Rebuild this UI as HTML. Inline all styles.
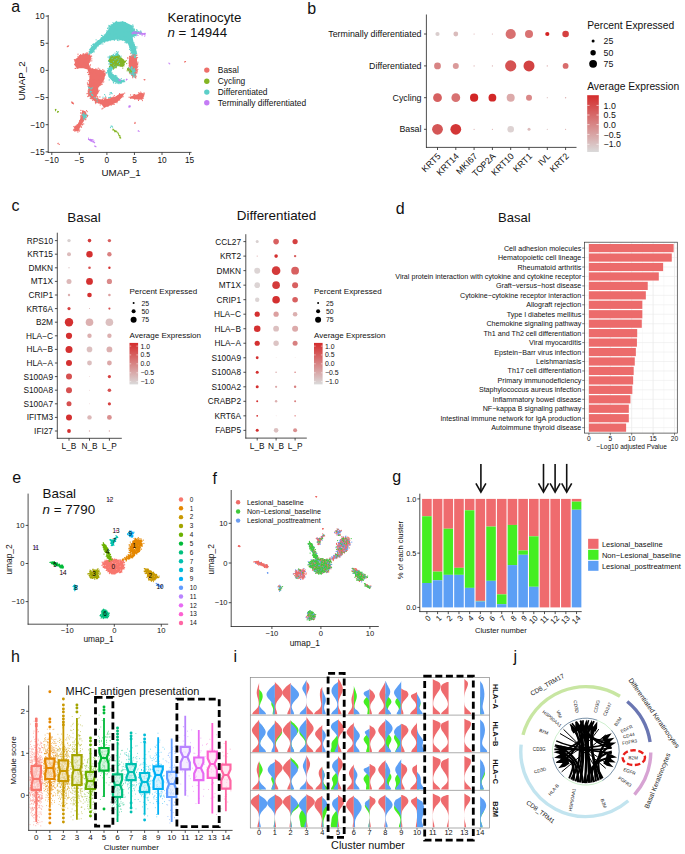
<!DOCTYPE html>
<html><head><meta charset="utf-8"><style>
html,body{margin:0;padding:0;background:#fff;width:685px;height:854px;overflow:hidden}
svg{display:block;font-family:"Liberation Sans",sans-serif}
</style></head><body>
<svg width="685" height="854" viewBox="0 0 685 854" fill="#111">
<text x="11.2" y="11.6" font-size="16">a</text>
<line x1="48.2" y1="15" x2="48.2" y2="152.8" stroke="#222" stroke-width="0.8"/>
<line x1="47.8" y1="152.4" x2="191.5" y2="152.4" stroke="#222" stroke-width="0.8"/>
<line x1="45.6" y1="16.1" x2="48.2" y2="16.1" stroke="#222" stroke-width="0.8"/>
<text x="44.5" y="19" font-size="8.3" text-anchor="end">10</text>
<line x1="45.6" y1="43.25" x2="48.2" y2="43.25" stroke="#222" stroke-width="0.8"/>
<text x="44.5" y="46.15" font-size="8.3" text-anchor="end">5</text>
<line x1="45.6" y1="70.4" x2="48.2" y2="70.4" stroke="#222" stroke-width="0.8"/>
<text x="44.5" y="73.3" font-size="8.3" text-anchor="end">0</text>
<line x1="45.6" y1="97.55" x2="48.2" y2="97.55" stroke="#222" stroke-width="0.8"/>
<text x="44.5" y="100.45" font-size="8.3" text-anchor="end">−5</text>
<line x1="45.6" y1="124.7" x2="48.2" y2="124.7" stroke="#222" stroke-width="0.8"/>
<text x="44.5" y="127.6" font-size="8.3" text-anchor="end">−10</text>
<line x1="45.6" y1="151.85" x2="48.2" y2="151.85" stroke="#222" stroke-width="0.8"/>
<text x="44.5" y="154.75" font-size="8.3" text-anchor="end">−15</text>
<line x1="51.8" y1="152.4" x2="51.8" y2="155" stroke="#222" stroke-width="0.8"/>
<text x="51.8" y="163" font-size="8.3" text-anchor="middle">−10</text>
<line x1="79.35" y1="152.4" x2="79.35" y2="155" stroke="#222" stroke-width="0.8"/>
<text x="79.35" y="163" font-size="8.3" text-anchor="middle">−5</text>
<line x1="106.9" y1="152.4" x2="106.9" y2="155" stroke="#222" stroke-width="0.8"/>
<text x="106.9" y="163" font-size="8.3" text-anchor="middle">0</text>
<line x1="134.45" y1="152.4" x2="134.45" y2="155" stroke="#222" stroke-width="0.8"/>
<text x="134.45" y="163" font-size="8.3" text-anchor="middle">5</text>
<line x1="162" y1="152.4" x2="162" y2="155" stroke="#222" stroke-width="0.8"/>
<text x="162" y="163" font-size="8.3" text-anchor="middle">10</text>
<line x1="189.55" y1="152.4" x2="189.55" y2="155" stroke="#222" stroke-width="0.8"/>
<text x="189.55" y="163" font-size="8.3" text-anchor="middle">15</text>
<text x="121" y="176" font-size="9.8" text-anchor="middle">UMAP_1</text>
<text x="24.5" y="81" font-size="9.8" text-anchor="middle" transform="rotate(-90 24.5 81)">UMAP_2</text>
<text x="167.5" y="21.5" font-size="13.3">Keratinocyte</text>
<text x="167.5" y="37.4" font-size="13.3"><tspan font-style="italic">n</tspan> = 14944</text>
<circle cx="206.8" cy="70.1" r="2.7" fill="#ee6f6a"/>
<text x="217.8" y="73.1" font-size="8.4">Basal</text>
<circle cx="206.8" cy="81.3" r="2.7" fill="#84b523"/>
<text x="217.8" y="84.3" font-size="8.4">Cycling</text>
<circle cx="206.8" cy="92.1" r="2.7" fill="#5ccfc8"/>
<text x="217.8" y="95.1" font-size="8.4">Differentiated</text>
<circle cx="206.8" cy="102.8" r="2.7" fill="#c47cf5"/>
<text x="217.8" y="105.8" font-size="8.4">Terminally differentiated</text>
<path d="M75.7 59.3L80.0 54.9L87.7 53.4L91.4 56.4L88.8 63.6L89.9 68.0L94.3 69.1L101.9 70.2L105.4 73.9L104.1 80.1L100.8 84.5L97.6 88.4L94.3 91.0L90.5 88.8L88.8 82.3L89.9 75.7L87.7 69.6L83.3 68.2L76.8 68.2L74.3 64.7ZM88.8 90.6L92.1 95.0L97.6 98.7L103.0 99.8L108.5 98.7L115.1 96.7L119.5 93.9L124.3 93.2L122.1 97.6L117.3 102.0L110.7 105.3L104.1 107.7L101.5 104.6L95.4 102.0L91.0 98.0L87.9 94.3ZM130.4 96.5L137.0 94.5L141.3 92.6L144.0 94.1L142.7 98.7L139.2 99.8L132.6 98.7L129.3 98.0ZM129.3 55.9L134.8 54.7L136.6 57.1L137.4 64.6L135.9 76.3L132.3 77.1L130.1 70.5L128.6 63.2ZM88.5 83.6L96.5 83.6L98.7 90.9L95.8 96.8L91.4 98.2L88.5 92.4ZM82.2 110.3L85.5 111.2L87.0 115.1L83.5 121.7L80.5 126.1L78.3 131.5L74.8 130.9L74.1 127.4L77.8 123.9L81.1 117.3Z" fill="#ee6f6a"/>
<path d="M109.6 26.4L115.1 22.0L123.8 21.4L131.5 25.3L134.8 30.8L141.3 31.9L137.0 34.5L132.6 37.4L133.7 42.8L135.9 48.3L137.0 53.8L134.8 57.1L132.2 53.8L130.0 49.0L127.8 43.3L123.8 40.7L117.3 39.6L108.5 40.7L102.4 42.8L98.0 46.1L94.5 50.5L91.0 54.2L88.8 52.0L91.0 47.2L95.4 42.8L101.9 37.4L107.4 31.9ZM108.5 56.4L114.6 54.9L117.3 52.0L120.5 57.1L117.7 64.7L113.3 67.4L111.1 72.4L114.6 75.3L120.5 79.6L124.9 81.2L119.9 83.4L112.9 81.4L108.5 77.0L107.2 71.3L109.8 64.7ZM128.2 68.7L132.6 67.4L135.2 71.3L133.7 75.3L130.0 73.9ZM83.3 114.0L86.2 114.7L84.4 119.5L82.7 119.1Z" fill="#5ccfc8"/>
<path d="M110.7 57.1L119.5 55.5L125.6 61.7L122.7 66.9L117.3 66.1L114.0 69.1L110.7 65.2L109.4 60.4ZM126.9 68.2L130.8 68.7L131.7 71.8L128.2 71.3Z" fill="#84b523"/>
<path d="M132.2 31.9L139.2 32.6L145.3 33.6L144.9 35.0L139.2 34.1L132.6 33.6Z" fill="#c47cf5"/>
<path d="M77.5 64.2h0M100.3 73.5h0M93.2 72.2h0M93.5 79.6h0M80.6 55.5h0M102.8 71.1h0M85.5 59.8h0M90.2 73.3h0M80.0 57.8h0M92.2 72.9h0M101.5 80.4h0M89.7 72.4h0M86.5 58.2h0M99.9 73.6h0M81.0 66.3h0M100.0 85.4h0M90.5 56.1h0M103.7 76.6h0M91.0 88.0h0M90.8 69.6h0M104.0 73.0h0M78.1 58.6h0M83.6 62.7h0M100.1 76.1h0M93.3 71.2h0M91.5 72.7h0M79.5 55.6h0M78.2 61.7h0M78.9 66.4h0M93.7 85.0h0M97.3 81.0h0M98.9 80.0h0M97.4 75.4h0M92.3 68.5h0M88.4 70.4h0M86.4 64.9h0M90.0 70.3h0M92.4 71.8h0M90.3 72.6h0M95.6 73.3h0M92.5 86.4h0M91.0 84.3h0M90.6 57.2h0M78.9 64.3h0M79.9 59.9h0M74.7 64.5h0M89.8 74.6h0M92.3 69.0h0M76.9 59.7h0M93.4 83.8h0M80.1 63.8h0M88.9 68.1h0M92.1 89.7h0M91.8 60.8h0M87.5 72.3h0M89.3 76.0h0M75.1 68.3h0M89.3 60.5h0M90.5 58.8h0M105.3 74.9h0M87.6 53.9h0M75.9 68.4h0M80.6 54.5h0M99.7 70.0h0M88.9 74.4h0M89.4 55.4h0M74.9 60.2h0M85.9 53.4h0M89.4 62.2h0M104.0 70.4h0M85.6 54.6h0M96.9 69.3h0M77.6 68.2h0M104.9 73.4h0M90.4 60.9h0M95.4 70.4h0M91.7 56.1h0M103.8 78.5h0M88.3 80.7h0M100.9 84.7h0M79.4 57.7h0M89.9 67.7h0M101.0 84.2h0M89.9 65.8h0M91.8 58.8h0M87.4 64.9h0M90.4 78.5h0M83.3 54.4h0M91.4 88.9h0M99.7 69.0h0M90.5 59.6h0M96.7 89.6h0M82.4 67.0h0M75.9 60.3h0M89.8 56.1h0M75.0 61.4h0M89.0 53.1h0M89.8 86.9h0M91.3 89.3h0M89.0 72.3h0M76.2 59.1h0M75.6 59.8h0M90.0 79.4h0M89.9 83.1h0M98.2 68.2h0M90.5 64.8h0M102.8 69.7h0M89.7 82.7h0M105.2 72.9h0M100.3 70.3h0M82.8 54.1h0M90.4 87.1h0M103.8 81.8h0M102.8 82.1h0M93.7 69.4h0M90.5 68.0h0M92.7 90.7h0M102.6 79.6h0M93.0 70.5h0M83.8 53.7h0M88.4 74.6h0M87.0 52.5h0M104.8 71.6h0M81.1 55.4h0M91.4 56.2h0M89.7 54.4h0M80.8 55.5h0M94.9 69.5h0M76.0 63.5h0M78.0 54.2h0M102.2 84.2h0M102.9 71.8h0M75.6 63.3h0M97.7 88.7h0M89.9 61.0h0M75.3 60.1h0M89.7 66.5h0M88.9 71.5h0M90.1 77.3h0M91.3 69.6h0M89.3 68.8h0M95.8 68.8h0M74.4 59.7h0M89.0 72.9h0M77.9 68.3h0M85.8 54.7h0M78.0 56.3h0M103.6 71.6h0M74.9 60.5h0M91.2 85.4h0M88.3 69.9h0M88.4 63.2h0M100.9 70.9h0M93.9 88.8h0M86.7 54.3h0M101.2 84.0h0M90.2 96.3h0M110.9 104.6h0M105.3 101.9h0M107.1 100.3h0M119.6 95.1h0M96.9 98.9h0M106.8 100.8h0M119.2 99.5h0M118.5 97.9h0M108.7 104.2h0M90.0 94.7h0M98.3 102.9h0M115.7 102.1h0M101.9 103.0h0M104.0 104.8h0M88.7 92.3h0M107.8 101.7h0M93.8 98.8h0M89.4 93.3h0M89.3 93.7h0M109.5 99.4h0M115.9 101.2h0M106.2 101.7h0M118.3 95.3h0M111.7 97.9h0M114.7 97.4h0M113.1 97.4h0M95.5 102.6h0M119.7 100.0h0M89.9 93.0h0M105.6 105.9h0M113.2 97.0h0M91.3 94.3h0M87.8 96.3h0M119.6 93.7h0M124.7 93.0h0M105.4 99.5h0M105.8 98.7h0M117.5 96.4h0M96.6 102.2h0M107.9 106.4h0M91.4 91.8h0M112.7 97.9h0M122.9 96.8h0M92.8 100.2h0M105.0 106.5h0M111.3 105.1h0M119.4 94.9h0M110.7 97.7h0M104.8 99.4h0M90.3 98.4h0M88.6 90.8h0M111.7 98.1h0M95.2 96.7h0M100.2 104.9h0M117.5 100.4h0M117.0 102.7h0M104.7 98.1h0M103.0 108.2h0M88.6 96.1h0M123.0 96.4h0M87.0 93.7h0M102.0 108.9h0M102.4 99.3h0M88.7 92.0h0M123.0 94.6h0M91.2 98.8h0M97.7 96.9h0M98.0 98.3h0M104.6 99.6h0M114.2 104.3h0M121.4 95.0h0M92.5 95.0h0M112.9 104.4h0M89.0 91.6h0M93.9 99.4h0M102.0 100.2h0M119.9 94.4h0M104.2 107.0h0M88.5 95.7h0M97.3 96.5h0M105.9 97.7h0M106.8 99.7h0M95.4 102.5h0M116.9 101.6h0M95.8 103.6h0M114.3 95.5h0M99.9 96.9h0M108.9 98.7h0M91.2 96.2h0M95.7 97.1h0M97.0 98.1h0M113.3 96.9h0M95.6 102.0h0M103.2 98.6h0M88.1 90.9h0M119.7 94.0h0M87.8 96.5h0M93.0 95.9h0M119.9 95.0h0M95.5 96.4h0M92.3 96.2h0M92.6 100.2h0M90.8 95.7h0M106.6 99.7h0M136.5 95.4h0M138.5 96.3h0M139.7 95.7h0M143.3 95.6h0M142.7 94.2h0M141.2 99.3h0M138.8 92.6h0M139.1 93.6h0M138.6 98.8h0M143.4 98.1h0M142.0 98.1h0M138.5 100.4h0M142.2 98.1h0M141.5 98.7h0M142.4 100.5h0M143.8 93.1h0M144.0 94.6h0M130.8 98.4h0M143.7 95.4h0M134.8 94.5h0M142.4 97.5h0M134.6 99.1h0M135.3 98.7h0M133.8 95.9h0M140.7 92.1h0M144.0 94.1h0M129.1 97.2h0M144.3 93.0h0M133.3 94.8h0M143.6 96.5h0M139.8 93.3h0M135.1 94.9h0M134.5 94.6h0M139.4 95.0h0M130.6 94.9h0M134.1 95.7h0M142.2 98.9h0M132.4 62.6h0M132.3 68.9h0M132.2 67.5h0M131.8 69.7h0M134.9 63.1h0M136.9 71.7h0M132.8 64.8h0M132.4 74.7h0M132.9 72.7h0M132.0 55.2h0M135.5 72.0h0M129.5 56.3h0M135.3 65.6h0M132.8 67.7h0M136.1 58.2h0M130.9 60.8h0M129.2 70.2h0M137.9 63.8h0M130.5 68.7h0M135.4 55.6h0M136.1 70.4h0M136.4 66.8h0M131.6 75.2h0M137.3 71.0h0M135.9 70.1h0M136.6 59.8h0M136.1 55.4h0M134.6 73.2h0M137.5 64.7h0M137.2 64.1h0M131.0 70.8h0M132.5 54.9h0M129.9 73.5h0M135.0 77.0h0M131.5 73.0h0M133.3 55.3h0M132.1 74.1h0M135.8 77.9h0M134.8 76.8h0M135.6 77.1h0M136.6 57.9h0M136.3 58.0h0M128.8 69.2h0M130.8 53.6h0M137.9 62.2h0M136.2 76.2h0M127.9 58.5h0M137.1 63.7h0M131.9 73.4h0M129.6 63.0h0M135.6 57.8h0M137.3 67.4h0M137.8 66.2h0M137.1 70.2h0M137.0 55.0h0M134.2 54.7h0M137.0 72.9h0M129.0 65.9h0M136.2 59.1h0M132.7 77.7h0M137.6 57.5h0M127.8 57.6h0M136.1 72.9h0M137.8 69.2h0M89.6 92.3h0M95.6 86.6h0M92.1 95.7h0M90.1 84.9h0M93.8 91.7h0M89.9 91.4h0M90.5 89.7h0M90.3 96.3h0M93.0 95.0h0M90.9 94.8h0M88.5 89.3h0M93.9 86.7h0M96.8 96.1h0M98.6 91.6h0M97.4 91.0h0M94.4 82.8h0M91.9 95.5h0M96.4 84.3h0M89.9 82.4h0M88.2 86.4h0M88.6 84.7h0M90.3 93.3h0M96.1 86.9h0M90.2 94.7h0M87.4 82.9h0M94.8 98.1h0M95.5 85.4h0M96.9 94.0h0M93.7 97.3h0M96.1 95.6h0M97.1 91.9h0M94.3 96.9h0M87.3 93.5h0M89.8 87.2h0M90.6 83.1h0M87.9 84.2h0M98.7 86.7h0M95.1 96.7h0M92.7 95.8h0M91.9 98.1h0M97.7 93.0h0M99.1 90.3h0M88.3 92.2h0M88.8 87.0h0M97.5 92.0h0M87.8 84.8h0M97.9 92.7h0M90.9 82.8h0M97.3 93.6h0M75.7 126.4h0M78.0 126.8h0M81.7 117.7h0M82.9 118.9h0M78.5 123.9h0M83.3 117.9h0M81.0 124.4h0M79.7 120.6h0M81.4 118.8h0M84.7 113.1h0M82.4 124.2h0M74.8 127.5h0M79.1 124.0h0M74.2 130.1h0M80.5 112.9h0M87.1 115.4h0M80.9 110.4h0M74.8 127.0h0M82.1 112.9h0M80.9 116.8h0M87.8 115.3h0M79.8 127.6h0M77.0 125.5h0M77.9 132.1h0M79.8 129.9h0M86.5 110.5h0M81.5 127.2h0M80.5 115.8h0M80.8 113.1h0M78.4 129.9h0M79.3 131.1h0M81.7 115.6h0M86.1 117.5h0M82.3 124.9h0M75.3 130.2h0M85.7 118.9h0M87.4 116.6h0M80.1 126.1h0M74.9 131.2h0M79.0 126.0h0M76.0 127.7h0M74.5 129.3h0M87.2 111.7h0M74.1 129.2h0M85.7 119.7h0M80.8 117.9h0M83.3 112.2h0M75.3 126.0h0M82.8 112.9h0M83.7 123.9h0M73.8 126.5h0M83.0 111.2h0M81.0 126.2h0M82.4 115.5h0M80.7 119.8h0M73.4 130.0h0M77.2 124.7h0M67.7 46.2h0M68.6 45.8h0M68.3 46.3h0M68.4 46.1h0M67.3 46.7h0M72.7 102.4h0M72.4 102.9h0M73.5 103.8h0M72.4 102.9h0M72.7 103.2h0M72.7 102.9h0M71.8 102.0h0M71.6 102.2h0M72.3 103.4h0M73.2 103.2h0M59.2 144.4h0M58.1 143.3h0M58.2 143.3h0M57.9 143.6h0M135.0 122.4h0M134.8 123.4h0M135.2 122.9h0M144.9 79.5h0M144.1 79.6h0M144.7 79.9h0M185.3 61.7h0M184.6 61.9h0M185.5 61.5h0" stroke="#ee6f6a" stroke-width="1.25" stroke-linecap="round"/>
<path d="M122.7 23.9h0M119.2 35.5h0M134.0 31.8h0M98.1 41.9h0M117.8 23.7h0M124.4 37.0h0M112.7 31.6h0M101.0 41.8h0M127.3 31.6h0M129.2 41.7h0M119.7 37.1h0M91.4 45.7h0M131.7 31.8h0M92.0 49.0h0M131.8 52.5h0M100.9 38.6h0M124.8 23.0h0M134.5 50.1h0M94.3 44.1h0M90.0 52.5h0M113.4 38.7h0M133.1 27.3h0M116.5 26.6h0M134.1 46.5h0M133.8 49.7h0M100.7 39.9h0M93.7 44.7h0M128.4 38.9h0M127.0 27.6h0M107.2 41.0h0M132.2 29.2h0M101.4 42.6h0M106.8 37.4h0M116.1 22.1h0M126.7 41.6h0M128.9 39.3h0M120.5 39.4h0M96.8 46.8h0M135.3 56.6h0M110.3 38.7h0M116.0 33.7h0M118.2 37.1h0M122.4 40.0h0M90.9 49.3h0M132.2 31.2h0M125.6 36.9h0M92.0 52.3h0M116.6 30.0h0M128.5 31.7h0M127.4 41.4h0M131.3 36.8h0M109.1 38.7h0M110.2 33.8h0M92.5 48.0h0M93.5 51.1h0M104.4 38.1h0M113.8 39.7h0M109.4 33.0h0M91.4 50.9h0M130.5 50.6h0M130.3 48.1h0M123.4 23.5h0M127.1 27.9h0M114.3 35.1h0M129.0 43.3h0M127.8 32.2h0M124.0 31.7h0M113.5 25.5h0M112.6 31.7h0M100.1 42.4h0M132.3 39.2h0M112.7 32.4h0M136.0 31.9h0M107.7 36.8h0M115.1 28.7h0M93.9 43.7h0M97.9 41.1h0M102.8 43.9h0M135.2 55.3h0M140.0 34.3h0M122.3 21.6h0M136.5 32.6h0M140.3 31.2h0M126.4 42.9h0M128.6 25.3h0M131.4 53.1h0M106.6 32.4h0M132.8 26.8h0M117.2 22.5h0M126.1 40.7h0M135.5 51.4h0M134.5 45.5h0M139.9 32.9h0M129.5 49.3h0M134.1 30.3h0M134.1 49.4h0M90.1 49.2h0M108.9 25.3h0M132.9 54.8h0M136.9 46.8h0M91.1 48.2h0M120.6 22.5h0M108.4 40.7h0M112.8 39.2h0M129.0 43.5h0M137.3 30.5h0M136.2 35.7h0M114.4 39.5h0M113.0 22.7h0M135.5 48.0h0M107.8 31.1h0M101.6 35.4h0M132.8 55.1h0M102.6 35.8h0M107.5 28.6h0M136.6 53.2h0M98.5 40.5h0M131.9 39.7h0M133.0 26.0h0M131.1 52.2h0M135.0 35.5h0M134.6 29.8h0M101.3 37.5h0M133.7 31.4h0M101.9 38.4h0M134.3 29.2h0M112.4 25.1h0M96.0 42.3h0M107.8 31.9h0M132.8 24.9h0M109.0 26.4h0M134.2 45.2h0M107.4 32.2h0M103.7 38.5h0M132.5 29.7h0M89.6 53.2h0M131.7 56.0h0M131.1 27.8h0M108.0 28.1h0M96.1 48.8h0M113.6 23.4h0M98.5 45.8h0M141.3 32.3h0M140.9 31.2h0M141.1 32.9h0M96.1 39.8h0M109.0 29.1h0M103.1 36.7h0M138.4 31.9h0M99.4 41.3h0M99.7 44.1h0M118.9 40.5h0M133.8 42.6h0M132.6 26.5h0M114.3 23.7h0M134.4 37.0h0M106.0 33.6h0M116.7 21.8h0M135.6 56.8h0M116.6 38.4h0M89.7 49.3h0M89.2 51.5h0M134.4 44.1h0M138.7 31.9h0M92.8 44.4h0M136.8 48.1h0M136.5 29.9h0M107.1 33.5h0M91.1 51.9h0M110.1 26.4h0M133.0 25.8h0M98.0 40.9h0M135.2 57.6h0M101.9 38.8h0M117.4 40.3h0M125.4 22.7h0M120.2 39.7h0M107.5 31.2h0M131.3 25.9h0M92.6 52.2h0M118.0 22.4h0M114.5 40.2h0M104.6 42.2h0M135.9 35.4h0M125.0 42.5h0M91.9 47.1h0M132.5 26.6h0M108.5 30.5h0M88.6 54.2h0M134.3 56.5h0M126.5 41.8h0M116.2 21.4h0M130.9 50.8h0M129.8 47.6h0M132.2 50.4h0M133.9 28.5h0M104.3 34.8h0M97.2 41.3h0M117.4 39.2h0M94.1 51.9h0M90.1 49.3h0M133.5 30.6h0M135.5 46.7h0M101.0 43.9h0M126.1 42.0h0M90.1 51.7h0M127.3 42.8h0M135.9 51.6h0M110.1 40.6h0M108.2 27.7h0M136.8 29.7h0M134.8 57.5h0M120.3 22.3h0M116.3 22.2h0M110.0 25.7h0M99.9 43.9h0M111.2 24.5h0M102.7 38.8h0M106.8 30.9h0M133.2 26.5h0M102.8 36.7h0M93.9 51.3h0M115.0 59.7h0M110.2 71.1h0M113.4 61.7h0M112.9 74.9h0M111.8 58.6h0M118.3 82.8h0M117.4 62.2h0M113.4 56.5h0M107.9 71.0h0M123.6 81.8h0M118.5 61.1h0M113.1 65.3h0M112.0 74.7h0M114.6 76.7h0M116.8 58.7h0M121.1 82.7h0M116.1 77.4h0M113.3 78.9h0M112.1 58.4h0M109.7 72.3h0M114.4 64.3h0M108.4 74.5h0M121.1 56.1h0M116.4 65.4h0M110.3 71.1h0M115.9 81.8h0M119.5 63.4h0M124.1 81.0h0M112.5 68.5h0M109.9 56.1h0M119.3 55.4h0M120.9 82.6h0M114.2 55.7h0M115.0 75.9h0M117.7 52.8h0M109.8 56.1h0M117.0 65.9h0M117.6 83.1h0M124.1 81.1h0M116.0 66.4h0M112.6 80.5h0M122.7 80.7h0M119.6 80.4h0M106.6 73.1h0M116.2 82.7h0M120.0 82.2h0M121.7 81.9h0M123.3 81.0h0M123.5 80.9h0M113.5 80.5h0M118.8 56.1h0M121.2 80.9h0M107.9 71.8h0M113.4 82.3h0M109.9 67.1h0M115.0 53.0h0M115.3 75.7h0M115.8 75.4h0M124.2 79.9h0M114.0 67.1h0M121.2 83.2h0M112.0 55.7h0M108.9 60.4h0M108.9 63.9h0M120.7 83.3h0M118.2 51.8h0M115.3 76.9h0M115.1 66.8h0M114.6 80.7h0M110.7 71.9h0M107.9 68.7h0M111.5 78.8h0M119.3 59.2h0M109.2 79.9h0M120.1 57.4h0M112.9 68.5h0M119.0 83.7h0M118.6 60.1h0M123.2 80.1h0M107.6 70.6h0M111.7 78.3h0M113.4 54.4h0M111.6 63.5h0M124.7 81.7h0M113.2 56.7h0M119.0 65.2h0M113.7 82.9h0M121.3 78.7h0M108.2 72.4h0M116.6 51.5h0M115.8 83.3h0M117.0 77.6h0M112.5 55.4h0M111.9 72.7h0M111.4 73.5h0M110.2 63.4h0M116.8 76.2h0M114.5 66.6h0M108.0 57.0h0M108.5 61.4h0M106.4 72.6h0M112.1 74.8h0M109.1 60.6h0M130.1 71.0h0M129.2 71.0h0M133.3 76.7h0M131.2 67.6h0M134.6 68.5h0M133.7 75.1h0M128.5 67.7h0M135.3 74.6h0M132.2 74.7h0M130.1 68.3h0M130.8 73.8h0M134.9 73.8h0M134.0 69.9h0M134.4 69.9h0M133.7 72.1h0M129.3 71.9h0M135.1 73.5h0M131.7 66.6h0M134.1 70.4h0M131.9 68.3h0M135.4 71.1h0M134.6 69.9h0M133.8 69.9h0M90.3 91.4h0M91.6 94.6h0M132.5 67.5h0M92.9 95.1h0M134.3 77.0h0M90.5 88.8h0M91.5 88.7h0M132.7 72.8h0M88.6 87.0h0M90.4 97.2h0M133.0 73.3h0M129.7 69.1h0M90.6 91.6h0M90.0 92.8h0M132.4 73.9h0M135.2 75.8h0M131.2 69.1h0M133.6 69.9h0M133.2 71.0h0M92.2 87.7h0M89.5 87.8h0M88.9 87.4h0M131.6 70.2h0M90.1 91.1h0M132.6 74.0h0M130.4 70.9h0M132.0 69.3h0M89.0 88.0h0M132.4 72.1h0M92.3 95.4h0M132.8 71.3h0M89.8 87.5h0M134.1 74.9h0M91.7 91.5h0M90.8 92.1h0M90.2 91.2h0M133.4 75.6h0M131.6 74.4h0M132.0 67.8h0M82.4 115.5h0M83.4 117.7h0M86.7 114.9h0M86.8 115.0h0M86.4 115.3h0M85.8 116.7h0M83.7 119.6h0M86.3 115.8h0M84.0 113.8h0M85.0 117.2h0M86.1 117.6h0M83.6 113.1h0M82.4 114.5h0M110.5 127.6h0M111.1 126.2h0M111.9 126.2h0M112.6 127.1h0M111.5 92.9h0M110.5 92.9h0M112.1 93.7h0M111.4 92.7h0M110.1 97.4h0M110.3 97.2h0M109.8 97.5h0M92.3 94.9h0M91.7 94.1h0M97.0 99.3h0M104.6 94.5h0M96.1 98.3h0M109.9 94.6h0M103.0 97.2h0M110.1 92.9h0M108.7 97.7h0M97.2 101.2h0M94.4 97.7h0M105.6 96.2h0" stroke="#5ccfc8" stroke-width="1.25" stroke-linecap="round"/>
<path d="M122.8 63.2h0M108.9 60.4h0M125.1 62.1h0M119.9 58.5h0M121.0 58.6h0M118.8 65.4h0M114.8 66.1h0M117.0 56.7h0M116.9 65.2h0M115.0 64.0h0M116.2 66.0h0M119.4 59.9h0M115.4 63.7h0M118.5 60.1h0M114.9 64.4h0M122.7 59.4h0M116.5 62.8h0M110.9 57.2h0M110.9 65.9h0M112.4 65.6h0M110.3 64.6h0M123.3 65.6h0M115.7 67.7h0M120.8 65.9h0M116.8 57.3h0M113.5 69.0h0M113.4 67.8h0M123.8 65.9h0M122.8 65.0h0M116.2 56.6h0M116.2 67.2h0M123.7 60.2h0M110.9 58.4h0M111.2 55.8h0M113.9 56.0h0M124.2 64.7h0M110.1 60.1h0M122.8 68.1h0M126.2 60.5h0M113.6 67.8h0M110.2 59.2h0M112.1 57.3h0M109.5 66.5h0M111.5 64.9h0M125.4 61.4h0M118.1 55.1h0M109.5 61.7h0M126.7 63.5h0M109.5 61.0h0M118.1 57.0h0M110.7 64.5h0M113.7 68.0h0M110.0 61.2h0M116.2 67.7h0M119.5 56.0h0M111.8 57.4h0M112.5 56.7h0M119.1 56.7h0M109.5 59.3h0M131.3 71.6h0M129.1 69.4h0M130.6 70.4h0M129.6 71.8h0M127.5 69.7h0M131.2 71.1h0M129.9 72.4h0M127.1 70.8h0M128.7 69.2h0M128.3 68.1h0M130.1 71.9h0M131.6 71.6h0M127.5 68.9h0M55.5 110.0h0M55.4 109.7h0M55.6 110.7h0M55.9 109.4h0M57.8 111.4h0M58.4 111.7h0M57.5 112.2h0M57.9 111.9h0M114.7 131.7h0M113.0 130.1h0M120.7 138.0h0M118.5 133.8h0M119.1 135.5h0M113.0 129.2h0M116.0 130.9h0M117.9 133.0h0M118.7 134.7h0M113.9 129.8h0M114.6 130.6h0M120.2 137.0h0M119.3 135.5h0M115.2 131.7h0M117.1 132.1h0M119.7 137.7h0M113.3 129.3h0M119.9 135.6h0M115.8 131.2h0M120.4 137.3h0M118.0 133.2h0M115.3 131.0h0M116.2 131.4h0M115.1 130.8h0M120.5 137.0h0M116.3 131.5h0M119.3 135.9h0M118.1 133.1h0M119.3 136.0h0M119.3 135.6h0" stroke="#84b523" stroke-width="1.25" stroke-linecap="round"/>
<path d="M134.2 33.3h0M137.2 32.4h0M132.5 33.1h0M133.7 32.2h0M135.3 31.8h0M144.7 33.3h0M135.3 33.5h0M138.0 35.4h0M142.1 35.6h0M139.0 32.4h0M140.7 32.0h0M135.4 32.0h0M137.7 35.1h0M132.0 33.1h0M139.5 32.6h0M134.0 31.6h0M145.3 33.3h0M136.8 32.2h0M132.3 33.9h0M140.7 33.9h0M144.7 36.0h0M145.2 34.8h0M137.5 32.7h0M143.9 33.7h0M141.8 33.2h0M142.1 34.4h0M169.7 63.8h0M168.9 63.1h0M138.6 130.9h0M138.2 130.9h0M139.1 131.3h0M128.9 106.2h0M130.0 106.8h0M129.9 105.6h0M129.7 106.6h0M129.0 107.2h0M129.7 106.9h0M130.2 106.2h0M129.5 106.4h0M95.9 146.7h0M94.9 145.9h0M94.9 146.3h0M118.9 80.0h0M120.2 80.1h0M119.8 79.5h0M119.9 79.8h0M120.2 80.7h0M119.8 80.1h0M126.7 79.4h0M127.0 79.4h0M126.4 79.3h0M126.3 80.1h0M126.4 79.8h0M89.6 139.9h0M91.1 141.2h0M88.5 138.0h0M90.7 139.7h0M88.5 139.4h0M89.8 139.5h0M89.8 140.0h0M90.0 139.4h0M92.1 140.1h0M89.4 140.0h0M92.9 139.6h0M94.6 142.7h0M91.7 141.0h0M93.6 142.0h0M90.8 139.4h0M93.4 141.6h0M90.8 140.7h0M92.0 141.2h0M91.5 140.5h0M92.2 141.0h0M91.3 139.7h0M89.3 139.6h0M93.0 141.9h0M93.9 140.9h0M91.1 139.8h0" stroke="#c47cf5" stroke-width="1.25" stroke-linecap="round"/>
<text x="307.3" y="13.8" font-size="16">b</text>
<line x1="426.4" y1="14.5" x2="426.4" y2="147.8" stroke="#222" stroke-width="0.8"/>
<line x1="426" y1="147.4" x2="576.5" y2="147.4" stroke="#222" stroke-width="0.8"/>
<line x1="424" y1="34" x2="426.4" y2="34" stroke="#222" stroke-width="0.8"/>
<text x="421.5" y="37.1" font-size="8.85" text-anchor="end">Terminally differentiated</text>
<line x1="424" y1="65.9" x2="426.4" y2="65.9" stroke="#222" stroke-width="0.8"/>
<text x="421.5" y="69" font-size="8.85" text-anchor="end">Differentiated</text>
<line x1="424" y1="97.7" x2="426.4" y2="97.7" stroke="#222" stroke-width="0.8"/>
<text x="421.5" y="100.8" font-size="8.85" text-anchor="end">Cycling</text>
<line x1="424" y1="129.3" x2="426.4" y2="129.3" stroke="#222" stroke-width="0.8"/>
<text x="421.5" y="132.4" font-size="8.85" text-anchor="end">Basal</text>
<line x1="437.5" y1="147.4" x2="437.5" y2="150" stroke="#222" stroke-width="0.8"/>
<text x="441.3" y="156.8" font-size="8.9" text-anchor="end" transform="rotate(-45 441.3 156.8)">KRT5</text>
<line x1="455.8" y1="147.4" x2="455.8" y2="150" stroke="#222" stroke-width="0.8"/>
<text x="459.6" y="156.8" font-size="8.9" text-anchor="end" transform="rotate(-45 459.6 156.8)">KRT14</text>
<line x1="474.1" y1="147.4" x2="474.1" y2="150" stroke="#222" stroke-width="0.8"/>
<text x="477.9" y="156.8" font-size="8.9" text-anchor="end" transform="rotate(-45 477.9 156.8)">MKI67</text>
<line x1="492.4" y1="147.4" x2="492.4" y2="150" stroke="#222" stroke-width="0.8"/>
<text x="496.2" y="156.8" font-size="8.9" text-anchor="end" transform="rotate(-45 496.2 156.8)">TOP2A</text>
<line x1="510.7" y1="147.4" x2="510.7" y2="150" stroke="#222" stroke-width="0.8"/>
<text x="514.5" y="156.8" font-size="8.9" text-anchor="end" transform="rotate(-45 514.5 156.8)">KRT10</text>
<line x1="529" y1="147.4" x2="529" y2="150" stroke="#222" stroke-width="0.8"/>
<text x="532.8" y="156.8" font-size="8.9" text-anchor="end" transform="rotate(-45 532.8 156.8)">KRT1</text>
<line x1="547.3" y1="147.4" x2="547.3" y2="150" stroke="#222" stroke-width="0.8"/>
<text x="551.1" y="156.8" font-size="8.9" text-anchor="end" transform="rotate(-45 551.1 156.8)">IVL</text>
<line x1="565.6" y1="147.4" x2="565.6" y2="150" stroke="#222" stroke-width="0.8"/>
<text x="569.4" y="156.8" font-size="8.9" text-anchor="end" transform="rotate(-45 569.4 156.8)">KRT2</text>
<circle cx="437.5" cy="34" r="2.1" fill="#d9cdcd"/>
<circle cx="455.8" cy="34" r="2.4" fill="#dabcbc"/>
<circle cx="474.1" cy="34" r="0.6" fill="#dcb0b0"/>
<circle cx="492.4" cy="34" r="0.6" fill="#dcb0b0"/>
<circle cx="510.7" cy="34" r="5.1" fill="#d87070"/>
<circle cx="529" cy="34" r="4" fill="#d97272"/>
<circle cx="547.3" cy="34" r="2.1" fill="#d42222"/>
<circle cx="565.6" cy="34" r="3.3" fill="#d54040"/>
<circle cx="437.5" cy="65.9" r="3.4" fill="#d88484"/>
<circle cx="455.8" cy="65.9" r="3" fill="#da9a9a"/>
<circle cx="474.1" cy="65.9" r="0.6" fill="#dcb0b0"/>
<circle cx="492.4" cy="65.9" r="0.6" fill="#dcb0b0"/>
<circle cx="510.7" cy="65.9" r="5.6" fill="#d55252"/>
<circle cx="529" cy="65.9" r="5.5" fill="#d24242"/>
<circle cx="547.3" cy="65.9" r="0.7" fill="#dcb0b0"/>
<circle cx="565.6" cy="65.9" r="2.9" fill="#d86c6c"/>
<circle cx="437.5" cy="97.7" r="4.4" fill="#d66060"/>
<circle cx="455.8" cy="97.7" r="4.4" fill="#d87272"/>
<circle cx="474.1" cy="97.7" r="4.1" fill="#d22626"/>
<circle cx="492.4" cy="97.7" r="3.9" fill="#d22828"/>
<circle cx="510.7" cy="97.7" r="4" fill="#dcaaaa"/>
<circle cx="529" cy="97.7" r="3" fill="#da8888"/>
<circle cx="547.3" cy="97.7" r="0.6" fill="#dcc0c0"/>
<circle cx="565.6" cy="97.7" r="0.7" fill="#dcb0b0"/>
<circle cx="437.5" cy="129.3" r="5.4" fill="#d45656"/>
<circle cx="455.8" cy="129.3" r="5.4" fill="#d33636"/>
<circle cx="474.1" cy="129.3" r="0.6" fill="#dcb0b0"/>
<circle cx="492.4" cy="129.3" r="0.6" fill="#dcb0b0"/>
<circle cx="510.7" cy="129.3" r="3.3" fill="#ddd2d2"/>
<circle cx="529" cy="129.3" r="1.5" fill="#dcbcbc"/>
<circle cx="547.3" cy="129.3" r="0.6" fill="#dcc4c4"/>
<circle cx="565.6" cy="129.3" r="0.6" fill="#dcb0b0"/>
<text x="587.2" y="29" font-size="10.3">Percent Expressed</text>
<circle cx="593.1" cy="41" r="1.5" fill="#000"/>
<text x="603.6" y="44.4" font-size="8.8">25</text>
<circle cx="593.1" cy="52.7" r="2.7" fill="#000"/>
<text x="603.6" y="56.1" font-size="8.8">50</text>
<circle cx="593.1" cy="63.8" r="3.9" fill="#000"/>
<text x="603.6" y="67.2" font-size="8.8">75</text>
<text x="587.2" y="89.5" font-size="10.3">Average Expression</text>
<defs><linearGradient id="gb" x1="0" y1="0" x2="0" y2="1"><stop offset="0" stop-color="#d42c2c"/><stop offset="1" stop-color="#dadada"/></linearGradient></defs>
<rect x="587.2" y="95.2" width="11.6" height="56.8" fill="url(#gb)"/>
<line x1="587.2" y1="105.4" x2="589.5" y2="105.4" stroke="#fff" stroke-width="0.6"/>
<line x1="596.5" y1="105.4" x2="598.8" y2="105.4" stroke="#fff" stroke-width="0.6"/>
<text x="603.6" y="108.5" font-size="8.8">1.0</text>
<line x1="587.2" y1="115" x2="589.5" y2="115" stroke="#fff" stroke-width="0.6"/>
<line x1="596.5" y1="115" x2="598.8" y2="115" stroke="#fff" stroke-width="0.6"/>
<text x="603.6" y="118.1" font-size="8.8">0.5</text>
<line x1="587.2" y1="124.6" x2="589.5" y2="124.6" stroke="#fff" stroke-width="0.6"/>
<line x1="596.5" y1="124.6" x2="598.8" y2="124.6" stroke="#fff" stroke-width="0.6"/>
<text x="603.6" y="127.7" font-size="8.8">0.0</text>
<line x1="587.2" y1="134.4" x2="589.5" y2="134.4" stroke="#fff" stroke-width="0.6"/>
<line x1="596.5" y1="134.4" x2="598.8" y2="134.4" stroke="#fff" stroke-width="0.6"/>
<text x="603.6" y="137.5" font-size="8.8">−0.5</text>
<line x1="587.2" y1="144.3" x2="589.5" y2="144.3" stroke="#fff" stroke-width="0.6"/>
<line x1="596.5" y1="144.3" x2="598.8" y2="144.3" stroke="#fff" stroke-width="0.6"/>
<text x="603.6" y="147.4" font-size="8.8">−1.0</text>
<text x="11.4" y="211" font-size="16">c</text>
<text x="84" y="221.6" font-size="13.4" text-anchor="middle">Basal</text>
<line x1="57.3" y1="232.7" x2="57.3" y2="438.7" stroke="#222" stroke-width="0.8"/>
<line x1="56.9" y1="438.3" x2="121.8" y2="438.3" stroke="#222" stroke-width="0.8"/>
<line x1="54.9" y1="240.6" x2="57.3" y2="240.6" stroke="#222" stroke-width="0.8"/>
<text x="53" y="243.5" font-size="8.3" text-anchor="end">RPS10</text>
<line x1="54.9" y1="254.2" x2="57.3" y2="254.2" stroke="#222" stroke-width="0.8"/>
<text x="53" y="257.1" font-size="8.3" text-anchor="end">KRT15</text>
<line x1="54.9" y1="267.8" x2="57.3" y2="267.8" stroke="#222" stroke-width="0.8"/>
<text x="53" y="270.7" font-size="8.3" text-anchor="end">DMKN</text>
<line x1="54.9" y1="281.4" x2="57.3" y2="281.4" stroke="#222" stroke-width="0.8"/>
<text x="53" y="284.3" font-size="8.3" text-anchor="end">MT1X</text>
<line x1="54.9" y1="295" x2="57.3" y2="295" stroke="#222" stroke-width="0.8"/>
<text x="53" y="297.9" font-size="8.3" text-anchor="end">CRIP1</text>
<line x1="54.9" y1="308.6" x2="57.3" y2="308.6" stroke="#222" stroke-width="0.8"/>
<text x="53" y="311.5" font-size="8.3" text-anchor="end">KRT6A</text>
<line x1="54.9" y1="322.2" x2="57.3" y2="322.2" stroke="#222" stroke-width="0.8"/>
<text x="53" y="325.1" font-size="8.3" text-anchor="end">B2M</text>
<line x1="54.9" y1="335.8" x2="57.3" y2="335.8" stroke="#222" stroke-width="0.8"/>
<text x="53" y="338.7" font-size="8.3" text-anchor="end">HLA−C</text>
<line x1="54.9" y1="349.4" x2="57.3" y2="349.4" stroke="#222" stroke-width="0.8"/>
<text x="53" y="352.3" font-size="8.3" text-anchor="end">HLA−B</text>
<line x1="54.9" y1="363" x2="57.3" y2="363" stroke="#222" stroke-width="0.8"/>
<text x="53" y="365.9" font-size="8.3" text-anchor="end">HLA−A</text>
<line x1="54.9" y1="376.6" x2="57.3" y2="376.6" stroke="#222" stroke-width="0.8"/>
<text x="53" y="379.5" font-size="8.3" text-anchor="end">S100A9</text>
<line x1="54.9" y1="390.2" x2="57.3" y2="390.2" stroke="#222" stroke-width="0.8"/>
<text x="53" y="393.1" font-size="8.3" text-anchor="end">S100A8</text>
<line x1="54.9" y1="403.8" x2="57.3" y2="403.8" stroke="#222" stroke-width="0.8"/>
<text x="53" y="406.7" font-size="8.3" text-anchor="end">S100A7</text>
<line x1="54.9" y1="417.4" x2="57.3" y2="417.4" stroke="#222" stroke-width="0.8"/>
<text x="53" y="420.3" font-size="8.3" text-anchor="end">IFITM3</text>
<line x1="54.9" y1="431" x2="57.3" y2="431" stroke="#222" stroke-width="0.8"/>
<text x="53" y="433.9" font-size="8.3" text-anchor="end">IFI27</text>
<line x1="69" y1="438.3" x2="69" y2="440.7" stroke="#222" stroke-width="0.8"/>
<text x="69" y="448.8" font-size="8.3" text-anchor="middle">L_B</text>
<line x1="89.5" y1="438.3" x2="89.5" y2="440.7" stroke="#222" stroke-width="0.8"/>
<text x="89.5" y="448.8" font-size="8.3" text-anchor="middle">N_B</text>
<line x1="109.4" y1="438.3" x2="109.4" y2="440.7" stroke="#222" stroke-width="0.8"/>
<text x="109.4" y="448.8" font-size="8.3" text-anchor="middle">L_P</text>
<circle cx="69" cy="240.6" r="1.7" fill="#d8d0d0"/>
<circle cx="89.5" cy="240.6" r="1.8" fill="#d43a3a"/>
<circle cx="109.4" cy="240.6" r="1.7" fill="#d86060"/>
<circle cx="69" cy="254.2" r="2" fill="#dcbcbc"/>
<circle cx="89.5" cy="254.2" r="3.2" fill="#d43030"/>
<circle cx="109.4" cy="254.2" r="2.2" fill="#da8080"/>
<circle cx="69" cy="267.8" r="0.7" fill="#dcc8c8"/>
<circle cx="89.5" cy="267.8" r="1.3" fill="#d65050"/>
<circle cx="109.4" cy="267.8" r="1.2" fill="#d43030"/>
<circle cx="69" cy="281.4" r="2.5" fill="#dcb8b8"/>
<circle cx="89.5" cy="281.4" r="3.4" fill="#d43030"/>
<circle cx="109.4" cy="281.4" r="2.6" fill="#da8a8a"/>
<circle cx="69" cy="295" r="1.2" fill="#dcb0b0"/>
<circle cx="89.5" cy="295" r="2.3" fill="#d43030"/>
<circle cx="109.4" cy="295" r="1.3" fill="#dca0a0"/>
<circle cx="69" cy="308.6" r="1.6" fill="#d64040"/>
<circle cx="89.5" cy="308.6" r="0.5" fill="#dcb0b0"/>
<circle cx="109.4" cy="308.6" r="1.1" fill="#d65050"/>
<circle cx="69" cy="322.2" r="4.2" fill="#d43030"/>
<circle cx="89.5" cy="322.2" r="3.8" fill="#dcb0b0"/>
<circle cx="109.4" cy="322.2" r="3.8" fill="#dcc0c0"/>
<circle cx="69" cy="335.8" r="3.1" fill="#d43030"/>
<circle cx="89.5" cy="335.8" r="2.2" fill="#dcb0b0"/>
<circle cx="109.4" cy="335.8" r="2.2" fill="#dcb0b0"/>
<circle cx="69" cy="349.4" r="3.5" fill="#d43030"/>
<circle cx="89.5" cy="349.4" r="2.8" fill="#dcc0c0"/>
<circle cx="109.4" cy="349.4" r="2.9" fill="#dcb0b0"/>
<circle cx="69" cy="363" r="3" fill="#d43030"/>
<circle cx="89.5" cy="363" r="2.4" fill="#dcbebe"/>
<circle cx="109.4" cy="363" r="2.4" fill="#dca8a8"/>
<circle cx="69" cy="376.6" r="3" fill="#d65050"/>
<circle cx="89.5" cy="376.6" r="0.4" fill="#dcb0b0"/>
<circle cx="109.4" cy="376.6" r="1.6" fill="#d64040"/>
<circle cx="69" cy="390.2" r="3" fill="#d65050"/>
<circle cx="89.5" cy="390.2" r="0.4" fill="#dcb0b0"/>
<circle cx="109.4" cy="390.2" r="1.8" fill="#d65050"/>
<circle cx="69" cy="403.8" r="2.5" fill="#d65050"/>
<circle cx="89.5" cy="403.8" r="0.4" fill="#dcb0b0"/>
<circle cx="109.4" cy="403.8" r="1.6" fill="#d64040"/>
<circle cx="69" cy="417.4" r="3" fill="#d43030"/>
<circle cx="89.5" cy="417.4" r="2.2" fill="#dcb8b8"/>
<circle cx="109.4" cy="417.4" r="2.4" fill="#da9090"/>
<circle cx="69" cy="431" r="1.9" fill="#d43030"/>
<circle cx="89.5" cy="431" r="0.7" fill="#dcb0b0"/>
<circle cx="109.4" cy="431" r="0.7" fill="#dcb0b0"/>
<text x="129.5" y="294.4" font-size="8">Percent Expressed</text>
<circle cx="133.6" cy="302.9" r="1" fill="#000"/>
<text x="141.5" y="305.6" font-size="6.9">25</text>
<circle cx="133.6" cy="311.2" r="2" fill="#000"/>
<text x="141.5" y="313.9" font-size="6.9">50</text>
<circle cx="133.6" cy="319.7" r="3" fill="#000"/>
<text x="141.5" y="322.4" font-size="6.9">75</text>
<text x="129.5" y="338" font-size="8">Average Expression</text>
<defs><linearGradient id="gc1" x1="0" y1="0" x2="0" y2="1"><stop offset="0" stop-color="#d42c2c"/><stop offset="1" stop-color="#dadada"/></linearGradient></defs>
<rect x="129.5" y="342.9" width="8.6" height="41.5" fill="url(#gc1)"/>
<line x1="129.5" y1="346.1" x2="131.2" y2="346.1" stroke="#fff" stroke-width="0.5"/>
<line x1="136.4" y1="346.1" x2="138.1" y2="346.1" stroke="#fff" stroke-width="0.5"/>
<text x="140.5" y="348.6" font-size="6.9">1.0</text>
<line x1="129.5" y1="354.9" x2="131.2" y2="354.9" stroke="#fff" stroke-width="0.5"/>
<line x1="136.4" y1="354.9" x2="138.1" y2="354.9" stroke="#fff" stroke-width="0.5"/>
<text x="140.5" y="357.4" font-size="6.9">0.5</text>
<line x1="129.5" y1="363.8" x2="131.2" y2="363.8" stroke="#fff" stroke-width="0.5"/>
<line x1="136.4" y1="363.8" x2="138.1" y2="363.8" stroke="#fff" stroke-width="0.5"/>
<text x="140.5" y="366.3" font-size="6.9">0.0</text>
<line x1="129.5" y1="372.8" x2="131.2" y2="372.8" stroke="#fff" stroke-width="0.5"/>
<line x1="136.4" y1="372.8" x2="138.1" y2="372.8" stroke="#fff" stroke-width="0.5"/>
<text x="140.5" y="375.3" font-size="6.9">−0.5</text>
<line x1="129.5" y1="381.6" x2="131.2" y2="381.6" stroke="#fff" stroke-width="0.5"/>
<line x1="136.4" y1="381.6" x2="138.1" y2="381.6" stroke="#fff" stroke-width="0.5"/>
<text x="140.5" y="384.1" font-size="6.9">−1.0</text>
<text x="276.5" y="220" font-size="13.4" text-anchor="middle">Differentiated</text>
<line x1="245.8" y1="234.2" x2="245.8" y2="438.5" stroke="#222" stroke-width="0.8"/>
<line x1="245.4" y1="438.1" x2="306.8" y2="438.1" stroke="#222" stroke-width="0.8"/>
<line x1="243.4" y1="241.6" x2="245.8" y2="241.6" stroke="#222" stroke-width="0.8"/>
<text x="241" y="244.5" font-size="8.3" text-anchor="end">CCL27</text>
<line x1="243.4" y1="256.12" x2="245.8" y2="256.12" stroke="#222" stroke-width="0.8"/>
<text x="241" y="259.02" font-size="8.3" text-anchor="end">KRT2</text>
<line x1="243.4" y1="270.64" x2="245.8" y2="270.64" stroke="#222" stroke-width="0.8"/>
<text x="241" y="273.54" font-size="8.3" text-anchor="end">DMKN</text>
<line x1="243.4" y1="285.16" x2="245.8" y2="285.16" stroke="#222" stroke-width="0.8"/>
<text x="241" y="288.06" font-size="8.3" text-anchor="end">MT1X</text>
<line x1="243.4" y1="299.68" x2="245.8" y2="299.68" stroke="#222" stroke-width="0.8"/>
<text x="241" y="302.58" font-size="8.3" text-anchor="end">CRIP1</text>
<line x1="243.4" y1="314.2" x2="245.8" y2="314.2" stroke="#222" stroke-width="0.8"/>
<text x="241" y="317.1" font-size="8.3" text-anchor="end">HLA−C</text>
<line x1="243.4" y1="328.72" x2="245.8" y2="328.72" stroke="#222" stroke-width="0.8"/>
<text x="241" y="331.62" font-size="8.3" text-anchor="end">HLA−B</text>
<line x1="243.4" y1="343.24" x2="245.8" y2="343.24" stroke="#222" stroke-width="0.8"/>
<text x="241" y="346.14" font-size="8.3" text-anchor="end">HLA−A</text>
<line x1="243.4" y1="357.76" x2="245.8" y2="357.76" stroke="#222" stroke-width="0.8"/>
<text x="241" y="360.66" font-size="8.3" text-anchor="end">S100A9</text>
<line x1="243.4" y1="372.28" x2="245.8" y2="372.28" stroke="#222" stroke-width="0.8"/>
<text x="241" y="375.18" font-size="8.3" text-anchor="end">S100A8</text>
<line x1="243.4" y1="386.8" x2="245.8" y2="386.8" stroke="#222" stroke-width="0.8"/>
<text x="241" y="389.7" font-size="8.3" text-anchor="end">S100A2</text>
<line x1="243.4" y1="401.32" x2="245.8" y2="401.32" stroke="#222" stroke-width="0.8"/>
<text x="241" y="404.22" font-size="8.3" text-anchor="end">CRABP2</text>
<line x1="243.4" y1="415.84" x2="245.8" y2="415.84" stroke="#222" stroke-width="0.8"/>
<text x="241" y="418.74" font-size="8.3" text-anchor="end">KRT6A</text>
<line x1="243.4" y1="430.36" x2="245.8" y2="430.36" stroke="#222" stroke-width="0.8"/>
<text x="241" y="433.26" font-size="8.3" text-anchor="end">FABP5</text>
<line x1="257.2" y1="438.1" x2="257.2" y2="440.5" stroke="#222" stroke-width="0.8"/>
<text x="257.2" y="448.6" font-size="8.3" text-anchor="middle">L_B</text>
<line x1="276.1" y1="438.1" x2="276.1" y2="440.5" stroke="#222" stroke-width="0.8"/>
<text x="276.1" y="448.6" font-size="8.3" text-anchor="middle">N_B</text>
<line x1="295.1" y1="438.1" x2="295.1" y2="440.5" stroke="#222" stroke-width="0.8"/>
<text x="295.1" y="448.6" font-size="8.3" text-anchor="middle">L_P</text>
<circle cx="257.2" cy="241.6" r="1.5" fill="#d8d0d0"/>
<circle cx="276.1" cy="241.6" r="2.8" fill="#d86060"/>
<circle cx="295.1" cy="241.6" r="2.6" fill="#d44040"/>
<circle cx="257.2" cy="256.12" r="0.6" fill="#dcb0b0"/>
<circle cx="276.1" cy="256.12" r="1.8" fill="#d43030"/>
<circle cx="295.1" cy="256.12" r="1.2" fill="#d86060"/>
<circle cx="257.2" cy="270.64" r="3" fill="#dcd4d4"/>
<circle cx="276.1" cy="270.64" r="4.3" fill="#d43a3a"/>
<circle cx="295.1" cy="270.64" r="3.9" fill="#d86060"/>
<circle cx="257.2" cy="285.16" r="2.8" fill="#dcd4d4"/>
<circle cx="276.1" cy="285.16" r="3.8" fill="#d43a3a"/>
<circle cx="295.1" cy="285.16" r="3" fill="#d86060"/>
<circle cx="257.2" cy="299.68" r="2.2" fill="#dcd4d4"/>
<circle cx="276.1" cy="299.68" r="3.8" fill="#d43030"/>
<circle cx="295.1" cy="299.68" r="2.8" fill="#d86060"/>
<circle cx="257.2" cy="314.2" r="2.6" fill="#d43030"/>
<circle cx="276.1" cy="314.2" r="2.6" fill="#dca0a0"/>
<circle cx="295.1" cy="314.2" r="2.3" fill="#dcb0b0"/>
<circle cx="257.2" cy="328.72" r="3.3" fill="#d43030"/>
<circle cx="276.1" cy="328.72" r="2.9" fill="#dcc0c0"/>
<circle cx="295.1" cy="328.72" r="3" fill="#dcaaaa"/>
<circle cx="257.2" cy="343.24" r="2.6" fill="#d43030"/>
<circle cx="276.1" cy="343.24" r="2.7" fill="#dcc4c4"/>
<circle cx="295.1" cy="343.24" r="2.5" fill="#d88080"/>
<circle cx="257.2" cy="357.76" r="1.4" fill="#d43030"/>
<circle cx="276.1" cy="357.76" r="0.3" fill="#dcb0b0"/>
<circle cx="295.1" cy="357.76" r="0.3" fill="#dcb0b0"/>
<circle cx="257.2" cy="372.28" r="1.5" fill="#d43030"/>
<circle cx="276.1" cy="372.28" r="0.8" fill="#dcb0b0"/>
<circle cx="295.1" cy="372.28" r="0.8" fill="#d88080"/>
<circle cx="257.2" cy="386.8" r="1.5" fill="#d43030"/>
<circle cx="276.1" cy="386.8" r="1.1" fill="#dcaaaa"/>
<circle cx="295.1" cy="386.8" r="1.2" fill="#d88080"/>
<circle cx="257.2" cy="401.32" r="1" fill="#d43030"/>
<circle cx="276.1" cy="401.32" r="1.2" fill="#dcb0b0"/>
<circle cx="295.1" cy="401.32" r="1" fill="#d88080"/>
<circle cx="257.2" cy="415.84" r="0.9" fill="#d43030"/>
<circle cx="276.1" cy="415.84" r="0.3" fill="#dcb0b0"/>
<circle cx="295.1" cy="415.84" r="0.7" fill="#d86060"/>
<circle cx="257.2" cy="430.36" r="1.5" fill="#d43030"/>
<circle cx="276.1" cy="430.36" r="2.3" fill="#dcc0c0"/>
<circle cx="295.1" cy="430.36" r="2" fill="#da9090"/>
<text x="314" y="294.4" font-size="8">Percent Expressed</text>
<circle cx="318.1" cy="302.9" r="1" fill="#000"/>
<text x="326" y="305.6" font-size="6.9">25</text>
<circle cx="318.1" cy="311.2" r="2" fill="#000"/>
<text x="326" y="313.9" font-size="6.9">50</text>
<circle cx="318.1" cy="319.7" r="3" fill="#000"/>
<text x="326" y="322.4" font-size="6.9">75</text>
<text x="314" y="338" font-size="8">Average Expression</text>
<defs><linearGradient id="gc2" x1="0" y1="0" x2="0" y2="1"><stop offset="0" stop-color="#d42c2c"/><stop offset="1" stop-color="#dadada"/></linearGradient></defs>
<rect x="314" y="342.9" width="8.6" height="41.5" fill="url(#gc2)"/>
<line x1="314" y1="346.1" x2="315.7" y2="346.1" stroke="#fff" stroke-width="0.5"/>
<line x1="320.9" y1="346.1" x2="322.6" y2="346.1" stroke="#fff" stroke-width="0.5"/>
<text x="325" y="348.6" font-size="6.9">1.0</text>
<line x1="314" y1="354.9" x2="315.7" y2="354.9" stroke="#fff" stroke-width="0.5"/>
<line x1="320.9" y1="354.9" x2="322.6" y2="354.9" stroke="#fff" stroke-width="0.5"/>
<text x="325" y="357.4" font-size="6.9">0.5</text>
<line x1="314" y1="363.8" x2="315.7" y2="363.8" stroke="#fff" stroke-width="0.5"/>
<line x1="320.9" y1="363.8" x2="322.6" y2="363.8" stroke="#fff" stroke-width="0.5"/>
<text x="325" y="366.3" font-size="6.9">0.0</text>
<line x1="314" y1="372.8" x2="315.7" y2="372.8" stroke="#fff" stroke-width="0.5"/>
<line x1="320.9" y1="372.8" x2="322.6" y2="372.8" stroke="#fff" stroke-width="0.5"/>
<text x="325" y="375.3" font-size="6.9">−0.5</text>
<line x1="314" y1="381.6" x2="315.7" y2="381.6" stroke="#fff" stroke-width="0.5"/>
<line x1="320.9" y1="381.6" x2="322.6" y2="381.6" stroke="#fff" stroke-width="0.5"/>
<text x="325" y="384.1" font-size="6.9">−1.0</text>
<text x="395.65" y="213.7" font-size="16">d</text>
<text x="514.3" y="222.2" font-size="13" text-anchor="middle">Basal</text>
<path d="M588.9 242.2V433.1M610.3 242.2V433.1M631.7 242.2V433.1M653.1 242.2V433.1M674.5 242.2V433.1" fill="none" stroke="#e8e8e8" stroke-width="0.7"/>
<path d="M599.6 242.2V433.1M621 242.2V433.1M642.4 242.2V433.1M663.8 242.2V433.1" fill="none" stroke="#f2f2f2" stroke-width="0.5"/>
<path d="M584.5 248.1H677.3M584.5 257.55H677.3M584.5 267H677.3M584.5 276.45H677.3M584.5 285.9H677.3M584.5 295.35H677.3M584.5 304.8H677.3M584.5 314.25H677.3M584.5 323.7H677.3M584.5 333.15H677.3M584.5 342.6H677.3M584.5 352.05H677.3M584.5 361.5H677.3M584.5 370.95H677.3M584.5 380.4H677.3M584.5 389.85H677.3M584.5 399.3H677.3M584.5 408.75H677.3M584.5 418.2H677.3M584.5 427.65H677.3" fill="none" stroke="#ebebeb" stroke-width="0.6"/>
<rect x="588.9" y="244" width="84.76" height="8.2" fill="#ec6b6b"/>
<line x1="582.2" y1="248.1" x2="584.5" y2="248.1" stroke="#333" stroke-width="0.6"/>
<text x="581.3" y="250.6" font-size="7.15" text-anchor="end">Cell adhesion molecules</text>
<rect x="588.9" y="253.45" width="82.87" height="8.2" fill="#ec6b6b"/>
<line x1="582.2" y1="257.55" x2="584.5" y2="257.55" stroke="#333" stroke-width="0.6"/>
<text x="581.3" y="260.05" font-size="7.15" text-anchor="end">Hematopoietic cell lineage</text>
<rect x="588.9" y="262.9" width="74.22" height="8.2" fill="#ec6b6b"/>
<line x1="582.2" y1="267" x2="584.5" y2="267" stroke="#333" stroke-width="0.6"/>
<text x="581.3" y="269.5" font-size="7.15" text-anchor="end">Rheumatoid arthritis</text>
<rect x="588.9" y="272.35" width="69.9" height="8.2" fill="#ec6b6b"/>
<line x1="582.2" y1="276.45" x2="584.5" y2="276.45" stroke="#333" stroke-width="0.6"/>
<text x="581.3" y="278.95" font-size="7.15" text-anchor="end">Viral protein interaction with cytokine and cytokine receptor</text>
<rect x="588.9" y="281.8" width="58.83" height="8.2" fill="#ec6b6b"/>
<line x1="582.2" y1="285.9" x2="584.5" y2="285.9" stroke="#333" stroke-width="0.6"/>
<text x="581.3" y="288.4" font-size="7.15" text-anchor="end">Graft−versus−host disease</text>
<rect x="588.9" y="291.25" width="56.94" height="8.2" fill="#ec6b6b"/>
<line x1="582.2" y1="295.35" x2="584.5" y2="295.35" stroke="#333" stroke-width="0.6"/>
<text x="581.3" y="297.85" font-size="7.15" text-anchor="end">Cytokine−cytokine receptor interaction</text>
<rect x="588.9" y="300.7" width="53.43" height="8.2" fill="#ec6b6b"/>
<line x1="582.2" y1="304.8" x2="584.5" y2="304.8" stroke="#333" stroke-width="0.6"/>
<text x="581.3" y="307.3" font-size="7.15" text-anchor="end">Allograft rejection</text>
<rect x="588.9" y="310.15" width="53.43" height="8.2" fill="#ec6b6b"/>
<line x1="582.2" y1="314.25" x2="584.5" y2="314.25" stroke="#333" stroke-width="0.6"/>
<text x="581.3" y="316.75" font-size="7.15" text-anchor="end">Type I diabetes mellitus</text>
<rect x="588.9" y="319.6" width="52.89" height="8.2" fill="#ec6b6b"/>
<line x1="582.2" y1="323.7" x2="584.5" y2="323.7" stroke="#333" stroke-width="0.6"/>
<text x="581.3" y="326.2" font-size="7.15" text-anchor="end">Chemokine signaling pathway</text>
<rect x="588.9" y="329.05" width="48.3" height="8.2" fill="#ec6b6b"/>
<line x1="582.2" y1="333.15" x2="584.5" y2="333.15" stroke="#333" stroke-width="0.6"/>
<text x="581.3" y="335.65" font-size="7.15" text-anchor="end">Th1 and Th2 cell differentiation</text>
<rect x="588.9" y="338.5" width="48.03" height="8.2" fill="#ec6b6b"/>
<line x1="582.2" y1="342.6" x2="584.5" y2="342.6" stroke="#333" stroke-width="0.6"/>
<text x="581.3" y="345.1" font-size="7.15" text-anchor="end">Viral myocarditis</text>
<rect x="588.9" y="347.95" width="46.95" height="8.2" fill="#ec6b6b"/>
<line x1="582.2" y1="352.05" x2="584.5" y2="352.05" stroke="#333" stroke-width="0.6"/>
<text x="581.3" y="354.55" font-size="7.15" text-anchor="end">Epstein−Barr virus infection</text>
<rect x="588.9" y="357.4" width="45.87" height="8.2" fill="#ec6b6b"/>
<line x1="582.2" y1="361.5" x2="584.5" y2="361.5" stroke="#333" stroke-width="0.6"/>
<text x="581.3" y="364" font-size="7.15" text-anchor="end">Leishmaniasis</text>
<rect x="588.9" y="366.85" width="44.79" height="8.2" fill="#ec6b6b"/>
<line x1="582.2" y1="370.95" x2="584.5" y2="370.95" stroke="#333" stroke-width="0.6"/>
<text x="581.3" y="373.45" font-size="7.15" text-anchor="end">Th17 cell differentiation</text>
<rect x="588.9" y="376.3" width="44.25" height="8.2" fill="#ec6b6b"/>
<line x1="582.2" y1="380.4" x2="584.5" y2="380.4" stroke="#333" stroke-width="0.6"/>
<text x="581.3" y="382.9" font-size="7.15" text-anchor="end">Primary immunodeficiency</text>
<rect x="588.9" y="385.75" width="43.44" height="8.2" fill="#ec6b6b"/>
<line x1="582.2" y1="389.85" x2="584.5" y2="389.85" stroke="#333" stroke-width="0.6"/>
<text x="581.3" y="392.35" font-size="7.15" text-anchor="end">Staphylococcus aureus infection</text>
<rect x="588.9" y="395.2" width="41.55" height="8.2" fill="#ec6b6b"/>
<line x1="582.2" y1="399.3" x2="584.5" y2="399.3" stroke="#333" stroke-width="0.6"/>
<text x="581.3" y="401.8" font-size="7.15" text-anchor="end">Inflammatory bowel disease</text>
<rect x="588.9" y="404.65" width="39.92" height="8.2" fill="#ec6b6b"/>
<line x1="582.2" y1="408.75" x2="584.5" y2="408.75" stroke="#333" stroke-width="0.6"/>
<text x="581.3" y="411.25" font-size="7.15" text-anchor="end">NF−kappa B signaling pathway</text>
<rect x="588.9" y="414.1" width="39.92" height="8.2" fill="#ec6b6b"/>
<line x1="582.2" y1="418.2" x2="584.5" y2="418.2" stroke="#333" stroke-width="0.6"/>
<text x="581.3" y="420.7" font-size="7.15" text-anchor="end">Intestinal immune network for IgA production</text>
<rect x="588.9" y="423.55" width="37.22" height="8.2" fill="#ec6b6b"/>
<line x1="582.2" y1="427.65" x2="584.5" y2="427.65" stroke="#333" stroke-width="0.6"/>
<text x="581.3" y="430.15" font-size="7.15" text-anchor="end">Autoimmune thyroid disease</text>
<rect x="584.5" y="242.2" width="92.8" height="190.9" fill="none" stroke="#333" stroke-width="0.7"/>
<line x1="588.9" y1="433.1" x2="588.9" y2="435.3" stroke="#333" stroke-width="0.6"/>
<text x="588.9" y="441.2" font-size="6.6" text-anchor="middle">0</text>
<line x1="610.3" y1="433.1" x2="610.3" y2="435.3" stroke="#333" stroke-width="0.6"/>
<text x="610.3" y="441.2" font-size="6.6" text-anchor="middle">5</text>
<line x1="631.7" y1="433.1" x2="631.7" y2="435.3" stroke="#333" stroke-width="0.6"/>
<text x="631.7" y="441.2" font-size="6.6" text-anchor="middle">10</text>
<line x1="653.1" y1="433.1" x2="653.1" y2="435.3" stroke="#333" stroke-width="0.6"/>
<text x="653.1" y="441.2" font-size="6.6" text-anchor="middle">15</text>
<line x1="674.5" y1="433.1" x2="674.5" y2="435.3" stroke="#333" stroke-width="0.6"/>
<text x="674.5" y="441.2" font-size="6.6" text-anchor="middle">20</text>
<text x="631.6" y="449.3" font-size="6.55" text-anchor="middle">−Log10 adjusted Pvalue</text>
<text x="12.25" y="483.3" font-size="16">e</text>
<line x1="28.1" y1="493.6" x2="28.1" y2="624.6" stroke="#222" stroke-width="0.8"/>
<line x1="27.7" y1="624.2" x2="168.2" y2="624.2" stroke="#222" stroke-width="0.8"/>
<line x1="25.6" y1="525.4" x2="28.1" y2="525.4" stroke="#222" stroke-width="0.8"/>
<text x="24.5" y="528.1" font-size="7.6" text-anchor="end">10</text>
<line x1="25.6" y1="563.5" x2="28.1" y2="563.5" stroke="#222" stroke-width="0.8"/>
<text x="24.5" y="566.2" font-size="7.6" text-anchor="end">0</text>
<line x1="25.6" y1="601.6" x2="28.1" y2="601.6" stroke="#222" stroke-width="0.8"/>
<text x="24.5" y="604.3" font-size="7.6" text-anchor="end">−10</text>
<line x1="67.3" y1="624.2" x2="67.3" y2="626.7" stroke="#222" stroke-width="0.8"/>
<text x="67.3" y="633.2" font-size="7.6" text-anchor="middle">−10</text>
<line x1="114.3" y1="624.2" x2="114.3" y2="626.7" stroke="#222" stroke-width="0.8"/>
<text x="114.3" y="633.2" font-size="7.6" text-anchor="middle">0</text>
<line x1="161.3" y1="624.2" x2="161.3" y2="626.7" stroke="#222" stroke-width="0.8"/>
<text x="161.3" y="633.2" font-size="7.6" text-anchor="middle">10</text>
<text x="98.6" y="642.1" font-size="8.4" text-anchor="middle">umap_1</text>
<text x="12.2" y="559.5" font-size="8.4" text-anchor="middle" transform="rotate(-90 12.2 559.5)">umap_2</text>
<text x="42.6" y="498.1" font-size="13.4">Basal</text>
<text x="42.6" y="514.1" font-size="13.4"><tspan font-style="italic">n</tspan> = 7790</text>
<path d="M107.6 561.9h0M107.2 567.7h0M114.2 565.6h0M113.8 566.6h0M117.5 561.6h0M124.6 567.5h0M110.8 570.0h0M112.7 567.2h0M117.2 566.1h0M117.4 566.8h0M114.7 571.8h0M106.7 568.7h0M103.9 563.7h0M118.1 562.3h0M116.9 564.0h0M123.2 561.8h0M112.1 560.2h0M117.7 569.7h0M108.0 570.0h0M112.5 567.4h0M122.0 564.7h0M112.0 571.3h0M115.7 570.3h0M118.3 562.5h0M106.9 562.3h0M121.3 566.3h0M116.4 570.9h0M118.3 569.9h0M107.2 563.8h0M108.7 563.6h0M109.7 565.7h0M113.4 570.1h0M116.0 562.6h0M117.8 568.9h0M123.0 565.6h0M117.4 568.8h0M120.7 561.8h0M107.5 564.8h0M117.3 565.4h0M114.8 572.7h0M107.1 568.0h0M103.8 562.8h0M115.1 564.9h0M107.0 569.8h0M118.7 563.6h0M119.1 568.4h0M104.4 565.0h0M115.4 572.3h0M113.4 570.5h0M113.7 569.5h0M112.9 570.7h0M109.3 568.1h0M112.6 568.1h0M114.8 572.1h0M105.2 567.5h0M104.6 563.7h0M119.4 571.8h0M106.7 566.5h0M106.0 562.5h0M109.9 564.1h0M112.4 560.4h0M112.7 563.9h0M104.9 561.7h0M108.8 567.1h0M121.6 568.2h0M108.8 570.6h0M122.6 565.5h0M116.5 561.0h0M120.7 561.4h0M110.6 568.6h0M106.8 560.2h0M121.7 561.4h0M118.5 563.4h0M117.0 568.7h0M114.7 569.6h0M121.1 561.9h0M122.2 564.0h0M113.7 566.3h0M119.6 560.7h0M120.0 570.5h0M117.7 570.9h0M110.3 565.2h0M121.2 562.0h0M113.7 573.0h0M112.4 566.2h0M116.5 570.4h0M124.5 562.7h0M102.5 564.9h0M110.5 572.7h0M119.8 567.6h0M121.8 572.2h0M111.6 569.9h0M106.6 568.5h0M105.7 566.0h0M120.6 571.7h0M117.7 560.1h0M115.3 561.9h0M113.3 560.5h0M115.2 561.8h0M107.6 569.5h0M113.6 572.5h0M118.1 562.5h0M112.4 572.3h0M107.0 566.5h0M117.7 562.3h0M123.1 567.3h0M120.3 563.5h0M110.1 562.3h0M105.9 568.3h0M110.0 565.9h0M110.2 559.6h0M112.5 571.2h0M110.8 568.5h0M118.5 567.1h0M120.1 562.6h0M121.7 567.8h0M114.4 566.0h0M106.9 569.6h0M114.3 562.7h0M114.7 567.8h0M122.6 562.2h0M111.9 565.6h0M111.4 566.6h0M112.1 568.5h0M118.9 569.6h0M110.0 560.8h0M110.7 561.1h0M104.6 561.8h0M120.1 564.3h0M116.2 559.7h0M112.1 572.5h0M112.1 573.4h0M115.8 559.7h0M118.3 564.5h0M105.8 566.7h0M109.8 559.4h0M111.0 570.9h0M118.0 571.0h0M111.3 562.9h0M111.4 562.8h0M121.1 564.6h0M123.7 561.9h0M112.6 563.8h0M121.0 566.4h0M110.5 564.7h0M113.5 560.4h0M115.4 568.9h0M122.4 563.6h0M109.6 562.0h0M105.7 561.4h0M123.4 562.0h0M114.3 561.1h0M121.2 568.0h0M119.1 564.0h0M117.8 571.2h0M113.6 561.4h0M112.5 566.7h0M110.9 560.4h0M112.9 572.6h0M123.7 566.4h0M116.4 567.2h0M105.0 561.7h0M112.5 568.2h0M110.4 560.0h0M106.6 566.3h0M122.7 567.5h0M123.5 565.2h0M116.8 566.8h0M119.9 564.5h0M114.6 562.3h0M105.6 564.2h0M112.8 566.1h0M114.2 563.1h0M123.9 569.1h0M106.8 565.6h0M115.1 569.3h0M117.4 566.1h0M109.9 560.8h0M120.4 563.5h0M109.4 558.0h0M114.2 570.9h0M119.8 565.6h0M110.4 561.5h0M108.3 560.9h0M107.9 561.2h0M123.2 568.3h0M105.3 562.7h0M113.2 564.9h0M116.6 572.4h0M110.5 560.5h0M115.9 561.6h0M114.2 565.3h0M111.9 571.0h0M121.1 570.0h0M111.2 569.5h0M116.1 561.6h0M122.5 564.9h0M104.2 564.2h0M113.8 559.9h0M110.5 569.8h0M112.4 571.4h0M121.5 563.7h0M104.0 566.3h0M118.1 563.5h0M116.9 567.9h0M107.8 567.8h0M109.7 570.5h0M111.0 563.7h0M106.4 566.1h0M104.5 566.6h0M117.3 567.2h0M122.2 562.0h0M112.6 573.0h0M116.4 559.4h0M114.5 562.6h0M110.3 561.7h0M105.7 564.1h0M106.2 561.6h0M111.2 564.2h0M111.2 561.2h0M122.8 563.2h0M124.4 564.8h0M106.4 566.3h0M110.3 566.8h0M107.9 566.6h0M116.3 571.3h0M119.4 564.5h0M107.4 560.5h0M108.7 569.3h0M113.3 562.6h0M109.6 568.6h0M118.6 569.7h0M115.9 564.9h0M122.1 567.9h0M119.7 570.3h0M118.9 563.2h0M108.2 568.3h0M120.0 561.1h0M109.8 559.4h0M109.4 561.0h0M120.4 560.8h0M120.6 567.5h0M111.7 568.4h0M110.2 562.0h0M117.4 571.0h0M116.3 568.4h0M115.2 565.4h0M109.0 565.0h0M108.3 566.7h0M108.1 560.6h0M119.5 561.0h0M113.8 559.4h0M108.1 566.1h0M114.6 568.6h0M106.0 562.2h0M104.9 567.2h0M110.0 567.7h0M118.3 566.5h0M112.6 565.8h0M106.9 560.7h0M115.8 565.4h0M124.0 567.9h0M113.4 568.0h0M110.9 568.0h0M110.8 572.4h0M112.5 566.8h0M111.6 561.0h0M122.7 564.7h0M113.5 570.2h0M117.3 570.4h0M115.1 571.4h0M113.4 571.9h0M116.2 566.8h0M113.5 570.2h0M114.3 562.4h0M123.1 562.2h0M118.6 570.4h0M122.2 566.2h0M111.8 562.6h0M121.7 571.3h0M116.5 571.7h0M110.3 561.3h0M124.0 568.1h0M122.4 562.6h0M114.9 565.3h0M117.9 567.9h0M109.2 563.6h0M117.7 567.7h0M122.0 568.6h0M103.5 564.4h0M109.7 569.9h0M116.3 568.1h0M120.8 567.1h0M106.2 562.4h0M115.6 566.3h0M109.1 567.5h0M107.2 562.2h0M116.3 572.6h0M120.4 563.6h0M112.7 564.3h0M104.6 568.0h0M107.3 561.1h0M107.2 564.8h0M112.7 567.6h0M118.5 565.7h0M119.3 569.9h0M114.4 563.9h0M104.2 564.9h0M115.9 562.5h0M113.0 569.5h0M110.7 562.8h0M109.4 573.5h0M102.1 562.1h0M113.1 568.6h0M112.4 567.1h0M120.8 566.4h0M121.1 568.7h0M112.7 564.7h0M110.9 561.1h0M116.7 565.4h0M118.3 562.4h0M117.7 564.3h0M109.6 564.9h0M117.3 570.3h0M115.5 561.4h0M103.2 563.1h0M110.9 566.5h0M114.8 569.7h0M112.9 570.7h0M115.5 561.1h0M120.0 570.5h0M107.9 571.8h0M122.8 560.0h0M110.0 572.9h0M109.3 565.6h0M110.1 563.4h0M106.1 567.0h0M114.3 572.6h0M108.4 570.6h0M119.4 572.7h0M115.8 561.2h0M117.4 565.9h0M112.8 571.0h0M115.1 568.6h0M104.2 562.3h0M104.1 566.5h0M111.4 568.3h0M108.0 562.4h0M121.5 565.2h0M106.3 570.4h0M113.7 563.0h0M104.4 567.8h0M122.4 567.9h0M117.1 563.7h0M115.7 564.9h0M124.2 562.7h0M120.6 571.5h0M123.2 562.2h0M119.2 566.4h0M120.5 562.5h0M114.7 570.6h0M106.5 562.2h0M109.7 561.1h0M113.8 568.3h0M104.2 564.0h0M109.0 569.9h0M106.9 561.5h0M118.5 564.2h0M106.2 565.4h0M105.7 564.2h0M117.6 565.8h0M115.6 569.5h0M117.1 561.2h0M121.8 562.4h0M119.9 568.7h0M119.3 571.6h0M116.1 569.8h0M112.0 562.7h0M105.6 567.3h0M110.2 559.4h0M119.4 564.8h0M112.7 568.8h0M110.4 565.1h0M111.2 563.5h0M120.5 565.5h0M110.8 570.3h0M113.5 568.4h0M105.5 564.2h0M107.1 566.7h0M121.1 562.7h0M120.4 560.0h0M111.0 570.6h0M111.0 566.4h0M122.4 565.7h0M112.3 567.7h0M115.4 567.6h0M118.5 560.1h0M116.7 561.6h0M106.6 563.8h0M111.2 565.7h0M113.0 567.3h0M107.0 567.4h0M114.2 559.2h0M111.6 566.1h0M110.4 571.2h0M118.8 564.6h0M114.3 573.0h0M121.7 570.6h0M118.0 563.7h0M120.0 559.6h0M116.8 561.8h0M109.4 565.0h0M121.3 571.4h0M105.6 563.2h0M119.4 567.5h0M105.6 562.4h0M116.2 560.8h0M107.8 563.6h0M114.7 563.3h0M109.1 570.3h0M110.6 570.5h0M114.9 569.2h0M112.9 566.1h0M114.0 562.1h0M122.6 566.0h0M122.6 567.8h0M118.2 561.0h0M112.9 569.5h0M123.0 561.1h0M123.0 565.1h0M119.7 561.1h0M106.6 562.8h0M107.1 562.6h0M109.3 568.6h0M122.6 564.5h0M103.6 566.7h0M111.3 566.4h0M114.8 565.8h0M107.4 566.1h0M115.3 570.8h0M110.7 562.9h0M118.4 567.7h0M115.6 562.9h0M121.2 569.2h0M117.7 570.4h0M103.2 563.6h0M112.6 570.1h0M120.0 567.9h0M119.5 565.8h0M116.0 571.3h0M114.8 564.3h0M108.8 561.6h0M121.1 563.1h0M107.5 562.6h0M109.0 563.4h0M114.5 568.9h0M106.0 562.9h0M113.4 573.8h0M108.5 565.2h0M112.0 563.7h0M114.2 565.7h0M110.2 568.6h0M119.0 564.5h0M105.7 562.8h0M108.1 565.0h0M118.1 564.0h0M108.1 570.4h0M122.0 569.6h0M111.0 571.7h0M114.8 566.6h0M118.2 562.1h0M118.9 565.7h0M105.5 561.3h0M123.7 560.8h0M108.4 566.7h0M113.9 563.4h0M112.4 558.7h0M114.2 571.7h0M116.5 561.1h0M119.8 567.3h0M110.1 558.5h0M115.7 559.4h0M118.9 563.2h0M118.9 562.5h0M113.5 562.6h0M109.6 562.0h0M110.3 565.9h0M104.3 562.1h0M117.7 563.4h0M121.1 568.2h0M121.5 564.4h0M112.6 560.2h0M121.9 563.0h0M114.0 566.1h0M120.5 572.5h0M107.4 570.2h0M114.0 561.1h0M109.4 572.0h0M123.3 567.6h0M117.9 561.9h0M106.1 566.5h0M107.2 570.0h0M117.3 564.0h0M114.9 566.2h0M115.4 565.3h0M114.2 571.7h0M111.5 565.2h0M112.3 568.6h0M102.6 563.0h0M115.4 568.5h0M108.9 566.9h0M121.8 561.2h0M116.8 562.2h0M109.0 563.3h0M106.7 565.4h0M113.9 571.4h0M104.0 562.8h0M115.2 572.8h0M108.2 560.8h0M107.1 569.2h0M112.8 561.1h0M110.7 560.4h0M114.7 571.8h0M116.8 568.9h0M114.4 570.5h0M121.9 565.5h0M109.2 562.1h0M112.5 560.3h0M110.0 568.9h0M113.3 569.6h0M111.9 558.6h0M113.5 563.6h0M105.0 560.2h0M112.8 565.9h0M110.0 564.0h0M118.5 567.4h0M106.7 562.2h0M108.1 569.1h0M119.0 563.8h0M117.2 572.1h0M108.9 567.1h0M113.4 570.5h0M117.3 569.1h0M116.4 563.5h0M103.6 564.7h0M112.2 560.0h0M115.7 564.4h0M112.5 567.4h0M123.3 566.8h0M106.1 565.5h0M109.0 561.9h0M117.0 562.2h0M117.2 569.0h0M110.6 571.5h0M114.7 568.3h0M111.2 561.5h0M119.3 567.0h0M109.4 568.1h0M118.3 563.7h0M109.8 572.8h0M111.7 567.9h0M112.3 561.6h0M114.4 563.5h0M118.5 568.9h0M114.4 567.2h0M120.3 569.2h0M119.0 566.5h0M113.2 565.0h0M117.6 565.6h0M117.9 571.9h0M107.4 566.9h0M111.0 565.2h0M119.0 563.0h0M112.1 561.3h0M116.0 567.8h0M115.9 559.9h0M118.3 567.1h0M110.5 564.1h0M104.3 565.2h0M113.8 573.5h0M114.3 566.6h0M111.6 560.1h0M106.2 568.4h0M113.6 570.3h0M115.4 570.6h0M117.3 566.9h0M117.0 572.3h0M120.4 562.0h0M109.1 563.2h0M111.6 564.4h0M109.8 560.2h0M116.4 561.6h0M114.2 559.9h0M113.0 569.4h0M122.8 559.9h0M110.8 564.4h0M117.0 572.6h0M117.8 568.6h0M114.5 562.7h0M111.8 570.1h0M118.8 564.8h0M115.3 560.3h0M103.1 566.3h0M122.7 566.9h0M115.8 567.7h0M117.9 570.7h0M121.1 561.1h0M118.7 565.1h0M110.0 571.5h0M117.7 571.6h0M110.1 566.4h0M117.9 569.6h0M103.3 564.4h0M104.8 563.7h0M105.7 565.8h0M112.2 564.4h0M105.2 567.6h0M109.0 571.5h0M109.0 563.9h0M121.7 568.7h0M107.6 568.9h0M109.4 568.0h0M122.9 564.2h0M103.2 566.6h0M121.8 568.1h0M115.9 564.9h0M109.5 561.1h0M109.4 565.4h0M118.5 568.3h0M113.9 560.3h0M118.6 563.6h0M119.9 564.6h0M108.4 560.6h0M112.3 568.1h0M122.8 562.1h0M105.9 564.5h0M120.0 572.1h0M120.1 561.9h0M117.0 563.3h0M119.6 560.5h0M118.4 570.1h0M113.1 572.1h0M117.8 567.0h0M111.2 564.5h0M109.4 562.5h0M111.9 565.5h0M110.8 571.8h0M118.7 563.9h0M120.5 564.0h0M112.3 568.9h0M116.6 559.9h0M113.4 572.2h0M112.1 561.2h0M115.3 562.5h0M107.8 564.3h0M108.5 568.3h0M108.1 569.7h0M112.2 569.0h0M119.1 566.7h0M122.3 566.0h0M114.1 565.4h0M115.2 564.8h0M112.5 572.8h0M122.4 560.2h0M107.1 567.6h0M118.7 560.7h0M108.2 566.0h0M111.2 572.9h0M114.8 564.9h0M118.3 570.9h0M122.1 564.1h0M115.8 566.2h0M116.2 564.6h0M107.3 565.5h0M121.9 567.8h0M118.9 567.0h0M118.1 571.1h0M108.1 561.5h0M112.9 568.8h0M119.3 570.8h0M122.6 567.3h0M112.7 565.9h0M113.6 572.2h0M109.5 566.8h0M114.6 559.2h0M108.2 563.1h0M106.7 568.2h0M121.3 568.3h0M116.8 565.8h0M115.5 565.0h0M110.5 563.1h0M111.2 570.2h0M109.1 566.9h0M108.2 562.0h0M119.6 563.9h0M122.1 569.4h0M121.7 566.6h0M114.3 572.0h0M115.6 560.7h0M112.7 570.8h0M116.9 567.4h0M124.7 564.8h0M105.1 566.9h0M112.7 572.7h0M111.3 562.4h0M111.1 566.2h0M114.3 560.4h0M103.7 567.4h0M107.0 569.9h0M115.8 573.2h0M121.8 570.5h0M114.7 565.6h0M113.0 570.1h0M118.0 560.1h0M105.7 563.2h0M104.5 566.0h0M109.7 560.5h0M121.8 565.8h0M115.9 565.8h0M117.2 572.4h0M118.4 564.6h0M113.7 571.0h0M108.5 568.5h0M115.8 571.6h0M113.9 563.5h0M110.0 565.9h0M116.2 568.9h0M114.3 571.5h0M111.4 571.5h0M106.1 564.5h0M116.1 568.6h0M106.7 569.6h0M115.4 571.9h0M101.9 565.3h0M113.6 560.4h0M109.8 567.5h0M106.2 564.9h0M122.6 562.8h0M117.1 565.9h0M121.0 565.1h0M122.7 565.1h0M121.5 562.3h0M105.1 567.8h0M106.0 561.4h0M105.5 566.1h0M114.9 570.9h0M112.1 574.1h0M123.5 562.1h0M114.1 560.3h0M118.8 571.5h0M121.4 565.9h0M117.8 566.5h0M118.5 569.9h0M116.5 571.1h0M108.5 562.4h0M113.3 561.5h0M116.5 564.8h0M113.8 571.6h0M108.6 561.9h0M117.1 566.2h0M123.0 563.3h0M108.3 563.0h0M119.1 570.8h0M118.9 561.0h0M111.5 573.5h0M113.5 566.2h0M109.5 564.1h0M108.1 571.2h0M123.4 560.9h0M113.6 572.2h0M113.6 560.7h0M110.3 560.0h0M122.3 564.1h0M117.0 567.3h0M119.2 564.7h0M111.2 567.1h0M115.1 573.4h0M107.9 563.1h0M118.7 567.1h0M116.5 563.6h0M110.0 562.0h0M111.2 568.9h0M114.2 567.1h0M108.4 566.2h0M106.3 567.2h0M107.1 560.8h0M111.0 562.7h0M111.0 564.7h0M114.5 569.0h0M117.9 568.9h0M111.4 569.4h0M116.9 568.5h0M112.3 566.8h0M112.4 572.4h0M117.4 569.2h0M108.9 570.4h0M115.6 571.2h0M111.5 565.7h0M122.6 568.7h0M118.7 560.9h0M113.9 569.9h0M119.5 567.0h0M120.7 565.5h0M111.3 572.0h0M104.0 561.9h0M108.9 564.3h0M106.7 564.7h0M103.1 567.0h0M109.5 561.3h0M118.6 566.2h0M121.9 568.5h0M114.4 573.9h0M111.0 568.3h0M119.8 568.9h0M118.3 571.6h0M118.0 565.1h0M114.9 573.9h0M120.7 566.3h0M104.8 564.4h0M105.7 564.6h0M118.6 568.9h0M118.9 563.7h0M109.4 563.2h0M118.7 566.6h0M116.9 566.2h0M106.5 560.9h0M117.9 563.6h0M113.6 560.2h0M112.6 568.2h0M117.6 561.3h0M111.3 572.0h0M122.1 560.3h0" stroke="#F8766D" stroke-width="1.25" stroke-linecap="round"/>
<path d="M139.1 550.3h0M136.7 549.4h0M131.0 550.6h0M136.3 553.3h0M133.8 554.7h0M137.6 542.4h0M139.9 549.4h0M129.3 550.3h0M139.9 541.1h0M127.0 556.7h0M138.2 548.2h0M139.1 549.8h0M136.4 552.5h0M135.2 549.1h0M132.5 550.3h0M132.5 555.2h0M140.0 543.4h0M132.9 550.2h0M142.1 546.3h0M137.2 541.7h0M136.9 545.1h0M139.7 538.8h0M136.6 545.3h0M132.9 554.6h0M139.1 545.9h0M135.2 545.8h0M138.5 539.8h0M131.5 550.9h0M138.1 543.7h0M129.2 556.9h0M137.2 542.2h0M141.2 543.4h0M137.4 549.7h0M135.0 544.2h0M129.8 550.7h0M129.9 555.7h0M138.3 542.4h0M133.3 556.7h0M138.2 546.3h0M137.4 549.6h0M137.6 548.0h0M133.2 541.8h0M132.2 548.1h0M133.8 545.9h0M138.8 545.2h0M134.1 554.1h0M134.1 538.3h0M130.0 552.6h0M140.4 540.7h0M130.9 555.8h0M137.5 540.6h0M139.1 543.5h0M138.6 549.2h0M137.2 549.8h0M129.5 556.8h0M137.1 545.3h0M137.2 545.1h0M134.4 546.6h0M133.0 543.5h0M133.4 550.9h0M136.0 540.6h0M137.2 543.0h0M136.6 552.4h0M134.7 544.3h0M134.6 547.1h0M136.5 545.0h0M131.5 544.7h0M131.6 546.0h0M134.4 542.0h0M127.5 556.8h0M134.9 540.4h0M132.4 546.0h0M132.8 552.4h0M124.8 559.6h0M135.0 552.9h0M130.9 548.3h0M133.5 544.9h0M131.0 543.9h0M135.9 542.2h0M138.3 546.6h0M135.4 544.6h0M138.5 539.9h0M131.6 550.1h0M129.4 557.2h0M141.5 549.0h0M137.0 549.8h0M133.9 547.0h0M133.7 544.2h0M137.2 547.9h0M136.8 540.0h0M134.3 549.8h0M137.8 542.9h0M134.6 551.0h0M132.2 548.9h0M133.0 555.5h0M137.8 547.5h0M140.0 550.6h0M134.9 550.0h0M138.3 551.9h0M137.6 547.1h0M138.3 550.0h0M140.0 548.2h0M131.0 550.4h0M137.8 539.9h0M135.1 541.4h0M139.0 540.7h0M130.9 554.0h0M134.5 553.8h0M135.7 544.4h0M133.3 555.6h0M134.3 549.7h0M134.8 541.1h0M138.5 539.8h0M134.3 542.9h0M133.6 543.9h0M136.6 553.5h0M128.8 548.8h0M132.2 544.6h0M132.8 544.3h0M132.7 546.9h0M135.2 550.4h0M136.5 550.1h0M133.3 544.0h0M138.1 550.5h0M130.1 556.5h0M127.0 556.7h0M136.4 540.9h0M132.2 545.7h0M140.5 540.6h0M140.6 545.4h0M137.4 542.9h0M134.5 551.4h0M131.0 549.8h0M138.6 543.1h0M134.5 552.0h0M135.8 545.7h0M138.1 543.6h0M137.7 549.6h0M136.6 543.3h0M129.2 544.7h0M140.7 542.9h0M132.7 547.0h0M136.7 543.7h0M139.5 541.6h0M132.2 548.6h0M135.8 539.2h0M137.2 552.7h0M136.5 553.2h0M135.6 538.4h0M136.3 542.6h0M136.6 541.6h0M129.0 552.4h0M138.0 548.7h0M137.2 540.7h0M138.4 546.1h0M129.5 555.5h0M137.4 543.9h0M138.3 548.9h0M136.0 540.4h0M136.6 552.4h0M133.8 552.1h0M129.7 555.0h0M135.3 553.2h0M140.1 541.4h0M133.9 550.0h0M135.8 538.6h0M130.1 555.1h0M131.9 557.3h0M140.6 541.9h0M130.1 555.8h0M132.9 544.0h0M128.2 555.2h0M140.4 544.6h0M130.3 542.0h0M132.1 547.2h0M136.8 541.6h0M135.3 547.6h0M132.6 557.8h0M136.1 545.3h0M133.5 550.5h0M133.7 554.9h0M138.1 550.2h0M138.4 541.3h0M132.2 549.8h0M127.9 557.8h0M137.2 550.6h0M138.0 546.2h0M136.4 544.6h0M136.6 543.4h0M137.7 550.5h0M135.5 541.9h0M137.0 547.4h0M136.7 541.2h0M138.8 548.5h0M138.2 548.4h0M134.4 552.1h0M138.4 543.7h0M136.2 539.5h0M138.9 540.0h0M129.9 556.9h0M135.8 545.4h0M134.2 546.3h0M139.3 546.3h0M132.4 549.2h0M131.8 554.1h0M139.4 551.4h0M125.3 559.5h0M134.5 547.0h0M138.7 544.5h0M134.9 550.7h0M137.8 550.5h0M136.7 549.8h0M142.0 541.6h0M132.4 548.3h0M135.5 552.7h0M131.7 546.6h0M139.6 546.1h0M130.5 552.4h0M137.1 541.1h0M138.9 551.6h0M131.7 547.3h0M130.9 552.0h0M138.3 549.2h0M130.4 547.9h0M132.9 548.0h0M140.1 548.0h0M134.6 539.8h0M135.1 540.2h0M128.9 555.4h0M136.7 540.2h0M136.8 549.7h0M138.8 548.8h0M132.6 548.3h0M132.8 553.3h0M130.6 549.9h0M134.3 546.1h0M138.9 549.7h0M138.0 550.4h0M132.0 553.5h0M132.8 553.0h0M134.4 555.0h0M141.6 546.0h0M138.8 546.9h0M136.8 547.0h0M138.8 546.5h0M139.7 545.4h0M137.7 547.2h0M126.1 561.1h0M136.0 546.5h0M128.9 557.9h0M140.0 542.8h0M138.9 547.0h0M138.4 548.2h0M131.6 557.7h0M136.3 548.7h0M134.8 549.3h0M136.7 553.3h0M131.6 550.7h0M137.6 545.2h0M138.4 549.0h0M135.1 542.3h0M135.1 546.7h0M138.8 540.8h0M132.9 552.6h0M133.2 556.7h0M139.9 549.0h0M127.7 556.9h0M131.9 556.3h0M133.0 545.4h0M132.8 545.0h0M130.3 556.9h0M133.3 550.2h0M137.5 552.5h0M137.6 550.0h0M136.7 552.1h0M135.1 547.7h0M136.3 543.1h0M133.0 554.4h0M135.6 552.8h0M131.1 546.8h0M141.2 544.7h0M134.6 553.3h0M131.1 544.1h0M131.0 548.1h0M140.8 543.7h0M133.6 552.9h0M135.9 550.5h0M137.3 550.8h0M130.0 547.8h0M132.0 557.6h0M126.4 557.6h0M135.9 541.8h0M140.9 542.3h0M130.4 555.1h0M128.7 559.2h0M128.2 556.7h0M133.6 554.4h0M130.2 557.7h0M134.1 541.7h0M138.7 548.3h0M133.0 546.2h0M131.6 549.1h0M133.6 541.8h0M133.2 546.5h0M132.9 552.4h0M136.2 546.6h0M137.4 551.9h0M134.5 540.5h0M138.3 539.6h0M138.8 548.3h0M131.6 555.6h0M138.6 547.9h0M133.1 553.2h0M127.7 556.7h0M135.5 547.4h0M143.9 543.3h0M129.1 548.0h0M132.7 548.6h0M133.7 547.8h0M136.0 539.6h0M136.9 546.1h0M137.0 552.5h0M131.5 551.5h0M132.4 552.1h0M133.0 548.9h0M127.4 558.5h0M132.4 547.2h0M130.6 546.3h0M133.8 555.5h0M132.1 547.3h0M134.8 551.7h0M134.6 545.0h0M133.0 548.3h0M130.3 547.4h0M141.2 542.7h0M131.5 550.3h0M136.1 544.4h0M135.2 552.0h0M122.3 559.6h0M136.8 550.4h0M135.4 543.5h0M138.7 552.2h0M140.9 544.7h0M132.8 549.7h0M134.6 554.6h0M142.2 545.8h0M132.8 555.3h0M137.9 539.0h0M133.5 546.4h0M140.7 542.3h0M129.7 555.4h0M132.6 544.7h0M141.4 543.8h0M139.4 541.9h0M135.1 551.1h0M136.2 543.0h0M139.9 546.9h0M132.0 543.7h0M131.0 555.5h0M133.0 545.0h0M135.7 550.8h0M139.8 542.7h0M132.7 552.8h0M140.8 543.7h0M132.5 551.6h0M136.9 544.6h0M134.2 553.3h0M132.7 556.3h0M131.0 551.7h0M132.1 551.9h0M132.2 551.4h0M133.1 545.9h0M138.0 551.5h0M130.0 549.2h0M132.2 551.1h0M132.9 553.4h0M135.5 549.0h0M133.6 544.7h0M130.4 556.6h0M139.2 548.9h0M125.1 559.4h0M136.1 552.0h0M129.2 557.0h0M133.8 543.0h0M140.0 546.3h0M138.1 549.0h0M138.3 537.6h0M135.6 542.6h0M138.8 548.8h0M139.3 542.0h0M123.1 558.6h0M126.4 560.1h0M125.0 558.5h0M134.2 545.3h0M139.1 542.0h0M133.6 552.1h0M134.6 555.6h0M132.9 545.4h0M131.3 547.8h0M133.4 545.1h0M132.6 549.0h0M129.6 557.3h0M135.7 547.7h0M140.1 544.3h0M141.3 541.4h0M140.4 541.2h0M134.1 555.8h0M131.1 545.1h0M124.6 557.7h0M142.1 544.7h0M133.5 548.5h0M138.9 548.4h0M138.0 547.7h0M139.3 546.2h0M138.0 550.8h0M138.3 539.5h0M132.4 556.3h0M132.6 542.1h0M129.1 558.2h0M135.2 542.4h0M131.3 556.5h0M133.8 544.9h0M134.5 542.1h0M135.6 546.7h0M141.4 545.5h0M135.7 541.9h0M136.6 541.5h0M140.8 541.3h0M133.9 550.2h0M138.9 543.4h0M135.5 539.2h0M139.8 542.2h0M135.8 547.6h0M134.5 554.8h0M142.1 543.7h0M131.6 556.9h0M137.0 546.6h0M138.6 540.2h0M139.3 542.0h0M135.3 546.4h0M126.7 559.3h0M138.7 552.1h0M137.5 541.9h0M136.4 545.2h0M136.4 551.7h0M135.1 543.6h0M136.6 544.1h0M128.5 558.3h0M140.8 541.2h0M127.3 558.8h0M139.0 541.6h0M130.2 553.8h0M130.7 556.6h0M133.6 554.3h0M132.9 542.9h0M141.8 543.3h0M133.2 551.5h0M134.5 549.6h0M129.1 558.7h0M138.0 550.6h0M133.1 545.9h0M133.0 551.9h0M129.3 555.6h0M136.4 553.2h0M137.7 545.3h0M133.2 543.0h0M130.4 546.4h0M127.9 557.7h0M127.9 557.8h0M134.3 544.4h0M132.4 551.6h0M126.4 558.9h0M135.9 546.5h0M130.4 553.5h0M128.3 554.8h0M135.9 551.9h0M138.4 550.4h0M134.2 544.7h0M138.4 540.6h0M131.4 550.3h0M136.4 540.2h0M122.4 560.0h0M129.8 558.6h0M133.5 549.3h0M123.0 559.1h0M126.9 558.2h0M131.7 556.8h0M140.0 546.3h0M132.0 553.4h0M131.7 545.2h0M138.3 550.5h0M136.5 552.2h0M139.6 540.5h0M128.2 554.5h0M133.2 543.7h0M128.3 555.6h0M135.4 540.5h0M137.3 542.3h0M135.0 551.1h0M133.9 540.9h0M134.4 543.2h0M133.9 546.8h0M130.3 556.1h0M137.0 547.9h0M136.6 541.6h0M128.6 557.9h0M136.6 540.5h0M130.3 556.6h0M135.1 546.8h0M135.6 539.5h0M135.5 544.6h0M131.8 546.2h0M141.6 543.4h0M132.5 552.2h0M138.2 538.3h0M125.2 558.6h0M135.3 546.1h0M137.8 538.4h0M129.0 557.3h0M130.3 556.2h0M125.5 557.9h0M131.8 549.5h0M135.8 540.0h0M132.1 546.3h0M133.9 551.2h0M136.8 543.6h0M131.3 554.1h0M133.6 551.9h0M132.5 555.9h0M132.6 550.4h0M132.8 549.9h0M133.9 547.1h0M139.6 544.7h0M138.0 549.9h0M134.2 542.2h0M131.1 555.8h0M133.5 546.1h0M136.4 539.4h0M133.0 547.2h0M136.8 554.0h0M136.9 547.5h0M134.3 546.5h0M133.1 544.9h0M138.9 544.0h0M131.1 543.9h0M134.6 553.9h0M132.2 551.7h0M134.0 552.5h0M135.0 553.8h0M123.5 559.7h0M133.2 554.7h0M131.1 547.9h0M139.7 542.9h0M136.6 549.2h0M132.2 552.9h0M137.2 543.2h0M139.8 540.4h0M133.4 542.8h0M135.0 541.4h0M132.7 541.5h0M128.7 558.5h0M128.3 558.2h0M139.6 543.6h0M125.4 559.2h0M141.8 540.3h0M140.5 542.0h0M142.1 546.1h0M133.2 546.3h0M128.3 558.3h0M138.4 543.2h0M135.5 547.9h0M141.0 539.7h0M132.5 547.6h0M135.1 540.5h0M132.0 543.7h0M130.4 549.2h0M134.1 551.3h0M131.4 550.5h0M135.7 540.2h0M133.1 547.1h0M134.4 547.1h0M135.9 553.2h0M129.3 545.9h0M125.2 559.6h0M133.1 553.8h0M129.6 557.9h0M143.3 540.1h0M132.9 550.9h0M136.3 540.2h0M129.0 555.1h0M126.4 556.1h0M130.5 552.2h0M130.2 555.8h0M137.1 549.8h0M129.9 555.4h0M135.3 545.7h0M141.0 538.8h0M126.9 559.2h0M139.3 541.5h0M134.4 543.7h0M125.8 559.0h0M140.6 541.4h0M134.6 553.1h0M132.9 552.4h0M137.3 541.3h0M139.2 544.9h0M133.8 554.4h0M133.5 544.3h0M139.0 548.0h0M137.8 548.1h0M135.3 540.0h0M133.7 549.6h0M138.4 539.5h0M132.5 550.6h0M131.8 548.3h0M135.0 545.4h0M129.6 556.6h0M133.1 540.9h0M134.3 549.7h0M134.2 540.3h0M137.4 548.8h0M140.1 544.4h0M139.4 544.6h0M137.6 544.2h0M138.8 543.3h0M139.5 542.9h0M139.6 547.2h0M137.9 547.4h0M140.6 547.0h0M131.5 556.9h0M137.2 546.0h0M128.9 555.8h0M126.3 560.5h0M136.4 548.2h0M130.8 556.4h0M138.5 540.3h0M133.2 543.1h0M130.5 551.5h0M133.3 551.9h0M133.1 546.7h0" stroke="#E58700" stroke-width="1.25" stroke-linecap="round"/>
<path d="M148.5 571.9h0M152.1 577.3h0M147.7 575.4h0M149.7 575.2h0M151.1 580.5h0M150.2 572.7h0M152.7 579.7h0M153.0 580.2h0M151.4 581.2h0M152.7 576.9h0M153.2 575.2h0M155.1 576.0h0M148.2 573.3h0M152.6 578.7h0M151.4 574.0h0M150.7 576.5h0M151.7 571.7h0M145.9 568.9h0M156.5 575.2h0M153.9 576.8h0M153.5 576.2h0M150.7 578.6h0M151.4 577.5h0M146.9 572.4h0M156.7 577.4h0M151.9 575.8h0M152.3 573.0h0M155.8 575.1h0M153.3 579.4h0M151.1 574.1h0M148.6 579.9h0M152.5 574.5h0M149.7 573.5h0M148.8 570.8h0M151.6 578.5h0M154.2 578.9h0M150.8 572.3h0M154.8 580.1h0M150.7 572.2h0M155.3 576.7h0M153.3 579.0h0M154.8 576.8h0M151.5 573.1h0M154.6 577.7h0M150.0 573.6h0M146.4 573.3h0M149.7 579.0h0M148.1 576.3h0M155.0 578.2h0M150.1 571.8h0M148.2 569.7h0M156.4 574.4h0M154.6 578.8h0M155.6 579.2h0M149.1 577.9h0M155.5 574.5h0M153.3 580.5h0M151.2 574.4h0M148.6 571.8h0M146.5 572.1h0M149.8 575.0h0M148.8 571.4h0M155.8 577.3h0M153.4 576.5h0M149.2 576.7h0M145.0 573.1h0M149.0 574.9h0M147.6 575.4h0M149.9 577.2h0M149.7 577.2h0M153.0 576.6h0M147.9 576.5h0M153.6 574.8h0M156.4 576.8h0M147.5 571.1h0M153.3 579.7h0M151.4 576.1h0M152.7 577.5h0M154.3 575.2h0M157.2 577.5h0M156.4 578.2h0M149.7 573.0h0M147.5 576.2h0M148.4 570.7h0M150.8 570.6h0M149.3 574.1h0M145.6 570.3h0M150.1 572.1h0M154.0 577.7h0M153.2 575.7h0M154.3 579.3h0M146.7 572.1h0M153.3 578.4h0M150.6 574.3h0M153.3 579.1h0M149.6 573.0h0M149.1 570.4h0M148.4 578.6h0M154.8 580.0h0M152.4 572.7h0M152.7 572.9h0M154.3 574.6h0M147.5 574.7h0M150.4 571.9h0M149.2 570.8h0M150.0 580.1h0M155.9 577.0h0M150.3 577.1h0M146.2 569.8h0M151.6 574.5h0M155.4 576.1h0M144.9 569.0h0M152.4 578.2h0M151.1 578.3h0M147.1 569.0h0M148.0 570.2h0M152.4 577.7h0M153.6 572.8h0M147.9 574.5h0M149.0 573.7h0M144.3 568.6h0M156.5 575.6h0M150.5 571.7h0M146.1 572.1h0M151.6 577.6h0M147.1 570.8h0M153.0 576.6h0M152.7 579.7h0M151.7 578.4h0M155.5 577.4h0M151.7 573.8h0M150.3 575.8h0M154.0 579.3h0M157.6 576.6h0M154.5 576.8h0M152.0 576.3h0M150.1 579.7h0M153.5 573.1h0M153.6 572.2h0M144.4 571.5h0M151.2 580.2h0M149.7 573.6h0M149.5 575.7h0M146.6 572.3h0M151.8 579.7h0M150.9 577.8h0M147.2 571.2h0M149.1 572.6h0M153.3 576.8h0M147.2 571.6h0M153.3 576.5h0M150.8 576.4h0M149.7 571.7h0M149.1 571.6h0M147.9 576.4h0M145.1 571.2h0M157.6 576.2h0M150.5 571.3h0M152.8 573.4h0M152.6 576.2h0M148.3 575.8h0M154.1 579.0h0M148.1 571.4h0M151.3 574.0h0M159.1 576.0h0M145.3 570.4h0M146.9 572.4h0M150.8 574.4h0M156.6 574.5h0M151.3 573.8h0M149.0 572.2h0M150.8 575.8h0M150.1 577.1h0M154.8 575.8h0M155.3 575.2h0M153.5 575.1h0M150.9 575.7h0M152.4 574.4h0M146.7 570.8h0M148.0 568.9h0M154.2 579.3h0M147.8 573.5h0M149.1 576.4h0M152.4 573.5h0M157.6 577.2h0M146.9 577.3h0M151.6 576.9h0M158.2 577.7h0M152.6 578.3h0M150.9 578.2h0M155.6 575.8h0M148.3 574.6h0M155.0 575.3h0M149.1 573.5h0M152.3 576.2h0M151.3 573.1h0M144.1 571.1h0M154.0 577.4h0M151.4 572.4h0M147.2 569.6h0M149.0 574.8h0M145.0 569.1h0M147.5 575.1h0M158.9 577.3h0M149.1 570.7h0M151.3 576.9h0M151.8 580.1h0M148.5 571.7h0M145.6 573.5h0M146.0 571.7h0M148.5 572.0h0M145.5 570.5h0M151.6 572.4h0M150.3 575.9h0M150.2 579.4h0M150.2 574.1h0M157.3 576.5h0M153.0 577.6h0M149.6 574.5h0M153.0 579.6h0M150.9 571.3h0M153.4 581.6h0M145.8 569.2h0M148.1 574.0h0M149.1 574.4h0M148.2 572.4h0M145.1 571.3h0M147.6 574.4h0M152.6 577.0h0M152.9 573.4h0M145.9 568.6h0M148.5 569.6h0M147.8 571.1h0M152.5 574.6h0M151.8 579.4h0M147.8 572.9h0M147.0 571.4h0M151.3 575.4h0M150.9 573.3h0M145.1 569.3h0M147.5 574.5h0M153.4 575.8h0M152.8 579.1h0M147.6 570.9h0M154.7 573.5h0M156.2 576.9h0M148.6 575.0h0M148.8 574.7h0M152.3 580.1h0M144.4 568.6h0M153.6 573.9h0M152.1 577.8h0M150.6 579.0h0M148.3 570.3h0M152.5 578.9h0M152.3 573.6h0M154.5 579.7h0M149.2 572.4h0M148.9 576.2h0M152.4 573.9h0M150.9 577.2h0M150.3 573.2h0M151.9 579.4h0M149.5 572.5h0M152.6 576.5h0M153.4 576.5h0M155.8 577.6h0M155.1 576.5h0M146.2 572.4h0M149.8 571.0h0M151.6 576.6h0M152.7 578.3h0M147.4 574.9h0M148.4 575.0h0M156.2 576.0h0M148.7 570.3h0M154.2 575.1h0M150.0 576.3h0M150.4 576.0h0M153.2 574.4h0M146.4 571.9h0M155.8 576.2h0M147.2 573.6h0M151.5 575.5h0M149.1 579.7h0M149.0 571.8h0M156.2 576.5h0M154.7 574.1h0" stroke="#C99800" stroke-width="1.25" stroke-linecap="round"/>
<path d="M94.7 574.8h0M91.8 576.1h0M91.4 571.0h0M96.9 572.5h0M93.2 572.0h0M97.6 573.3h0M92.6 569.8h0M98.9 573.6h0M97.3 570.6h0M90.7 576.6h0M94.6 570.8h0M93.3 575.5h0M96.0 570.9h0M95.0 569.8h0M93.3 571.3h0M93.1 573.8h0M91.2 577.2h0M97.8 571.7h0M94.6 573.5h0M91.1 575.5h0M95.7 572.4h0M94.4 572.9h0M93.1 573.8h0M91.2 572.7h0M94.9 573.5h0M94.3 576.5h0M91.8 573.8h0M100.4 573.1h0M92.9 572.3h0M92.0 572.5h0M94.2 573.3h0M91.1 571.7h0M96.3 573.5h0M92.2 575.6h0M91.0 571.7h0M97.7 571.1h0M98.1 576.3h0M93.5 576.8h0M94.2 572.7h0M98.1 574.1h0M93.0 569.2h0M96.1 571.3h0M96.3 577.5h0M96.6 571.1h0M97.2 572.0h0M96.8 572.3h0M93.2 572.4h0M93.4 570.3h0M96.8 572.2h0M97.2 573.6h0M97.3 569.9h0M93.2 569.9h0M95.8 573.1h0M95.5 573.0h0M96.8 574.6h0M94.2 570.2h0M98.1 571.2h0M94.3 570.3h0M94.8 579.2h0M95.9 571.1h0M90.9 576.6h0M90.7 572.7h0M93.0 576.4h0M95.4 572.2h0M94.6 575.9h0M98.1 575.5h0M94.4 575.5h0M90.9 578.1h0M96.9 574.7h0M91.9 573.7h0M94.6 571.0h0M95.3 576.0h0M97.2 577.1h0M95.2 577.7h0M94.9 570.7h0M97.1 573.5h0M97.4 574.9h0M90.0 573.1h0M88.8 573.5h0M90.4 570.6h0M89.5 573.6h0M92.0 576.1h0M96.1 570.0h0M95.5 574.2h0M94.2 573.6h0M96.5 575.3h0M90.1 574.0h0M92.4 575.0h0M90.0 570.1h0M95.2 577.0h0M92.1 575.2h0M97.7 572.2h0M95.9 576.8h0M98.5 575.7h0M91.8 572.6h0M92.4 578.4h0M90.0 572.5h0M92.5 573.5h0M91.5 577.9h0M90.6 572.8h0M96.6 576.5h0M90.1 573.1h0M96.8 572.8h0M97.0 572.8h0M92.3 574.5h0M97.1 577.7h0M94.3 574.1h0M93.6 577.7h0M97.7 571.8h0M97.3 572.1h0M97.9 571.2h0M93.1 571.0h0M92.0 575.0h0M94.6 575.5h0M90.4 577.0h0M93.7 577.3h0M95.6 574.0h0M96.0 572.7h0M98.0 576.0h0M96.2 573.8h0M92.2 575.8h0M92.2 572.6h0M94.8 571.3h0M97.4 575.2h0M98.9 572.2h0M98.8 571.5h0M89.1 575.5h0M90.5 577.8h0M95.1 571.0h0M89.8 576.0h0M97.7 577.5h0M93.8 577.9h0M98.0 575.5h0M87.8 573.9h0M91.8 575.4h0M91.3 575.8h0M90.6 575.1h0M90.2 574.6h0M88.2 573.9h0M97.4 575.4h0M97.9 577.1h0M89.7 571.5h0M93.2 570.1h0M97.1 577.6h0M94.4 577.0h0M97.3 571.0h0M91.8 574.3h0M90.7 573.4h0M97.8 574.6h0M92.8 578.0h0M94.5 577.8h0M97.1 576.4h0M94.1 574.0h0M91.6 574.7h0M97.4 572.4h0M97.4 578.6h0M94.0 572.7h0M94.3 573.4h0M95.4 574.0h0M96.5 573.7h0M97.6 571.3h0M97.0 571.8h0M95.9 574.9h0M94.1 571.4h0M99.3 571.8h0M94.5 570.6h0M98.3 576.4h0M92.3 576.2h0M96.7 570.6h0M92.2 573.3h0M97.0 572.9h0M93.8 570.3h0M98.1 568.8h0M93.6 577.5h0M96.7 574.0h0M97.9 573.7h0M99.9 574.6h0M89.9 577.1h0M93.5 573.2h0M95.0 571.9h0M90.9 574.6h0M96.2 575.1h0M90.5 570.8h0M94.3 573.1h0M94.7 574.5h0M98.5 576.2h0M95.2 571.8h0M97.5 577.2h0M99.1 577.1h0M91.3 571.1h0M92.2 577.4h0M97.6 571.7h0M91.2 574.4h0M91.6 574.2h0M91.4 574.3h0M97.3 569.2h0M92.3 576.0h0M98.5 570.9h0M94.8 575.4h0M98.2 577.7h0M96.2 570.3h0M96.5 573.6h0M91.8 573.4h0M92.6 576.3h0M96.0 576.7h0M93.0 576.9h0M97.8 571.1h0M89.9 574.9h0M93.5 573.8h0M91.7 575.2h0M90.4 572.6h0M90.8 571.7h0M93.4 575.0h0M93.5 573.2h0M92.8 572.0h0M91.2 573.9h0M95.5 571.9h0M96.6 578.7h0M96.8 577.2h0M99.1 570.0h0M95.0 574.5h0M98.5 571.6h0M96.3 577.9h0M97.2 574.2h0" stroke="#A3A500" stroke-width="1.25" stroke-linecap="round"/>
<path d="M110.2 558.2h0M108.4 556.8h0M106.5 547.2h0M106.2 546.7h0M108.8 555.3h0M102.1 544.6h0M105.5 546.6h0M105.5 548.9h0M103.4 546.2h0M106.6 551.8h0M107.7 556.3h0M108.2 556.8h0M108.6 552.5h0M105.9 546.3h0M104.9 544.9h0M106.3 552.0h0M104.9 547.6h0M104.2 545.1h0M105.6 547.1h0M109.3 553.3h0M107.3 557.2h0M108.8 553.8h0M104.1 547.1h0M108.1 548.9h0M106.2 547.8h0M106.4 547.8h0M109.2 550.6h0M106.7 548.1h0M107.3 552.7h0M105.5 548.7h0M104.4 545.8h0M108.2 556.9h0M106.5 552.8h0M108.9 552.3h0M110.5 557.9h0M106.8 554.7h0M105.8 550.1h0M107.3 556.1h0M110.1 556.9h0M107.7 549.0h0M105.3 546.9h0M108.5 556.8h0M106.1 550.9h0M103.3 542.7h0M105.3 550.3h0M105.5 552.3h0M107.6 553.7h0M103.3 547.4h0M108.1 551.8h0M110.2 556.8h0M103.7 549.0h0M106.4 548.4h0M111.0 559.0h0M103.2 547.3h0M106.7 553.1h0M107.1 553.1h0M105.1 544.8h0M109.2 559.4h0M106.6 547.6h0M108.4 552.9h0M107.5 550.1h0M107.1 550.4h0M111.3 559.9h0M105.8 547.9h0M109.9 558.1h0M110.5 557.1h0M110.0 559.2h0M105.7 550.2h0M103.0 545.4h0M105.4 546.2h0M107.2 550.6h0M110.7 557.7h0M105.5 546.3h0M107.5 555.3h0M107.8 557.0h0M109.8 553.9h0M111.1 559.6h0M105.4 547.0h0M109.1 555.6h0M106.0 545.4h0M102.2 545.1h0M104.0 554.0h0M103.4 544.4h0M109.2 559.2h0M110.4 557.9h0M110.2 557.3h0M110.4 557.9h0M109.7 557.3h0M107.2 549.4h0M108.6 555.6h0M103.8 548.1h0M109.9 556.9h0M106.3 551.8h0M108.6 554.5h0M107.8 556.3h0M110.0 554.6h0M106.5 551.8h0M105.5 548.7h0M104.5 545.1h0M106.1 547.8h0M106.2 548.5h0M106.9 549.7h0M112.2 559.6h0M109.0 560.8h0M107.3 553.7h0M110.5 554.6h0M108.5 558.5h0M109.8 561.1h0M107.2 558.1h0M106.5 550.5h0M106.0 549.0h0M107.0 553.8h0M108.3 558.2h0M111.0 556.4h0M109.5 557.0h0M109.2 556.3h0M110.2 557.4h0M105.6 546.5h0M106.7 551.4h0M109.6 557.8h0M103.4 543.6h0M107.4 556.8h0M105.9 551.5h0M106.0 548.2h0M105.5 548.4h0M107.7 551.3h0M105.2 549.0h0M104.7 545.5h0M109.6 555.9h0M104.8 551.5h0M106.8 552.7h0M104.2 548.7h0M106.0 551.8h0M104.8 548.1h0M104.0 549.9h0M105.5 548.5h0M110.3 556.3h0M104.9 547.8h0M107.5 547.9h0M106.6 548.7h0M106.5 550.0h0M108.4 556.2h0M105.5 549.3h0M105.2 548.8h0M106.2 556.3h0M104.6 547.5h0M104.5 546.8h0M104.9 551.6h0M107.3 555.4h0M109.6 553.0h0M108.6 558.5h0M111.0 558.2h0M103.3 545.2h0M106.1 551.7h0M102.5 545.2h0M108.7 555.2h0M109.4 558.2h0M108.0 551.0h0M109.7 556.1h0M106.4 551.9h0M104.0 549.9h0M103.4 544.3h0M106.3 549.9h0M106.5 548.7h0M105.3 546.1h0M106.2 550.6h0M107.0 550.9h0M104.2 547.9h0M110.1 558.9h0M106.6 548.1h0M106.7 555.3h0M104.9 551.0h0M110.3 556.8h0M109.5 556.3h0M110.7 557.7h0M104.4 548.2h0M111.2 557.0h0M108.3 557.8h0M107.9 552.6h0M104.4 545.9h0M105.9 547.7h0M108.4 557.2h0M104.9 549.8h0M104.2 544.2h0M106.6 551.7h0M108.7 554.3h0M105.1 549.4h0M103.6 544.1h0M106.9 555.0h0M104.2 545.6h0M109.5 555.2h0M106.8 553.0h0M106.8 549.0h0M103.5 547.1h0M105.6 545.5h0M107.3 554.1h0M105.1 549.8h0M108.1 552.8h0M107.2 550.0h0M108.8 556.8h0M106.3 551.2h0M107.4 552.6h0M102.7 545.5h0M103.9 549.0h0M110.8 559.4h0M105.6 547.2h0M107.3 553.7h0M109.7 556.4h0M107.7 548.6h0M106.3 546.3h0" stroke="#6BB100" stroke-width="1.25" stroke-linecap="round"/>
<path d="M58.9 565.4h0M62.0 566.1h0M57.3 564.2h0M56.6 563.8h0M50.0 562.4h0M59.8 565.4h0M61.4 566.9h0M54.5 562.3h0M56.7 565.6h0M60.8 566.3h0M59.5 564.1h0M58.0 566.2h0M62.4 568.0h0M61.3 565.2h0M55.9 564.9h0M58.9 564.8h0M54.6 562.4h0M61.7 566.2h0M58.3 565.4h0M63.4 567.1h0M59.5 564.9h0M57.2 564.9h0M59.9 565.6h0M58.9 565.4h0M55.4 563.8h0M57.5 564.8h0M54.0 561.9h0M57.3 564.6h0M56.5 564.4h0M61.9 567.8h0M62.4 566.6h0M54.6 563.1h0M56.9 565.0h0M58.1 565.8h0M62.8 565.9h0M63.2 567.9h0M57.0 563.9h0M54.0 562.6h0M56.7 563.9h0M56.0 564.1h0M54.4 561.7h0M62.6 565.1h0M51.6 563.7h0M53.8 563.8h0M57.8 565.6h0M62.6 567.1h0M54.9 563.4h0M52.3 562.7h0M57.3 562.9h0M60.3 565.5h0M54.1 562.6h0M52.1 562.7h0M54.2 563.0h0M62.6 565.9h0M56.2 564.2h0M59.0 565.2h0M61.8 566.8h0M53.7 564.6h0M58.1 565.3h0M55.5 565.1h0M59.5 565.3h0M55.5 563.0h0M55.2 563.6h0M53.0 562.2h0M56.4 564.6h0M56.7 563.5h0M62.3 567.2h0M56.2 563.0h0M53.8 562.9h0M55.1 563.9h0M58.1 564.0h0M55.6 564.9h0M52.4 561.9h0M59.3 565.5h0M53.0 562.7h0M60.3 566.3h0M57.0 565.2h0M53.2 562.7h0M57.2 564.7h0M55.8 562.9h0M61.8 565.9h0M59.5 566.9h0M53.4 564.1h0M62.6 565.4h0M61.9 567.1h0M54.5 562.8h0M52.9 563.0h0M57.9 565.1h0M55.3 563.2h0M59.6 566.6h0M53.7 563.3h0M53.0 564.2h0M55.9 564.9h0M55.0 563.1h0M52.7 563.6h0M60.0 565.7h0M61.9 565.1h0M51.8 562.3h0M60.2 565.7h0M57.2 563.6h0M52.3 563.2h0M54.4 564.4h0M61.6 566.8h0M57.0 565.2h0M53.8 564.1h0M61.7 567.0h0M51.4 563.3h0M52.0 562.9h0M60.1 565.3h0M61.6 565.5h0M59.2 565.8h0M54.6 564.2h0M55.0 563.8h0M60.3 567.7h0M54.6 565.4h0M59.5 566.1h0M57.0 565.3h0M53.0 562.9h0M60.1 566.4h0M63.5 566.9h0M56.8 564.1h0M56.7 564.7h0M62.1 565.8h0M62.1 567.3h0M54.4 564.0h0M62.1 566.8h0M60.1 567.0h0M50.9 562.2h0M63.1 566.4h0M55.2 564.5h0M54.3 563.8h0M51.7 562.4h0M54.5 563.3h0M55.8 564.5h0M63.4 566.8h0M59.7 566.4h0M54.8 564.4h0M61.5 566.5h0M59.7 564.7h0M60.9 567.9h0M55.5 563.0h0M55.3 564.1h0M53.7 563.7h0M55.5 563.0h0M53.2 561.9h0M57.0 564.7h0M57.9 565.5h0M53.8 562.2h0M57.9 564.8h0M59.5 565.4h0" stroke="#00BA38" stroke-width="1.25" stroke-linecap="round"/>
<path d="M106.8 614.9h0M105.2 617.8h0M104.2 617.0h0M100.6 614.6h0M103.1 611.5h0M103.5 617.5h0M102.1 615.5h0M104.8 610.5h0M101.9 613.3h0M101.8 611.1h0M104.9 612.0h0M104.7 610.8h0M106.2 616.9h0M105.3 613.3h0M105.6 617.4h0M104.6 611.7h0M106.0 617.6h0M107.7 614.2h0M105.1 614.0h0M107.5 613.6h0M103.5 610.3h0M105.8 609.9h0M102.9 610.7h0M102.2 616.9h0M102.1 610.8h0M104.1 614.4h0M103.6 609.4h0M107.4 615.4h0M102.1 617.4h0M105.1 612.4h0M101.0 616.3h0M103.4 612.5h0M108.5 616.4h0M106.3 612.0h0M103.7 609.4h0M101.5 614.1h0M103.8 618.2h0M107.8 613.7h0M108.1 616.3h0M106.0 615.9h0M105.9 615.0h0M103.1 615.8h0M102.8 615.9h0M106.1 615.7h0M103.5 610.5h0M102.5 614.8h0M107.6 613.4h0M105.8 610.8h0M105.3 611.7h0M101.9 611.1h0M105.4 616.0h0M106.0 614.3h0M103.7 612.5h0M107.7 615.7h0M101.9 611.6h0M107.9 616.1h0M103.1 613.5h0M102.7 610.0h0M104.9 614.1h0M109.1 615.1h0M106.8 612.2h0M104.8 615.4h0M105.3 611.3h0M104.3 610.2h0M107.2 617.7h0M107.2 615.6h0M105.5 614.5h0M106.3 611.6h0M106.1 612.1h0M107.1 617.0h0M108.1 612.8h0M103.6 616.7h0M108.5 614.7h0M103.7 612.3h0M107.3 612.6h0M100.1 615.7h0M104.3 615.5h0M103.5 616.9h0M102.4 612.4h0M106.8 613.1h0M107.4 614.0h0M102.1 614.3h0M106.5 613.6h0M104.4 613.6h0M103.7 612.3h0M106.6 611.3h0M102.8 613.9h0M103.9 616.2h0M101.4 611.9h0M101.4 611.8h0M105.1 611.9h0M107.3 614.7h0M104.9 616.6h0M104.2 614.6h0M105.0 617.5h0M105.4 615.3h0M102.8 616.7h0M100.1 615.3h0M102.9 613.3h0M104.3 609.6h0M108.1 614.6h0M105.5 612.9h0M105.1 612.3h0M105.2 611.7h0M106.8 616.4h0M107.6 614.4h0M103.7 618.1h0M101.8 613.1h0M107.8 617.5h0M107.6 617.0h0M106.2 610.8h0M105.0 611.7h0M105.1 617.8h0M107.6 615.2h0M105.5 617.4h0M106.0 616.9h0M103.5 618.3h0M106.8 617.5h0M103.6 610.8h0M102.3 610.2h0M103.0 615.0h0M102.8 614.4h0M106.8 616.1h0M107.1 615.7h0M106.9 610.9h0M106.3 617.2h0M109.3 613.0h0M105.9 611.3h0M103.9 612.4h0M104.9 610.5h0M104.8 614.2h0M103.1 618.5h0M103.6 613.2h0M101.0 615.3h0M103.1 610.7h0M102.8 612.0h0M105.9 611.1h0M106.7 613.3h0M105.2 616.1h0M104.2 615.6h0M109.0 613.5h0M101.5 616.5h0M101.1 618.0h0M105.6 614.5h0M106.6 614.2h0M107.2 617.9h0M105.5 616.8h0M105.8 613.5h0M101.9 617.2h0M106.4 616.9h0M102.3 614.3h0M103.5 618.3h0M106.4 614.9h0M102.7 612.8h0M107.7 612.2h0M107.4 615.0h0M105.6 610.1h0M108.5 614.6h0M102.2 614.0h0M102.1 611.8h0M103.3 616.1h0M107.7 615.7h0M105.8 613.8h0M102.1 616.0h0M103.2 614.3h0M102.8 614.1h0M105.2 616.6h0M106.5 611.3h0M105.1 616.4h0M105.8 617.0h0M104.9 613.3h0M103.2 610.0h0M107.6 613.8h0M104.0 614.5h0M104.6 611.4h0M103.9 609.4h0" stroke="#00BF7D" stroke-width="1.25" stroke-linecap="round"/>
<path d="M111.9 542.9h0M113.6 542.9h0M113.9 545.2h0M111.8 541.0h0M117.3 536.9h0M111.7 544.6h0M114.7 541.2h0M111.0 539.7h0M111.4 541.0h0M112.9 540.8h0M115.7 538.3h0M115.0 540.2h0M115.7 538.0h0M111.0 541.1h0M116.4 537.6h0M112.7 545.3h0M112.5 541.3h0M116.0 535.5h0M111.5 540.8h0M111.5 541.9h0M112.7 541.0h0M113.9 540.5h0M117.8 537.5h0M113.6 543.4h0M111.8 540.5h0M111.2 545.3h0M112.7 544.2h0M112.0 540.6h0M115.9 537.4h0M113.9 541.0h0M113.2 542.9h0M112.7 543.2h0M113.8 540.7h0M110.8 543.4h0M113.4 541.8h0M112.4 541.6h0M115.8 538.7h0M112.6 540.3h0M113.9 540.1h0M111.0 542.4h0M113.4 541.4h0M110.9 543.3h0M113.4 540.4h0M114.6 538.4h0M116.7 536.7h0M117.3 537.3h0M117.0 536.3h0M113.9 540.3h0M115.8 539.5h0M115.3 538.4h0M115.6 541.4h0M112.3 542.2h0M113.5 541.5h0M112.5 545.4h0M115.0 540.6h0M113.6 540.9h0M112.2 541.1h0M112.6 544.9h0M110.8 540.7h0M111.7 540.3h0M113.5 544.3h0M112.4 541.5h0M113.0 541.0h0M113.5 541.2h0M115.4 538.0h0M109.8 539.8h0M112.6 542.7h0M112.5 541.3h0M114.9 538.8h0M110.4 539.5h0M116.0 539.5h0M112.2 544.5h0M114.8 539.9h0M115.1 538.3h0M112.4 544.1h0M115.0 538.6h0M111.5 543.4h0M115.8 539.7h0M113.1 541.4h0M110.9 539.9h0M115.1 539.8h0M115.0 539.2h0M114.8 538.1h0M113.1 539.6h0M112.3 540.5h0M113.0 540.5h0M113.0 543.4h0M111.2 539.9h0M110.4 540.0h0M112.2 540.4h0M113.3 542.4h0M114.3 540.4h0M113.3 542.2h0M116.2 537.4h0M115.7 538.9h0M111.2 543.2h0M112.1 545.2h0M112.1 541.8h0M116.7 537.6h0M111.9 545.7h0M113.4 542.4h0M112.3 544.3h0M114.6 538.8h0M113.3 540.1h0M112.7 540.1h0" stroke="#00C0AF" stroke-width="1.25" stroke-linecap="round"/>
<path d="M74.2 587.5h0M76.0 586.6h0M74.9 586.6h0M75.1 586.3h0M74.3 586.3h0M75.8 588.3h0M73.7 585.7h0M74.7 590.7h0M74.9 587.5h0M75.0 587.4h0M74.6 586.1h0M73.7 589.1h0M74.4 586.2h0M75.2 586.3h0M74.8 584.8h0M75.1 587.9h0M75.8 586.1h0M74.6 586.0h0M75.7 589.6h0M73.1 586.4h0M74.1 585.4h0M76.4 587.3h0M75.0 589.6h0M75.1 588.9h0M74.6 589.2h0M75.4 587.3h0M75.2 588.5h0M74.5 587.9h0M74.7 589.0h0M74.9 586.7h0M74.4 589.0h0M77.5 586.1h0M74.6 587.1h0M75.1 586.5h0M75.7 586.4h0M75.5 587.7h0M74.8 588.0h0M75.1 585.3h0M75.4 586.4h0M76.7 587.5h0M75.3 587.5h0M75.8 588.4h0" stroke="#00BCD8" stroke-width="1.25" stroke-linecap="round"/>
<path d="M132.9 535.7h0M130.7 533.4h0M131.2 534.6h0M130.2 534.5h0M131.0 533.5h0M130.1 533.4h0M128.8 532.5h0M132.2 535.7h0M129.8 533.6h0M131.0 536.7h0M130.2 532.9h0M130.3 531.8h0M131.7 533.7h0M130.4 533.5h0M130.5 531.3h0M129.8 530.8h0M128.9 532.4h0M130.4 534.7h0M129.8 532.3h0M132.8 536.6h0M129.8 536.6h0M127.7 534.6h0M127.5 534.1h0M129.6 532.9h0M131.4 535.7h0M131.1 535.9h0M132.5 537.0h0M132.8 533.0h0M132.5 532.9h0M131.6 534.3h0M133.9 532.2h0M131.4 537.0h0M130.6 533.0h0M127.8 533.6h0M129.2 534.4h0M132.1 534.1h0M131.1 533.9h0M131.3 531.0h0M131.6 534.4h0M129.3 534.6h0M130.5 534.8h0M131.1 535.6h0M132.4 532.1h0M132.4 533.6h0M132.1 536.3h0M128.8 535.2h0M129.6 534.0h0M131.8 532.8h0M131.5 533.5h0M131.3 536.1h0M131.8 533.8h0M133.0 533.8h0M133.2 533.3h0M129.8 534.0h0M131.2 534.7h0M130.1 534.0h0M128.9 533.2h0M131.1 531.4h0M133.6 533.1h0M131.5 536.1h0M132.2 532.9h0M131.7 536.8h0M130.4 533.1h0M132.0 532.9h0M130.4 534.7h0M129.7 536.2h0" stroke="#00B0F6" stroke-width="1.25" stroke-linecap="round"/>
<path d="M157.1 585.4h0M157.1 584.0h0M159.5 586.4h0M158.6 584.5h0M159.2 585.7h0M159.4 585.2h0M157.1 584.7h0M159.4 585.8h0M159.6 585.8h0M159.4 586.6h0M158.7 586.2h0M161.2 586.5h0M157.8 584.1h0M160.3 586.8h0M158.5 584.2h0M157.4 584.1h0M161.5 586.9h0M158.7 585.0h0M157.9 585.5h0M160.4 586.8h0M161.3 587.5h0M160.9 586.7h0M162.2 585.4h0M160.2 585.7h0M159.2 586.2h0M161.0 587.5h0M158.0 584.6h0M160.8 587.7h0M161.5 586.3h0M162.2 586.1h0M161.1 585.6h0M159.6 586.8h0M156.6 583.5h0M158.0 585.6h0M158.1 585.2h0M158.4 585.1h0M159.3 585.6h0M156.5 585.4h0M156.2 583.4h0M159.5 586.8h0M160.7 587.3h0M157.0 583.8h0" stroke="#619CFF" stroke-width="1.25" stroke-linecap="round"/>
<path d="M36.1 547.5h0M36.7 547.7h0M35.5 547.3h0M36.2 547.4h0M35.6 547.4h0M36.1 547.4h0M35.9 546.9h0M36.0 547.6h0M36.5 547.3h0M35.1 547.5h0M35.3 546.9h0M36.4 547.7h0" stroke="#B983FF" stroke-width="1.25" stroke-linecap="round"/>
<path d="M109.5 499.7h0M110.1 499.9h0M109.8 499.9h0M110.3 499.7h0M110.0 499.7h0M109.6 499.6h0" stroke="#E76BF3" stroke-width="1.25" stroke-linecap="round"/>
<path d="M116.0 530.6h0M116.2 530.7h0M116.0 530.8h0M116.2 530.5h0M116.2 530.8h0M116.4 530.5h0" stroke="#FD61D1" stroke-width="1.25" stroke-linecap="round"/>
<path d="M63.4 573.1h0M63.3 573.0h0M63.0 572.9h0M63.4 573.1h0M63.3 573.0h0M63.0 572.7h0" stroke="#FF67A4" stroke-width="1.25" stroke-linecap="round"/>
<text x="113.3" y="568.5" font-size="6.4" text-anchor="middle" fill="#000">0</text>
<text x="134.3" y="548.3" font-size="6.4" text-anchor="middle" fill="#000">1</text>
<text x="150.3" y="577.9" font-size="6.4" text-anchor="middle" fill="#000">2</text>
<text x="94" y="576.3" font-size="6.4" text-anchor="middle" fill="#000">3</text>
<text x="107.6" y="553.6" font-size="6.4" text-anchor="middle" fill="#000">4</text>
<text x="55.1" y="566.6" font-size="6.4" text-anchor="middle" fill="#000">5</text>
<text x="105" y="616.3" font-size="6.4" text-anchor="middle" fill="#000">6</text>
<text x="114.3" y="543.3" font-size="6.4" text-anchor="middle" fill="#000">7</text>
<text x="76" y="589.8" font-size="6.4" text-anchor="middle" fill="#000">8</text>
<text x="130.4" y="536.3" font-size="6.4" text-anchor="middle" fill="#000">9</text>
<text x="160.1" y="588.7" font-size="6.4" text-anchor="middle" fill="#000">10</text>
<text x="35.7" y="549.7" font-size="6.4" text-anchor="middle" fill="#000">11</text>
<text x="109.8" y="501.8" font-size="6.4" text-anchor="middle" fill="#000">12</text>
<text x="116.1" y="532.8" font-size="6.4" text-anchor="middle" fill="#000">13</text>
<text x="63" y="575.3" font-size="6.4" text-anchor="middle" fill="#000">14</text>
<circle cx="181" cy="499.5" r="2.2" fill="#F8766D"/>
<text x="189.8" y="501.8" font-size="6.4">0</text>
<circle cx="181" cy="508.32" r="2.2" fill="#E58700"/>
<text x="189.8" y="510.62" font-size="6.4">1</text>
<circle cx="181" cy="517.14" r="2.2" fill="#C99800"/>
<text x="189.8" y="519.44" font-size="6.4">2</text>
<circle cx="181" cy="525.96" r="2.2" fill="#A3A500"/>
<text x="189.8" y="528.26" font-size="6.4">3</text>
<circle cx="181" cy="534.78" r="2.2" fill="#6BB100"/>
<text x="189.8" y="537.08" font-size="6.4">4</text>
<circle cx="181" cy="543.6" r="2.2" fill="#00BA38"/>
<text x="189.8" y="545.9" font-size="6.4">5</text>
<circle cx="181" cy="552.42" r="2.2" fill="#00BF7D"/>
<text x="189.8" y="554.72" font-size="6.4">6</text>
<circle cx="181" cy="561.24" r="2.2" fill="#00C0AF"/>
<text x="189.8" y="563.54" font-size="6.4">7</text>
<circle cx="181" cy="570.06" r="2.2" fill="#00BCD8"/>
<text x="189.8" y="572.36" font-size="6.4">8</text>
<circle cx="181" cy="578.88" r="2.2" fill="#00B0F6"/>
<text x="189.8" y="581.18" font-size="6.4">9</text>
<circle cx="181" cy="587.7" r="2.2" fill="#619CFF"/>
<text x="189.8" y="590" font-size="6.4">10</text>
<circle cx="181" cy="596.52" r="2.2" fill="#B983FF"/>
<text x="189.8" y="598.82" font-size="6.4">11</text>
<circle cx="181" cy="605.34" r="2.2" fill="#E76BF3"/>
<text x="189.8" y="607.64" font-size="6.4">12</text>
<circle cx="181" cy="614.16" r="2.2" fill="#FD61D1"/>
<text x="189.8" y="616.46" font-size="6.4">13</text>
<circle cx="181" cy="622.98" r="2.2" fill="#FF67A4"/>
<text x="189.8" y="625.28" font-size="6.4">14</text>
<text x="212.5" y="484.2" font-size="16">f</text>
<line x1="231.2" y1="490" x2="231.2" y2="626.9" stroke="#222" stroke-width="0.8"/>
<line x1="230.8" y1="626.5" x2="378.8" y2="626.5" stroke="#222" stroke-width="0.8"/>
<line x1="228.7" y1="523.3" x2="231.2" y2="523.3" stroke="#222" stroke-width="0.8"/>
<text x="227.6" y="526" font-size="7.6" text-anchor="end">10</text>
<line x1="228.7" y1="563" x2="231.2" y2="563" stroke="#222" stroke-width="0.8"/>
<text x="227.6" y="565.7" font-size="7.6" text-anchor="end">0</text>
<line x1="228.7" y1="602.7" x2="231.2" y2="602.7" stroke="#222" stroke-width="0.8"/>
<text x="227.6" y="605.4" font-size="7.6" text-anchor="end">−10</text>
<line x1="271.9" y1="626.5" x2="271.9" y2="629" stroke="#222" stroke-width="0.8"/>
<text x="271.9" y="635.6" font-size="7.6" text-anchor="middle">−10</text>
<line x1="320.9" y1="626.5" x2="320.9" y2="629" stroke="#222" stroke-width="0.8"/>
<text x="320.9" y="635.6" font-size="7.6" text-anchor="middle">0</text>
<line x1="369.9" y1="626.5" x2="369.9" y2="629" stroke="#222" stroke-width="0.8"/>
<text x="369.9" y="635.6" font-size="7.6" text-anchor="middle">10</text>
<text x="304.8" y="646.4" font-size="8.4" text-anchor="middle">umap_1</text>
<text x="214.5" y="559.3" font-size="8.4" text-anchor="middle" transform="rotate(-90 214.5 559.3)">umap_2</text>
<path d="M347.0 545.1h0M312.8 546.1h0M347.2 546.0h0M341.0 531.3h0M344.2 552.6h0M303.1 571.9h0M265.6 564.8h0M337.9 531.2h0M338.5 533.0h0M297.2 574.1h0M347.1 543.3h0M342.1 543.7h0M356.6 571.6h0M303.2 571.9h0M344.7 541.7h0M337.7 533.0h0M348.1 539.8h0M311.5 544.9h0M311.7 547.5h0M338.4 545.6h0M338.9 544.8h0M340.4 547.2h0M299.3 577.6h0M320.9 562.2h0M302.6 574.0h0M343.0 546.8h0M314.2 571.6h0M316.0 555.1h0M342.6 541.1h0M324.3 565.4h0M342.6 539.0h0M320.8 558.5h0M345.4 546.3h0M357.7 572.9h0M321.7 573.3h0M317.9 562.2h0M316.1 559.9h0M324.1 566.6h0M342.8 544.5h0M348.7 540.9h0M340.9 548.2h0M337.7 545.2h0M313.8 615.2h0M343.0 537.7h0M323.6 567.0h0M361.5 580.7h0M322.4 536.4h0M316.8 557.2h0M343.1 545.5h0M312.4 546.7h0M323.8 534.7h0M261.2 563.4h0M320.0 570.3h0M344.1 540.1h0M341.7 548.6h0M319.6 539.6h0M360.6 578.4h0M309.9 610.8h0M314.9 561.3h0M298.2 569.6h0M316.9 553.7h0M312.4 546.6h0M299.0 571.1h0M311.0 615.8h0M300.8 574.5h0M360.7 574.5h0M322.1 536.4h0M341.3 545.8h0M345.7 542.3h0M302.0 573.8h0M317.5 558.3h0M320.8 565.2h0M344.1 544.0h0M326.2 571.6h0M337.7 531.7h0M319.9 562.0h0M341.8 541.6h0M300.6 571.1h0M299.0 575.5h0M267.9 566.7h0M337.3 532.3h0M313.0 619.3h0M338.9 531.7h0M364.3 577.1h0M337.6 546.2h0M343.3 537.6h0M334.0 557.4h0M323.0 561.0h0M280.3 588.0h0M340.6 542.4h0M326.9 570.3h0M339.9 531.1h0M310.8 567.6h0M317.8 562.4h0M324.6 567.6h0M331.7 556.9h0M312.6 550.8h0M346.9 543.7h0M309.6 545.9h0M346.6 542.7h0M324.6 566.6h0M352.8 568.7h0M357.6 572.4h0M341.0 543.4h0M338.8 549.2h0M344.0 547.0h0M360.5 580.3h0M300.6 579.4h0M279.5 587.6h0M312.2 545.1h0M312.6 613.2h0M346.4 542.0h0M310.1 613.9h0M304.0 568.5h0M359.4 576.9h0M338.6 534.4h0M311.2 559.6h0M356.5 570.5h0M316.7 556.0h0M311.7 547.6h0M296.3 576.7h0M323.2 571.5h0M343.5 552.3h0M316.5 571.3h0M313.1 551.7h0M321.4 565.1h0M341.8 548.7h0M361.9 572.7h0M299.8 573.9h0M369.5 587.2h0M356.5 575.0h0M338.9 556.1h0M337.8 550.5h0M336.3 557.5h0M340.7 542.7h0M280.7 590.2h0M322.6 561.0h0M329.3 559.3h0M337.2 551.7h0M311.4 547.7h0M338.7 553.2h0M319.8 560.9h0M300.1 574.1h0M338.1 555.6h0M340.2 551.6h0M299.9 570.0h0M339.8 547.1h0M312.2 562.0h0M349.9 544.8h0M323.4 561.0h0M316.1 560.5h0M300.4 574.4h0M363.9 579.4h0M343.2 543.1h0M346.3 546.8h0M341.9 548.5h0M337.4 531.6h0M318.1 569.7h0M329.9 565.2h0M346.6 542.0h0M357.0 574.9h0M311.1 611.9h0M345.2 545.9h0M326.2 564.4h0M336.0 547.7h0M312.1 612.8h0M320.9 566.2h0M309.5 563.9h0M336.8 554.7h0M337.5 532.8h0M315.6 563.1h0M318.3 539.0h0M329.3 558.9h0M313.5 564.4h0M267.7 572.9h0M346.4 547.4h0M344.5 546.3h0M340.4 547.8h0M259.6 564.7h0M348.6 539.9h0M300.2 572.8h0M310.4 561.7h0M329.2 563.6h0M346.4 545.7h0M353.7 568.9h0M320.3 565.9h0M318.7 543.2h0M320.7 564.9h0M337.7 532.9h0M368.0 587.3h0M299.4 577.4h0M324.2 565.7h0M345.3 546.0h0M337.7 551.4h0M299.9 571.3h0M344.8 540.9h0M340.0 543.5h0M319.9 540.0h0M301.1 576.1h0M347.7 545.0h0M341.0 547.4h0M320.2 560.1h0M341.9 550.4h0M347.8 543.0h0M326.6 567.3h0M342.3 550.7h0M329.5 567.4h0M321.8 571.3h0M363.9 575.8h0M343.3 537.1h0M320.1 568.1h0M343.2 549.8h0M330.7 566.0h0M315.3 570.2h0M318.9 566.4h0M320.8 570.7h0M345.6 546.6h0M318.9 565.8h0M341.8 543.1h0M302.2 573.4h0M313.6 551.7h0M317.5 570.7h0M298.3 576.3h0M325.3 565.3h0M302.8 574.7h0M319.5 568.5h0M338.3 542.6h0M305.1 577.1h0M347.3 544.9h0M328.7 568.4h0M341.8 545.4h0M339.0 545.4h0M340.3 542.6h0M340.4 546.0h0M337.6 556.2h0M315.5 570.1h0M317.6 560.9h0M302.4 573.7h0M345.1 539.1h0M313.7 566.6h0M300.0 573.2h0M341.7 544.9h0M309.6 612.0h0M330.2 561.2h0M321.3 570.3h0M322.5 538.2h0M308.6 564.4h0M336.2 554.3h0M281.4 587.8h0M337.4 531.2h0M317.2 556.9h0M339.9 547.9h0M320.0 571.7h0" stroke="#6b9cf0" stroke-width="1.25" stroke-linecap="round"/>
<path d="M356.4 570.0h0M338.3 549.5h0M339.3 556.8h0M336.5 543.4h0M257.8 563.2h0M301.7 574.9h0M317.6 560.6h0M317.3 558.7h0M313.6 616.4h0M340.4 542.2h0M261.5 563.7h0M326.6 565.2h0M340.2 544.2h0M345.8 545.1h0M259.6 562.5h0M263.8 564.9h0M345.2 549.0h0M339.0 532.0h0M319.0 539.9h0M301.6 572.3h0M355.6 570.7h0M304.8 572.1h0M258.6 562.6h0M304.4 571.4h0M353.8 568.6h0M257.7 562.8h0M353.0 571.1h0M316.8 571.0h0M313.9 569.3h0M344.2 551.4h0M334.6 557.8h0M264.6 565.1h0M349.0 541.4h0M340.2 543.0h0M364.2 577.7h0M264.0 566.0h0M337.1 535.0h0M357.9 570.8h0M261.7 564.4h0M317.2 572.3h0M326.0 566.0h0M264.3 565.3h0M355.2 571.4h0M337.9 545.0h0M358.7 579.1h0M359.0 571.1h0M315.3 566.7h0M321.3 569.3h0M302.5 576.5h0M261.4 564.1h0M355.4 574.8h0M319.3 538.7h0M357.1 570.2h0M360.9 579.9h0M307.1 618.1h0M258.7 565.0h0M312.8 560.3h0M338.4 554.9h0M266.5 566.4h0M326.9 561.4h0M303.6 570.9h0M316.4 568.6h0M299.2 575.0h0M366.6 577.8h0M319.8 559.9h0M318.2 543.3h0M256.2 562.7h0M362.9 578.9h0M339.9 551.2h0M312.6 565.7h0M339.6 550.4h0M310.6 567.5h0M344.4 548.7h0M256.1 562.2h0M305.9 574.5h0M316.5 558.2h0M321.5 570.7h0M330.3 567.3h0M295.9 570.4h0M338.3 549.3h0M302.1 575.1h0M331.5 562.2h0M335.4 553.6h0M318.6 560.7h0M344.6 546.7h0M295.8 574.5h0M317.2 562.3h0M303.2 570.8h0M298.8 573.7h0M239.2 545.7h0M317.7 544.0h0M343.3 544.2h0M319.0 539.9h0M323.3 559.3h0M347.1 550.4h0M258.4 563.3h0M333.4 559.9h0M302.8 572.7h0M316.9 562.6h0M329.0 569.2h0M356.0 576.5h0M318.2 567.5h0M262.3 565.4h0M321.4 536.6h0M257.0 562.1h0M323.1 528.6h0M296.7 571.6h0M359.5 573.9h0M311.9 562.7h0M317.7 538.4h0M347.6 547.9h0M314.6 568.0h0M322.0 564.9h0M321.3 539.8h0M317.3 560.5h0M325.7 563.2h0M339.5 534.6h0M346.8 544.7h0M303.5 571.1h0M319.0 544.1h0M345.0 541.6h0M343.2 538.0h0M308.9 618.4h0M343.9 552.2h0M294.6 575.5h0M318.4 541.6h0M344.3 542.2h0M337.1 549.7h0M339.4 546.2h0M302.8 571.6h0M335.1 557.0h0M263.9 566.2h0M341.4 549.1h0M314.4 559.9h0M313.7 559.9h0M341.4 551.5h0M316.6 496.8h0M347.0 540.6h0M305.1 569.8h0M315.6 555.5h0M320.5 538.8h0M308.2 615.9h0M325.4 568.7h0M322.9 528.8h0M311.4 613.2h0M343.4 545.3h0M322.0 567.3h0M295.5 574.8h0M264.4 564.9h0M340.6 541.8h0M267.0 565.5h0M340.4 553.6h0M324.9 563.5h0M337.0 530.5h0M367.0 584.5h0M338.9 548.0h0M340.0 547.2h0M317.8 571.9h0M297.4 573.7h0M266.5 567.0h0M238.8 546.1h0M361.9 574.7h0M265.1 565.9h0M319.6 569.2h0M316.2 570.3h0M344.1 540.2h0M365.1 577.5h0M310.4 564.5h0M322.9 535.8h0M334.9 555.9h0M325.3 568.7h0M345.1 551.5h0M303.8 577.2h0M339.0 544.0h0M319.5 539.0h0M359.0 577.9h0M257.2 561.3h0M336.9 555.8h0M316.4 565.5h0M346.6 540.2h0M349.9 545.0h0M322.4 536.7h0M355.2 569.3h0M309.4 563.1h0M319.4 565.7h0M267.9 566.6h0M304.5 576.2h0M266.0 565.8h0M334.8 556.1h0M342.5 546.5h0M316.0 561.4h0M344.0 538.7h0M239.3 546.4h0M260.9 564.2h0M344.3 549.3h0M319.0 566.3h0M363.3 578.3h0M317.1 559.8h0M339.0 549.6h0M301.2 573.9h0M342.6 550.1h0M303.1 573.6h0M356.3 569.5h0M340.2 543.7h0M338.4 534.0h0M307.9 614.6h0M300.7 569.5h0M320.2 539.5h0M341.1 542.8h0M346.1 538.9h0M340.3 551.5h0M344.8 541.8h0M346.1 538.3h0M327.4 571.3h0M324.0 570.2h0M338.7 549.4h0M340.4 544.1h0M323.7 562.8h0M314.4 570.2h0M338.9 549.0h0M322.3 560.1h0M312.1 550.5h0M346.3 541.7h0M342.7 544.6h0M343.8 547.6h0M322.4 537.2h0M356.8 570.6h0M339.8 555.5h0M316.8 560.9h0M264.6 567.4h0M347.0 540.5h0M265.2 567.6h0M253.8 561.9h0M311.2 619.2h0M308.9 617.6h0M343.0 547.9h0M342.0 551.0h0M328.2 571.2h0M339.5 531.1h0M361.5 579.3h0M302.4 578.9h0M320.8 562.6h0M345.9 551.0h0M337.0 531.8h0M307.5 618.2h0M339.3 552.5h0M301.3 574.1h0M302.7 572.0h0M314.9 553.6h0M318.8 540.8h0M312.4 617.4h0M370.8 585.8h0M325.5 564.7h0M255.4 562.8h0M262.1 565.1h0M339.8 550.6h0M280.1 586.7h0M335.5 554.0h0M318.3 569.9h0M346.4 539.3h0M340.1 534.9h0M344.9 542.5h0M358.5 571.7h0M313.2 560.1h0M279.6 589.8h0M358.2 577.2h0M257.2 562.2h0M254.8 561.7h0M357.3 572.3h0M297.8 575.2h0M256.0 562.3h0M344.3 545.8h0M280.0 587.9h0M315.4 615.1h0M358.5 577.2h0M341.3 530.4h0M327.2 563.0h0M347.5 541.3h0M312.2 616.7h0M296.3 573.3h0M303.8 571.0h0M316.1 565.3h0M342.5 552.9h0M343.3 546.4h0M346.3 551.1h0M311.1 561.1h0M348.8 538.2h0M257.4 563.7h0M343.3 546.6h0M322.7 528.7h0M320.1 559.5h0M349.2 547.9h0M326.9 558.9h0M261.0 563.6h0M303.4 577.3h0M314.0 617.4h0M314.2 619.3h0M342.7 549.3h0M313.2 561.7h0M298.5 578.1h0M309.2 565.9h0M362.5 575.0h0M318.4 557.9h0M317.3 538.4h0M311.8 616.2h0M347.7 541.4h0M312.5 618.6h0M339.5 545.1h0M257.8 561.7h0M362.6 579.4h0M312.8 612.8h0M320.1 562.0h0M340.9 545.2h0M338.3 548.7h0M299.7 572.6h0M318.0 573.4h0M322.6 564.4h0M342.0 552.4h0M279.8 587.1h0M342.9 543.3h0M304.3 576.4h0M316.7 496.5h0M325.3 569.5h0M310.7 545.6h0M330.0 558.4h0M347.6 545.8h0M345.3 549.4h0M340.8 549.8h0M267.0 566.7h0M334.4 558.1h0M343.0 551.7h0M355.2 571.0h0M320.4 558.7h0M361.6 576.6h0M312.7 546.7h0M316.0 496.5h0" stroke="#ee6b67" stroke-width="1.25" stroke-linecap="round"/>
<path d="M319.1 566.4h0M312.3 550.8h0M341.6 553.3h0M313.3 567.1h0M360.2 576.3h0M310.2 565.9h0M316.5 566.0h0M326.0 563.6h0M337.5 554.9h0M323.9 568.7h0M328.2 568.0h0M359.8 577.7h0M317.3 570.1h0M354.7 570.6h0M339.3 552.6h0M356.3 574.6h0M312.5 612.3h0M308.4 611.7h0M309.8 614.8h0M300.7 573.4h0M363.0 573.5h0M341.0 553.5h0M321.1 562.0h0M336.2 556.6h0M311.7 548.2h0M312.5 551.0h0M327.3 562.0h0M317.3 567.7h0M363.5 576.0h0M308.3 615.6h0M363.6 575.2h0M316.7 561.1h0M312.2 561.6h0M327.2 563.0h0M280.3 586.9h0M326.8 567.6h0M357.2 573.5h0M327.5 561.2h0M309.9 567.1h0M356.9 576.2h0M312.8 612.8h0M316.7 564.8h0M359.0 572.2h0M324.6 568.3h0M317.7 561.8h0M321.4 569.4h0M314.5 551.9h0M324.6 568.6h0M316.4 558.5h0M317.2 542.1h0M309.7 611.7h0M319.0 558.0h0M313.0 547.9h0M316.6 561.4h0M361.3 576.7h0M338.0 531.6h0M317.7 571.8h0M328.4 561.8h0M319.0 567.0h0M309.3 566.2h0M327.5 571.6h0M312.1 615.4h0M320.4 559.3h0M314.5 614.4h0M357.8 573.4h0M355.0 571.3h0M348.2 539.2h0M369.3 587.8h0M326.8 564.1h0M321.9 562.0h0M279.1 588.0h0M316.0 564.5h0M324.6 561.3h0M355.8 570.9h0M325.9 570.6h0M312.2 619.4h0M318.0 565.3h0M311.3 613.9h0M315.6 558.7h0M312.9 563.4h0M326.9 570.3h0M312.2 616.0h0M360.6 573.9h0M315.5 616.8h0M315.4 561.3h0M323.7 561.6h0M326.1 569.7h0M314.4 616.2h0M326.1 566.6h0M315.9 556.2h0M321.9 570.6h0M357.8 572.9h0M328.9 564.2h0M314.5 562.6h0M313.4 617.4h0M315.1 563.1h0M340.3 549.1h0M311.1 614.9h0M340.7 554.8h0M355.5 576.2h0M323.9 565.7h0M316.7 558.7h0M331.0 567.7h0M364.7 576.9h0M368.9 587.2h0M328.0 568.5h0M309.2 617.5h0M337.9 548.9h0M313.6 565.1h0M314.5 556.0h0M342.5 544.1h0M316.0 552.0h0M318.9 571.2h0M324.7 564.6h0M366.4 586.0h0M320.6 561.6h0M313.5 619.5h0M320.1 539.8h0M363.3 575.3h0M324.5 566.1h0M355.5 574.4h0M312.0 565.4h0M344.7 549.6h0M331.4 564.4h0M313.4 567.7h0M311.0 563.2h0M322.5 559.0h0M315.2 552.9h0M310.6 564.5h0M312.0 563.6h0M355.1 570.6h0M328.0 569.7h0M313.5 549.5h0M315.5 562.7h0M312.2 618.6h0M367.2 585.4h0M326.6 568.7h0M322.1 560.9h0M318.5 563.2h0M325.3 566.7h0M311.3 613.4h0M295.4 576.1h0M314.3 566.3h0M356.2 571.2h0M355.6 575.4h0M363.1 580.3h0M360.9 578.4h0M315.8 571.9h0M360.7 574.5h0M329.7 566.5h0M321.8 565.0h0M329.0 568.3h0M311.3 566.5h0M316.7 565.5h0M339.5 532.4h0M346.1 547.9h0M315.8 567.8h0M328.6 566.2h0M309.3 566.7h0M318.9 572.3h0M312.4 564.5h0M312.4 561.0h0M315.7 565.2h0M309.9 614.0h0M325.0 564.0h0M340.6 553.8h0M312.2 544.1h0M323.5 566.4h0M311.8 546.0h0M316.2 558.7h0M321.3 568.0h0M313.5 619.7h0M321.8 572.7h0M310.1 548.8h0M354.4 573.2h0M348.2 540.6h0M329.3 562.1h0M359.3 574.3h0M317.7 556.2h0M312.8 551.9h0M363.0 574.1h0M336.5 549.3h0M279.5 586.5h0M318.6 559.6h0M324.5 561.8h0M326.6 567.0h0M355.5 570.9h0M316.0 557.1h0M313.0 565.0h0M325.3 562.9h0M320.4 568.0h0M312.7 548.9h0M314.3 569.7h0M316.4 561.4h0M360.6 573.4h0M358.2 571.6h0M366.0 577.2h0M360.3 577.3h0M315.4 562.8h0M308.8 611.5h0M308.2 619.1h0M345.0 548.6h0M355.6 574.6h0M310.1 553.1h0M321.4 572.6h0M308.2 543.3h0M281.7 588.0h0M361.9 572.1h0M308.3 618.7h0M280.0 590.2h0M356.7 575.0h0M357.2 574.4h0M315.9 554.4h0M328.6 570.4h0M368.1 586.2h0M316.5 553.8h0M320.3 572.9h0M311.5 614.9h0M329.6 568.4h0M282.6 586.6h0M323.0 568.1h0M347.2 541.5h0M313.4 560.2h0M325.8 563.3h0M359.0 575.8h0M312.8 547.0h0M363.1 575.8h0M355.9 573.4h0M359.1 573.2h0M309.7 618.7h0M312.9 615.8h0M325.6 564.3h0M328.4 564.7h0M316.2 558.8h0M357.6 575.8h0M319.5 566.9h0M300.8 571.7h0M314.7 566.4h0M327.9 566.0h0M316.2 567.1h0M312.3 547.8h0M319.5 569.2h0M317.9 566.2h0M359.6 576.1h0M311.3 543.5h0M309.9 562.3h0M324.1 570.9h0M322.6 559.3h0M330.5 561.6h0M343.8 538.7h0M325.8 564.1h0M356.2 572.3h0M316.8 556.0h0M367.9 586.2h0M317.5 559.0h0M311.6 545.0h0M312.4 613.6h0M321.1 562.1h0M337.8 529.4h0M323.6 565.8h0M316.6 557.4h0M367.7 586.6h0M355.6 574.4h0M324.7 570.5h0M342.1 550.0h0M321.4 571.6h0M315.9 560.7h0M316.1 556.6h0M320.6 559.7h0M311.9 564.2h0M316.2 559.6h0M331.2 562.1h0M347.8 543.1h0M320.9 571.3h0M348.4 540.9h0M327.0 563.9h0M361.8 576.3h0M315.3 569.6h0M310.7 565.6h0M327.6 565.1h0M318.4 570.8h0M325.9 566.4h0M327.3 561.5h0M314.4 560.9h0M362.5 579.0h0M316.9 557.2h0M311.1 546.4h0M342.5 542.9h0M316.1 569.7h0M324.1 535.3h0M325.7 562.6h0M317.7 570.0h0M313.2 548.6h0M319.2 567.2h0M325.5 560.3h0M312.4 566.2h0M311.6 545.8h0M340.5 543.7h0M359.5 573.8h0M330.7 561.3h0M311.7 563.7h0M323.1 566.8h0M326.2 564.1h0M360.9 578.5h0M327.7 566.8h0M326.5 560.5h0M328.7 570.3h0M314.5 550.8h0M320.5 563.0h0M345.0 548.6h0M361.6 579.9h0M315.0 553.4h0M317.0 569.5h0M330.5 564.8h0M310.4 617.2h0M314.1 556.2h0M309.5 614.0h0M327.4 567.1h0M325.7 561.9h0M358.1 576.4h0M356.6 571.5h0M309.3 611.5h0M321.4 564.4h0M309.9 547.9h0M315.7 614.6h0M362.2 576.9h0M310.3 545.9h0M318.2 568.1h0M326.3 565.4h0M329.5 564.5h0M329.0 559.7h0M314.0 547.4h0M308.6 544.0h0M336.1 555.0h0M322.5 560.6h0M342.0 554.7h0M357.8 577.3h0M320.2 570.8h0M321.5 565.8h0M307.5 615.7h0M312.1 546.6h0M314.7 555.4h0M317.7 569.3h0M317.4 566.0h0M310.5 564.7h0M354.4 572.0h0" stroke="#3ec93a" stroke-width="1.25" stroke-linecap="round"/>
<path d="M321.6 537.2h0M337.8 551.2h0M298.7 577.0h0M323.2 563.1h0M313.8 546.7h0M332.9 558.3h0M346.1 539.1h0M339.2 547.2h0M298.9 569.8h0M344.8 546.7h0M279.6 591.3h0M359.6 577.6h0M320.2 541.6h0M370.9 586.5h0M344.0 543.7h0M325.3 559.5h0M339.5 546.0h0M314.9 568.3h0M339.8 549.3h0M279.7 588.5h0M342.6 538.7h0M347.7 545.1h0M340.1 540.1h0M338.9 532.6h0M303.5 573.2h0M293.3 573.9h0M313.9 568.6h0M358.9 576.5h0M308.2 617.2h0M300.4 575.5h0M319.2 572.9h0M325.3 567.1h0M297.0 570.8h0M339.0 554.8h0M317.0 559.8h0M358.3 574.1h0M298.0 575.0h0M311.6 617.7h0M336.5 532.7h0M308.6 616.5h0M339.8 530.3h0M344.3 540.2h0M313.1 554.2h0M328.7 567.8h0M300.1 575.5h0M321.7 537.7h0M343.8 541.8h0M320.5 544.0h0M256.9 562.5h0M317.2 562.4h0M357.4 574.1h0M346.0 542.4h0M299.2 573.1h0M323.1 560.4h0M321.6 538.7h0M327.2 560.2h0M362.5 579.5h0M343.9 541.2h0M348.3 544.1h0M346.5 547.3h0M345.8 547.0h0M349.1 542.4h0M312.5 550.2h0M306.1 617.4h0M362.3 577.5h0M332.4 558.8h0M313.6 552.8h0M339.6 547.8h0M312.2 617.6h0M325.1 570.8h0M336.0 530.7h0M327.3 563.1h0M356.3 575.8h0M314.8 560.0h0M315.8 564.6h0M316.3 557.3h0M348.5 539.8h0M311.7 551.3h0M316.2 572.7h0M337.3 555.7h0M345.6 546.2h0M309.4 615.9h0M307.9 618.9h0M346.2 538.4h0M320.5 569.7h0M346.4 545.2h0M296.7 575.5h0M310.1 562.3h0M366.3 584.5h0M323.7 572.5h0M340.3 541.5h0M317.5 541.0h0M311.3 548.3h0M344.2 541.9h0M322.3 540.0h0M344.6 551.6h0M345.4 536.8h0M340.1 545.8h0M303.0 576.4h0M343.7 545.4h0M340.4 554.6h0M255.5 563.2h0M267.8 572.9h0M336.2 551.4h0M321.0 570.3h0M320.2 572.4h0M318.3 562.1h0M322.5 535.8h0M329.6 567.0h0M316.3 563.6h0M337.0 534.6h0M267.4 572.8h0M346.1 547.0h0M300.1 573.0h0M346.7 549.3h0M338.4 532.2h0M324.1 566.4h0M309.8 613.8h0M342.1 552.2h0M279.8 585.2h0M296.5 578.2h0M279.5 586.5h0M339.5 548.8h0M280.1 588.4h0M301.6 573.0h0M280.1 589.5h0M311.7 616.1h0M338.6 529.1h0M339.9 555.0h0M346.0 539.8h0M311.9 565.6h0M345.6 549.3h0M340.6 550.5h0M312.9 562.3h0M319.3 541.8h0M323.6 568.2h0M359.4 580.4h0M338.3 531.7h0M349.4 542.1h0M297.8 572.5h0M338.0 555.8h0M302.9 577.7h0M356.2 573.3h0M318.9 542.8h0M309.3 546.1h0M343.2 538.7h0M330.1 567.0h0M344.0 543.9h0M340.4 543.7h0M346.8 547.8h0M337.1 554.9h0M277.9 586.8h0M336.9 554.2h0M302.3 575.3h0M317.1 570.3h0M339.6 547.5h0M280.0 585.7h0M322.8 564.2h0M337.7 531.3h0M279.4 588.5h0M365.5 584.4h0M280.0 587.0h0M325.6 571.3h0M342.3 539.7h0M340.5 552.9h0M341.3 541.6h0M325.5 563.4h0M339.2 531.1h0M343.6 551.0h0M329.5 564.0h0M306.1 617.0h0M340.6 540.3h0M314.7 560.3h0M358.3 579.6h0M348.3 540.5h0M319.8 541.0h0M339.3 555.4h0M357.8 579.2h0M336.5 556.1h0M344.4 546.3h0M368.1 586.9h0M318.9 559.7h0M340.7 549.2h0M303.9 576.0h0M365.6 577.6h0M342.1 553.0h0M341.0 551.1h0M300.4 576.0h0M339.5 544.4h0M311.7 614.4h0M361.1 573.3h0M337.5 556.9h0M357.8 571.5h0M329.9 562.8h0M340.4 532.0h0M342.0 553.8h0M352.3 568.3h0M324.4 560.7h0M267.8 573.0h0M333.5 555.3h0M308.2 617.7h0M303.1 574.2h0M350.0 544.5h0M342.6 545.4h0M313.0 550.4h0M297.9 576.2h0M315.3 563.8h0M324.5 571.1h0M319.2 566.9h0M364.6 576.5h0M349.8 542.4h0M337.2 554.6h0M312.0 615.1h0M258.6 562.3h0M342.0 545.9h0M314.8 570.4h0M322.0 572.2h0M341.2 553.6h0M280.7 586.6h0M341.9 545.9h0M267.8 573.0h0M361.9 573.9h0M340.9 544.9h0M336.9 556.6h0M319.4 570.5h0M302.7 572.3h0M325.1 562.0h0M319.0 567.9h0M297.5 573.6h0M339.4 542.3h0M345.2 542.9h0M345.6 548.9h0M349.3 544.8h0M346.6 538.6h0M298.9 572.3h0M319.2 539.5h0M314.2 551.6h0M340.2 554.4h0M337.6 555.4h0M342.4 551.9h0M346.7 548.7h0M339.6 534.0h0M340.3 553.7h0M364.6 576.9h0M317.5 557.4h0M314.5 560.2h0M311.3 619.6h0M344.5 544.9h0M322.8 566.4h0M328.7 561.8h0M329.1 563.7h0M260.7 563.3h0M344.7 548.8h0" stroke="#6b9cf0" stroke-width="1.25" stroke-linecap="round"/>
<path d="M340.5 544.7h0M337.0 532.3h0M361.2 577.7h0M336.6 532.9h0M260.3 563.8h0M326.1 571.5h0M341.9 554.2h0M317.7 565.3h0M318.2 538.8h0M304.9 573.6h0M321.7 538.3h0M344.0 551.3h0M358.1 580.3h0M309.1 616.7h0M331.8 558.9h0M318.0 540.5h0M321.6 537.1h0M317.0 557.2h0M344.0 552.3h0M330.0 560.5h0M301.9 571.1h0M346.8 540.6h0M359.9 579.9h0M344.2 548.7h0M263.1 564.4h0M261.4 563.1h0M313.5 567.4h0M259.1 562.6h0M300.1 570.1h0M299.1 570.1h0M337.3 555.0h0M342.6 542.3h0M348.7 537.3h0M338.4 529.5h0M266.4 565.7h0M311.8 561.9h0M338.8 549.2h0M307.9 613.1h0M340.4 545.0h0M262.4 563.5h0M320.2 570.1h0M329.1 561.5h0M258.1 562.0h0M329.1 565.8h0M340.2 548.6h0M267.3 565.5h0M335.4 557.4h0M265.9 566.1h0M309.8 619.9h0M343.9 550.7h0M258.5 562.7h0M345.8 549.1h0M328.0 562.2h0M312.3 562.4h0M340.2 534.0h0M313.2 560.9h0M301.8 576.9h0M337.4 554.2h0M342.5 540.0h0M258.6 561.8h0M260.8 565.2h0M264.5 565.3h0M319.2 563.8h0M258.4 561.1h0M297.4 575.4h0M345.8 547.3h0M322.3 563.9h0M338.3 554.7h0M358.8 576.5h0M324.5 570.7h0M238.5 545.7h0M348.1 543.3h0M341.3 544.7h0M333.5 559.5h0M306.4 573.0h0M266.1 565.5h0M301.0 577.0h0M267.6 567.6h0M295.3 571.3h0M363.2 576.9h0M301.3 572.9h0M366.0 576.7h0M303.6 570.9h0M294.3 573.5h0M344.2 542.8h0M267.9 566.4h0M259.6 562.4h0M266.3 566.8h0M361.0 573.3h0M345.9 545.4h0M335.0 557.0h0M308.1 613.3h0M304.5 570.7h0M341.6 552.4h0M319.9 541.0h0M337.7 552.6h0M322.5 565.4h0M296.1 570.6h0M369.7 586.0h0M330.9 568.8h0M345.9 538.1h0M311.9 562.7h0M319.5 572.4h0M257.0 562.3h0M261.2 564.7h0M341.9 551.2h0M239.9 546.5h0M313.8 617.0h0M313.0 564.3h0M336.6 544.6h0M278.6 586.2h0M302.0 570.1h0M323.6 563.5h0M338.8 543.4h0M326.5 570.1h0M319.6 538.1h0M314.7 556.0h0M301.0 571.7h0M336.6 556.4h0M330.3 566.4h0M300.0 573.3h0M260.3 562.5h0M364.9 575.6h0M313.7 616.6h0M309.8 542.8h0M297.5 573.3h0M334.8 532.8h0M328.0 564.1h0M265.7 566.5h0M321.2 536.8h0M298.9 569.7h0M311.5 545.7h0M316.8 538.0h0M356.0 568.6h0M293.7 573.9h0M303.2 570.4h0M357.3 570.6h0M367.9 587.1h0M338.7 546.6h0M322.9 528.6h0M341.0 543.7h0M357.9 573.5h0M263.8 565.8h0M321.4 538.4h0M339.2 544.9h0M280.7 586.9h0M332.5 558.5h0M300.6 575.4h0M324.5 568.7h0M317.5 539.7h0M303.6 577.6h0M320.1 540.0h0M300.9 577.8h0M342.8 546.4h0M348.3 539.9h0M341.5 555.0h0M263.2 565.0h0M361.6 576.9h0M303.2 568.9h0M369.6 588.0h0M261.1 564.9h0M319.4 570.5h0M319.8 541.6h0M339.1 553.2h0M355.1 568.7h0M302.6 574.6h0M342.2 543.0h0M363.7 576.1h0M325.8 566.1h0M339.0 546.1h0M296.5 576.6h0M361.8 575.1h0M328.6 571.2h0M324.6 569.4h0M338.3 535.1h0M314.0 550.3h0M312.5 570.2h0M347.4 537.2h0M354.0 571.5h0M263.2 565.0h0M345.2 546.8h0M264.2 565.2h0M311.3 615.6h0M319.1 572.7h0M342.9 542.1h0M319.3 570.8h0M341.6 540.3h0M314.7 566.3h0M344.7 540.3h0M345.5 537.5h0M300.4 574.8h0M303.3 572.3h0M263.7 565.0h0M326.0 564.3h0M329.5 561.6h0M302.7 572.1h0M296.6 574.6h0M349.1 544.2h0M317.5 564.2h0M342.5 550.0h0M318.3 539.6h0M341.3 543.6h0M311.7 547.8h0M264.4 566.1h0M324.0 563.6h0M329.8 559.4h0M347.0 545.0h0M297.6 576.2h0M324.6 535.9h0M370.1 587.4h0M347.2 543.4h0M304.0 574.0h0M340.0 549.4h0M311.9 562.2h0M298.1 573.4h0M261.1 564.6h0M324.4 569.4h0M346.3 547.1h0M312.1 612.6h0M340.1 547.5h0M301.2 572.1h0M322.9 559.0h0M341.4 539.5h0M324.1 535.7h0M346.2 538.7h0M347.7 542.1h0M345.3 548.5h0M348.5 542.3h0M340.5 552.3h0M303.3 575.2h0M328.0 562.6h0M318.6 572.3h0M255.6 561.9h0M334.7 556.0h0M299.9 572.6h0M349.5 538.9h0M315.6 552.4h0M303.5 571.5h0M266.0 566.7h0M257.8 562.4h0M259.2 564.1h0M367.1 584.9h0M321.1 568.7h0M356.4 578.7h0M310.4 563.8h0M330.1 557.8h0M342.4 538.9h0M304.0 576.3h0M325.0 561.6h0M300.3 577.9h0M346.0 549.4h0M346.5 545.8h0M319.2 544.0h0M360.6 574.4h0M264.0 565.0h0M341.3 550.2h0M309.0 614.9h0M260.8 563.4h0M264.4 566.6h0M317.7 541.8h0M296.9 577.2h0M317.3 563.9h0M340.0 551.9h0M260.1 563.7h0M347.4 544.1h0M259.4 562.6h0M335.0 531.9h0M314.3 549.9h0M258.5 561.7h0M318.8 567.8h0M266.7 566.8h0M359.8 578.6h0M266.0 565.1h0M261.2 564.7h0M315.5 561.6h0M324.8 563.2h0M315.7 567.8h0M318.7 539.7h0M344.7 544.0h0M345.7 549.5h0M353.0 571.2h0M340.6 545.1h0M335.1 557.1h0M303.2 569.7h0M337.3 546.6h0M340.5 545.9h0M258.0 561.3h0M321.2 561.8h0M296.3 572.5h0M328.8 562.5h0M344.0 551.6h0M361.6 579.5h0M238.9 546.2h0M340.7 550.9h0M296.9 575.8h0M341.9 542.4h0M297.9 575.8h0M314.6 562.5h0M296.2 575.1h0M323.8 572.2h0M304.7 571.3h0M340.0 557.1h0M297.2 574.7h0M339.4 550.9h0M363.4 576.6h0M319.0 540.2h0M322.1 568.7h0M357.2 576.4h0M311.5 613.2h0M345.4 549.4h0M346.8 542.2h0M329.3 563.2h0M298.0 574.4h0M325.8 562.5h0M347.6 539.6h0M280.8 589.0h0M316.4 496.5h0M266.5 565.4h0M256.4 561.4h0M263.8 564.5h0M347.0 540.6h0M264.6 565.9h0M340.3 551.5h0M260.9 563.0h0M321.4 563.8h0M348.4 541.6h0M239.4 546.3h0M239.4 546.3h0M257.8 563.6h0M263.8 566.5h0M303.1 577.2h0M338.4 542.6h0M338.7 534.0h0M302.0 569.8h0M259.1 563.3h0M259.6 562.5h0" stroke="#ee6b67" stroke-width="1.25" stroke-linecap="round"/>
<path d="M279.2 586.7h0M310.6 615.2h0M322.5 567.3h0M311.8 563.7h0M323.8 560.6h0M317.9 571.3h0M309.4 617.8h0M364.8 578.4h0M341.7 538.8h0M329.7 564.3h0M310.2 561.3h0M312.5 568.1h0M318.1 559.4h0M299.2 576.8h0M328.2 565.9h0M317.5 568.0h0M310.8 612.9h0M369.4 588.2h0M356.0 576.5h0M313.6 560.5h0M341.7 545.3h0M359.2 580.7h0M344.8 539.2h0M321.0 563.5h0M339.9 535.4h0M320.2 559.8h0M322.3 569.2h0M330.2 561.6h0M331.0 567.6h0M359.1 578.3h0M310.7 566.2h0M316.8 566.4h0M320.5 562.8h0M313.8 562.1h0M309.5 543.9h0M329.1 567.5h0M345.4 538.5h0M311.4 619.6h0M313.4 567.3h0M361.5 579.1h0M303.0 573.4h0M324.4 570.2h0M352.2 568.3h0M316.8 559.3h0M328.0 567.9h0M317.4 571.5h0M310.3 617.3h0M366.3 586.0h0M367.8 586.0h0M341.2 553.9h0M346.3 551.2h0M312.9 552.2h0M319.8 564.6h0M324.8 559.5h0M329.6 562.2h0M335.7 557.6h0M318.8 539.0h0M360.8 576.2h0M316.6 562.9h0M359.5 573.9h0M315.3 571.3h0M319.3 560.5h0M340.8 543.8h0M325.1 569.7h0M313.6 555.3h0M322.5 538.0h0M318.9 567.4h0M354.9 572.2h0M313.0 614.6h0M361.6 576.5h0M326.4 559.9h0M323.2 564.3h0M318.6 573.3h0M364.9 575.2h0M326.2 567.2h0M316.8 559.4h0M325.1 571.4h0M307.9 612.6h0M325.1 561.8h0M354.3 571.8h0M346.3 543.2h0M316.6 557.8h0M319.7 571.9h0M360.1 579.5h0M362.8 579.9h0M328.6 567.5h0M280.5 588.2h0M326.8 560.4h0M312.6 545.1h0M314.0 552.8h0M315.0 554.3h0M362.6 574.5h0M309.6 542.2h0M322.1 560.5h0M324.8 561.7h0M319.0 567.0h0M368.2 587.3h0M322.5 565.0h0M315.3 551.4h0M313.8 564.3h0M322.1 570.4h0M314.8 556.4h0M363.1 580.2h0M311.4 618.4h0M339.0 532.5h0M323.0 571.1h0M322.5 565.8h0M357.0 571.6h0M311.8 566.9h0M359.7 574.5h0M323.5 565.4h0M313.8 554.4h0M326.4 560.1h0M324.5 559.5h0M280.7 588.8h0M322.8 560.2h0M313.5 548.3h0M325.1 564.1h0M315.9 563.6h0M308.9 614.4h0M313.4 562.1h0M314.5 556.1h0M313.7 570.0h0M347.8 546.9h0M367.6 576.0h0M325.7 560.4h0M319.3 565.7h0M326.4 563.4h0M312.2 560.8h0M314.8 561.9h0M360.1 575.8h0M358.3 579.9h0M345.6 549.7h0M315.8 557.3h0M311.9 563.7h0M310.9 544.2h0M299.5 570.1h0M316.5 561.8h0M362.2 579.4h0M314.3 561.8h0M356.6 571.8h0M360.0 579.6h0M311.1 546.7h0M314.7 557.4h0M316.7 560.7h0M316.5 556.1h0M358.2 572.0h0M344.0 543.3h0M321.1 565.6h0M320.8 566.7h0M341.7 545.0h0M344.3 539.8h0M323.9 572.0h0M314.4 569.5h0M364.1 577.4h0M364.9 585.9h0M310.6 544.5h0M358.2 573.6h0M362.8 576.9h0M326.7 568.4h0M312.3 565.1h0M341.3 551.1h0M321.4 566.3h0M315.8 555.4h0M319.1 538.8h0M311.8 611.6h0M323.4 565.0h0M324.5 571.5h0M327.7 566.0h0M359.9 571.5h0M323.8 565.8h0M314.7 565.8h0M313.2 612.4h0M327.2 569.0h0M312.8 550.7h0M324.2 565.5h0M307.5 613.3h0M312.9 550.8h0M352.3 571.4h0M297.1 574.3h0M320.9 572.9h0M312.6 566.9h0M313.1 553.8h0M361.7 575.8h0M322.4 564.4h0M344.7 543.9h0M321.5 564.9h0M360.8 579.1h0M366.6 585.6h0M365.0 583.8h0M346.3 548.1h0M320.3 573.4h0M337.6 555.8h0M308.7 562.5h0M353.5 570.1h0M315.2 566.6h0M324.3 561.0h0M327.0 562.0h0M319.9 573.8h0M317.4 555.6h0M357.2 579.9h0M316.4 563.6h0M321.0 563.0h0M359.7 575.5h0M314.1 563.1h0M310.8 613.2h0M329.8 563.7h0M310.5 611.7h0M313.0 565.2h0M329.6 564.6h0M313.9 616.1h0M356.8 571.2h0M312.4 547.4h0M314.0 613.7h0M318.5 571.2h0M328.1 568.9h0M330.1 561.7h0M313.0 554.4h0M317.5 570.4h0M360.5 576.2h0M360.0 580.3h0M308.8 544.2h0M316.4 560.2h0M321.9 561.3h0M313.4 618.8h0M327.2 559.4h0M358.5 575.8h0M313.5 561.6h0M313.0 559.6h0M318.5 562.2h0M357.2 572.4h0M320.5 571.2h0M310.9 612.3h0M311.5 549.3h0M312.9 565.9h0M310.9 612.0h0M361.5 575.2h0M326.3 566.6h0M341.6 544.0h0M309.8 566.4h0M312.1 568.1h0M315.1 569.0h0M313.9 615.4h0M318.8 561.0h0M309.6 543.1h0M320.1 565.8h0M314.9 551.5h0M320.9 560.5h0M312.0 611.3h0M319.1 559.5h0M321.8 564.4h0M359.1 577.2h0M317.5 562.1h0M316.0 568.3h0M325.7 565.3h0M324.8 563.0h0M322.7 569.5h0M319.8 569.4h0M313.2 569.6h0M280.2 589.1h0M322.7 562.0h0M312.1 549.1h0M322.1 568.2h0M313.5 569.8h0M338.8 549.9h0M316.3 556.1h0M323.9 572.3h0M281.0 587.1h0M313.6 556.5h0M298.7 576.4h0M354.9 577.3h0M325.2 569.8h0M320.4 566.2h0M317.2 569.8h0M307.1 619.8h0M311.7 547.3h0M321.5 568.9h0M312.9 569.4h0M357.3 576.8h0M318.9 566.7h0M359.8 576.6h0M354.9 572.3h0M313.9 561.3h0M313.5 617.3h0M317.1 560.5h0M309.4 541.3h0M326.2 572.6h0M336.6 554.8h0M319.2 568.5h0M315.8 573.4h0M351.2 538.6h0M324.0 570.1h0M355.9 574.5h0M319.2 572.6h0M318.6 543.9h0M325.4 563.1h0M325.7 562.7h0M309.0 612.2h0M355.8 572.8h0M330.4 561.4h0M325.4 565.8h0M315.2 556.0h0M321.0 573.8h0M341.0 552.0h0M329.8 559.3h0M311.1 548.8h0M360.9 577.0h0M310.2 566.2h0M359.8 572.2h0M313.9 618.8h0M314.2 555.5h0M318.8 568.6h0M311.8 545.9h0M324.9 560.4h0M316.7 555.5h0M342.3 548.9h0M313.0 568.5h0M296.1 577.9h0M312.1 612.3h0M360.8 577.1h0M298.7 568.9h0M280.1 586.8h0M313.6 553.2h0M312.9 546.9h0M314.2 560.6h0M356.8 574.6h0M347.2 540.2h0M324.4 563.8h0M361.7 576.6h0M370.1 586.8h0M313.6 552.8h0M324.4 562.9h0M316.2 555.3h0M313.7 556.0h0M322.7 571.1h0M324.0 566.9h0M311.3 618.1h0M310.1 547.9h0M319.1 565.4h0M317.0 556.3h0M369.9 588.0h0M316.9 563.7h0M319.0 571.1h0M345.9 549.5h0M328.3 565.5h0M328.1 561.4h0" stroke="#3ec93a" stroke-width="1.25" stroke-linecap="round"/>
<path d="M343.1 541.3h0M336.0 558.5h0M311.8 619.2h0M345.6 550.5h0M308.0 612.6h0M344.5 548.7h0M340.2 552.1h0M342.8 545.2h0M309.0 615.6h0M317.4 538.2h0M313.4 568.9h0M301.8 570.7h0M317.3 571.6h0M316.6 559.0h0M338.4 542.8h0M334.6 532.3h0M339.1 548.4h0M342.6 545.6h0M322.8 561.0h0M344.7 551.8h0M312.7 547.3h0M309.2 544.1h0M316.2 553.0h0M344.8 539.9h0M364.2 576.2h0M308.2 561.5h0M297.5 574.3h0M340.6 545.3h0M345.8 536.8h0M311.0 564.0h0M318.7 538.9h0M353.4 570.3h0M321.7 569.0h0M318.1 560.4h0M313.4 566.3h0M342.8 544.8h0M314.9 564.8h0M340.2 548.8h0M341.0 542.6h0M340.3 550.9h0M279.8 587.0h0M315.4 560.2h0M320.1 569.9h0M339.9 540.7h0M366.9 585.6h0M345.9 541.0h0M340.6 531.5h0M353.2 570.2h0M339.8 544.8h0M330.4 559.1h0M335.8 557.1h0M321.7 568.3h0M323.7 567.0h0M336.1 557.2h0M301.3 571.7h0M320.1 560.8h0M338.2 553.1h0M324.3 565.2h0M356.2 574.0h0M356.5 571.9h0M297.9 577.5h0M369.8 586.9h0M339.0 535.2h0M338.9 556.9h0M349.0 540.0h0M319.4 539.3h0M325.9 568.1h0M301.9 572.6h0M323.4 536.0h0M336.4 556.2h0M307.5 613.4h0M314.0 615.8h0M343.5 540.8h0M335.4 555.9h0M332.1 557.8h0M323.1 570.8h0M338.5 532.9h0M340.6 555.9h0M340.7 555.9h0M320.9 539.0h0M344.2 548.1h0M347.5 538.9h0M339.6 550.7h0M323.0 572.5h0M317.4 563.3h0M340.5 544.7h0M315.8 567.6h0M313.1 613.8h0M339.9 549.6h0M314.8 616.3h0M325.4 570.2h0M332.2 558.7h0M318.4 565.1h0M316.2 560.5h0M325.1 567.4h0M312.0 566.3h0M320.1 570.0h0M345.0 551.0h0M259.9 562.4h0M313.6 614.2h0M335.5 557.6h0M358.4 572.6h0M314.0 615.0h0M318.1 565.7h0M313.1 618.2h0M344.2 542.4h0M344.3 551.1h0M344.0 549.0h0M345.9 536.0h0M341.1 540.4h0M343.0 543.3h0M321.3 568.3h0M318.6 560.6h0M312.4 549.5h0M296.2 572.7h0M314.2 562.6h0M342.0 545.8h0M340.3 546.9h0M358.9 578.7h0M341.8 548.6h0M337.7 533.1h0M309.2 612.1h0M357.2 571.4h0M321.9 536.8h0M320.0 538.9h0M314.8 618.1h0M279.9 588.0h0M343.5 540.4h0M297.3 575.2h0M342.7 548.0h0M364.1 575.1h0M343.6 545.3h0M345.9 548.9h0M309.7 619.3h0M341.6 543.5h0M323.6 567.6h0M341.2 554.6h0M335.4 554.4h0M320.6 565.7h0M327.9 561.3h0M331.7 564.4h0M299.2 573.7h0M320.3 562.5h0M339.9 546.4h0M344.4 543.8h0M319.3 565.5h0M300.9 570.8h0M353.5 573.4h0M326.1 570.6h0M347.6 548.3h0M345.1 540.5h0M344.4 538.5h0M347.8 540.0h0M344.2 548.3h0M343.9 539.4h0M295.5 572.4h0M329.1 563.5h0M336.7 556.1h0M334.2 555.9h0M328.7 565.4h0M323.7 568.4h0M339.3 542.3h0M314.3 617.8h0M309.7 564.2h0M320.1 563.1h0M338.8 550.5h0M361.0 577.5h0M337.6 530.0h0M316.6 556.6h0M305.3 571.6h0M313.4 552.2h0M267.5 572.6h0M346.5 548.7h0M302.1 577.6h0M338.3 546.9h0M329.9 564.7h0M320.4 571.4h0M343.5 550.9h0M311.1 618.3h0M345.6 549.6h0M280.4 587.8h0M315.8 564.9h0M323.5 568.6h0M317.4 566.1h0M332.3 557.9h0M295.6 569.9h0M317.4 541.9h0M354.7 571.9h0M312.6 618.6h0M327.4 563.6h0M316.8 538.5h0M359.0 570.4h0M317.9 569.2h0M309.6 620.1h0M320.9 561.9h0M315.2 570.4h0M313.0 561.6h0M318.4 565.2h0M319.5 569.3h0M328.4 563.2h0M312.9 614.9h0M347.7 547.0h0M347.7 549.6h0M339.1 532.1h0M321.2 537.3h0M346.7 546.8h0M334.0 558.5h0M344.6 545.4h0M356.8 570.1h0M317.9 568.0h0M301.5 574.0h0M328.9 567.4h0M351.8 542.0h0M338.2 547.2h0M319.7 540.0h0M342.6 540.9h0M319.4 565.4h0M345.2 541.0h0M338.6 555.7h0M339.8 531.9h0M343.7 543.1h0M345.6 547.6h0M312.4 550.7h0M338.4 534.2h0M348.5 542.4h0M343.3 544.4h0M320.5 539.0h0M310.4 611.0h0M295.5 577.2h0M316.8 564.7h0M319.9 572.1h0M363.9 574.5h0M358.5 576.0h0M341.1 546.7h0M328.9 569.4h0M342.0 539.1h0M314.4 565.7h0M349.0 543.4h0M325.5 563.1h0M302.6 570.4h0M319.1 543.7h0M310.0 617.9h0M341.6 540.8h0M345.0 547.7h0M361.7 581.8h0M338.8 556.1h0M365.7 576.6h0M327.3 572.4h0M330.2 568.0h0M332.6 557.1h0M340.1 551.4h0M346.4 547.7h0M312.6 548.9h0" stroke="#6b9cf0" stroke-width="1.25" stroke-linecap="round"/>
<path d="M256.7 563.1h0M339.5 543.3h0M312.4 566.6h0M358.6 571.5h0M340.8 541.4h0M347.4 541.6h0M303.0 577.8h0M262.3 564.9h0M344.8 544.7h0M337.7 546.7h0M314.1 567.5h0M336.8 531.1h0M317.7 566.8h0M310.2 616.2h0M262.0 565.2h0M340.5 539.5h0M340.6 541.7h0M337.0 557.9h0M317.9 539.5h0M365.6 585.1h0M359.5 581.4h0M337.0 554.6h0M261.3 564.5h0M295.9 577.0h0M315.3 562.9h0M300.3 570.6h0M258.4 563.6h0M313.1 617.8h0M309.2 615.1h0M258.1 562.0h0M313.2 569.3h0M332.3 558.9h0M322.5 573.2h0M340.1 555.5h0M301.8 576.7h0M340.2 552.4h0M337.7 548.1h0M256.9 561.6h0M279.0 585.8h0M302.6 577.3h0M327.3 565.0h0M348.6 543.4h0M354.2 572.2h0M302.4 573.5h0M258.4 564.0h0M325.6 564.2h0M343.8 552.4h0M341.1 554.1h0M259.7 564.4h0M319.1 569.9h0M304.0 571.0h0M314.8 568.0h0M312.1 564.0h0M312.6 619.0h0M349.9 543.4h0M343.1 551.9h0M348.3 545.9h0M303.6 571.6h0M320.8 572.4h0M262.1 564.4h0M316.2 496.8h0M347.4 540.8h0M330.3 560.3h0M315.8 562.0h0M302.1 578.0h0M349.8 540.2h0M349.0 542.1h0M342.1 538.3h0M342.0 540.7h0M340.3 549.9h0M344.2 539.0h0M298.0 578.5h0M345.9 547.8h0M367.7 586.1h0M320.5 538.6h0M267.5 566.0h0M319.8 564.5h0M348.2 539.2h0M313.3 569.6h0M345.2 544.0h0M320.8 565.3h0M302.4 570.9h0M322.2 565.9h0M304.0 575.5h0M360.5 573.5h0M310.6 547.0h0M336.0 557.8h0M353.1 569.1h0M336.3 558.0h0M357.2 570.5h0M345.3 544.0h0M344.7 539.6h0M314.4 618.0h0M297.6 572.4h0M357.1 573.6h0M322.7 533.9h0M320.4 539.2h0M344.2 538.7h0M303.6 572.1h0M266.8 567.7h0M310.8 546.4h0M320.8 571.5h0M316.6 568.3h0M340.5 545.5h0M346.5 550.6h0M308.4 615.9h0M263.5 565.4h0M312.4 564.1h0M302.8 572.7h0M320.0 559.8h0M309.8 613.8h0M337.3 548.1h0M336.9 532.2h0M267.0 564.7h0M300.0 573.5h0M263.5 565.1h0M338.3 550.7h0M297.5 576.2h0M324.8 570.8h0M329.5 565.1h0M260.0 564.5h0M318.1 563.9h0M346.0 538.0h0M324.2 568.5h0M345.7 547.8h0M308.9 616.1h0M303.7 571.6h0M261.2 564.2h0M296.8 573.8h0M323.1 536.0h0M317.2 539.2h0M359.9 573.7h0M304.1 577.8h0M315.4 563.4h0M264.0 564.2h0M362.3 577.8h0M259.0 562.9h0M327.8 564.6h0M257.0 563.7h0M263.3 564.7h0M321.0 566.9h0M342.9 539.0h0M261.4 564.3h0M342.2 548.2h0M318.6 540.4h0M315.9 496.5h0M333.2 560.5h0M345.4 547.0h0M339.6 546.9h0M344.0 537.9h0M304.4 575.7h0M298.8 570.8h0M298.8 573.7h0M339.7 551.2h0M339.4 531.1h0M303.3 578.8h0M303.2 575.4h0M296.8 572.6h0M315.9 566.4h0M314.1 615.3h0M299.5 578.0h0M333.5 556.9h0M299.3 577.8h0M261.4 562.4h0M296.6 571.6h0M320.5 539.5h0M307.0 617.0h0M346.5 547.1h0M341.6 536.8h0M342.4 549.6h0M258.9 564.0h0M351.9 570.9h0M341.9 541.8h0M323.5 561.7h0M341.0 553.5h0M365.9 584.4h0M259.9 564.1h0M326.8 572.0h0M344.8 548.8h0M310.4 544.3h0M344.2 542.1h0M338.8 534.5h0M361.2 580.4h0M296.0 572.5h0M303.8 573.6h0M314.1 563.8h0M319.2 542.9h0M346.7 539.3h0M325.3 569.7h0M342.7 551.0h0M338.2 554.9h0M343.4 549.4h0M341.9 540.6h0M260.0 564.4h0M346.0 548.1h0M339.7 546.0h0M345.6 544.9h0M313.7 551.6h0M262.2 565.8h0M266.1 566.4h0M318.9 540.0h0M322.5 562.0h0M333.5 558.2h0M325.1 563.2h0M318.8 542.9h0M295.1 573.6h0M303.3 574.9h0M347.3 542.3h0M322.7 528.9h0M255.7 561.7h0M300.4 570.8h0M320.0 540.4h0M329.6 567.2h0M344.3 553.1h0M338.4 543.8h0M339.8 550.6h0M338.4 546.8h0M260.6 563.9h0M340.1 545.7h0M309.9 620.0h0M318.0 539.3h0M327.6 565.9h0M341.6 550.3h0M356.5 569.3h0M356.1 576.3h0M337.2 556.1h0M295.6 573.9h0M257.8 563.4h0M257.7 564.2h0M339.2 556.6h0M298.0 576.0h0M343.0 540.5h0M343.7 538.0h0M297.9 573.2h0M334.2 555.9h0M262.5 565.0h0M341.0 550.9h0M263.8 563.6h0M297.5 572.5h0M345.4 541.6h0M300.1 577.1h0M301.7 570.9h0M279.3 586.6h0M295.6 573.0h0M315.5 567.2h0M321.7 536.8h0M324.2 569.0h0M297.9 575.6h0M316.2 538.3h0M329.6 565.6h0M342.8 552.2h0M340.2 552.5h0M296.8 574.4h0M366.5 585.0h0M303.7 574.5h0M333.8 558.7h0M266.8 566.3h0M321.9 559.7h0M258.6 563.7h0M298.5 571.9h0M262.1 564.6h0M346.4 547.7h0M337.6 555.8h0M344.2 540.2h0M336.0 533.5h0M337.6 554.3h0M341.9 554.0h0M353.9 568.4h0M320.9 559.7h0M362.6 575.1h0M343.1 536.9h0M295.7 573.0h0M267.0 565.0h0M318.5 539.1h0M300.4 573.5h0M344.8 540.8h0M259.2 563.4h0M340.2 531.2h0M239.7 546.6h0M347.3 539.0h0M239.8 546.1h0M339.6 550.1h0M259.5 563.3h0M310.9 617.1h0M337.1 528.9h0M346.1 544.8h0M339.6 551.9h0M325.5 560.1h0M239.2 546.4h0M300.7 570.5h0M359.6 573.0h0M298.5 572.2h0M303.9 575.5h0M320.0 543.0h0M296.9 571.0h0M356.0 570.0h0M256.2 562.2h0M345.7 542.3h0M338.2 551.0h0M323.5 561.2h0M325.4 566.2h0M346.1 538.3h0M344.9 549.8h0M339.9 554.3h0M306.6 616.3h0M364.8 574.3h0M258.3 562.5h0M265.9 566.4h0M343.7 544.0h0M359.6 572.3h0M320.5 560.5h0M319.1 567.8h0M296.4 571.6h0M300.0 576.6h0M266.2 567.5h0M238.3 546.3h0M359.4 575.4h0M328.7 572.0h0M260.6 564.2h0M266.2 564.7h0M322.3 537.4h0M341.3 545.6h0M319.9 540.8h0M344.2 551.5h0M297.6 574.9h0M259.3 563.1h0M278.6 589.7h0M259.4 563.6h0M336.1 530.6h0M341.3 546.0h0M316.4 572.8h0M299.3 573.1h0M322.9 528.9h0M318.4 544.5h0M298.9 571.9h0M328.1 567.7h0" stroke="#ee6b67" stroke-width="1.25" stroke-linecap="round"/>
<path d="M320.2 542.1h0M343.3 538.6h0M336.2 531.4h0M312.8 546.4h0M315.7 568.3h0M343.5 539.1h0M312.6 565.9h0M312.3 549.8h0M311.2 613.3h0M355.7 575.5h0M311.7 565.7h0M311.9 560.8h0M346.1 541.9h0M316.1 555.6h0M328.8 565.1h0M355.5 575.1h0M317.2 568.2h0M311.7 545.1h0M311.7 560.7h0M345.9 538.0h0M310.1 548.9h0M314.8 556.0h0M336.8 557.1h0M315.2 554.5h0M326.7 564.1h0M315.8 557.4h0M360.9 572.7h0M325.7 566.7h0M311.8 618.5h0M310.8 561.3h0M313.3 566.2h0M358.9 574.4h0M321.9 561.3h0M329.8 561.5h0M312.7 551.0h0M302.7 572.7h0M316.9 564.2h0M309.5 545.0h0M311.4 567.2h0M314.4 564.6h0M320.8 564.9h0M341.4 548.9h0M322.3 562.3h0M318.6 574.0h0M328.6 560.8h0M310.0 546.9h0M314.4 571.0h0M363.8 577.4h0M353.0 568.8h0M308.9 613.6h0M322.1 571.7h0M343.7 541.6h0M321.2 558.5h0M311.0 550.5h0M312.4 565.0h0M322.9 568.6h0M318.7 559.3h0M319.1 567.9h0M311.1 613.6h0M317.2 556.9h0M326.4 560.4h0M319.6 568.3h0M358.7 571.1h0M365.5 585.8h0M315.5 566.5h0M321.5 572.0h0M320.8 559.2h0M338.7 535.4h0M344.5 543.3h0M317.6 564.0h0M322.4 571.4h0M312.8 547.6h0M310.3 543.8h0M317.4 564.8h0M325.3 568.0h0M317.8 566.0h0M360.9 576.5h0M324.0 564.9h0M313.5 563.3h0M311.4 547.9h0M317.4 559.8h0M311.8 545.3h0M315.4 564.6h0M328.5 567.9h0M317.6 568.7h0M312.0 546.7h0M308.5 614.0h0M328.8 568.2h0M364.9 574.4h0M310.4 547.5h0M311.1 615.7h0M318.6 568.2h0M316.5 567.3h0M322.7 568.4h0M337.6 540.6h0M322.4 570.1h0M309.2 620.3h0M317.6 565.9h0M344.2 552.3h0M315.0 557.8h0M319.5 542.0h0M343.6 538.9h0M309.8 618.4h0M315.6 558.5h0M313.1 552.1h0M318.7 558.9h0M360.9 579.9h0M310.4 563.5h0M311.1 550.6h0M314.5 565.6h0M313.8 549.1h0M311.1 566.8h0M360.5 572.9h0M324.6 563.1h0M358.0 577.3h0M319.3 564.2h0M317.0 568.3h0M314.0 555.5h0M324.7 571.8h0M322.3 558.7h0M309.4 546.2h0M317.1 571.3h0M363.6 576.8h0M361.3 579.8h0M321.5 565.4h0M337.5 552.9h0M279.6 589.5h0M339.8 548.1h0M339.0 556.1h0M320.8 571.6h0M321.5 573.9h0M311.9 549.2h0M352.9 573.0h0M359.9 578.5h0M300.3 570.4h0M357.1 572.1h0M323.1 570.2h0M336.1 554.6h0M346.9 540.1h0M313.9 616.9h0M317.9 542.1h0M311.2 561.1h0M341.0 549.5h0M343.2 540.5h0M315.9 560.5h0M357.7 574.4h0M363.0 577.8h0M357.2 578.0h0M311.8 544.2h0M321.4 562.8h0M329.4 559.6h0M311.7 619.2h0M323.0 567.8h0M319.1 563.4h0M361.3 576.7h0M317.6 563.0h0M361.1 579.3h0M312.9 567.8h0M310.5 544.6h0M312.0 618.7h0M343.5 538.1h0M360.3 577.9h0M321.7 564.4h0M308.9 615.8h0M340.9 543.0h0M358.4 575.9h0M321.3 571.6h0M323.4 535.1h0M323.3 572.3h0M310.7 563.3h0M314.8 557.8h0M314.5 547.8h0M309.7 620.1h0M320.3 569.2h0M318.0 564.8h0M310.7 543.8h0M320.0 570.3h0M313.5 557.3h0M325.5 566.7h0M311.3 548.7h0M330.7 560.2h0M313.6 554.5h0M318.8 568.3h0M329.3 565.7h0M315.5 549.6h0M319.2 570.6h0M314.6 557.1h0M360.6 577.8h0M349.5 541.9h0M359.8 577.0h0M320.9 571.8h0M311.1 550.0h0M355.2 573.5h0M314.7 552.0h0M329.4 567.6h0M322.6 567.5h0M320.0 569.8h0M317.7 563.7h0M312.6 616.5h0M323.8 563.2h0M321.2 568.6h0M359.0 575.7h0M358.9 572.1h0M325.3 563.7h0M315.1 561.0h0M316.4 565.5h0M359.3 578.4h0M313.4 549.3h0M316.3 560.2h0M322.7 538.0h0M310.3 616.0h0M343.0 546.2h0M323.1 558.8h0M308.0 564.9h0M354.0 572.0h0M315.7 560.4h0M312.9 568.3h0M310.3 616.2h0M297.2 578.0h0M316.9 572.6h0M323.9 565.5h0M309.8 610.8h0M357.1 574.8h0M325.0 566.8h0M329.3 565.3h0M315.9 561.5h0M311.0 547.0h0M356.7 580.1h0M312.8 561.6h0M312.2 547.0h0M318.9 572.1h0M368.7 586.1h0M311.3 567.4h0M324.9 570.9h0M361.4 575.7h0M354.2 569.6h0M313.0 566.2h0M319.0 559.7h0M312.8 549.4h0M336.3 546.8h0M323.2 560.5h0M323.1 563.0h0M313.1 616.5h0M314.5 561.5h0M314.0 617.4h0M362.4 579.2h0M323.2 570.9h0M309.6 543.0h0M321.6 539.2h0M315.2 566.8h0M319.5 569.8h0M367.4 577.4h0M309.6 563.9h0M315.5 554.7h0M337.6 555.3h0M309.2 613.0h0M312.5 561.9h0M328.0 560.5h0M320.2 572.0h0M367.2 586.7h0M313.5 548.9h0M322.6 564.4h0M314.4 568.8h0M314.9 616.3h0M324.0 568.8h0M358.8 574.2h0M311.1 543.6h0M312.4 545.5h0M325.0 566.1h0M329.8 562.7h0M313.3 549.9h0M346.4 543.9h0M310.3 546.8h0M361.8 573.0h0M328.7 560.7h0M312.5 555.5h0M318.7 564.0h0M359.5 573.0h0M310.1 610.8h0M322.3 571.0h0M311.4 567.3h0M310.3 542.9h0M320.2 572.1h0M310.4 618.8h0M341.1 548.5h0M369.0 587.3h0M309.8 612.3h0M361.4 574.4h0M308.2 543.9h0M342.6 540.0h0M320.4 559.6h0M310.4 561.5h0M357.8 575.2h0M313.7 565.7h0M365.4 584.2h0M325.7 569.4h0M364.6 576.0h0M308.0 614.9h0M361.6 578.5h0M311.7 547.2h0M360.8 578.8h0M313.3 552.9h0M311.5 562.2h0M310.0 563.2h0M320.0 567.7h0M364.5 583.7h0M312.9 547.6h0M317.6 572.8h0M279.3 589.6h0M324.9 562.0h0M317.8 559.2h0M312.8 550.8h0M357.9 575.0h0M366.0 576.3h0M319.3 563.4h0M318.7 568.8h0M358.4 573.1h0M354.6 572.1h0M321.3 567.4h0M327.6 560.8h0M313.7 615.6h0M311.4 617.9h0M328.4 564.0h0M311.8 545.4h0M308.2 612.3h0M315.8 562.7h0M331.6 567.2h0M335.5 554.8h0M342.0 552.9h0M309.3 562.6h0M311.6 617.0h0M312.5 613.5h0M311.3 613.9h0M359.2 574.0h0M324.4 567.4h0M342.7 538.5h0M316.7 556.6h0M314.0 547.8h0M367.9 585.6h0M319.9 538.7h0M319.1 541.3h0M311.5 612.8h0M322.2 564.6h0M360.7 572.6h0M315.0 554.7h0M312.8 615.2h0" stroke="#3ec93a" stroke-width="1.25" stroke-linecap="round"/>
<circle cx="238.1" cy="502.3" r="2.2" fill="#ee6b67"/>
<text x="246.9" y="504.9" font-size="7.1">Lesional_baseline</text>
<circle cx="238.1" cy="511.45" r="2.2" fill="#3ec93a"/>
<text x="246.9" y="514.05" font-size="7.1">Non−Lesional_baseline</text>
<circle cx="238.1" cy="520.6" r="2.2" fill="#6b9cf0"/>
<text x="246.9" y="523.2" font-size="7.1">Lesional_posttreatment</text>
<text x="392.2" y="481.5" font-size="16">g</text>
<rect x="422.1" y="498.9" width="9.6" height="17.36" fill="#ef6b6e"/>
<rect x="422.1" y="516.26" width="9.6" height="66.73" fill="#44ee22"/>
<rect x="422.1" y="582.99" width="9.6" height="24.41" fill="#5c9ff5"/>
<rect x="432.79" y="498.9" width="9.6" height="72.7" fill="#ef6b6e"/>
<rect x="432.79" y="571.6" width="9.6" height="8.68" fill="#44ee22"/>
<rect x="432.79" y="580.27" width="9.6" height="27.12" fill="#5c9ff5"/>
<rect x="443.48" y="498.9" width="9.6" height="29.84" fill="#ef6b6e"/>
<rect x="443.48" y="528.74" width="9.6" height="46.11" fill="#44ee22"/>
<rect x="443.48" y="574.85" width="9.6" height="32.55" fill="#5c9ff5"/>
<rect x="454.17" y="498.9" width="9.6" height="68.9" fill="#ef6b6e"/>
<rect x="454.17" y="567.8" width="9.6" height="7.05" fill="#44ee22"/>
<rect x="454.17" y="574.85" width="9.6" height="32.55" fill="#5c9ff5"/>
<rect x="464.86" y="498.9" width="9.6" height="11.39" fill="#ef6b6e"/>
<rect x="464.86" y="510.29" width="9.6" height="77.58" fill="#44ee22"/>
<rect x="464.86" y="587.87" width="9.6" height="19.53" fill="#5c9ff5"/>
<rect x="475.55" y="498.9" width="9.6" height="101.99" fill="#ef6b6e"/>
<rect x="475.55" y="600.89" width="9.6" height="0.54" fill="#44ee22"/>
<rect x="475.55" y="601.43" width="9.6" height="5.97" fill="#5c9ff5"/>
<rect x="486.24" y="498.9" width="9.6" height="27.67" fill="#ef6b6e"/>
<rect x="486.24" y="526.57" width="9.6" height="54.25" fill="#44ee22"/>
<rect x="486.24" y="580.82" width="9.6" height="26.58" fill="#5c9ff5"/>
<rect x="496.93" y="498.9" width="9.6" height="95.48" fill="#ef6b6e"/>
<rect x="496.93" y="594.38" width="9.6" height="9.76" fill="#44ee22"/>
<rect x="496.93" y="604.14" width="9.6" height="3.25" fill="#5c9ff5"/>
<rect x="507.62" y="498.9" width="9.6" height="26.04" fill="#ef6b6e"/>
<rect x="507.62" y="524.94" width="9.6" height="40.14" fill="#44ee22"/>
<rect x="507.62" y="565.08" width="9.6" height="42.32" fill="#5c9ff5"/>
<rect x="518.31" y="498.9" width="9.6" height="51.54" fill="#ef6b6e"/>
<rect x="518.31" y="550.44" width="9.6" height="4.34" fill="#44ee22"/>
<rect x="518.31" y="554.78" width="9.6" height="52.62" fill="#5c9ff5"/>
<rect x="529" y="498.9" width="9.6" height="37.43" fill="#ef6b6e"/>
<rect x="529" y="536.33" width="9.6" height="50.45" fill="#44ee22"/>
<rect x="529" y="586.78" width="9.6" height="20.62" fill="#5c9ff5"/>
<rect x="539.69" y="498.9" width="9.6" height="108.5" fill="#ef6b6e"/>
<rect x="539.69" y="607.4" width="9.6" height="0" fill="#44ee22"/>
<rect x="539.69" y="607.4" width="9.6" height="0" fill="#5c9ff5"/>
<rect x="550.38" y="498.9" width="9.6" height="108.5" fill="#ef6b6e"/>
<rect x="550.38" y="607.4" width="9.6" height="0" fill="#44ee22"/>
<rect x="550.38" y="607.4" width="9.6" height="0" fill="#5c9ff5"/>
<rect x="561.07" y="498.9" width="9.6" height="108.5" fill="#ef6b6e"/>
<rect x="561.07" y="607.4" width="9.6" height="0" fill="#44ee22"/>
<rect x="561.07" y="607.4" width="9.6" height="0" fill="#5c9ff5"/>
<rect x="571.76" y="498.9" width="9.6" height="2.71" fill="#ef6b6e"/>
<rect x="571.76" y="501.61" width="9.6" height="8.14" fill="#44ee22"/>
<rect x="571.76" y="509.75" width="9.6" height="97.65" fill="#5c9ff5"/>
<line x1="419.8" y1="493.7" x2="419.8" y2="612" stroke="#222" stroke-width="0.8"/>
<line x1="419.4" y1="611.6" x2="581.7" y2="611.6" stroke="#222" stroke-width="0.8"/>
<line x1="417.3" y1="498.9" x2="419.8" y2="498.9" stroke="#222" stroke-width="0.8"/>
<text x="416.3" y="501.5" font-size="7.3" text-anchor="end">1.0</text>
<line x1="417.3" y1="553.15" x2="419.8" y2="553.15" stroke="#222" stroke-width="0.8"/>
<text x="416.3" y="555.75" font-size="7.3" text-anchor="end">0.5</text>
<line x1="417.3" y1="607.4" x2="419.8" y2="607.4" stroke="#222" stroke-width="0.8"/>
<text x="416.3" y="610" font-size="7.3" text-anchor="end">0.0</text>
<line x1="426.9" y1="611.6" x2="426.9" y2="614.1" stroke="#222" stroke-width="0.8"/>
<text x="429.7" y="616.8" font-size="7.9" text-anchor="end" transform="rotate(-45 429.7 616.8)" dominant-baseline="central">0</text>
<line x1="437.59" y1="611.6" x2="437.59" y2="614.1" stroke="#222" stroke-width="0.8"/>
<text x="440.39" y="616.8" font-size="7.9" text-anchor="end" transform="rotate(-45 440.39 616.8)" dominant-baseline="central">1</text>
<line x1="448.28" y1="611.6" x2="448.28" y2="614.1" stroke="#222" stroke-width="0.8"/>
<text x="451.08" y="616.8" font-size="7.9" text-anchor="end" transform="rotate(-45 451.08 616.8)" dominant-baseline="central">2</text>
<line x1="458.97" y1="611.6" x2="458.97" y2="614.1" stroke="#222" stroke-width="0.8"/>
<text x="461.77" y="616.8" font-size="7.9" text-anchor="end" transform="rotate(-45 461.77 616.8)" dominant-baseline="central">3</text>
<line x1="469.66" y1="611.6" x2="469.66" y2="614.1" stroke="#222" stroke-width="0.8"/>
<text x="472.46" y="616.8" font-size="7.9" text-anchor="end" transform="rotate(-45 472.46 616.8)" dominant-baseline="central">4</text>
<line x1="480.35" y1="611.6" x2="480.35" y2="614.1" stroke="#222" stroke-width="0.8"/>
<text x="483.15" y="616.8" font-size="7.9" text-anchor="end" transform="rotate(-45 483.15 616.8)" dominant-baseline="central">5</text>
<line x1="491.04" y1="611.6" x2="491.04" y2="614.1" stroke="#222" stroke-width="0.8"/>
<text x="493.84" y="616.8" font-size="7.9" text-anchor="end" transform="rotate(-45 493.84 616.8)" dominant-baseline="central">6</text>
<line x1="501.73" y1="611.6" x2="501.73" y2="614.1" stroke="#222" stroke-width="0.8"/>
<text x="504.53" y="616.8" font-size="7.9" text-anchor="end" transform="rotate(-45 504.53 616.8)" dominant-baseline="central">7</text>
<line x1="512.42" y1="611.6" x2="512.42" y2="614.1" stroke="#222" stroke-width="0.8"/>
<text x="515.22" y="616.8" font-size="7.9" text-anchor="end" transform="rotate(-45 515.22 616.8)" dominant-baseline="central">8</text>
<line x1="523.11" y1="611.6" x2="523.11" y2="614.1" stroke="#222" stroke-width="0.8"/>
<text x="525.91" y="616.8" font-size="7.9" text-anchor="end" transform="rotate(-45 525.91 616.8)" dominant-baseline="central">9</text>
<line x1="533.8" y1="611.6" x2="533.8" y2="614.1" stroke="#222" stroke-width="0.8"/>
<text x="536.6" y="616.8" font-size="7.9" text-anchor="end" transform="rotate(-45 536.6 616.8)" dominant-baseline="central">10</text>
<line x1="544.49" y1="611.6" x2="544.49" y2="614.1" stroke="#222" stroke-width="0.8"/>
<text x="547.29" y="616.8" font-size="7.9" text-anchor="end" transform="rotate(-45 547.29 616.8)" dominant-baseline="central">11</text>
<line x1="555.18" y1="611.6" x2="555.18" y2="614.1" stroke="#222" stroke-width="0.8"/>
<text x="557.98" y="616.8" font-size="7.9" text-anchor="end" transform="rotate(-45 557.98 616.8)" dominant-baseline="central">12</text>
<line x1="565.87" y1="611.6" x2="565.87" y2="614.1" stroke="#222" stroke-width="0.8"/>
<text x="568.67" y="616.8" font-size="7.9" text-anchor="end" transform="rotate(-45 568.67 616.8)" dominant-baseline="central">13</text>
<line x1="576.56" y1="611.6" x2="576.56" y2="614.1" stroke="#222" stroke-width="0.8"/>
<text x="579.36" y="616.8" font-size="7.9" text-anchor="end" transform="rotate(-45 579.36 616.8)" dominant-baseline="central">14</text>
<text x="500.9" y="632.8" font-size="7.6" text-anchor="middle">Cluster number</text>
<text x="402.8" y="550" font-size="7.6" text-anchor="middle" transform="rotate(-90 402.8 550)">% of each cluster</text>
<path d="M480.9 463.9V491.3" fill="none" stroke="#111" stroke-width="1.6"/>
<path d="M475.9 483.3L480.9 492.1L485.9 483.3" fill="none" stroke="#111" stroke-width="1.6"/>
<path d="M543.5 463.9V491.3" fill="none" stroke="#111" stroke-width="1.6"/>
<path d="M538.5 483.3L543.5 492.1L548.5 483.3" fill="none" stroke="#111" stroke-width="1.6"/>
<path d="M555.1 463.9V491.3" fill="none" stroke="#111" stroke-width="1.6"/>
<path d="M550.1 483.3L555.1 492.1L560.1 483.3" fill="none" stroke="#111" stroke-width="1.6"/>
<path d="M566.7 463.9V491.3" fill="none" stroke="#111" stroke-width="1.6"/>
<path d="M561.7 483.3L566.7 492.1L571.7 483.3" fill="none" stroke="#111" stroke-width="1.6"/>
<rect x="588.1" y="538.8" width="10.4" height="10" fill="#ef6b6e"/>
<text x="601.9" y="546.8" font-size="7.6">Lesional_baseline</text>
<rect x="588.1" y="549.8" width="10.4" height="10" fill="#44ee22"/>
<text x="601.9" y="557.8" font-size="7.6">Non−Lesional_baseline</text>
<rect x="588.1" y="560.8" width="10.4" height="10" fill="#5c9ff5"/>
<text x="601.9" y="568.8" font-size="7.6">Lesional_posttreatment</text>
<text x="11" y="661.6" font-size="16">h</text>
<line x1="28.7" y1="685.4" x2="28.7" y2="830.8" stroke="#222" stroke-width="0.8"/>
<line x1="28.3" y1="830.4" x2="232.6" y2="830.4" stroke="#222" stroke-width="0.8"/>
<line x1="26.2" y1="711.3" x2="28.7" y2="711.3" stroke="#222" stroke-width="0.8"/>
<text x="25.1" y="714.2" font-size="8.1" text-anchor="end">2</text>
<line x1="26.2" y1="753.3" x2="28.7" y2="753.3" stroke="#222" stroke-width="0.8"/>
<text x="25.1" y="756.2" font-size="8.1" text-anchor="end">1</text>
<line x1="26.2" y1="795.3" x2="28.7" y2="795.3" stroke="#222" stroke-width="0.8"/>
<text x="25.1" y="798.2" font-size="8.1" text-anchor="end">0</text>
<line x1="36.3" y1="830.4" x2="36.3" y2="832.9" stroke="#222" stroke-width="0.8"/>
<text x="36.3" y="840.2" font-size="8.1" text-anchor="middle">0</text>
<line x1="49.84" y1="830.4" x2="49.84" y2="832.9" stroke="#222" stroke-width="0.8"/>
<text x="49.84" y="840.2" font-size="8.1" text-anchor="middle">1</text>
<line x1="63.38" y1="830.4" x2="63.38" y2="832.9" stroke="#222" stroke-width="0.8"/>
<text x="63.38" y="840.2" font-size="8.1" text-anchor="middle">2</text>
<line x1="76.92" y1="830.4" x2="76.92" y2="832.9" stroke="#222" stroke-width="0.8"/>
<text x="76.92" y="840.2" font-size="8.1" text-anchor="middle">3</text>
<line x1="90.46" y1="830.4" x2="90.46" y2="832.9" stroke="#222" stroke-width="0.8"/>
<text x="90.46" y="840.2" font-size="8.1" text-anchor="middle">4</text>
<line x1="104" y1="830.4" x2="104" y2="832.9" stroke="#222" stroke-width="0.8"/>
<text x="104" y="840.2" font-size="8.1" text-anchor="middle">5</text>
<line x1="117.54" y1="830.4" x2="117.54" y2="832.9" stroke="#222" stroke-width="0.8"/>
<text x="117.54" y="840.2" font-size="8.1" text-anchor="middle">6</text>
<line x1="131.08" y1="830.4" x2="131.08" y2="832.9" stroke="#222" stroke-width="0.8"/>
<text x="131.08" y="840.2" font-size="8.1" text-anchor="middle">7</text>
<line x1="144.62" y1="830.4" x2="144.62" y2="832.9" stroke="#222" stroke-width="0.8"/>
<text x="144.62" y="840.2" font-size="8.1" text-anchor="middle">8</text>
<line x1="158.16" y1="830.4" x2="158.16" y2="832.9" stroke="#222" stroke-width="0.8"/>
<text x="158.16" y="840.2" font-size="8.1" text-anchor="middle">9</text>
<line x1="171.7" y1="830.4" x2="171.7" y2="832.9" stroke="#222" stroke-width="0.8"/>
<text x="171.7" y="840.2" font-size="8.1" text-anchor="middle">10</text>
<line x1="185.24" y1="830.4" x2="185.24" y2="832.9" stroke="#222" stroke-width="0.8"/>
<text x="185.24" y="840.2" font-size="8.1" text-anchor="middle">11</text>
<line x1="198.78" y1="830.4" x2="198.78" y2="832.9" stroke="#222" stroke-width="0.8"/>
<text x="198.78" y="840.2" font-size="8.1" text-anchor="middle">12</text>
<line x1="212.32" y1="830.4" x2="212.32" y2="832.9" stroke="#222" stroke-width="0.8"/>
<text x="212.32" y="840.2" font-size="8.1" text-anchor="middle">13</text>
<line x1="225.86" y1="830.4" x2="225.86" y2="832.9" stroke="#222" stroke-width="0.8"/>
<text x="225.86" y="840.2" font-size="8.1" text-anchor="middle">14</text>
<text x="131.3" y="849.5" font-size="8.1" text-anchor="middle">Cluster number</text>
<text x="16.1" y="760.5" font-size="8.1" text-anchor="middle" transform="rotate(-90 16.1 760.5)">Module score</text>
<path d="M32.7 769.3h0M39.3 788.8h0M41.1 743.0h0M30.4 789.1h0M37.5 793.7h0M32.6 773.3h0M37.9 779.5h0M35.4 802.8h0M38.8 805.3h0M33.3 773.8h0M36.9 786.6h0M38.9 778.0h0M33.1 810.5h0M34.7 796.2h0M31.8 751.0h0M32.4 808.5h0M35.4 759.1h0M40.6 764.4h0M31.0 790.1h0M41.7 805.7h0M36.6 779.6h0M38.3 797.4h0M36.7 796.4h0M31.9 787.2h0M30.8 767.4h0M38.4 796.6h0M36.1 774.7h0M39.6 796.7h0M39.1 747.9h0M33.1 772.2h0M34.6 780.6h0M29.8 793.7h0M36.3 794.4h0M38.8 768.4h0M30.1 780.7h0M41.9 743.4h0M38.0 824.1h0M37.7 781.5h0M39.7 782.0h0M35.9 772.2h0M30.6 785.8h0M40.2 774.2h0M38.0 760.2h0M37.3 792.6h0M34.6 786.2h0M38.3 801.1h0M41.0 781.9h0M34.7 783.3h0M35.5 747.6h0M34.9 795.4h0M38.8 797.6h0M35.2 741.5h0M39.2 797.6h0M39.1 812.0h0M33.2 788.1h0M41.4 779.3h0M33.1 773.2h0M38.9 789.1h0M37.5 803.0h0M36.6 764.8h0M36.5 759.1h0M36.9 770.6h0M35.2 759.9h0M31.2 753.7h0M33.9 802.2h0M33.1 791.0h0M34.5 771.1h0M41.8 783.9h0M36.0 804.0h0M40.7 769.1h0M36.1 750.0h0M36.4 791.1h0M37.6 759.4h0M39.0 773.4h0M36.8 766.3h0M38.6 777.1h0M36.4 782.6h0M35.3 791.9h0M31.5 756.8h0M33.6 798.1h0M33.0 771.3h0M30.6 771.5h0M32.8 801.5h0M40.1 765.5h0M40.6 794.7h0M37.7 780.2h0M38.6 786.4h0M36.9 777.5h0M34.6 781.7h0M36.0 782.6h0M37.2 772.3h0M34.2 761.0h0M36.2 756.7h0M33.1 800.5h0M34.2 769.8h0M38.6 740.7h0M30.6 724.1h0M34.6 774.7h0M31.5 780.9h0M34.8 739.5h0M38.8 774.4h0M35.2 761.3h0M35.4 790.4h0M40.0 771.5h0M38.1 796.8h0M41.9 765.6h0M31.2 800.8h0M42.7 782.2h0M39.0 814.2h0M30.1 804.4h0M31.7 772.4h0M35.2 772.8h0M34.4 801.6h0M36.5 781.4h0M40.8 774.3h0M37.9 822.6h0M39.6 760.2h0M34.6 784.0h0M31.4 803.8h0M41.5 783.8h0M42.0 796.0h0M38.2 753.9h0M39.7 761.7h0M41.6 777.4h0M41.0 792.6h0M30.5 771.8h0M35.5 769.7h0M38.3 792.2h0M36.2 798.1h0M38.3 761.6h0M31.6 779.2h0M37.9 801.0h0M31.8 803.3h0M35.1 759.8h0M36.9 745.2h0M32.1 754.7h0M31.6 774.8h0M37.2 776.6h0M34.4 782.5h0M33.4 788.3h0M32.5 785.2h0M37.3 798.0h0M35.4 756.3h0M30.4 771.5h0M32.1 767.8h0M37.8 822.5h0M32.2 783.5h0M33.3 776.7h0M35.2 792.4h0M39.6 791.4h0M40.1 760.0h0M32.6 773.6h0M32.3 763.2h0M41.2 808.4h0M34.9 817.9h0M30.6 744.5h0M32.1 772.8h0M33.2 772.2h0M32.4 797.2h0M34.8 757.7h0M38.7 766.6h0M35.7 769.2h0M33.8 772.8h0M41.4 784.6h0M36.8 773.3h0M37.9 780.1h0M36.1 773.1h0M42.2 776.6h0M36.2 772.1h0M36.5 770.1h0M35.5 778.7h0M40.9 812.0h0M37.0 726.0h0M40.3 766.5h0M33.1 783.0h0M39.2 761.6h0M30.3 801.1h0M41.4 767.1h0M36.6 774.0h0M35.5 757.4h0M41.4 802.1h0M35.7 755.4h0M42.3 747.5h0M36.7 781.6h0M37.6 767.9h0M34.8 785.2h0M34.5 791.8h0M36.6 766.5h0M40.6 750.1h0M41.1 778.3h0M31.0 785.4h0M40.0 760.2h0M31.1 766.0h0M31.5 809.9h0M35.3 772.0h0M30.6 795.4h0M41.2 752.6h0M37.6 764.0h0M38.5 783.9h0M36.0 753.9h0M35.5 764.0h0M36.9 777.8h0M31.4 811.9h0M32.3 752.3h0M32.0 762.9h0M35.2 782.8h0M36.0 768.8h0M35.8 777.7h0M41.6 772.1h0M36.9 759.6h0M40.7 797.9h0M34.2 753.8h0M29.8 789.4h0M34.3 777.0h0M37.4 785.0h0M37.3 778.6h0M37.6 778.5h0M36.0 774.6h0M39.5 796.1h0M35.4 800.1h0M31.4 759.2h0M36.4 771.2h0M37.8 768.0h0M39.9 822.2h0M41.9 776.2h0M32.8 794.7h0M29.3 797.5h0M38.5 757.4h0M34.9 795.5h0M37.8 780.9h0M35.3 813.7h0M41.4 785.9h0M30.4 794.5h0M36.2 801.5h0M30.7 762.7h0M40.7 788.7h0M36.1 768.2h0M29.9 779.3h0M36.8 811.6h0M41.7 762.1h0M39.5 768.8h0M34.4 756.7h0M30.8 782.6h0M36.5 785.5h0M34.5 765.4h0M31.5 741.0h0M39.1 762.8h0M36.2 774.3h0M37.1 803.4h0M42.3 762.4h0M30.0 780.1h0M36.7 797.7h0M39.5 776.7h0M38.9 780.5h0M38.3 761.1h0M36.2 769.8h0M34.8 807.5h0M31.3 746.5h0M35.1 774.1h0M40.2 758.6h0M35.0 763.9h0M37.9 791.0h0M36.4 789.3h0M37.0 746.2h0M36.1 752.7h0M39.0 797.7h0M35.0 752.2h0M35.3 764.3h0M31.5 775.0h0M31.0 782.2h0M34.6 781.9h0M40.8 825.9h0M39.3 762.6h0M37.7 764.3h0M37.6 780.1h0M36.5 767.0h0M32.2 778.8h0M36.7 771.2h0M35.9 791.6h0M35.1 776.7h0M37.2 804.8h0M37.7 798.3h0M30.8 796.1h0M36.2 793.3h0M36.3 779.5h0M33.6 737.0h0M36.9 781.6h0M37.8 761.8h0M42.0 795.7h0M40.6 772.3h0M42.0 821.7h0M34.6 777.5h0M32.5 807.3h0M36.8 766.7h0M37.7 771.5h0M37.4 784.0h0M40.1 790.7h0M37.9 784.7h0M37.8 768.2h0M38.5 794.5h0M41.8 786.7h0M37.1 770.3h0M30.0 748.4h0M37.9 787.1h0M33.2 773.4h0M39.5 756.2h0M37.1 801.7h0M38.5 754.8h0M41.8 759.8h0M40.0 761.0h0M36.8 800.8h0M36.2 745.3h0M38.2 744.1h0M39.2 771.6h0M41.6 798.6h0M36.8 767.4h0M38.8 796.6h0M34.6 772.8h0M32.9 808.9h0M33.1 795.1h0M29.9 792.6h0M41.5 743.0h0M35.5 776.5h0M34.6 775.8h0M36.2 810.1h0M30.5 808.9h0M33.5 769.9h0M40.3 744.0h0M40.0 798.0h0M36.8 777.5h0M37.1 781.9h0M36.0 809.2h0M42.5 782.8h0M34.2 766.9h0M35.4 797.8h0M41.2 796.2h0M34.9 801.6h0M35.6 789.1h0M35.6 770.9h0M38.2 761.4h0M38.1 780.8h0M30.5 773.0h0M32.8 780.9h0M34.6 790.2h0M38.2 800.6h0M33.3 780.1h0M37.7 792.5h0M32.3 787.3h0M36.3 779.4h0M38.7 780.0h0M31.0 791.7h0M42.4 779.4h0M33.9 791.0h0M31.2 788.8h0M34.1 767.0h0M31.4 785.5h0M35.5 770.0h0M34.5 790.2h0M40.3 742.1h0M35.0 745.6h0M33.0 785.8h0M39.2 784.1h0M37.5 803.2h0M34.1 769.3h0M35.7 797.8h0M35.7 787.2h0M40.2 774.8h0M35.1 792.8h0M40.3 762.3h0M39.1 781.4h0M39.8 805.3h0M30.0 824.6h0M36.4 767.8h0M33.3 775.7h0M39.7 806.0h0M31.3 800.3h0M36.3 772.6h0M34.9 764.4h0M35.1 801.2h0M35.5 781.6h0M34.6 814.4h0M36.4 823.5h0M37.0 799.8h0M42.5 758.7h0M32.1 791.6h0M32.9 780.9h0M34.6 767.8h0M34.5 756.8h0M39.5 773.9h0M31.7 775.0h0M37.5 760.8h0M34.8 759.2h0M36.0 760.7h0M41.4 790.2h0M33.2 786.4h0M35.7 793.9h0M39.4 790.3h0M31.7 808.3h0M38.4 794.0h0M35.4 803.7h0M39.6 771.6h0M38.1 788.2h0M31.0 760.9h0M35.0 796.4h0M33.4 753.1h0M29.7 792.7h0M36.5 762.2h0M33.2 775.5h0M35.5 792.4h0M39.5 802.2h0M32.8 778.6h0M30.2 751.8h0M38.0 731.9h0M30.2 762.5h0M31.0 768.0h0M35.6 778.1h0M40.1 749.3h0M36.5 761.7h0M38.3 786.2h0M39.8 775.6h0M34.4 783.2h0M34.4 787.6h0M31.1 778.2h0M33.1 756.0h0M35.2 801.4h0M36.1 815.4h0M38.3 769.8h0M31.8 762.7h0M34.7 786.4h0M40.7 771.4h0M42.2 771.0h0M31.1 757.5h0M41.8 777.1h0M41.1 756.3h0M34.6 776.2h0M40.7 776.9h0M39.6 764.7h0M36.4 762.3h0M31.1 781.2h0M33.1 788.3h0M42.0 759.9h0M37.6 729.7h0M35.0 782.7h0M38.9 758.5h0M32.4 794.9h0M36.3 797.6h0M37.3 786.2h0M37.5 761.9h0M35.1 756.3h0M37.7 775.3h0M41.9 797.6h0M38.2 790.0h0M37.8 774.0h0M37.6 794.6h0M40.3 755.6h0M36.0 799.2h0M38.8 766.0h0M39.0 767.5h0M38.6 807.4h0M33.1 787.0h0M35.6 782.7h0M35.7 763.6h0M36.0 777.3h0M40.8 799.3h0M36.9 771.2h0M39.7 768.8h0M30.0 759.9h0M31.2 785.4h0M36.1 768.1h0M37.4 775.2h0M37.8 816.7h0M30.7 800.0h0M38.3 765.7h0M35.7 771.9h0M40.0 808.1h0M37.3 785.2h0M32.7 799.7h0M35.6 807.9h0M32.2 794.1h0M35.7 790.0h0M34.2 777.4h0M34.0 731.1h0M39.0 772.0h0M39.0 783.4h0M36.2 780.9h0M42.3 783.5h0M32.8 800.5h0M37.2 784.4h0M38.2 739.2h0M32.7 773.5h0M32.2 761.3h0M36.7 781.5h0M32.9 790.1h0M36.3 797.5h0M33.4 817.8h0M38.8 764.9h0M36.5 782.6h0M35.4 775.7h0M34.4 778.5h0M30.1 760.9h0M37.6 783.4h0M37.4 749.9h0M35.6 756.6h0M30.6 798.8h0M31.7 749.4h0M37.6 786.7h0M40.7 785.8h0M36.5 774.5h0M36.7 762.0h0M37.2 781.4h0M33.2 815.3h0M36.0 769.0h0M37.3 753.0h0M36.6 737.6h0M36.3 758.6h0M36.9 780.6h0M36.4 744.1h0M36.1 796.0h0M35.2 812.1h0M35.8 788.2h0M30.8 769.5h0M36.2 780.0h0M38.7 747.8h0M41.5 798.0h0M39.5 817.2h0M33.7 824.8h0M40.5 786.5h0M35.4 775.6h0M34.7 778.3h0M39.5 772.7h0M37.3 763.6h0M42.0 765.7h0M41.9 779.9h0M31.5 767.4h0M33.4 804.2h0M36.3 784.4h0M39.8 799.1h0M42.3 798.4h0M38.2 781.9h0M36.4 764.5h0M36.3 767.6h0M39.1 794.5h0M37.9 801.1h0M33.1 804.0h0M38.6 800.6h0M31.0 771.1h0M29.5 788.0h0M34.0 771.0h0M40.0 800.6h0M41.2 814.6h0M37.4 788.8h0M37.4 759.0h0M36.3 799.4h0M35.7 775.6h0M39.1 775.5h0M36.9 793.0h0M30.8 768.3h0M33.9 745.6h0M32.1 748.4h0M34.9 787.5h0M35.8 825.7h0M37.1 822.5h0M31.3 774.4h0M40.8 801.2h0M38.0 758.7h0M34.5 793.8h0M39.9 798.6h0M35.2 771.5h0M36.5 780.3h0M36.3 793.6h0M32.1 760.7h0M33.8 796.3h0M34.8 802.7h0M41.1 784.0h0M35.9 788.8h0M35.5 789.4h0M33.5 774.4h0M38.1 767.4h0M36.2 789.6h0M36.5 767.4h0M33.6 786.7h0M33.1 765.8h0M37.6 782.8h0M36.9 767.2h0M36.1 769.1h0M38.2 771.2h0M36.1 801.5h0M35.1 782.8h0M39.6 785.7h0M36.7 777.8h0M41.7 785.6h0M34.3 764.5h0M36.7 794.1h0M35.1 776.0h0M31.6 760.9h0M37.0 760.1h0M39.7 750.8h0M37.3 808.7h0M35.8 778.0h0M35.8 782.1h0M36.3 775.2h0M42.6 793.7h0M40.3 774.6h0M37.4 799.4h0M33.5 733.2h0M32.1 752.0h0M33.3 772.9h0M36.3 750.8h0M39.9 773.0h0M37.6 781.1h0M34.8 797.0h0M36.3 778.4h0M36.2 803.7h0M36.5 766.1h0M36.8 781.3h0M35.4 779.3h0M41.2 768.0h0M37.0 805.3h0M36.7 772.9h0M37.9 777.8h0M37.1 745.1h0M32.9 783.8h0M32.6 792.1h0M36.6 794.0h0M35.5 738.9h0M38.6 781.9h0M40.9 813.3h0M33.0 770.0h0M38.3 751.9h0M33.3 782.3h0M34.6 773.8h0M30.6 777.3h0M39.4 752.5h0M30.7 779.9h0M41.3 762.8h0M32.3 780.3h0M32.4 813.6h0M35.6 812.4h0M33.5 768.0h0M40.6 776.0h0M41.2 775.6h0M38.1 781.2h0M35.3 759.9h0M35.2 768.2h0M31.6 787.8h0M33.1 809.5h0M35.4 757.5h0M37.5 784.9h0M35.5 758.0h0M35.1 773.0h0M31.3 786.5h0M41.6 792.0h0M36.8 819.4h0M35.3 819.4h0M36.1 795.0h0M35.2 752.9h0M34.6 784.4h0M38.7 760.2h0M31.7 777.6h0M37.1 792.7h0M31.0 769.9h0M33.3 759.1h0M32.9 754.5h0M36.1 773.7h0M33.8 781.2h0M37.1 797.6h0M40.1 764.0h0M33.1 749.5h0M34.5 764.7h0M35.7 758.9h0M39.4 763.1h0M37.6 758.3h0M36.2 788.0h0M34.6 776.9h0M34.0 795.8h0M42.0 784.2h0M34.1 721.3h0M41.4 775.7h0M36.1 797.0h0M39.3 749.0h0M38.6 788.6h0M41.6 799.3h0M36.2 780.1h0M36.0 753.8h0M30.5 771.5h0M40.2 792.0h0M38.8 800.7h0M35.4 805.6h0M35.2 741.8h0M42.6 747.6h0M37.1 793.7h0M42.5 773.0h0M36.8 768.4h0M39.3 748.5h0M32.8 759.9h0M34.4 777.9h0M39.3 757.3h0M34.7 808.1h0M42.2 796.0h0M32.7 775.2h0M33.6 783.6h0M35.5 747.2h0M35.0 814.8h0M38.4 767.1h0M35.3 756.0h0M41.4 784.9h0M39.2 789.4h0M33.4 767.8h0M35.5 787.5h0M30.9 787.4h0M39.1 776.9h0M39.8 789.9h0M37.1 771.3h0M41.9 762.1h0M32.9 757.3h0M35.4 749.8h0M33.4 783.8h0M38.0 767.7h0M29.8 777.1h0M35.9 777.8h0M34.0 815.1h0M39.4 751.0h0M35.4 780.4h0M41.0 787.0h0M36.5 767.0h0M37.3 800.7h0M38.7 784.2h0M41.2 781.7h0M31.4 815.1h0M42.8 798.4h0M39.0 766.7h0M42.0 770.7h0M36.6 768.8h0M36.2 763.7h0M36.5 794.1h0M36.8 781.4h0M35.4 786.4h0M30.8 788.6h0M35.9 779.3h0M41.8 769.2h0M36.1 769.8h0M37.4 787.8h0M32.8 787.3h0M34.2 766.6h0M34.0 807.6h0M32.9 776.2h0M35.0 768.2h0M30.2 778.1h0M37.8 780.6h0M34.9 758.3h0M34.6 775.4h0M34.5 747.4h0M37.4 751.7h0M35.1 800.2h0M36.2 750.5h0M37.3 815.5h0M34.2 766.2h0M33.7 791.2h0M36.2 790.9h0M36.4 765.8h0M34.4 772.4h0M38.5 774.9h0M33.1 794.8h0M30.7 787.5h0M39.3 796.0h0M35.5 806.4h0M34.6 789.1h0M32.7 772.4h0M36.2 761.1h0M41.8 793.0h0M35.7 805.5h0M39.1 795.2h0M36.5 772.7h0M39.4 807.3h0M33.6 773.9h0M37.7 744.3h0M33.7 800.1h0M39.5 800.3h0M38.6 790.7h0M37.6 799.6h0M38.1 774.7h0M34.6 780.0h0M31.4 770.3h0M34.9 801.9h0M32.9 761.2h0M30.7 779.4h0M36.0 817.6h0M36.2 783.6h0M41.5 745.8h0M39.4 791.8h0M33.9 774.0h0M41.8 752.3h0M33.1 775.5h0M36.2 799.0h0M32.1 807.4h0M40.4 757.5h0M37.5 770.1h0M36.5 772.2h0M41.2 777.2h0M40.4 770.7h0M34.0 821.6h0M34.9 764.8h0M37.6 767.3h0M42.7 806.7h0M36.0 793.7h0M40.6 748.5h0M37.8 770.0h0M39.2 775.8h0M35.4 774.9h0M36.0 766.9h0M31.9 778.3h0M37.8 800.0h0M34.1 779.0h0M34.9 754.8h0M42.1 747.6h0M34.0 774.4h0M40.9 779.8h0M40.3 803.1h0M41.5 747.0h0M30.8 787.7h0M33.9 770.6h0M39.1 758.8h0M34.0 777.6h0M40.7 790.8h0M36.9 776.0h0M32.1 810.7h0M33.1 749.0h0M38.8 763.7h0M34.5 773.5h0M36.6 797.3h0M41.7 809.5h0M40.2 759.3h0M42.1 797.7h0M35.9 770.0h0M38.3 783.9h0M39.3 782.2h0M35.2 792.6h0M30.7 755.6h0M38.2 786.4h0M38.6 785.7h0M40.5 772.0h0M31.8 788.6h0M35.7 786.7h0M37.9 763.3h0M40.8 786.8h0M30.0 807.3h0M33.5 793.4h0M35.1 786.8h0M32.7 816.3h0M30.4 741.8h0M31.5 774.0h0M34.0 771.6h0M39.2 773.7h0M35.1 771.2h0M36.9 769.0h0M30.8 812.8h0M34.4 802.8h0M35.0 759.1h0M38.7 820.4h0M35.6 763.3h0M30.2 757.3h0M38.6 801.3h0M40.2 783.2h0M39.3 771.2h0M41.2 794.9h0M40.8 763.0h0M35.8 816.1h0M34.1 765.9h0M38.6 731.6h0M30.9 793.7h0M31.6 792.5h0M37.7 777.8h0M33.7 809.3h0M39.1 781.4h0M37.3 804.3h0M40.7 765.4h0M37.4 794.9h0M33.9 789.7h0M35.6 756.6h0M39.7 745.3h0M37.2 770.5h0M36.7 789.0h0M41.1 752.1h0M40.8 759.8h0M38.6 784.6h0M38.7 764.6h0M40.9 768.5h0M39.1 791.9h0M36.1 797.8h0M42.7 780.8h0M32.5 789.2h0M35.6 764.1h0M37.1 756.7h0M34.1 799.4h0M38.2 769.6h0M40.0 780.5h0M34.6 794.5h0M41.8 757.3h0M32.2 788.4h0M40.0 783.1h0M36.5 772.8h0M38.3 762.6h0M30.2 772.8h0M38.7 790.1h0M31.6 788.8h0M39.8 801.3h0M35.4 792.6h0M34.0 771.5h0M32.0 768.4h0" stroke="#F8766D" stroke-width="1" stroke-linecap="round" stroke-opacity="0.6"/>
<path d="M51.4 766.7h0M48.9 755.8h0M45.1 735.0h0M47.4 783.3h0M46.2 779.8h0M50.4 741.4h0M50.4 773.7h0M46.1 782.4h0M47.1 762.5h0M49.6 787.0h0M46.7 774.5h0M52.8 768.9h0M49.7 755.7h0M53.2 796.1h0M43.7 772.1h0M44.0 785.2h0M46.3 762.9h0M48.1 797.4h0M45.5 789.4h0M51.5 793.3h0M49.9 785.6h0M43.7 750.0h0M48.2 748.2h0M53.0 795.1h0M49.6 781.6h0M47.3 765.9h0M56.9 753.9h0M50.4 790.4h0M48.6 790.7h0M51.1 782.3h0M52.6 776.6h0M54.4 802.5h0M51.0 766.2h0M53.7 795.5h0M54.3 759.4h0M46.2 764.8h0M43.7 748.0h0M50.0 764.4h0M52.0 804.1h0M55.9 748.2h0M46.8 779.3h0M51.7 778.2h0M47.2 775.0h0M51.8 747.8h0M48.5 769.2h0M50.2 771.5h0M49.2 760.3h0M48.1 769.4h0M49.0 779.5h0M52.7 783.3h0M47.3 739.5h0M48.6 787.1h0M51.8 767.5h0M50.2 783.3h0M50.6 767.9h0M49.5 779.5h0M48.5 763.4h0M49.8 754.4h0M45.1 748.9h0M45.8 767.6h0M44.0 790.9h0M55.4 769.5h0M53.0 775.2h0M54.6 800.8h0M50.3 757.9h0M51.4 756.5h0M53.4 755.6h0M51.3 783.7h0M47.1 788.6h0M54.5 779.7h0M52.6 737.2h0M44.7 753.3h0M49.3 760.5h0M44.4 775.6h0M52.7 754.1h0M51.5 779.4h0M47.3 749.4h0M50.2 770.0h0M45.5 749.9h0M53.8 758.1h0M50.5 737.1h0M55.7 793.9h0M47.2 760.4h0M48.8 770.0h0M53.3 769.0h0M52.4 759.4h0M52.3 761.2h0M49.0 793.7h0M50.1 746.3h0M50.1 788.2h0M53.3 757.3h0M48.2 738.2h0M51.8 774.1h0M48.6 769.2h0M46.7 782.3h0M49.8 775.2h0M55.9 739.3h0M48.2 750.1h0M55.5 781.9h0M47.9 761.5h0M50.0 764.2h0M48.1 775.4h0M46.6 760.5h0M46.4 786.4h0M43.8 774.6h0M48.4 770.8h0M52.2 750.3h0M53.4 776.1h0M48.7 773.9h0M45.7 739.3h0M44.8 779.5h0M52.6 796.2h0M45.7 753.6h0M43.9 788.2h0M50.9 785.6h0M54.8 771.6h0M48.9 758.2h0M54.9 741.6h0M46.6 752.7h0M51.4 782.1h0M47.7 782.0h0M55.4 755.5h0M48.4 793.9h0M48.0 773.1h0M51.2 766.7h0M46.8 759.0h0M48.2 748.2h0M51.1 773.1h0M53.9 729.2h0M45.3 778.8h0M56.1 743.4h0M46.1 786.7h0M55.3 745.7h0M48.4 753.8h0M49.6 775.4h0M51.2 766.6h0M44.4 781.1h0M46.7 763.3h0M47.1 749.8h0M46.3 752.0h0M46.4 761.7h0M50.8 766.9h0M47.1 771.4h0M49.8 768.4h0M46.4 753.7h0M50.1 778.7h0M49.5 762.9h0M50.2 768.3h0M51.8 737.8h0M45.9 759.1h0M46.5 757.6h0M51.7 775.3h0M53.9 768.9h0M48.8 779.5h0M45.3 760.6h0M54.7 772.7h0M52.4 800.4h0M48.2 755.5h0M49.9 762.3h0M53.2 752.2h0M49.1 757.0h0M52.9 770.7h0M50.0 793.7h0M47.3 790.6h0M48.3 779.6h0M48.8 758.4h0M51.3 768.8h0M52.1 781.4h0M50.3 774.1h0M47.9 783.6h0M49.1 754.4h0M52.0 749.0h0M49.9 781.0h0M50.7 771.6h0M43.5 773.8h0M49.8 788.6h0M43.7 741.6h0M53.2 764.5h0M44.5 753.5h0M49.3 758.7h0M44.1 745.5h0M49.4 751.7h0M55.7 776.5h0M54.1 766.4h0M51.4 762.8h0M49.2 763.5h0M51.4 751.5h0M54.0 767.3h0M53.7 743.6h0M47.6 765.4h0M45.6 800.0h0M48.2 781.0h0M49.3 784.5h0M48.5 778.6h0M50.4 776.7h0M53.5 786.6h0M49.6 761.4h0M55.4 795.7h0M44.9 783.5h0M54.3 782.0h0M45.1 780.3h0M51.0 768.2h0M47.6 769.8h0M47.6 762.4h0M48.2 768.2h0M48.3 771.0h0M51.2 751.2h0M55.3 788.6h0M47.3 729.2h0M46.2 770.1h0M51.4 759.0h0M54.4 760.2h0M55.5 762.1h0M54.6 777.4h0M56.1 750.7h0M46.2 767.6h0M48.6 772.2h0M51.7 786.7h0M46.1 769.2h0M51.2 770.3h0M45.9 763.5h0M49.9 767.9h0M45.7 768.3h0M44.8 758.6h0M48.1 752.2h0M43.7 771.3h0M55.9 767.3h0M51.9 759.8h0M51.3 778.3h0M46.0 772.0h0M47.5 767.9h0M55.9 753.0h0M50.6 764.7h0M53.8 750.6h0M54.4 768.3h0M45.7 767.1h0M53.1 778.0h0M52.1 763.6h0M48.8 776.4h0M45.8 768.8h0M51.5 782.4h0M51.0 769.0h0M48.9 808.7h0M49.5 761.8h0M52.4 766.4h0M55.1 752.4h0M53.9 768.2h0M45.0 766.9h0M46.3 741.2h0M49.9 787.9h0M55.7 776.4h0M48.8 806.1h0M48.2 786.3h0M45.9 771.0h0M47.7 751.1h0M48.7 794.9h0M51.1 768.8h0M53.9 747.7h0M49.8 758.2h0M52.0 739.5h0M44.8 763.6h0M53.8 776.5h0M50.5 797.3h0M45.7 786.8h0M54.5 753.0h0M48.3 772.9h0M46.1 753.6h0M45.4 760.2h0M48.2 781.9h0M43.9 773.9h0M56.1 755.7h0M47.4 785.2h0M46.2 794.9h0M52.2 772.4h0M51.6 785.0h0M55.8 775.8h0M55.8 768.6h0M50.4 762.8h0M49.5 750.4h0M44.4 738.6h0M50.4 747.2h0M45.6 757.1h0M53.5 765.5h0M44.8 768.6h0M47.8 770.3h0M46.1 776.6h0M51.4 790.1h0M51.2 784.7h0M51.1 768.0h0M54.5 787.2h0M44.0 767.2h0M51.1 738.0h0M45.9 768.3h0M44.7 747.8h0M49.1 753.6h0M50.8 789.1h0M50.0 772.1h0M48.3 759.6h0M48.4 771.6h0M56.0 775.4h0M43.7 768.3h0M47.3 789.3h0M51.4 769.1h0M51.3 743.5h0M51.1 784.5h0M55.9 773.5h0M46.1 791.5h0M50.4 783.6h0M51.7 785.4h0M52.4 787.0h0M45.1 774.1h0M48.4 760.6h0M52.5 773.0h0M47.9 773.1h0M46.1 751.3h0M43.5 783.2h0M49.1 779.3h0M48.0 778.8h0M53.5 770.5h0M48.4 739.5h0M49.4 762.6h0M43.7 761.0h0M49.9 763.7h0M48.7 746.9h0M48.5 745.7h0M47.5 742.2h0M53.5 752.2h0M48.9 778.3h0M51.1 787.3h0M47.8 767.5h0M50.7 782.7h0M45.9 772.4h0M54.9 756.8h0M54.8 765.0h0M45.6 751.2h0M48.2 742.7h0M54.1 755.5h0M52.4 762.7h0M54.9 784.0h0M52.0 773.3h0M49.3 756.9h0M49.0 781.4h0M46.2 746.0h0M51.9 757.5h0M54.3 751.2h0M54.3 772.8h0M53.5 752.9h0M48.6 767.9h0M48.5 768.7h0M50.0 785.6h0M48.0 743.4h0M44.3 770.5h0M55.0 771.1h0M45.1 753.3h0M44.8 744.6h0M47.4 742.0h0M52.2 789.8h0M50.5 768.2h0M48.4 756.5h0M46.5 785.8h0M56.3 756.7h0M52.8 767.0h0M44.4 760.9h0M45.9 785.1h0M46.7 770.4h0M51.7 774.7h0M46.7 771.6h0M53.5 756.8h0M47.8 772.1h0M47.6 792.6h0M43.5 763.3h0M51.5 776.7h0M50.3 736.0h0M50.2 776.4h0M53.9 766.9h0M54.4 763.9h0M55.8 774.4h0M49.6 759.8h0M46.4 771.5h0M52.1 746.7h0M55.0 761.5h0M51.5 788.7h0M46.2 750.9h0M46.3 770.1h0M44.6 760.3h0M48.0 774.7h0M45.0 758.6h0M54.9 743.0h0M51.4 738.1h0M54.0 741.7h0M45.5 789.2h0M56.1 754.4h0M51.9 772.5h0M52.5 763.9h0M47.8 779.3h0M53.0 766.8h0M53.5 775.6h0M52.1 749.9h0M49.6 758.6h0M45.3 760.3h0M51.2 789.4h0M49.9 729.5h0M45.5 756.8h0M54.7 787.7h0M55.4 755.1h0M48.3 799.5h0M49.0 777.9h0M50.0 789.5h0M51.5 798.6h0M47.4 758.6h0M48.4 754.5h0M49.1 774.8h0M51.0 765.8h0M49.7 794.8h0M42.3 778.0h0M55.3 776.2h0M48.1 767.1h0M51.5 802.6h0M49.6 740.2h0M50.9 784.8h0M47.7 768.3h0M52.2 773.4h0M49.3 734.8h0M53.3 785.6h0M52.4 765.1h0M47.8 777.5h0M53.3 770.5h0M45.1 760.9h0M51.9 736.5h0M50.4 764.1h0M49.0 754.8h0M47.2 750.1h0M44.2 761.1h0M55.7 772.1h0M49.8 788.0h0M44.8 768.6h0M49.8 766.4h0M52.7 763.3h0M45.9 786.7h0M51.4 779.2h0M51.3 785.8h0M47.4 752.6h0M49.5 773.4h0M48.6 750.9h0M48.6 767.9h0M47.7 777.0h0M52.3 771.5h0M51.8 750.4h0M54.5 781.5h0M48.1 770.7h0M55.7 775.5h0M50.2 764.1h0M44.5 761.1h0M44.8 740.0h0M53.5 766.4h0M51.6 787.2h0M49.0 792.2h0M51.5 779.0h0M55.5 769.1h0M45.1 761.5h0M49.4 792.0h0M53.3 768.1h0M53.9 747.4h0M49.0 772.6h0M50.5 781.2h0M51.4 776.4h0M52.4 742.7h0M49.5 754.3h0M45.8 778.0h0M46.9 766.7h0M49.9 788.9h0M54.0 769.4h0M51.5 785.5h0M47.4 744.9h0M48.0 769.7h0M45.8 774.0h0M44.4 783.7h0M53.6 789.5h0M51.7 788.5h0M49.7 802.1h0M56.2 762.4h0M46.2 765.5h0M48.6 781.9h0M51.6 793.9h0M49.8 767.0h0M53.8 749.2h0M50.7 762.0h0M52.9 786.2h0M44.1 768.9h0M48.7 733.8h0M50.3 757.6h0M54.8 767.6h0M47.7 790.8h0M50.1 751.0h0M47.8 741.9h0M45.2 753.8h0M54.8 774.9h0M55.0 743.6h0M51.4 765.4h0M50.1 783.4h0M52.1 781.8h0M54.0 771.8h0M47.9 765.1h0M50.2 772.9h0M50.9 753.3h0M49.8 769.0h0M51.4 775.5h0M44.4 773.2h0M48.2 767.7h0M52.0 763.7h0M45.2 767.5h0M52.8 759.8h0M47.8 801.2h0M48.1 793.6h0M49.8 772.5h0M52.2 762.2h0M46.0 756.3h0M51.8 782.5h0M44.0 764.8h0M46.6 805.6h0M51.0 745.2h0M47.8 773.4h0M50.1 777.1h0M54.4 766.5h0M50.9 774.5h0M49.0 789.3h0M49.7 765.3h0M48.0 753.8h0M46.2 763.7h0M55.2 764.7h0M55.9 780.2h0M47.0 772.6h0M53.7 781.3h0M51.7 745.7h0M53.0 729.6h0M51.7 784.5h0M53.5 781.2h0M47.1 786.6h0M53.3 778.9h0M44.3 759.9h0M43.6 763.8h0M44.9 780.8h0M45.0 767.0h0M49.7 782.3h0M56.0 761.3h0M49.5 794.4h0M46.6 780.2h0M44.7 753.9h0M49.0 778.4h0M47.2 757.9h0M52.4 760.4h0M49.1 777.0h0M49.9 750.8h0M52.2 752.4h0M49.9 749.0h0M54.0 763.4h0M48.7 742.2h0M50.3 757.8h0M50.1 771.2h0M51.7 759.0h0M51.0 764.7h0M55.5 757.1h0M53.3 762.5h0M49.2 781.8h0M49.2 781.5h0M50.6 758.9h0M49.2 763.5h0M55.2 768.3h0M43.8 766.2h0M52.1 748.6h0M46.0 768.7h0M55.3 760.4h0M55.4 779.8h0M47.7 795.7h0M56.3 745.5h0M47.5 765.8h0M48.3 748.2h0M44.5 790.7h0M48.2 770.8h0M51.7 790.9h0M54.4 771.6h0M49.0 755.6h0M54.2 792.4h0M44.6 762.4h0M52.6 789.8h0M49.9 772.0h0M54.5 780.2h0M45.8 764.8h0M49.0 782.7h0M46.0 782.2h0M45.7 737.6h0M54.8 739.5h0M50.1 785.7h0M48.4 782.5h0M49.8 763.0h0M44.0 744.5h0M53.6 783.6h0M50.2 793.7h0M52.3 776.5h0M50.1 794.3h0M47.4 777.2h0M47.6 770.5h0M49.2 762.8h0M50.5 783.3h0M50.7 770.3h0M54.6 750.2h0M44.6 760.4h0M55.3 758.3h0M50.2 774.9h0M47.3 778.7h0M48.7 787.8h0M54.2 781.8h0M50.9 763.8h0M46.9 770.6h0M45.3 780.6h0M44.7 764.3h0M48.0 788.8h0M50.3 749.0h0M52.6 752.5h0M48.5 797.7h0M52.7 771.5h0M52.7 762.0h0M50.0 774.5h0M52.0 758.2h0M52.0 765.4h0M49.2 799.0h0M46.9 757.2h0M46.0 765.3h0M55.7 780.0h0M49.6 758.3h0M49.3 763.6h0M56.1 768.9h0M56.0 752.0h0M48.1 780.9h0M47.0 766.5h0M48.7 779.6h0M53.9 785.4h0M47.7 752.7h0M52.1 747.1h0M46.9 771.5h0M53.9 771.7h0M48.7 768.4h0M53.5 762.3h0M45.9 775.1h0M53.5 740.1h0M46.0 797.4h0M55.8 787.6h0M51.9 765.6h0M45.1 778.6h0M52.8 789.1h0M54.1 759.5h0M55.2 779.5h0M47.2 733.4h0M52.0 762.8h0M51.3 773.2h0M49.6 767.8h0M45.0 741.2h0M54.4 758.1h0M50.9 763.7h0M50.5 785.1h0M47.2 785.4h0M49.0 744.5h0M53.9 749.3h0M53.4 775.3h0M53.6 777.0h0M45.4 784.1h0M48.2 773.1h0M49.6 784.9h0M55.3 770.7h0M51.1 776.6h0M50.0 768.6h0M56.0 755.4h0M47.7 765.1h0M44.6 746.8h0" stroke="#E58700" stroke-width="1" stroke-linecap="round" stroke-opacity="0.6"/>
<path d="M65.7 765.9h0M64.2 777.9h0M65.5 782.3h0M68.5 772.9h0M62.1 748.4h0M59.6 791.3h0M60.7 744.9h0M66.4 775.9h0M62.3 771.1h0M59.2 782.4h0M63.0 760.6h0M64.6 760.4h0M64.9 761.8h0M58.4 764.4h0M67.6 781.6h0M66.5 749.0h0M63.7 777.8h0M66.7 764.5h0M68.5 766.7h0M62.5 770.6h0M64.4 777.0h0M60.8 787.5h0M67.4 763.0h0M65.1 761.1h0M61.9 757.2h0M64.7 751.3h0M67.3 783.9h0M67.1 771.7h0M68.1 777.6h0M64.6 768.5h0M60.4 772.5h0M62.0 769.5h0M64.8 749.7h0M58.4 778.5h0M63.9 751.6h0M67.3 734.7h0M57.8 776.1h0M60.8 786.0h0M63.9 798.5h0M66.9 773.1h0M67.3 751.3h0M60.6 792.2h0M64.5 787.3h0M57.5 775.1h0M62.5 763.8h0M62.3 790.1h0M63.8 766.9h0M63.5 752.2h0M61.7 781.6h0M69.3 739.2h0M64.0 800.4h0M63.2 777.1h0M57.1 774.3h0M57.6 793.7h0M65.0 763.0h0M58.0 770.7h0M62.0 780.3h0M60.0 756.4h0M66.2 782.6h0M65.3 779.1h0M61.6 768.6h0M66.4 758.7h0M63.2 772.0h0M67.8 808.2h0M66.8 758.9h0M60.3 760.5h0M59.5 783.1h0M68.2 754.0h0M65.6 763.1h0M58.3 777.0h0M58.3 759.5h0M63.9 785.5h0M57.4 754.8h0M66.0 770.1h0M62.1 778.0h0M64.8 751.3h0M62.2 802.4h0M58.2 762.7h0M62.9 772.8h0M63.4 769.6h0M67.8 763.4h0M63.7 801.6h0M58.3 783.1h0M63.9 802.8h0M57.3 790.8h0M63.2 778.3h0M59.7 773.1h0M64.1 766.1h0M67.0 767.2h0M61.8 795.9h0M60.6 780.0h0M63.1 770.1h0M60.2 790.6h0M65.5 774.5h0M60.6 748.8h0M60.6 763.0h0M61.6 771.6h0M62.1 770.0h0M61.6 741.9h0M64.2 791.5h0M60.4 756.7h0M64.8 755.0h0M67.1 767.6h0M61.3 755.9h0M62.4 750.1h0M64.2 771.1h0M62.8 767.9h0M60.6 769.5h0M63.5 738.5h0M61.6 768.2h0M65.4 772.7h0M59.7 754.4h0M62.4 770.2h0M66.2 793.9h0M64.4 787.2h0M63.3 793.2h0M60.8 768.2h0M61.4 764.2h0M62.3 777.5h0M63.5 773.7h0M66.8 763.0h0M64.0 760.2h0M69.3 763.7h0M64.1 747.6h0M62.9 781.5h0M66.2 763.9h0M67.3 798.6h0M62.6 742.5h0M57.7 767.7h0M65.7 779.3h0M64.8 805.6h0M69.7 777.6h0M65.1 787.8h0M62.1 769.6h0M63.5 793.5h0M66.9 752.4h0M69.2 779.3h0M58.0 778.3h0M63.9 787.5h0M65.8 762.0h0M64.5 749.4h0M63.6 799.9h0M57.4 749.6h0M57.2 784.6h0M67.6 760.6h0M59.3 766.1h0M65.5 786.8h0M64.9 764.6h0M67.7 757.5h0M60.2 786.9h0M57.3 767.2h0M67.3 772.8h0M64.5 760.4h0M68.0 773.2h0M68.6 778.4h0M58.7 798.6h0M66.5 754.1h0M58.3 775.5h0M64.5 773.9h0M63.0 744.8h0M60.8 780.3h0M66.9 773.8h0M62.0 775.2h0M57.4 750.0h0M68.4 787.1h0M56.9 761.6h0M63.7 789.1h0M68.7 779.8h0M66.0 796.3h0M61.0 768.5h0M59.0 783.9h0M64.1 785.5h0M69.7 797.4h0M61.9 782.5h0M63.6 765.8h0M65.1 775.4h0M62.8 773.8h0M63.9 780.5h0M61.9 760.2h0M57.1 758.8h0M61.3 758.5h0M62.4 748.9h0M60.2 777.1h0M65.6 761.6h0M67.6 762.7h0M62.0 753.5h0M67.0 753.0h0M65.7 747.8h0M67.7 783.8h0M68.5 786.3h0M61.3 766.1h0M63.2 762.9h0M65.1 788.9h0M59.3 780.5h0M61.0 754.5h0M65.3 784.1h0M57.5 768.1h0M61.1 765.4h0M63.6 788.3h0M67.4 788.6h0M68.2 745.1h0M66.4 793.0h0M62.1 797.8h0M62.9 779.9h0M65.0 778.6h0M67.9 775.1h0M68.5 750.5h0M64.7 788.4h0M67.5 767.6h0M61.0 781.9h0M68.5 797.8h0M62.6 769.7h0M67.5 789.6h0M60.0 773.9h0M66.6 783.1h0M68.8 771.1h0M66.5 755.5h0M61.5 779.6h0M64.8 764.3h0M64.6 774.1h0M62.7 773.7h0M67.4 764.3h0M66.8 773.0h0M65.7 773.9h0M62.4 765.3h0M67.3 752.0h0M68.0 770.7h0M63.7 759.0h0M64.0 768.1h0M63.3 783.4h0M66.1 775.5h0M65.8 754.1h0M58.3 760.2h0M60.6 778.9h0M61.6 784.5h0M59.7 776.1h0M61.7 783.5h0M66.7 790.2h0M60.7 770.9h0M63.8 757.0h0M58.8 774.2h0M67.1 756.2h0M62.6 780.6h0M61.8 743.7h0M64.2 760.9h0M62.4 768.4h0M65.8 749.6h0M63.3 750.0h0M66.6 777.1h0M62.3 764.5h0M61.4 777.9h0M64.7 783.2h0M62.9 775.3h0M61.5 793.7h0M62.5 791.2h0M63.2 771.9h0M68.3 794.0h0M58.4 793.2h0M61.9 767.4h0M62.3 769.8h0M67.8 742.8h0M64.5 758.2h0M68.9 762.2h0M62.8 747.1h0M67.4 771.4h0M64.1 780.6h0M65.9 759.3h0M63.9 771.4h0M64.5 787.2h0M60.4 772.3h0M63.2 782.3h0M59.0 804.4h0M60.5 770.7h0M65.9 755.8h0M69.3 788.3h0M62.9 747.4h0M60.2 778.3h0M60.4 754.6h0M59.1 786.9h0M60.1 781.8h0M64.4 777.4h0M59.1 759.6h0M63.5 761.5h0M65.4 739.8h0M59.0 749.7h0M62.8 777.9h0M59.0 759.2h0M69.1 776.1h0M66.9 766.1h0M61.1 781.3h0M60.0 767.4h0M64.6 791.7h0M62.8 765.6h0M68.1 748.8h0M62.7 787.2h0M67.5 762.4h0M57.9 734.3h0M68.2 768.0h0M64.1 762.1h0M68.2 787.9h0M63.9 746.0h0M60.7 787.4h0M66.2 783.2h0M63.6 755.1h0M57.4 779.7h0M62.2 774.1h0M65.1 763.7h0M68.3 781.0h0M68.7 765.4h0M68.5 770.4h0M57.9 779.3h0M68.8 738.1h0M65.2 779.3h0M64.8 782.0h0M69.2 790.4h0M62.1 775.3h0M65.2 761.2h0M61.8 761.5h0M66.6 803.3h0M63.4 765.9h0M64.3 761.8h0M64.8 748.5h0M57.1 775.0h0M63.9 769.4h0M61.8 803.6h0M67.9 755.9h0M64.8 762.5h0M57.8 776.8h0M60.4 798.7h0M65.0 802.2h0M68.2 776.6h0M62.8 790.5h0M57.3 753.2h0M58.9 767.7h0M66.8 740.0h0M57.7 757.9h0M62.2 789.3h0M58.6 749.4h0M64.6 778.8h0M57.4 795.3h0M61.4 791.7h0M62.2 807.9h0M60.9 769.5h0M66.0 761.1h0M69.6 775.8h0M65.7 754.6h0M62.6 761.7h0M63.7 757.4h0M65.3 754.2h0M62.8 776.2h0M62.8 764.8h0M65.1 763.7h0M67.6 779.4h0M60.6 772.9h0M69.7 748.5h0M64.8 792.5h0M57.5 781.5h0M66.3 781.7h0M64.6 751.2h0M67.4 782.8h0M59.5 768.8h0M61.9 797.4h0M63.9 770.2h0M60.4 753.7h0M65.0 795.7h0M69.0 784.4h0M61.7 777.5h0M67.9 783.2h0M67.1 803.5h0M67.5 780.5h0M63.4 744.0h0M61.2 794.0h0M62.5 766.7h0M68.4 782.4h0M68.1 767.5h0M64.4 752.4h0M62.0 760.2h0M57.7 783.4h0M57.0 786.2h0M66.1 768.9h0M68.7 791.9h0M62.5 795.5h0M62.9 769.0h0M58.9 774.7h0M66.1 782.3h0M57.7 763.6h0M61.5 784.8h0M65.7 784.6h0M67.9 767.3h0M60.0 777.6h0M64.3 776.5h0M57.7 770.7h0M68.0 747.8h0M69.3 745.8h0M68.3 798.0h0M64.1 746.6h0M63.3 751.6h0M63.5 763.2h0M64.9 747.1h0M57.2 780.8h0M64.4 768.7h0M64.2 779.8h0M61.9 785.5h0M65.2 779.4h0M66.7 738.1h0M66.7 751.5h0M62.5 774.1h0M68.9 788.1h0M59.2 795.8h0M60.4 773.9h0M63.3 768.1h0M66.2 760.2h0M60.7 770.2h0M65.7 804.4h0M62.7 727.9h0M67.3 789.2h0M65.5 793.4h0M66.3 778.8h0M61.4 751.8h0M59.3 751.1h0M68.3 780.4h0M67.8 766.4h0M68.5 775.8h0M57.4 785.1h0M60.6 766.7h0M57.6 780.2h0M64.5 790.7h0M66.5 749.5h0M66.5 756.7h0M64.3 790.6h0M59.5 768.7h0M68.4 771.1h0M64.0 776.4h0M63.5 777.1h0M64.4 794.6h0M58.2 766.5h0M64.7 779.1h0M64.1 771.7h0M64.8 745.0h0M65.4 763.7h0M57.9 741.4h0M69.8 776.5h0M65.0 773.4h0M62.2 794.6h0M65.8 784.1h0M67.5 743.5h0M65.3 774.3h0M64.7 762.1h0M68.5 756.1h0M62.5 783.7h0M62.6 762.1h0M65.5 781.2h0M67.9 772.4h0M65.1 798.4h0M63.9 782.4h0M69.7 751.5h0M62.4 768.1h0M64.2 782.1h0M65.1 758.8h0M64.8 796.1h0M59.5 742.5h0M61.7 789.6h0M68.5 769.1h0M66.6 753.2h0M57.5 772.9h0M65.5 786.3h0M63.1 770.7h0M57.8 776.9h0M65.2 750.6h0M65.3 768.6h0M65.4 772.7h0M62.5 749.7h0M64.3 798.1h0M63.1 788.4h0M66.5 769.3h0M60.3 783.8h0M69.7 761.4h0M66.1 791.9h0M61.4 763.1h0M58.3 792.0h0M64.9 807.3h0M65.3 790.6h0M61.6 765.8h0M63.7 749.8h0M60.4 773.8h0M63.0 786.4h0M64.4 787.9h0M66.8 799.9h0M59.7 768.7h0M66.3 767.1h0M60.4 764.4h0M59.7 801.5h0M64.9 777.6h0M61.0 773.8h0M68.7 775.3h0M66.6 796.0h0M63.2 766.5h0M62.3 754.2h0M58.7 751.0h0M67.5 764.4h0M62.8 791.2h0M60.8 786.9h0M63.4 787.6h0M63.1 794.9h0M68.2 778.4h0M59.2 772.7h0M65.5 778.3h0M69.9 766.3h0M59.1 791.9h0M61.3 756.6h0M59.2 738.2h0M65.8 759.8h0M63.3 766.8h0M58.7 768.2h0M62.3 777.1h0M63.1 744.5h0M64.0 762.3h0M57.9 762.4h0M64.6 792.3h0M61.9 808.9h0M67.0 777.0h0M60.1 776.4h0M57.5 750.9h0M67.8 780.1h0M59.5 740.5h0M58.1 760.0h0M67.6 754.2h0M67.7 770.6h0M62.5 767.5h0M67.0 770.0h0M60.6 749.1h0M67.2 784.1h0M61.9 769.1h0M65.1 789.5h0M61.1 752.5h0M61.8 776.6h0M65.4 770.8h0M69.7 780.7h0M69.9 775.4h0M61.0 770.2h0M57.1 762.5h0M61.7 754.5h0M57.5 762.2h0M62.0 772.3h0M62.6 786.9h0M64.6 784.5h0M69.5 756.9h0M62.2 760.2h0M64.0 788.6h0M62.3 773.5h0M61.2 766.7h0M67.7 786.3h0M63.5 792.3h0M64.9 761.3h0M64.6 771.0h0M63.1 790.4h0M60.6 771.2h0M67.5 797.5h0M58.8 790.2h0M61.6 759.7h0M62.3 768.5h0M60.8 766.7h0M68.8 782.1h0M57.6 792.4h0M57.1 756.6h0M63.9 791.2h0M60.2 740.0h0M67.5 765.6h0M62.4 780.4h0M61.3 758.3h0M64.0 783.4h0M62.9 762.4h0M62.2 765.9h0M69.0 770.2h0M58.1 774.5h0M65.0 756.5h0M67.2 770.0h0M60.8 739.2h0M57.0 770.3h0M59.4 748.0h0M62.2 774.6h0M67.1 778.5h0M67.3 770.2h0M69.7 779.9h0M57.9 779.0h0M68.4 795.9h0M59.9 772.5h0M57.5 785.4h0M63.7 777.8h0M60.6 763.5h0M65.9 774.0h0M57.2 790.4h0M65.3 785.6h0M68.5 761.5h0M66.5 795.3h0M59.2 773.2h0M60.6 778.0h0M61.5 734.1h0M57.0 763.8h0M65.8 776.7h0M65.8 784.1h0M58.5 746.6h0M59.6 748.7h0M63.7 775.0h0M57.5 786.2h0M59.3 780.7h0M61.9 772.8h0M68.2 777.5h0M68.0 736.9h0M65.6 781.6h0M67.0 750.8h0M69.8 783.8h0M64.5 746.5h0M58.9 755.5h0M68.0 755.4h0M63.0 792.6h0M62.5 774.7h0M61.7 764.5h0M60.7 805.7h0M58.4 755.9h0M59.7 782.7h0M66.4 751.8h0M62.5 756.6h0M59.8 797.3h0M58.2 756.7h0M62.3 774.7h0M56.9 748.5h0M65.0 761.5h0M68.2 783.3h0M66.7 777.2h0M65.0 778.9h0M67.2 784.6h0M57.7 755.4h0M60.7 750.2h0M63.5 797.9h0M60.0 766.6h0M60.6 799.5h0M57.0 764.6h0M64.5 764.0h0M63.8 766.0h0M62.0 793.4h0M65.4 781.1h0M63.9 748.4h0M62.2 763.0h0M57.7 789.8h0M63.0 789.2h0M57.7 772.4h0M69.5 735.7h0M57.2 771.6h0M63.4 801.8h0M64.6 769.8h0M63.7 778.3h0M66.2 778.9h0M64.4 761.1h0M58.3 791.2h0M58.3 764.2h0M58.8 781.4h0M67.5 770.7h0M65.0 798.1h0M63.8 777.8h0M66.9 774.2h0M65.5 773.0h0M59.7 760.3h0M68.8 764.4h0M64.2 756.4h0M58.9 775.8h0M64.9 776.6h0M61.6 771.9h0M57.9 769.8h0M62.2 794.4h0M60.8 778.8h0" stroke="#C99800" stroke-width="1" stroke-linecap="round" stroke-opacity="0.6"/>
<path d="M78.2 802.4h0M80.7 786.4h0M82.5 768.0h0M74.5 784.9h0M75.9 744.7h0M74.5 777.0h0M81.0 789.9h0M77.6 761.1h0M77.7 780.6h0M74.6 760.3h0M77.6 743.4h0M72.5 742.2h0M76.7 728.8h0M78.5 788.3h0M79.6 798.7h0M73.9 801.2h0M75.5 788.7h0M76.7 798.7h0M73.1 815.5h0M80.5 731.6h0M70.9 803.7h0M77.3 810.0h0M81.5 811.9h0M75.7 767.7h0M79.9 773.8h0M76.4 782.5h0M73.0 733.2h0M77.6 784.6h0M78.0 766.0h0M72.2 789.0h0M75.5 801.0h0M73.5 769.7h0M79.5 755.2h0M79.2 774.6h0M78.8 774.3h0M73.3 751.2h0M76.5 783.0h0M79.1 765.0h0M70.6 730.2h0M72.2 716.5h0M77.5 721.6h0M73.0 744.6h0M77.6 796.4h0M82.2 725.9h0M77.6 768.3h0M80.3 769.9h0M77.0 811.7h0M75.8 776.4h0M71.7 772.7h0M77.0 802.9h0M83.1 803.4h0M72.1 793.6h0M76.7 756.5h0M73.4 729.5h0M79.9 739.7h0M78.8 814.2h0M77.7 783.0h0M78.9 795.6h0M74.9 800.0h0M80.2 735.5h0M82.7 783.2h0M76.1 747.7h0M81.9 770.9h0M79.1 769.7h0M70.7 768.7h0M78.7 724.2h0M80.2 790.6h0M76.2 778.7h0M76.9 745.1h0M80.5 745.4h0M75.5 756.1h0M78.1 798.5h0M78.5 794.9h0M75.6 795.0h0M80.0 800.7h0M78.6 718.2h0M77.5 791.6h0M75.6 802.7h0M77.7 782.6h0M77.9 772.2h0M82.1 775.8h0M72.5 781.0h0M78.6 743.7h0M81.9 796.5h0M71.9 763.0h0M75.8 783.5h0M76.9 784.9h0M76.9 774.9h0M76.8 781.8h0M75.3 745.0h0M82.0 740.9h0M78.9 776.3h0M77.4 767.5h0M77.7 772.9h0M73.0 737.7h0M77.8 769.7h0M72.8 786.4h0M76.6 797.7h0M78.8 775.0h0M77.2 757.4h0M78.9 769.5h0M77.1 788.5h0M78.3 734.6h0M82.2 797.1h0M82.1 756.2h0M80.2 788.8h0M79.9 745.8h0M77.9 779.5h0M73.9 790.6h0M82.2 796.8h0M76.7 764.7h0M74.7 803.9h0M75.9 758.2h0M72.8 767.9h0M77.8 730.1h0M74.1 750.2h0M81.1 738.8h0M76.7 743.6h0M72.9 762.1h0M78.3 797.0h0M76.9 765.0h0M74.8 766.4h0M81.8 769.7h0M82.1 777.4h0M73.3 799.6h0M72.8 776.8h0M74.3 746.4h0M82.6 763.9h0M79.8 783.5h0M74.8 749.1h0M71.1 726.1h0M80.3 754.9h0M77.7 746.1h0M79.5 735.6h0M77.4 745.4h0M71.1 777.7h0M72.7 724.6h0M77.9 752.5h0M78.6 772.9h0M78.9 781.7h0M76.6 784.0h0M78.1 744.0h0M72.1 777.6h0M70.6 762.2h0M76.7 754.6h0M73.2 803.6h0M78.1 730.0h0M78.2 792.3h0M74.0 797.1h0M75.8 762.6h0M76.5 761.7h0M71.3 759.7h0M77.4 725.4h0M79.0 819.0h0M74.0 788.2h0M75.5 791.5h0M77.9 760.6h0M74.9 786.9h0M81.1 807.3h0M70.4 744.5h0M75.5 749.3h0M76.4 784.1h0M77.9 777.4h0M80.8 772.1h0M81.4 776.1h0M74.0 741.9h0M82.4 766.3h0M71.8 730.6h0M71.1 811.9h0M79.2 796.7h0M81.7 788.7h0M77.7 772.8h0M75.2 755.5h0M76.8 749.4h0M76.6 753.8h0M71.1 769.0h0M83.4 799.8h0M71.0 816.9h0M82.0 788.7h0M71.5 764.0h0M77.0 792.8h0M72.9 804.9h0M80.4 724.9h0M77.7 788.2h0M79.1 759.4h0M79.3 735.1h0M74.9 765.8h0M76.9 781.1h0M72.7 762.0h0M73.2 766.5h0M81.2 794.0h0M75.0 787.8h0M72.1 780.9h0M76.6 743.2h0M72.7 777.3h0M81.1 771.3h0M81.4 778.1h0M82.4 749.2h0M70.9 751.4h0M78.8 769.0h0M77.3 756.1h0M79.4 776.8h0M82.1 754.7h0M76.8 790.8h0M76.6 783.0h0M82.6 767.6h0M75.9 776.5h0M77.7 788.7h0M71.3 783.2h0M78.7 792.4h0M76.7 798.5h0M80.5 779.5h0M77.1 735.6h0M70.6 745.5h0M75.7 768.2h0M75.0 760.6h0M79.7 769.1h0M81.8 807.3h0M75.9 769.3h0M80.8 763.4h0M80.0 738.2h0M81.9 766.4h0M79.0 760.8h0M78.0 774.4h0M75.2 773.1h0M70.9 762.7h0M79.3 771.8h0M77.9 741.1h0M83.0 757.1h0M77.2 756.4h0M70.5 799.3h0M77.6 753.5h0M72.5 777.4h0M76.4 748.3h0M72.5 758.5h0M76.4 731.3h0M80.6 783.0h0M74.9 792.3h0M72.0 785.2h0M77.2 783.5h0M80.2 751.3h0M76.1 738.9h0M73.2 723.3h0M72.4 749.7h0M74.3 788.0h0M71.5 798.3h0M81.4 780.5h0M82.7 771.4h0M73.5 758.1h0M75.8 777.1h0M74.2 749.1h0M73.8 804.8h0M80.4 782.0h0M76.6 784.7h0M80.8 791.9h0M72.7 749.3h0M72.9 763.8h0M77.1 768.4h0M74.9 762.6h0M75.7 770.7h0M80.2 774.5h0M71.5 788.2h0M80.6 750.5h0M78.8 768.4h0M72.4 755.6h0M74.8 810.8h0M70.9 737.1h0M76.7 769.2h0M73.4 780.1h0M78.8 782.7h0M79.4 744.7h0M81.5 744.4h0M82.1 813.6h0M74.4 751.8h0M75.7 805.8h0M75.6 790.3h0M74.0 778.9h0M81.0 801.7h0M74.0 742.8h0M76.0 762.3h0M81.8 806.9h0M82.0 784.0h0M83.0 771.2h0M78.0 791.4h0M73.9 751.7h0M81.2 773.2h0M75.4 810.8h0M78.3 735.9h0M74.2 771.0h0M74.2 791.7h0M79.7 785.2h0M72.1 809.0h0M79.3 768.7h0M80.3 748.5h0M73.9 800.2h0M76.7 738.1h0M75.7 739.2h0M74.4 778.7h0M74.9 744.8h0M81.3 763.6h0M78.5 777.4h0M72.7 765.1h0M74.4 770.0h0M71.7 784.4h0M77.8 787.1h0M73.7 759.5h0M75.1 751.0h0M73.5 765.3h0M79.0 753.8h0M76.1 770.0h0M72.7 766.6h0M74.8 761.9h0M71.0 792.4h0M76.6 737.2h0M77.7 771.6h0M77.0 809.3h0M76.0 759.4h0M78.0 784.7h0M75.1 763.8h0M78.5 780.9h0M81.9 767.9h0M72.0 748.1h0M78.5 773.6h0M82.6 791.2h0M77.9 782.7h0M79.8 781.6h0M80.6 793.1h0M72.4 797.8h0M75.9 770.2h0M71.1 769.4h0M83.2 774.7h0M71.5 800.8h0M74.6 751.0h0M79.5 782.7h0M77.9 802.9h0M74.5 778.8h0M72.9 819.8h0M75.9 766.6h0M74.7 740.8h0M80.2 772.9h0M83.0 777.6h0M79.5 717.8h0M81.1 795.5h0M74.2 798.0h0M80.4 790.9h0M72.4 771.8h0M72.4 780.1h0M80.5 763.0h0M72.3 752.6h0M75.3 762.4h0M80.7 715.7h0M76.8 799.7h0M78.6 742.3h0M74.2 794.5h0M78.3 780.4h0M75.8 793.0h0M78.8 774.0h0M80.9 744.9h0M73.2 803.0h0M75.3 797.0h0M77.2 761.5h0M79.2 738.8h0M83.4 763.7h0M78.2 788.2h0M76.4 810.7h0M78.1 779.1h0M74.2 788.7h0M76.3 800.4h0M78.5 785.1h0M81.2 818.7h0M75.8 763.6h0M72.6 746.7h0M76.2 794.2h0M73.1 796.9h0M75.5 776.7h0M71.4 786.8h0M79.0 786.2h0M72.5 790.7h0M81.9 791.5h0M76.0 752.7h0M78.9 764.9h0M80.0 752.2h0M75.1 781.0h0M77.9 805.9h0M72.1 762.5h0M70.5 792.0h0M77.3 748.9h0M76.4 787.6h0M71.4 766.7h0M78.0 783.3h0M74.0 779.8h0M83.2 776.0h0M75.6 771.1h0M81.4 761.6h0M76.4 769.9h0M82.7 783.9h0M77.7 783.6h0M77.0 743.6h0M77.5 760.4h0M78.3 781.0h0M73.5 779.1h0M80.2 789.0h0M74.7 756.3h0M77.5 773.1h0M73.4 815.1h0M72.7 786.4h0M72.8 793.1h0M79.7 736.1h0M73.6 748.4h0M72.7 754.3h0M76.9 792.3h0M79.4 765.4h0M76.4 760.0h0M77.1 762.8h0M74.7 804.0h0M77.6 801.1h0M77.4 761.9h0M79.6 759.1h0M81.8 756.1h0M78.6 769.6h0M77.9 765.5h0M75.3 797.7h0" stroke="#A3A500" stroke-width="1" stroke-linecap="round" stroke-opacity="0.6"/>
<path d="M93.8 788.9h0M92.6 785.1h0M87.2 786.1h0M91.3 771.7h0M90.8 779.1h0M87.9 783.3h0M89.5 766.1h0M93.2 802.4h0M94.3 748.6h0M87.4 760.0h0M85.2 788.4h0M89.6 801.8h0M91.5 794.3h0M89.2 791.4h0M91.6 793.8h0M90.8 757.7h0M95.1 796.7h0M89.7 784.9h0M84.5 790.0h0M90.3 786.5h0M84.3 793.9h0M92.6 788.0h0M88.7 779.1h0M90.6 781.7h0M88.9 775.9h0M95.1 776.8h0M92.4 772.5h0M91.6 767.3h0M90.6 776.8h0M91.8 789.5h0M86.3 798.8h0M86.3 777.4h0M92.0 766.0h0M92.9 763.8h0M85.8 796.5h0M92.6 789.8h0M96.6 767.0h0M90.4 775.0h0M88.8 780.4h0M90.8 783.2h0M87.9 804.7h0M87.5 761.5h0M92.0 784.5h0M90.4 774.0h0M89.5 773.5h0M88.5 782.2h0M88.6 780.2h0M86.8 781.3h0M86.0 780.6h0M94.4 793.8h0M93.1 791.1h0M90.2 796.9h0M90.9 795.7h0M88.9 758.6h0M87.2 776.0h0M89.8 771.0h0M85.4 766.0h0M92.7 769.6h0M90.6 792.5h0M89.0 774.1h0M95.4 754.0h0M88.6 767.7h0M91.2 753.7h0M88.0 759.8h0M88.6 778.6h0M87.7 773.0h0M91.1 775.4h0M94.8 796.9h0M89.9 781.9h0M96.2 803.8h0M88.5 749.9h0M96.3 802.8h0M96.7 756.0h0M90.8 788.4h0M88.5 787.7h0M90.1 763.3h0M94.5 785.1h0M94.0 774.3h0M89.5 781.7h0M89.9 781.1h0M90.6 787.3h0M92.0 810.5h0M95.4 768.7h0M86.0 775.8h0M89.4 786.2h0M96.8 793.0h0M93.6 812.9h0M90.4 770.3h0M89.6 771.2h0M94.8 758.1h0M89.6 753.4h0M93.7 770.0h0M85.1 784.8h0M96.2 797.9h0M93.2 809.1h0M93.2 766.5h0M91.2 791.8h0M84.2 778.6h0M93.9 784.5h0M91.7 810.3h0M92.6 798.3h0M95.9 781.8h0M92.4 791.2h0M93.9 768.8h0M91.7 784.7h0M85.4 768.6h0M90.2 778.5h0M87.6 806.3h0M87.1 780.3h0M95.8 769.4h0M88.2 771.9h0M91.3 771.7h0M85.4 777.4h0M94.5 791.4h0M96.1 766.4h0M94.3 779.1h0M91.8 793.9h0M96.1 781.7h0M93.5 770.7h0M90.4 793.8h0M91.8 766.5h0M91.5 769.0h0M96.0 785.9h0M92.6 773.8h0M89.7 768.7h0M91.8 744.6h0M96.9 785.8h0M96.1 778.7h0M93.9 778.2h0M93.0 776.0h0M91.2 786.7h0M95.1 783.2h0M86.7 800.6h0M89.8 787.5h0M90.4 772.8h0M93.9 785.1h0M91.1 779.6h0M95.3 788.7h0M94.3 772.7h0M84.3 778.8h0M84.4 788.0h0M91.1 799.1h0M88.2 778.1h0M85.0 802.0h0M87.8 779.0h0M89.8 773.3h0M85.9 767.0h0M93.7 786.6h0M92.3 779.5h0M86.9 798.6h0M96.4 785.5h0M94.0 792.9h0M87.6 786.8h0M91.3 794.1h0M87.2 796.3h0M90.8 776.6h0M91.3 778.6h0M96.9 744.3h0M93.0 798.2h0M89.5 791.9h0M84.7 809.2h0M89.8 787.1h0M87.3 786.8h0M91.3 791.6h0M91.8 785.7h0M90.4 759.0h0M87.2 771.1h0M86.9 765.5h0M88.2 774.5h0M90.9 782.7h0M90.5 787.8h0M94.7 758.4h0M87.2 781.7h0M93.9 795.0h0M95.8 767.5h0M95.7 788.3h0M93.0 785.3h0M90.1 774.8h0M93.2 778.3h0M85.1 794.6h0M90.8 774.3h0M87.7 787.1h0M96.8 770.5h0M93.8 777.5h0M88.9 799.9h0M84.2 784.8h0M93.7 757.5h0M92.0 781.1h0M86.3 780.5h0M91.5 774.5h0M85.9 782.1h0M92.0 787.9h0M96.4 785.8h0M87.7 762.8h0M92.0 785.1h0M90.6 780.8h0M92.6 784.0h0M87.2 762.7h0M87.3 784.6h0M96.3 796.6h0M87.5 781.1h0M90.3 763.8h0M89.7 781.7h0M91.0 798.3h0M95.3 797.5h0M89.3 797.5h0M87.9 780.0h0M88.0 808.5h0M90.6 793.3h0M91.8 766.3h0M91.7 781.0h0M86.4 773.3h0M84.2 796.7h0M88.9 809.7h0M92.2 773.0h0M93.6 790.2h0M87.8 776.6h0M89.2 786.4h0M92.3 795.4h0M94.1 759.3h0M89.7 787.8h0M95.6 784.2h0M85.5 778.7h0M94.8 761.1h0M91.7 778.5h0M91.9 791.9h0M92.2 773.8h0M93.5 779.4h0M90.6 768.4h0M92.6 792.2h0M95.7 762.9h0M95.2 768.0h0M90.3 802.4h0M88.3 793.1h0M87.2 792.5h0M96.0 792.6h0M91.2 784.8h0M93.8 801.6h0M95.6 794.2h0M86.9 783.5h0M90.0 790.7h0M88.8 786.6h0M95.1 812.0h0M93.8 768.1h0M91.7 774.4h0M92.7 782.3h0M88.5 786.1h0M89.2 774.8h0M88.7 793.5h0M84.4 783.6h0M86.6 774.8h0M87.7 781.9h0M91.5 774.4h0M86.3 789.0h0M96.1 792.2h0M84.7 759.9h0M90.6 799.2h0M89.3 785.8h0M86.9 769.9h0M90.8 775.4h0M91.5 781.7h0M92.6 790.9h0M91.4 768.2h0M90.6 760.8h0M95.0 763.2h0M85.8 775.6h0M89.6 806.3h0M95.9 770.1h0M87.9 802.1h0M94.9 790.2h0M90.5 753.7h0M90.6 786.8h0M93.0 804.6h0M84.7 774.6h0M88.5 789.4h0M93.6 779.6h0M89.7 797.3h0M94.4 774.3h0M91.3 779.8h0M91.9 771.4h0M86.6 765.2h0M92.8 779.6h0M89.0 780.5h0M90.5 781.7h0M86.9 766.9h0M88.1 786.2h0M94.3 789.6h0M95.5 759.3h0M92.6 784.3h0M87.0 772.5h0M92.8 782.6h0M84.5 765.7h0M91.3 782.4h0M96.4 784.2h0M92.1 790.1h0M88.1 776.4h0" stroke="#6BB100" stroke-width="1" stroke-linecap="round" stroke-opacity="0.6"/>
<path d="M107.9 737.0h0M110.3 757.1h0M99.3 742.5h0M102.9 754.5h0M105.4 761.1h0M106.5 751.1h0M103.0 743.4h0M109.6 760.8h0M99.2 772.0h0M105.8 736.5h0M103.5 756.8h0M102.3 770.8h0M102.9 765.7h0M110.0 770.2h0M105.3 751.0h0M105.5 745.0h0M105.1 737.3h0M102.2 720.5h0M98.7 736.3h0M98.6 756.5h0M110.2 740.8h0M105.8 773.8h0M102.6 752.3h0M108.3 751.0h0M110.2 782.7h0M102.4 767.5h0M106.9 737.3h0M102.2 772.3h0M109.0 785.0h0M108.5 731.2h0M100.3 799.5h0M99.4 740.8h0M103.3 762.1h0M104.5 765.8h0M109.3 755.5h0M100.2 762.7h0M100.2 762.3h0M106.7 744.7h0M106.4 758.2h0M102.7 753.0h0M103.1 763.8h0M102.5 751.0h0M102.5 737.8h0M110.1 740.5h0M104.8 767.8h0M110.0 759.8h0M104.1 744.4h0M105.4 761.5h0M101.3 758.0h0M101.4 751.6h0M102.5 796.4h0M103.1 765.8h0M104.1 751.5h0M110.1 736.9h0M109.0 769.2h0M106.4 740.2h0M104.3 739.0h0M109.9 733.9h0M104.4 762.8h0M100.8 727.0h0M104.1 770.4h0M106.9 774.8h0M104.4 760.9h0M108.1 758.0h0M107.5 755.2h0M98.5 750.2h0M103.7 756.4h0M99.7 744.6h0M98.1 741.0h0M101.9 748.7h0M99.7 769.6h0M102.7 764.6h0M99.4 729.4h0M105.1 759.8h0M106.2 759.5h0M106.7 742.5h0M109.1 745.6h0M104.2 758.2h0M101.5 740.4h0M99.5 755.1h0M105.9 754.7h0M100.0 767.9h0M107.8 751.8h0M99.9 752.7h0M98.9 763.0h0M109.5 758.7h0M108.9 772.4h0M106.8 762.7h0M102.9 777.8h0M104.0 759.5h0M98.3 771.7h0M99.0 754.2h0M100.2 769.7h0M104.4 768.0h0M103.8 766.8h0M105.5 757.5h0M109.4 737.0h0M108.9 760.0h0M97.7 780.0h0M99.4 741.1h0M98.1 763.3h0M104.4 788.2h0M103.5 765.8h0M104.4 754.7h0M106.3 740.8h0M109.1 777.5h0M107.3 750.2h0M99.2 768.9h0M102.9 747.9h0M104.4 759.7h0M104.9 748.5h0M101.2 773.1h0M99.1 715.1h0M101.8 753.0h0M101.8 761.7h0M106.2 782.8h0M101.3 741.6h0M101.6 768.6h0M109.3 761.1h0M100.6 763.3h0M100.5 775.5h0M110.0 768.7h0M108.2 734.2h0M109.0 754.1h0M107.5 773.7h0M107.9 732.3h0M97.8 769.4h0M100.6 763.4h0M104.4 765.9h0M107.5 748.0h0M107.1 734.6h0M107.7 761.6h0M105.2 757.5h0M99.0 757.9h0M101.2 746.3h0M101.5 752.4h0M102.8 757.1h0M107.6 750.4h0M104.7 766.7h0M99.4 738.1h0M104.1 785.7h0M107.4 733.4h0" stroke="#00BA38" stroke-width="1" stroke-linecap="round" stroke-opacity="0.6"/>
<path d="M119.4 773.2h0M123.8 789.5h0M116.3 755.7h0M114.0 794.0h0M120.7 789.0h0M122.2 750.3h0M118.9 769.9h0M121.5 793.0h0M118.2 773.2h0M118.9 806.2h0M118.6 782.0h0M119.6 803.8h0M116.5 800.3h0M110.7 802.2h0M112.5 777.9h0M122.7 792.3h0M117.3 790.3h0M121.3 792.1h0M112.7 779.1h0M115.2 795.9h0M117.0 777.8h0M119.0 798.2h0M119.5 789.9h0M120.2 784.9h0M120.5 754.1h0M119.6 784.6h0M115.8 781.7h0M121.0 801.4h0M122.3 769.2h0M117.3 772.8h0M115.4 801.8h0M122.2 766.8h0M121.9 786.0h0M118.4 765.5h0M113.6 769.7h0M115.2 809.2h0M121.7 762.2h0M114.7 800.9h0M118.1 806.2h0M124.1 797.4h0M113.3 764.4h0M117.4 789.0h0M116.1 781.9h0M114.3 760.7h0M119.8 785.7h0M115.5 778.0h0M122.4 785.6h0M112.3 775.1h0M120.6 796.0h0M117.8 806.8h0M117.9 748.2h0M116.4 801.0h0M119.7 795.4h0M117.4 791.1h0M123.7 764.0h0M119.0 805.6h0M116.3 796.2h0M119.5 806.5h0M119.6 777.7h0M115.1 777.4h0M119.3 775.3h0M123.7 766.4h0M116.9 819.2h0M124.0 804.3h0M117.8 802.0h0M119.5 792.7h0M115.2 779.2h0M118.8 744.8h0M116.1 786.9h0M113.0 785.6h0M118.1 795.6h0M114.3 770.0h0M118.1 794.2h0M117.9 775.3h0M116.6 776.3h0M112.6 770.5h0M117.8 785.6h0M118.2 805.2h0M123.0 805.0h0M114.1 795.6h0M119.5 797.1h0M117.6 793.1h0M122.2 777.2h0M120.7 805.6h0M112.7 794.8h0M123.9 794.9h0M115.4 798.9h0M119.0 783.4h0M112.2 768.9h0M119.7 804.6h0M115.3 802.8h0M116.0 791.7h0M117.8 761.7h0M121.5 771.1h0M111.7 810.4h0M117.3 765.6h0M113.4 783.1h0M118.6 791.8h0M122.2 770.9h0M115.8 786.1h0M114.1 791.9h0M117.4 774.6h0M122.2 770.4h0M119.9 784.5h0M115.8 774.5h0M112.9 785.9h0M116.4 773.0h0M120.5 777.0h0M121.0 776.7h0M116.3 774.8h0M114.6 770.9h0M119.8 778.5h0M111.1 794.0h0M120.4 798.9h0M118.8 815.0h0M120.2 806.5h0M113.5 804.7h0M122.2 785.1h0M119.6 765.0h0M117.2 781.2h0M116.8 795.9h0M114.5 807.2h0M121.0 809.5h0M123.8 804.8h0M113.0 781.0h0M123.2 769.9h0M113.4 769.7h0M115.2 772.9h0M121.1 771.0h0M118.7 743.5h0M125.3 765.7h0M113.6 771.4h0M117.7 788.4h0M118.2 790.7h0M113.5 779.2h0M112.3 769.4h0M119.1 784.7h0M119.5 761.0h0M115.5 760.8h0M122.1 803.7h0M122.6 789.5h0M121.6 773.3h0M111.7 799.5h0M112.8 792.6h0M121.2 777.5h0M116.9 780.1h0M123.4 783.5h0M115.6 787.3h0M117.5 787.0h0M120.9 803.1h0M116.6 797.1h0M120.6 798.9h0M115.9 798.4h0M119.0 763.7h0M112.5 764.9h0M120.0 764.3h0M114.9 765.2h0M118.2 793.0h0M117.2 783.3h0M113.2 759.4h0M116.2 790.4h0M116.8 785.4h0M119.0 789.6h0M123.2 784.2h0M113.3 770.7h0M111.2 768.7h0M122.6 792.1h0M111.4 791.6h0M117.5 775.4h0M120.2 776.7h0M112.6 805.9h0M111.4 786.0h0M119.4 812.1h0M113.5 766.1h0M114.6 774.9h0M121.4 786.2h0M123.0 802.7h0M124.0 769.6h0M121.6 791.8h0M116.4 804.6h0M118.2 788.8h0M117.5 795.3h0M116.4 783.8h0M120.8 808.8h0M119.7 757.2h0M115.2 799.6h0M113.6 769.0h0M116.9 789.1h0M119.6 790.0h0M115.6 782.4h0M117.5 794.0h0M113.8 812.0h0M116.2 781.9h0M117.2 796.4h0M113.7 757.7h0M117.0 807.1h0M118.2 765.7h0M120.5 798.2h0M121.8 750.6h0M121.4 811.6h0M117.5 759.4h0M117.8 781.1h0M118.3 772.2h0M117.8 781.0h0" stroke="#00BF7D" stroke-width="1" stroke-linecap="round" stroke-opacity="0.6"/>
<path d="M128.3 789.1h0M131.1 776.0h0M136.8 758.9h0M132.3 772.4h0M136.3 782.3h0M133.4 766.1h0M127.8 771.3h0M132.8 771.5h0M134.8 770.9h0M136.8 756.6h0M129.5 778.8h0M131.2 771.2h0M132.7 778.2h0M129.8 777.7h0M130.9 772.7h0M126.2 775.1h0M126.2 752.5h0M132.4 764.5h0M128.1 755.6h0M130.0 770.6h0M130.2 779.6h0M130.2 756.6h0M128.6 781.5h0M132.7 765.5h0M125.3 782.2h0M124.7 779.8h0M130.9 783.8h0M129.0 783.2h0M135.8 746.0h0M131.4 767.0h0M128.9 769.0h0M129.9 776.0h0M137.3 770.0h0M132.8 775.3h0M134.6 777.4h0M132.7 765.6h0M125.3 777.2h0M133.3 788.6h0M131.3 771.8h0M133.4 772.9h0M131.7 754.7h0M129.8 751.1h0M129.9 780.4h0M129.1 777.0h0M127.6 775.0h0M131.9 775.5h0M127.2 770.9h0M132.3 781.8h0M136.5 784.6h0M129.8 763.4h0M126.4 770.0h0M130.7 762.5h0M128.9 757.1h0M125.6 783.1h0M132.1 762.9h0M125.1 754.3h0M136.7 772.2h0M129.6 773.7h0M132.0 796.0h0M136.2 785.7h0M136.0 808.9h0M132.3 763.4h0M130.6 777.0h0M133.0 760.1h0M126.9 777.3h0M127.7 786.0h0M129.5 771.0h0M133.2 785.3h0M129.2 767.3h0M131.7 746.0h0M130.8 769.7h0M133.8 772.5h0M131.9 778.3h0M129.3 759.0h0M132.6 747.8h0M128.3 762.9h0M132.2 784.5h0M129.0 780.3h0M130.1 775.2h0M135.9 733.5h0M131.3 775.2h0M129.9 751.4h0M130.1 785.8h0M132.2 761.2h0M129.7 787.5h0M127.1 775.4h0M129.9 765.4h0M130.9 771.6h0M132.8 763.9h0M131.7 793.4h0M126.9 765.8h0M132.6 786.2h0M134.5 790.6h0M126.4 755.3h0M126.7 759.7h0M136.2 765.5h0M128.9 773.5h0M128.0 784.4h0M127.9 774.3h0M134.2 767.7h0M128.7 788.1h0M133.7 770.5h0M127.0 769.4h0M124.7 753.1h0M129.9 782.9h0M129.4 775.3h0M124.9 780.7h0M127.5 774.8h0M137.1 745.8h0M128.6 793.0h0M128.2 756.3h0M128.7 761.7h0M126.7 778.3h0M130.5 772.8h0M127.5 749.0h0M128.8 776.4h0M131.1 798.0h0M131.0 758.5h0M133.7 766.3h0M130.8 767.0h0M133.1 785.0h0M127.7 784.0h0M135.3 757.8h0M131.6 754.2h0M134.3 770.8h0M130.3 778.0h0M126.4 765.5h0M128.0 770.8h0M135.0 799.5h0M134.9 775.2h0M134.4 789.0h0M135.0 780.8h0M131.5 779.7h0M134.5 785.0h0M137.2 761.8h0M131.4 740.8h0M125.2 769.6h0M131.2 778.0h0M133.6 757.3h0M129.0 759.4h0M130.3 785.8h0M131.1 761.2h0M132.6 773.0h0M128.6 779.1h0M130.0 779.5h0M133.3 777.3h0M134.6 777.9h0M131.5 773.8h0M132.2 790.9h0M134.6 767.6h0M130.0 763.5h0M135.6 794.1h0M136.3 762.0h0M128.7 774.3h0M136.6 772.4h0M132.5 762.3h0M132.8 766.3h0M130.3 768.3h0M127.5 770.8h0M125.3 797.0h0M130.3 755.4h0M131.4 776.6h0M130.5 775.3h0M135.2 787.0h0M125.1 767.4h0M128.0 778.2h0M133.9 764.7h0M129.6 773.7h0M136.4 764.3h0M132.9 758.1h0M130.2 763.2h0M132.4 769.8h0M134.5 779.5h0M124.8 774.6h0M126.5 754.9h0M137.5 753.4h0M129.2 760.0h0M128.7 754.0h0M129.0 777.4h0M129.1 772.6h0M128.4 759.0h0" stroke="#00C0AF" stroke-width="1" stroke-linecap="round" stroke-opacity="0.6"/>
<path d="M142.7 794.5h0M146.7 773.2h0M139.6 758.6h0M140.2 783.3h0M139.0 774.6h0M144.6 788.9h0M140.4 784.1h0M142.1 764.1h0M146.3 792.0h0M146.8 789.7h0M147.7 800.0h0M147.8 771.9h0M141.0 742.6h0M149.8 793.6h0M144.7 770.1h0M148.9 771.1h0M143.7 813.8h0M138.6 777.6h0M145.4 763.1h0M143.8 796.8h0M144.1 771.5h0M148.8 776.2h0M146.9 793.9h0M147.8 808.8h0M138.8 777.2h0M138.2 768.9h0M147.3 790.1h0M149.1 783.1h0M148.1 797.3h0M146.4 804.6h0M150.1 776.8h0M143.7 781.0h0M141.8 775.0h0M146.1 766.4h0M138.3 790.5h0M146.1 764.5h0M141.6 769.6h0M138.2 799.5h0M140.7 764.2h0M146.5 790.2h0M148.7 784.4h0M148.5 766.9h0M150.9 781.7h0M148.5 769.6h0M147.5 771.8h0M150.9 780.4h0M141.1 785.1h0M140.5 794.2h0M146.8 775.2h0M147.6 772.4h0M142.6 806.9h0M146.5 792.6h0M142.1 776.8h0M145.1 785.2h0M145.8 794.6h0M140.0 801.6h0M145.0 803.8h0M139.4 778.3h0M150.5 769.2h0M146.1 778.5h0M144.6 815.6h0M150.5 775.7h0M147.7 815.9h0M146.2 769.2h0M144.1 776.6h0M148.0 766.3h0M141.5 781.8h0M142.6 780.3h0M139.9 765.3h0M149.5 781.6h0M145.1 797.3h0M144.2 778.7h0M147.2 797.9h0M145.0 751.0h0M144.3 777.8h0M138.3 783.9h0M150.1 802.6h0M148.1 774.0h0M150.6 749.2h0M142.3 773.0h0M149.6 794.3h0M143.4 782.9h0M144.0 790.5h0M147.4 782.3h0M147.1 778.0h0M150.1 756.0h0M141.5 770.5h0M143.1 786.5h0M144.3 769.5h0M143.5 772.6h0M143.6 790.5h0M147.2 785.7h0M149.8 789.8h0M142.3 781.4h0M148.5 785.6h0M144.8 797.6h0M144.0 785.8h0M140.1 780.7h0M145.7 774.4h0M145.7 791.8h0M141.4 795.0h0M149.6 778.7h0M148.8 767.9h0M140.3 773.7h0M150.9 775.9h0M143.3 770.5h0M148.2 774.8h0M148.7 781.1h0M149.9 769.0h0M144.8 776.3h0M139.0 777.8h0M150.0 765.7h0M147.1 797.9h0M149.2 784.1h0M144.0 776.8h0M147.1 778.4h0M145.1 774.9h0M144.0 780.4h0M144.7 783.2h0M144.5 783.1h0M145.0 787.4h0M138.9 791.4h0M145.0 813.9h0M143.2 758.5h0M145.5 772.3h0M141.1 791.3h0M143.3 762.5h0M146.0 758.9h0M143.6 802.3h0M147.6 779.6h0M150.3 757.8h0M144.4 746.3h0M148.0 791.0h0M139.6 783.1h0M150.3 770.0h0M146.6 790.9h0M142.5 783.0h0M142.1 780.6h0M147.3 788.0h0M145.9 743.0h0M145.7 795.7h0M145.4 790.4h0M144.2 787.7h0M144.9 796.7h0M143.8 767.5h0M148.9 751.8h0M143.4 741.3h0M146.8 775.7h0M142.0 785.1h0M143.9 764.0h0M148.5 800.3h0M141.4 796.0h0M144.0 771.3h0M141.5 783.5h0M145.8 754.6h0M141.4 769.5h0" stroke="#00BCD8" stroke-width="1" stroke-linecap="round" stroke-opacity="0.6"/>
<path d="M157.0 786.8h0M156.5 775.6h0M160.8 777.8h0M151.8 776.3h0M157.2 803.7h0M159.1 777.1h0M164.4 801.6h0M157.1 802.0h0M156.9 787.4h0M156.6 801.4h0M163.5 775.9h0M157.7 789.9h0M155.8 775.3h0M156.4 754.5h0M153.9 773.9h0M153.3 803.3h0M158.4 767.8h0M153.5 783.2h0M153.0 771.7h0M163.0 747.3h0M156.7 793.4h0M154.3 788.9h0M154.9 795.6h0M152.0 758.5h0M161.1 752.3h0M156.2 799.5h0M160.2 796.1h0M160.6 796.3h0M158.7 770.8h0M153.4 757.8h0M159.2 789.2h0M157.3 784.6h0M156.3 775.9h0M153.1 765.5h0M159.9 740.1h0M163.1 783.7h0M161.3 791.2h0M156.5 764.4h0M161.6 795.2h0M155.0 792.4h0M160.1 782.1h0M159.0 756.3h0M159.9 765.4h0M162.6 772.2h0M162.2 792.8h0M158.8 779.3h0M162.7 803.5h0M164.4 797.0h0M160.5 774.6h0M160.8 764.2h0M158.2 757.4h0M159.4 787.0h0M157.0 770.3h0M157.0 770.4h0M155.8 753.2h0M158.2 758.9h0M155.1 746.6h0M159.6 780.7h0M152.4 794.1h0M156.7 797.5h0M156.0 766.5h0M158.1 780.2h0M160.4 797.1h0M164.4 790.6h0M156.8 816.8h0M159.5 788.5h0M164.5 749.1h0M155.4 758.3h0M162.5 798.7h0M156.4 814.5h0M152.3 787.2h0M154.2 796.6h0M155.3 807.7h0M155.3 767.6h0M156.0 791.2h0M161.3 764.4h0M159.3 794.0h0M156.5 755.2h0M161.0 791.9h0M160.7 783.4h0M158.0 733.2h0M159.7 742.1h0M160.0 795.7h0M157.0 801.3h0M152.2 769.6h0M163.3 796.2h0M156.8 781.9h0M163.4 766.0h0M162.6 766.8h0M158.7 787.7h0M158.3 770.9h0M155.8 761.6h0M158.3 775.0h0M161.6 796.1h0M155.0 755.8h0M158.5 757.2h0M159.7 765.9h0M158.5 770.4h0M157.2 752.9h0M164.1 775.4h0M156.6 781.0h0M150.6 783.9h0M160.9 770.4h0M153.9 769.9h0M153.7 797.3h0M152.2 760.6h0M157.0 760.0h0M163.1 759.0h0M156.3 745.2h0M158.9 752.6h0M154.1 759.7h0M159.2 773.5h0M155.8 747.5h0M158.4 746.7h0M158.2 778.6h0M160.7 771.2h0M152.6 780.5h0M155.8 764.4h0M157.2 773.5h0M158.8 756.0h0M156.4 785.1h0M154.3 774.4h0M156.7 761.4h0M154.0 798.9h0M164.0 776.1h0M158.9 750.1h0M161.2 793.8h0M160.0 793.8h0M158.5 801.6h0M157.4 786.4h0M159.6 763.9h0M158.9 803.2h0M163.9 795.2h0M160.6 788.0h0M157.1 757.3h0M158.5 793.7h0M161.1 773.0h0M155.9 772.7h0M159.1 761.3h0M152.4 764.3h0M157.3 752.7h0M158.0 780.1h0" stroke="#00B0F6" stroke-width="1" stroke-linecap="round" stroke-opacity="0.6"/>
<path d="M168.0 778.8h0M168.9 753.4h0M169.9 767.6h0M171.6 782.5h0M171.8 753.5h0M167.3 778.2h0M175.0 753.4h0M175.0 802.6h0M173.2 772.3h0M170.6 786.0h0M167.7 787.6h0M171.2 792.0h0M177.6 772.8h0M170.8 810.3h0M176.7 813.3h0M171.4 778.8h0M173.7 786.1h0M171.2 816.3h0M176.0 782.9h0M174.6 817.6h0M175.0 746.6h0M171.3 803.2h0M171.6 811.2h0M174.2 783.6h0M171.8 768.7h0M171.5 774.9h0M171.1 791.1h0M169.5 775.4h0M166.8 804.6h0M176.1 761.4h0M171.0 759.3h0M167.9 816.5h0M177.3 773.1h0M169.1 770.2h0M175.3 776.9h0M172.3 783.8h0M166.7 776.0h0M171.3 792.3h0M169.1 772.8h0M167.8 772.8h0M169.6 819.6h0M171.8 798.2h0M171.7 742.3h0M167.8 792.8h0M169.7 757.2h0M170.4 790.1h0M170.2 774.9h0M169.2 788.5h0M169.8 800.7h0M171.0 793.0h0M170.2 773.7h0M170.8 793.8h0M168.8 762.7h0M165.9 760.6h0M175.5 797.0h0M176.9 810.4h0M166.0 793.3h0M174.2 767.2h0M172.6 777.5h0M168.6 755.3h0M166.8 761.8h0M174.1 770.2h0M173.3 805.1h0M164.7 782.0h0M174.5 802.0h0M174.4 751.3h0M169.9 823.0h0M169.0 800.4h0M173.3 792.8h0M175.8 753.1h0M177.9 799.9h0M170.8 781.2h0M176.1 804.8h0M169.5 780.1h0M166.9 791.4h0M172.9 794.1h0M170.9 789.2h0M177.8 780.1h0M173.0 793.5h0M170.7 793.9h0M174.8 765.1h0M170.9 774.1h0M173.8 767.6h0M175.0 805.3h0M172.6 765.3h0M171.7 743.6h0M173.2 812.6h0M168.1 755.5h0M168.1 771.6h0M166.7 782.9h0M170.0 752.5h0M172.5 790.2h0M176.1 745.3h0M168.7 780.2h0M178.1 799.3h0M176.1 808.1h0M175.6 791.4h0M173.7 794.4h0M171.2 766.9h0M172.6 747.7h0M171.0 795.0h0M177.3 776.8h0M178.1 780.0h0M169.8 792.6h0M169.9 776.3h0M162.2 791.1h0M172.1 763.0h0M167.7 805.0h0M170.7 810.2h0M168.2 770.9h0M172.1 778.3h0M172.6 749.3h0M170.4 773.8h0M167.6 780.6h0M175.3 770.5h0" stroke="#619CFF" stroke-width="1" stroke-linecap="round" stroke-opacity="0.6"/>
<path d="M182.1 767.8h0M184.3 735.4h0M183.4 726.9h0M187.4 731.2h0M186.7 762.3h0M187.3 762.8h0M183.3 726.5h0M185.9 790.5h0M183.2 741.1h0M182.3 752.6h0M187.0 770.6h0M187.4 754.0h0M184.2 744.7h0M183.1 757.7h0M185.3 752.2h0M191.7 729.9h0M190.4 742.7h0M185.8 774.0h0M179.2 772.8h0M180.8 784.1h0M190.3 778.7h0M187.9 736.6h0M187.9 796.0h0M189.1 775.9h0M185.6 747.0h0M185.3 759.2h0M179.1 737.4h0M184.0 751.8h0M186.5 756.3h0M182.5 771.8h0" stroke="#B983FF" stroke-width="1" stroke-linecap="round" stroke-opacity="0.6"/>
<path d="M203.9 789.4h0M197.2 785.5h0M195.5 765.5h0M202.6 745.2h0M199.3 798.3h0M199.0 750.7h0M202.9 778.8h0M193.5 747.8h0M199.0 772.1h0M195.4 777.5h0M197.9 756.2h0M196.0 803.6h0M192.6 768.2h0M197.5 755.8h0M194.9 753.4h0M192.4 786.3h0M202.0 780.6h0M203.6 796.2h0M201.1 750.8h0M200.0 752.3h0M193.9 753.2h0M199.8 756.3h0M198.1 771.0h0M196.5 776.8h0M200.9 738.1h0M193.6 791.4h0M196.5 776.2h0M205.2 756.7h0M198.3 763.8h0M204.7 764.3h0M198.7 755.0h0" stroke="#E76BF3" stroke-width="1" stroke-linecap="round" stroke-opacity="0.6"/>
<path d="M211.4 784.3h0M206.6 744.6h0M214.6 750.6h0M211.4 769.8h0M216.4 814.5h0M214.0 797.1h0M214.2 750.1h0M213.2 771.1h0M212.3 750.5h0M216.5 734.8h0M214.9 752.2h0M212.6 783.9h0M207.2 743.6h0M211.8 766.3h0M211.1 798.3h0M213.0 783.6h0M212.3 761.6h0M215.4 762.5h0M213.7 765.9h0M207.0 767.2h0M215.0 793.7h0M211.2 769.0h0M208.4 789.5h0M209.8 771.3h0M211.6 772.2h0M210.7 753.1h0M210.1 749.2h0M210.0 760.5h0M209.9 739.3h0M209.5 751.7h0M213.5 782.7h0" stroke="#FD61D1" stroke-width="1" stroke-linecap="round" stroke-opacity="0.6"/>
<path d="M223.0 763.2h0M223.9 755.9h0M227.0 756.8h0M224.7 799.0h0M221.8 775.7h0M226.6 796.4h0M223.1 775.1h0M227.7 753.6h0M227.4 779.8h0M223.7 775.2h0M225.9 764.4h0M229.1 787.7h0M225.1 796.7h0M221.1 747.0h0M224.1 743.5h0M226.7 782.4h0M221.0 808.7h0M224.7 779.3h0M226.9 779.9h0M226.7 794.3h0M222.6 768.1h0M222.8 752.1h0M222.0 778.1h0M230.9 790.8h0M222.7 763.3h0M224.6 788.7h0M222.1 789.1h0M226.3 786.7h0M228.0 766.1h0M230.2 749.2h0M227.8 802.0h0M221.5 787.9h0" stroke="#FF67A4" stroke-width="1" stroke-linecap="round" stroke-opacity="0.6"/>
<path d="M36.3 722.9V765.9M36.3 789.8V822" fill="none" stroke="#F8766D" stroke-width="1.8"/>
<path d="M31.7 765.9H40.9V773.5L39.6 779L40.9 784.5V789.8H31.7V784.5L33 779L31.7 773.5Z" fill="#ffffff" stroke="#F8766D" stroke-width="2.2" fill-opacity="0.55" stroke-linejoin="miter"/>
<path d="M31.7 765.9H40.9V773.5L39.6 779L40.9 784.5V789.8H31.7V784.5L33 779L31.7 773.5Z" fill="#F8766D" fill-opacity="0.15"/>
<path d="M33 779H39.6" fill="none" stroke="#F8766D" stroke-width="2"/>
<circle cx="36.3" cy="719" r="1.45" fill="#F8766D"/>
<circle cx="36.3" cy="721" r="1.45" fill="#F8766D"/>
<circle cx="36.3" cy="724" r="1.45" fill="#F8766D"/>
<circle cx="36.3" cy="726" r="1.45" fill="#F8766D"/>
<path d="M49.84 732.4V758.7M49.84 779V807.7" fill="none" stroke="#E58700" stroke-width="1.8"/>
<path d="M45.24 758.7H54.44V762.5L53.14 768L54.44 773.5V779H45.24V773.5L46.54 768L45.24 762.5Z" fill="#ffffff" stroke="#E58700" stroke-width="2.2" fill-opacity="0.55" stroke-linejoin="miter"/>
<path d="M45.24 758.7H54.44V762.5L53.14 768L54.44 773.5V779H45.24V773.5L46.54 768L45.24 762.5Z" fill="#E58700" fill-opacity="0.15"/>
<path d="M46.54 768H53.14" fill="none" stroke="#E58700" stroke-width="2"/>
<circle cx="49.84" cy="691.8" r="1.45" fill="#E58700"/>
<circle cx="49.84" cy="719" r="1.45" fill="#E58700"/>
<circle cx="49.84" cy="722" r="1.45" fill="#E58700"/>
<circle cx="49.84" cy="727" r="1.45" fill="#E58700"/>
<circle cx="49.84" cy="810" r="1.45" fill="#E58700"/>
<circle cx="49.84" cy="814" r="1.45" fill="#E58700"/>
<circle cx="49.84" cy="818" r="1.45" fill="#E58700"/>
<circle cx="49.84" cy="823" r="1.45" fill="#E58700"/>
<path d="M63.38 721.7V760.4M63.38 781V805.3" fill="none" stroke="#C99800" stroke-width="1.8"/>
<path d="M58.78 760.4H67.98V765.5L66.68 771L67.98 776.5V781H58.78V776.5L60.08 771L58.78 765.5Z" fill="#ffffff" stroke="#C99800" stroke-width="2.2" fill-opacity="0.55" stroke-linejoin="miter"/>
<path d="M58.78 760.4H67.98V765.5L66.68 771L67.98 776.5V781H58.78V776.5L60.08 771L58.78 765.5Z" fill="#C99800" fill-opacity="0.15"/>
<path d="M60.08 771H66.68" fill="none" stroke="#C99800" stroke-width="2"/>
<circle cx="63.38" cy="699" r="1.45" fill="#C99800"/>
<circle cx="63.38" cy="705" r="1.45" fill="#C99800"/>
<circle cx="63.38" cy="709" r="1.45" fill="#C99800"/>
<circle cx="63.38" cy="712" r="1.45" fill="#C99800"/>
<circle cx="63.38" cy="716" r="1.45" fill="#C99800"/>
<circle cx="63.38" cy="719" r="1.45" fill="#C99800"/>
<circle cx="63.38" cy="722" r="1.45" fill="#C99800"/>
<circle cx="63.38" cy="725" r="1.45" fill="#C99800"/>
<circle cx="63.38" cy="806" r="1.45" fill="#C99800"/>
<circle cx="63.38" cy="810" r="1.45" fill="#C99800"/>
<circle cx="63.38" cy="814" r="1.45" fill="#C99800"/>
<circle cx="63.38" cy="818" r="1.45" fill="#C99800"/>
<circle cx="63.38" cy="822" r="1.45" fill="#C99800"/>
<path d="M76.92 718.1V755.1M76.92 785V819.7" fill="none" stroke="#A3A500" stroke-width="1.8"/>
<path d="M72.32 755.1H81.52V764.5L80.22 770L81.52 775.5V785H72.32V775.5L73.62 770L72.32 764.5Z" fill="#ffffff" stroke="#A3A500" stroke-width="2.2" fill-opacity="0.55" stroke-linejoin="miter"/>
<path d="M72.32 755.1H81.52V764.5L80.22 770L81.52 775.5V785H72.32V775.5L73.62 770L72.32 764.5Z" fill="#A3A500" fill-opacity="0.15"/>
<path d="M73.62 770H80.22" fill="none" stroke="#A3A500" stroke-width="2"/>
<circle cx="76.92" cy="705" r="1.45" fill="#A3A500"/>
<circle cx="76.92" cy="708" r="1.45" fill="#A3A500"/>
<circle cx="76.92" cy="712" r="1.45" fill="#A3A500"/>
<path d="M90.46 748V771.9M90.46 789V809" fill="none" stroke="#6BB100" stroke-width="1.8"/>
<path d="M85.86 771.9H95.06V775.5L93.76 781L95.06 786.5V789H85.86V786.5L87.16 781L85.86 775.5Z" fill="#ffffff" stroke="#6BB100" stroke-width="2.2" fill-opacity="0.55" stroke-linejoin="miter"/>
<path d="M85.86 771.9H95.06V775.5L93.76 781L95.06 786.5V789H85.86V786.5L87.16 781L85.86 775.5Z" fill="#6BB100" fill-opacity="0.15"/>
<path d="M87.16 781H93.76" fill="none" stroke="#6BB100" stroke-width="2"/>
<circle cx="90.46" cy="738" r="1.45" fill="#6BB100"/>
<circle cx="90.46" cy="741" r="1.45" fill="#6BB100"/>
<circle cx="90.46" cy="745" r="1.45" fill="#6BB100"/>
<circle cx="90.46" cy="812" r="1.45" fill="#6BB100"/>
<circle cx="90.46" cy="816" r="1.45" fill="#6BB100"/>
<path d="M104 718V748M104 770.7V797" fill="none" stroke="#00BA38" stroke-width="1.8"/>
<path d="M99.4 748H108.6V752.5L106.6 758L108.6 763.5V770.7H99.4V763.5L101.4 758L99.4 752.5Z" fill="#ffffff" stroke="#00BA38" stroke-width="2.2" fill-opacity="0.55" stroke-linejoin="miter"/>
<path d="M99.4 748H108.6V752.5L106.6 758L108.6 763.5V770.7H99.4V763.5L101.4 758L99.4 752.5Z" fill="#00BA38" fill-opacity="0.15"/>
<path d="M101.4 758H106.6" fill="none" stroke="#00BA38" stroke-width="2"/>
<circle cx="104" cy="707" r="1.45" fill="#00BA38"/>
<circle cx="104" cy="710" r="1.45" fill="#00BA38"/>
<circle cx="104" cy="713" r="1.45" fill="#00BA38"/>
<circle cx="104" cy="809" r="1.45" fill="#00BA38"/>
<path d="M117.54 742V774.3M117.54 797V822" fill="none" stroke="#00BF7D" stroke-width="1.8"/>
<path d="M112.94 774.3H122.14V779.5L120.14 785L122.14 790.5V797H112.94V790.5L114.94 785L112.94 779.5Z" fill="#ffffff" stroke="#00BF7D" stroke-width="2.2" fill-opacity="0.55" stroke-linejoin="miter"/>
<path d="M112.94 774.3H122.14V779.5L120.14 785L122.14 790.5V797H112.94V790.5L114.94 785L112.94 779.5Z" fill="#00BF7D" fill-opacity="0.15"/>
<path d="M114.94 785H120.14" fill="none" stroke="#00BF7D" stroke-width="2"/>
<circle cx="117.54" cy="728" r="1.45" fill="#00BF7D"/>
<circle cx="117.54" cy="731" r="1.45" fill="#00BF7D"/>
<circle cx="117.54" cy="734" r="1.45" fill="#00BF7D"/>
<circle cx="117.54" cy="737" r="1.45" fill="#00BF7D"/>
<circle cx="117.54" cy="740" r="1.45" fill="#00BF7D"/>
<path d="M131.08 736V764.2M131.08 780.2V807.7" fill="none" stroke="#00C0AF" stroke-width="1.8"/>
<path d="M126.48 764.2H135.68V766.5L133.68 772L135.68 777.5V780.2H126.48V777.5L128.48 772L126.48 766.5Z" fill="#ffffff" stroke="#00C0AF" stroke-width="2.2" fill-opacity="0.55" stroke-linejoin="miter"/>
<path d="M126.48 764.2H135.68V766.5L133.68 772L135.68 777.5V780.2H126.48V777.5L128.48 772L126.48 766.5Z" fill="#00C0AF" fill-opacity="0.15"/>
<path d="M128.48 772H133.68" fill="none" stroke="#00C0AF" stroke-width="2"/>
<circle cx="131.08" cy="733" r="1.45" fill="#00C0AF"/>
<circle cx="131.08" cy="736" r="1.45" fill="#00C0AF"/>
<circle cx="131.08" cy="739" r="1.45" fill="#00C0AF"/>
<circle cx="131.08" cy="803" r="1.45" fill="#00C0AF"/>
<circle cx="131.08" cy="808" r="1.45" fill="#00C0AF"/>
<circle cx="131.08" cy="812" r="1.45" fill="#00C0AF"/>
<path d="M144.62 742V773M144.62 792.1V814.8" fill="none" stroke="#00BCD8" stroke-width="1.8"/>
<path d="M140.02 773H149.22V776.5L147.22 782L149.22 787.5V792.1H140.02V787.5L142.02 782L140.02 776.5Z" fill="#ffffff" stroke="#00BCD8" stroke-width="2.2" fill-opacity="0.55" stroke-linejoin="miter"/>
<path d="M140.02 773H149.22V776.5L147.22 782L149.22 787.5V792.1H140.02V787.5L142.02 782L140.02 776.5Z" fill="#00BCD8" fill-opacity="0.15"/>
<path d="M142.02 782H147.22" fill="none" stroke="#00BCD8" stroke-width="2"/>
<circle cx="144.62" cy="735" r="1.45" fill="#00BCD8"/>
<circle cx="144.62" cy="739" r="1.45" fill="#00BCD8"/>
<circle cx="144.62" cy="742" r="1.45" fill="#00BCD8"/>
<circle cx="144.62" cy="820" r="1.45" fill="#00BCD8"/>
<path d="M158.16 737.2V766.3M158.16 789V814.8" fill="none" stroke="#00B0F6" stroke-width="1.8"/>
<path d="M153.56 766.3H162.76V769.5L160.76 775L162.76 780.5V789H153.56V780.5L155.56 775L153.56 769.5Z" fill="#ffffff" stroke="#00B0F6" stroke-width="2.2" fill-opacity="0.55" stroke-linejoin="miter"/>
<path d="M153.56 766.3H162.76V769.5L160.76 775L162.76 780.5V789H153.56V780.5L155.56 775L153.56 769.5Z" fill="#00B0F6" fill-opacity="0.15"/>
<path d="M155.56 775H160.76" fill="none" stroke="#00B0F6" stroke-width="2"/>
<path d="M171.7 738.4V771.8M171.7 797V822" fill="none" stroke="#619CFF" stroke-width="1.8"/>
<path d="M167.1 771.8H176.3V778.5L174.3 784L176.3 789.5V797H167.1V789.5L169.1 784L167.1 778.5Z" fill="#ffffff" stroke="#619CFF" stroke-width="2.2" fill-opacity="0.55" stroke-linejoin="miter"/>
<path d="M167.1 771.8H176.3V778.5L174.3 784L176.3 789.5V797H167.1V789.5L169.1 784L167.1 778.5Z" fill="#619CFF" fill-opacity="0.15"/>
<path d="M169.1 784H174.3" fill="none" stroke="#619CFF" stroke-width="2"/>
<path d="M185.24 715.7V746.8M185.24 769.4V795.7" fill="none" stroke="#B983FF" stroke-width="1.8"/>
<path d="M180.64 746.8H189.84V751.5L187.31 757L189.84 762.5V769.4H180.64V762.5L183.17 757L180.64 751.5Z" fill="#ffffff" stroke="#B983FF" stroke-width="2.2" fill-opacity="0.55" stroke-linejoin="miter"/>
<path d="M180.64 746.8H189.84V751.5L187.31 757L189.84 762.5V769.4H180.64V762.5L183.17 757L180.64 751.5Z" fill="#B983FF" fill-opacity="0.15"/>
<path d="M183.17 757H187.31" fill="none" stroke="#B983FF" stroke-width="2"/>
<path d="M198.78 730V757.5M198.78 780.2V804" fill="none" stroke="#E76BF3" stroke-width="1.8"/>
<path d="M194.18 757.5H203.38V762.5L200.85 768L203.38 773.5V780.2H194.18V773.5L196.71 768L194.18 762.5Z" fill="#ffffff" stroke="#E76BF3" stroke-width="2.2" fill-opacity="0.55" stroke-linejoin="miter"/>
<path d="M194.18 757.5H203.38V762.5L200.85 768L203.38 773.5V780.2H194.18V773.5L196.71 768L194.18 762.5Z" fill="#E76BF3" fill-opacity="0.15"/>
<path d="M196.71 768H200.85" fill="none" stroke="#E76BF3" stroke-width="2"/>
<path d="M212.32 722.9V751.5M212.32 777.8V813.6" fill="none" stroke="#FD61D1" stroke-width="1.8"/>
<path d="M207.72 751.5H216.92V758.5L214.39 764L216.92 769.5V777.8H207.72V769.5L210.25 764L207.72 758.5Z" fill="#ffffff" stroke="#FD61D1" stroke-width="2.2" fill-opacity="0.55" stroke-linejoin="miter"/>
<path d="M207.72 751.5H216.92V758.5L214.39 764L216.92 769.5V777.8H207.72V769.5L210.25 764L207.72 758.5Z" fill="#FD61D1" fill-opacity="0.15"/>
<path d="M210.25 764H214.39" fill="none" stroke="#FD61D1" stroke-width="2"/>
<path d="M225.86 740.8V764.7M225.86 788.6V811.3" fill="none" stroke="#FF67A4" stroke-width="1.8"/>
<path d="M221.26 764.7H230.46V769.5L227.93 775L230.46 780.5V788.6H221.26V780.5L223.79 775L221.26 769.5Z" fill="#ffffff" stroke="#FF67A4" stroke-width="2.2" fill-opacity="0.55" stroke-linejoin="miter"/>
<path d="M221.26 764.7H230.46V769.5L227.93 775L230.46 780.5V788.6H221.26V780.5L223.79 775L221.26 769.5Z" fill="#FF67A4" fill-opacity="0.15"/>
<path d="M223.79 775H227.93" fill="none" stroke="#FF67A4" stroke-width="2"/>
<text x="65.6" y="695.4" font-size="10.95">MHC-I antigen presentation</text>
<rect x="95.5" y="697.4" width="17.4" height="128.8" fill="none" stroke="#000" stroke-width="2.8" stroke-dasharray="7 3.6"/>
<rect x="176.9" y="699.2" width="42.3" height="127.4" fill="none" stroke="#000" stroke-width="2.8" stroke-dasharray="7 3.6"/>
<text x="233.6" y="662.2" font-size="16">i</text>
<path d="M259.1 714.33L259.1 714.3L259.1 713.4L259.1 712.5L259.1 711.6L259.2 710.7L259.2 709.8L259.2 708.9L259.3 708.0L259.4 707.1L259.6 706.2L259.8 705.3L260.1 704.4L260.4 703.5L260.7 702.6L261.1 701.7L261.5 700.8L261.9 699.9L262.2 699.0L262.5 698.1L262.6 697.2L262.7 696.3L262.6 695.4L262.5 694.5L262.2 693.6L261.9 692.7L261.3 691.7L260.3 690.8L259.6 689.9L259.1 689.0L259.1 689.04Z" fill="#44ee22"/>
<path d="M259.1 714.33L252.2 714.3L252.5 713.2L253.3 712.1L254.4 710.9L255.7 709.8L256.8 708.6L257.7 707.5L258.2 706.4L258.6 705.2L258.7 704.1L258.7 703.0L258.6 701.8L258.4 700.7L258.2 699.6L257.9 698.4L257.5 697.3L257.2 696.2L257.0 695.0L256.8 693.9L256.7 692.8L256.8 691.6L256.9 690.5L257.2 689.3L257.5 688.2L257.8 687.1L258.1 685.9L258.6 684.8L258.9 683.7L259.1 682.5L259.1 682.54Z" fill="#ee6b6e"/>
<path d="M259.1 714.33L266.0 714.3L266.0 713.9L265.9 713.6L265.7 713.2L265.5 712.8L265.2 712.4L264.8 712.0L264.5 711.6L264.1 711.2L263.7 710.8L263.2 710.5L262.8 710.1L262.4 709.7L262.0 709.3L261.6 708.9L261.3 708.5L261.0 708.1L260.7 707.7L260.4 707.4L260.2 707.0L260.0 706.6L259.8 706.2L259.6 705.8L259.4 705.4L259.3 705.0L259.2 704.6L259.2 704.3L259.1 703.9L259.1 703.5L259.1 703.49Z" fill="#5c9ff5"/>
<path d="M274.89 714.33L272.6 714.3L272.6 713.7L272.7 713.0L272.8 712.4L272.9 711.7L273.0 711.1L273.1 710.5L273.2 709.8L273.1 709.2L273.0 708.5L272.8 707.9L272.6 707.2L272.3 706.6L271.9 705.9L271.6 705.3L271.4 704.6L271.3 704.0L271.3 703.4L271.4 702.7L271.6 702.1L271.9 701.4L272.3 700.8L272.7 700.1L273.1 699.5L273.7 698.8L274.2 698.2L274.6 697.6L274.8 696.9L274.9 696.3L274.89 696.26Z" fill="#44ee22"/>
<path d="M274.89 714.33L273.1 714.3L273.2 713.2L273.4 712.1L273.6 711.0L273.8 709.9L273.9 708.8L274.0 707.7L273.8 706.6L273.5 705.6L273.1 704.5L272.4 703.4L271.6 702.3L270.7 701.2L269.8 700.1L268.8 699.0L267.9 697.9L267.2 696.8L266.7 695.7L266.5 694.6L266.6 693.5L267.0 692.4L267.7 691.3L268.6 690.2L269.5 689.1L270.5 688.0L271.5 686.9L272.9 685.8L274.2 684.7L274.9 683.6L274.89 683.62Z" fill="#5c9ff5"/>
<path d="M274.89 714.33L277.2 714.3L277.1 713.2L276.8 712.0L276.5 710.8L276.1 709.7L275.8 708.5L275.6 707.4L275.6 706.2L275.7 705.0L276.0 703.9L276.5 702.7L277.1 701.6L277.9 700.4L278.8 699.2L279.8 698.1L280.8 696.9L281.6 695.7L282.2 694.6L282.6 693.4L282.7 692.3L282.4 691.1L281.8 689.9L281.1 688.8L280.1 687.6L279.2 686.5L278.2 685.3L276.9 684.1L275.6 683.0L274.9 681.8L274.89 681.81Z" fill="#ee6b6e"/>
<path d="M290.68 714.33L287.2 714.3L287.4 713.2L287.8 712.1L288.3 710.9L288.9 709.8L289.4 708.6L289.8 707.5L290.0 706.4L290.0 705.2L289.8 704.1L289.4 703.0L288.8 701.8L288.0 700.7L287.1 699.6L286.0 698.4L284.9 697.3L283.9 696.2L283.1 695.0L282.5 693.9L282.3 692.8L282.4 691.6L283.0 690.5L283.8 689.3L284.8 688.2L285.8 687.1L286.9 685.9L288.5 684.8L289.9 683.7L290.7 682.5L290.68 682.54Z" fill="#ee6b6e"/>
<path d="M290.68 714.33L294.1 714.3L294.0 713.2L293.6 712.1L293.1 711.0L292.6 709.9L292.1 708.8L291.8 707.7L291.7 706.6L291.9 705.6L292.2 704.5L292.8 703.4L293.6 702.3L294.5 701.2L295.5 700.1L296.5 699.0L297.5 697.9L298.3 696.8L298.9 695.7L299.1 694.6L298.9 693.5L298.5 692.4L297.7 691.3L296.8 690.2L295.7 689.1L294.7 688.0L293.7 686.9L292.4 685.8L291.3 684.7L290.7 683.6L290.68 683.62Z" fill="#5c9ff5"/>
<path d="M306.47 714.33L299.6 714.3L299.9 713.1L300.9 711.8L302.2 710.5L303.6 709.3L304.7 708.0L305.5 706.7L306.0 705.5L306.3 704.2L306.4 702.9L306.4 701.7L306.4 700.4L306.4 699.2L306.2 697.9L306.0 696.6L305.6 695.4L305.0 694.1L304.3 692.8L303.5 691.6L302.8 690.3L302.3 689.0L302.3 687.8L302.7 686.5L303.3 685.2L304.1 684.0L304.9 682.7L305.6 681.5L306.2 680.2L306.5 678.9L306.47 678.92Z" fill="#5c9ff5"/>
<path d="M306.47 714.33L313.4 714.3L313.0 713.1L312.1 711.9L310.9 710.7L309.6 709.5L308.5 708.3L307.7 707.1L307.1 705.9L306.8 704.7L306.6 703.5L306.5 702.3L306.5 701.1L306.5 699.9L306.5 698.7L306.6 697.5L306.7 696.3L306.9 695.1L307.2 693.9L307.6 692.7L308.1 691.5L308.7 690.3L309.1 689.1L309.4 687.9L309.4 686.7L309.2 685.5L308.8 684.3L307.9 683.1L307.0 681.9L306.5 680.7L306.47 680.73Z" fill="#ee6b6e"/>
<path d="M322.26 714.33L314.2 714.3L314.4 713.3L315.2 712.3L316.2 711.3L317.4 710.4L318.6 709.4L319.6 708.4L320.3 707.4L320.8 706.4L321.1 705.4L321.2 704.4L321.2 703.4L321.0 702.4L320.8 701.4L320.6 700.4L320.4 699.4L320.3 698.4L320.1 697.4L320.0 696.4L319.9 695.4L319.9 694.5L319.9 693.5L320.0 692.5L320.1 691.5L320.3 690.5L320.4 689.5L321.2 688.5L321.8 687.5L322.3 686.5L322.26 686.51Z" fill="#ee6b6e"/>
<path d="M322.26 714.33L325.8 714.3L325.7 713.4L325.5 712.5L325.1 711.5L324.8 710.6L324.4 709.7L324.2 708.8L324.1 707.8L324.1 706.9L324.3 706.0L324.5 705.0L324.9 704.1L325.2 703.2L325.5 702.2L325.7 701.3L325.8 700.4L325.8 699.5L325.7 698.5L325.5 697.6L325.2 696.7L324.8 695.7L324.4 694.8L324.0 693.9L323.6 693.0L323.3 692.0L323.0 691.1L322.6 690.2L322.4 689.2L322.3 688.3L322.26 688.32Z" fill="#5c9ff5"/>
<path d="M338.05 714.33L331.1 714.3L331.5 713.2L332.3 712.0L333.5 710.8L334.7 709.7L335.8 708.5L336.6 707.4L337.1 706.2L337.3 705.0L337.3 703.9L337.1 702.7L336.7 701.6L336.2 700.4L335.6 699.2L334.9 698.1L334.1 696.9L333.3 695.7L332.6 694.6L332.0 693.4L331.6 692.3L331.5 691.1L331.5 689.9L331.8 688.8L332.3 687.6L333.0 686.5L333.8 685.3L335.2 684.1L336.9 683.0L338.1 681.8L338.05 681.81Z" fill="#5c9ff5"/>
<path d="M338.05 714.33L341.5 714.3L341.3 713.0L340.8 711.7L340.1 710.5L339.5 709.2L338.9 707.9L338.6 706.6L338.4 705.3L338.4 704.0L338.4 702.7L338.6 701.4L338.9 700.1L339.3 698.8L339.8 697.6L340.4 696.3L341.0 695.0L341.6 693.7L342.2 692.4L342.6 691.1L342.8 689.8L342.8 688.5L342.6 687.2L342.2 685.9L341.7 684.7L341.1 683.4L340.5 682.1L339.7 680.8L338.6 679.5L338.1 678.2L338.05 678.2Z" fill="#ee6b6e"/>
<path d="M353.84 714.33L356.1 714.3L356.1 713.3L355.8 712.3L355.5 711.2L355.2 710.2L354.9 709.2L354.6 708.1L354.5 707.1L354.5 706.1L354.6 705.0L354.8 704.0L355.1 703.0L355.4 701.9L355.8 700.9L356.1 699.9L356.5 698.8L356.7 697.8L356.8 696.8L356.8 695.7L356.7 694.7L356.5 693.7L356.1 692.7L355.8 691.6L355.4 690.6L355.1 689.6L354.7 688.5L354.3 687.5L354.0 686.5L353.8 685.4L353.84 685.43Z" fill="#44ee22"/>
<path d="M353.84 714.33L348.1 714.3L348.2 713.4L348.7 712.4L349.4 711.4L350.1 710.5L350.9 709.5L351.5 708.5L351.9 707.6L352.1 706.6L352.2 705.6L352.1 704.6L351.9 703.7L351.7 702.7L351.6 701.7L351.5 700.8L351.4 699.8L351.5 698.8L351.6 697.9L351.8 696.9L352.1 695.9L352.4 695.0L352.6 694.0L352.9 693.0L353.1 692.1L353.3 691.1L353.5 690.1L353.7 689.2L353.8 688.2L353.8 687.2L353.84 687.23Z" fill="#ee6b6e"/>
<path d="M353.84 714.33L359.6 714.3L359.6 714.1L359.5 713.8L359.5 713.6L359.4 713.3L359.3 713.0L359.1 712.8L359.0 712.5L358.8 712.3L358.6 712.0L358.4 711.7L358.2 711.5L358.0 711.2L357.8 711.0L357.5 710.7L357.3 710.5L357.1 710.2L356.8 709.9L356.3 709.7L355.9 709.4L355.5 709.2L355.2 708.9L354.9 708.6L354.6 708.4L354.4 708.1L354.2 707.9L354.1 707.6L353.9 707.4L353.8 707.1L353.84 707.1Z" fill="#5c9ff5"/>
<path d="M369.63 714.33L367.3 714.3L367.3 713.6L367.4 712.9L367.5 712.2L367.6 711.5L367.7 710.8L367.7 710.1L367.7 709.4L367.6 708.6L367.3 707.9L366.9 707.2L366.5 706.5L365.9 705.8L365.4 705.1L364.8 704.4L364.3 703.7L363.9 703.0L363.7 702.3L363.6 701.6L363.8 700.8L364.1 700.1L364.5 699.4L365.1 698.7L365.7 698.0L366.4 697.3L367.7 696.6L368.6 695.9L369.2 695.2L369.6 694.5L369.63 694.46Z" fill="#44ee22"/>
<path d="M369.63 714.33L369.6 714.3L369.6 713.4L369.6 712.5L369.6 711.6L369.6 710.7L369.6 709.8L369.6 708.9L369.6 708.0L369.6 707.1L369.6 706.2L369.6 705.3L369.6 704.4L369.6 703.5L369.5 702.6L369.4 701.7L369.1 700.8L368.7 699.9L368.2 699.0L367.4 698.1L366.5 697.2L365.5 696.3L364.6 695.4L363.9 694.5L363.6 693.6L363.8 692.7L364.6 691.7L366.8 690.8L368.5 689.9L369.6 689.0L369.63 689.04Z" fill="#5c9ff5"/>
<path d="M369.63 714.33L371.9 714.3L371.9 713.4L371.7 712.5L371.4 711.5L371.1 710.6L370.8 709.7L370.5 708.8L370.3 707.8L370.2 706.9L370.3 706.0L370.4 705.0L370.7 704.1L371.2 703.2L371.7 702.2L372.4 701.3L373.1 700.4L373.7 699.5L374.3 698.5L374.8 697.6L375.0 696.7L375.0 695.7L374.7 694.8L374.3 693.9L373.7 693.0L373.0 692.0L372.2 691.1L370.9 690.2L370.1 689.2L369.6 688.3L369.63 688.32Z" fill="#ee6b6e"/>
<path d="M385.42 714.33L388.9 714.3L388.9 713.6L388.7 712.8L388.5 712.0L388.2 711.2L388.0 710.5L387.9 709.7L387.8 708.9L388.0 708.1L388.3 707.4L388.7 706.6L389.2 705.8L389.8 705.0L390.4 704.3L390.9 703.5L391.3 702.7L391.4 701.9L391.4 701.2L391.1 700.4L390.7 699.6L390.1 698.8L389.4 698.1L388.7 697.3L388.0 696.5L387.4 695.7L386.6 695.0L386.0 694.2L385.6 693.4L385.4 692.7L385.42 692.65Z" fill="#44ee22"/>
<path d="M385.42 714.33L378.5 714.3L378.8 713.1L379.6 712.0L380.8 710.8L382.0 709.6L382.9 708.4L383.6 707.2L383.8 706.0L383.8 704.8L383.4 703.6L382.9 702.5L382.3 701.3L381.6 700.1L380.9 698.9L380.2 697.7L379.8 696.5L379.5 695.3L379.4 694.1L379.6 693.0L380.0 691.8L380.6 690.6L381.2 689.4L381.9 688.2L382.6 687.0L383.3 685.8L383.9 684.7L384.5 683.5L385.1 682.3L385.4 681.1L385.42 681.09Z" fill="#ee6b6e"/>
<path d="M385.42 714.33L391.2 714.3L390.9 713.1L390.1 711.9L389.1 710.6L388.0 709.4L387.1 708.2L386.4 707.0L386.1 705.7L385.9 704.5L386.0 703.3L386.2 702.1L386.6 700.8L387.1 699.6L387.7 698.4L388.4 697.2L389.0 695.9L389.6 694.7L390.0 693.5L390.2 692.3L390.2 691.0L389.9 689.8L389.4 688.6L388.7 687.4L388.1 686.1L387.4 684.9L386.9 683.7L386.3 682.5L385.7 681.2L385.4 680.0L385.42 680.01Z" fill="#5c9ff5"/>
<path d="M401.21 714.33L397.7 714.3L397.8 713.6L397.9 712.8L398.1 712.0L398.4 711.2L398.6 710.5L398.8 709.7L398.8 708.9L398.7 708.1L398.4 707.4L397.9 706.6L397.4 705.8L396.8 705.0L396.2 704.3L395.7 703.5L395.4 702.7L395.2 701.9L395.3 701.2L395.5 700.4L396.0 699.6L396.6 698.8L397.2 698.1L397.9 697.3L398.6 696.5L399.2 695.7L400.0 695.0L400.7 694.2L401.0 693.4L401.2 692.7L401.21 692.65Z" fill="#44ee22"/>
<path d="M401.21 714.33L396.6 714.3L396.8 713.1L397.4 712.0L398.2 710.8L399.0 709.6L399.7 708.4L400.2 707.2L400.5 706.0L400.5 704.8L400.3 703.6L399.9 702.5L399.3 701.3L398.5 700.1L397.6 698.9L396.6 697.7L395.7 696.5L394.9 695.3L394.3 694.1L394.0 693.0L394.1 691.8L394.5 690.6L395.2 689.4L396.1 688.2L397.1 687.0L398.0 685.8L398.9 684.7L399.9 683.5L400.8 682.3L401.2 681.1L401.21 681.09Z" fill="#5c9ff5"/>
<path d="M401.21 714.33L403.5 714.3L403.4 713.4L403.3 712.5L403.0 711.5L402.7 710.6L402.3 709.7L402.1 708.8L401.9 707.8L401.8 706.9L401.8 706.0L401.9 705.0L402.1 704.1L402.5 703.2L403.0 702.2L403.6 701.3L404.4 700.4L405.2 699.5L406.1 698.5L406.9 697.6L407.6 696.7L408.1 695.7L408.4 694.8L408.4 693.9L408.0 693.0L407.5 692.0L406.6 691.1L404.2 690.2L402.4 689.2L401.2 688.3L401.21 688.32Z" fill="#ee6b6e"/>
<path d="M417 714.33L420.5 714.3L420.4 713.7L420.3 713.0L420.1 712.4L419.9 711.7L419.7 711.1L419.5 710.5L419.3 709.8L419.2 709.2L419.2 708.5L419.3 707.9L419.5 707.2L419.8 706.6L420.1 705.9L420.3 705.3L420.5 704.6L420.6 704.0L420.7 703.4L420.5 702.7L420.3 702.1L420.0 701.4L419.6 700.8L419.2 700.1L418.7 699.5L418.2 698.8L417.7 698.2L417.3 697.6L417.1 696.9L417.0 696.3L417 696.26Z" fill="#44ee22"/>
<path d="M417 714.33L410.1 714.3L410.2 713.5L410.7 712.7L411.3 711.9L412.1 711.1L413.0 710.3L413.8 709.5L414.6 708.7L415.2 707.9L415.7 707.1L416.0 706.3L416.1 705.5L416.1 704.7L415.9 703.9L415.5 703.1L415.1 702.3L414.5 701.5L413.8 700.7L413.1 699.9L412.4 699.1L411.8 698.3L411.3 697.5L411.0 696.7L411.0 695.9L411.2 695.1L412.6 694.3L414.4 693.5L415.9 692.7L417.0 691.9L417 691.93Z" fill="#ee6b6e"/>
<path d="M417 714.33L422.8 714.3L422.7 713.6L422.4 712.8L421.9 712.0L421.4 711.2L420.8 710.5L420.2 709.7L419.8 708.9L419.5 708.1L419.4 707.4L419.4 706.6L419.6 705.8L419.8 705.0L420.1 704.3L420.4 703.5L420.5 702.7L420.6 701.9L420.6 701.2L420.4 700.4L420.2 699.6L419.8 698.8L419.4 698.1L419.0 697.3L418.6 696.5L418.2 695.7L417.7 695.0L417.3 694.2L417.1 693.4L417.0 692.7L417 692.65Z" fill="#5c9ff5"/>
<path d="M432.79 714.33L440.3 714.3L439.9 713.1L438.8 711.8L437.4 710.6L436.0 709.3L434.8 708.1L433.9 706.8L433.4 705.6L433.2 704.3L433.2 703.1L433.3 701.8L433.5 700.6L433.9 699.3L434.4 698.1L434.9 696.8L435.7 695.6L436.5 694.3L437.3 693.0L438.2 691.8L439.1 690.5L439.8 689.3L440.3 688.0L440.6 686.8L440.6 685.5L440.3 684.3L439.8 683.0L438.2 681.8L435.2 680.5L432.8 679.3L432.79 679.28Z" fill="#ee6b6e"/>
<path d="M448.58 714.33L441.1 714.3L441.4 713.1L442.4 712.0L443.7 710.8L445.1 709.6L446.2 708.4L447.1 707.2L447.6 706.0L447.9 704.8L447.9 703.6L447.7 702.5L447.4 701.3L446.9 700.1L446.4 698.9L445.7 697.7L444.9 696.5L444.1 695.3L443.3 694.1L442.5 693.0L441.8 691.8L441.2 690.6L440.9 689.4L440.8 688.2L440.9 687.0L441.3 685.8L441.9 684.7L443.7 683.5L446.5 682.3L448.6 681.1L448.58 681.09Z" fill="#ee6b6e"/>
<path d="M464.37 714.33L471.3 714.3L470.9 713.1L469.9 711.8L468.6 710.5L467.3 709.3L466.1 708.0L465.3 706.7L464.8 705.5L464.6 704.2L464.5 702.9L464.4 701.7L464.4 700.4L464.4 699.2L464.4 697.9L464.5 696.6L464.6 695.4L464.8 694.1L465.0 692.8L465.4 691.6L465.8 690.3L466.4 689.0L466.9 687.8L467.4 686.5L467.8 685.2L468.0 684.0L467.9 682.7L467.2 681.5L465.6 680.2L464.4 678.9L464.37 678.92Z" fill="#ee6b6e"/>
<path d="M480.16 714.33L482.5 714.3L482.4 713.7L482.3 713.0L482.2 712.4L482.0 711.7L481.8 711.1L481.6 710.5L481.3 709.8L481.1 709.2L481.0 708.5L480.8 707.9L480.8 707.2L480.8 706.6L480.8 705.9L480.9 705.3L481.1 704.6L481.3 704.0L481.6 703.4L481.8 702.7L482.1 702.1L482.3 701.4L482.5 700.8L482.6 700.1L482.5 699.5L482.2 698.8L481.6 698.2L481.0 697.6L480.5 696.9L480.2 696.3L480.16 696.26Z" fill="#44ee22"/>
<path d="M480.16 714.33L484.2 714.3L484.2 713.1L483.9 712.0L483.5 710.8L483.1 709.6L482.8 708.4L482.6 707.2L482.6 706.0L482.8 704.8L483.0 703.6L483.2 702.5L483.5 701.3L483.7 700.1L484.0 698.9L484.1 697.7L484.3 696.5L484.3 695.3L484.4 694.1L484.3 693.0L484.2 691.8L484.1 690.6L483.9 689.4L483.6 688.2L483.3 687.0L483.0 685.8L482.7 684.7L482.0 683.5L481.0 682.3L480.2 681.1L480.16 681.09Z" fill="#5c9ff5"/>
<path d="M259.1 751.95L262.6 752.0L262.4 750.9L262.1 749.9L261.6 748.9L261.1 747.8L260.6 746.8L260.3 745.8L260.0 744.7L260.0 743.7L260.1 742.7L260.4 741.6L260.8 740.6L261.3 739.6L262.0 738.5L262.7 737.5L263.4 736.5L264.0 735.4L264.6 734.4L264.9 733.4L265.1 732.3L265.0 731.3L264.8 730.3L264.3 729.2L263.7 728.2L263.0 727.2L262.3 726.1L260.9 725.1L259.8 724.1L259.1 723.1L259.1 723.05Z" fill="#44ee22"/>
<path d="M259.1 751.95L252.2 752.0L252.5 750.8L253.3 749.6L254.5 748.5L255.7 747.3L256.8 746.1L257.6 745.0L258.1 743.8L258.3 742.7L258.2 741.5L257.8 740.3L257.3 739.2L256.6 738.0L255.8 736.9L254.8 735.7L253.9 734.5L253.0 733.4L252.4 732.2L252.0 731.0L251.9 729.9L252.2 728.7L252.8 727.6L253.6 726.4L254.5 725.2L255.4 724.1L256.3 722.9L257.5 721.8L258.5 720.6L259.1 719.4L259.1 719.44Z" fill="#ee6b6e"/>
<path d="M259.1 751.95L266.0 752.0L265.7 750.9L265.0 749.8L263.9 748.7L262.8 747.6L261.7 746.5L261.0 745.4L260.5 744.3L260.3 743.2L260.5 742.1L260.8 741.0L261.4 739.9L262.1 738.8L262.9 737.7L263.7 736.6L264.5 735.5L265.1 734.4L265.5 733.3L265.7 732.2L265.6 731.1L265.2 730.0L264.6 728.9L263.9 727.8L263.1 726.7L262.3 725.6L261.5 724.5L260.4 723.4L259.6 722.3L259.1 721.2L259.1 721.24Z" fill="#5c9ff5"/>
<path d="M274.89 751.95L277.2 752.0L277.1 750.9L276.9 749.8L276.5 748.7L276.2 747.6L275.9 746.5L275.7 745.4L275.7 744.3L275.9 743.2L276.2 742.1L276.7 741.0L277.4 739.9L278.1 738.8L279.0 737.7L279.9 736.6L280.7 735.5L281.4 734.4L281.9 733.3L282.1 732.2L282.0 731.1L281.6 730.0L280.9 728.9L280.1 727.8L279.2 726.7L278.3 725.6L277.5 724.5L276.3 723.4L275.4 722.3L274.9 721.2L274.89 721.24Z" fill="#44ee22"/>
<path d="M274.89 751.95L271.4 752.0L271.5 750.9L271.8 749.8L272.3 748.8L272.8 747.7L273.1 746.7L273.3 745.6L273.3 744.5L273.1 743.5L272.6 742.4L271.9 741.4L271.1 740.3L270.2 739.3L269.3 738.2L268.4 737.1L267.7 736.1L267.3 735.0L267.1 734.0L267.2 732.9L267.6 731.8L268.3 730.8L269.1 729.7L270.1 728.7L271.0 727.6L271.9 726.6L272.6 725.5L273.7 724.4L274.5 723.4L274.9 722.3L274.89 722.33Z" fill="#5c9ff5"/>
<path d="M274.89 751.95L278.3 752.0L278.2 750.8L277.8 749.7L277.2 748.5L276.6 747.4L276.1 746.3L275.7 745.1L275.5 744.0L275.5 742.9L275.7 741.7L276.0 740.6L276.5 739.5L277.2 738.3L278.0 737.2L278.9 736.1L279.8 734.9L280.7 733.8L281.4 732.6L281.9 731.5L282.1 730.4L282.0 729.2L281.5 728.1L280.8 727.0L280.0 725.8L279.0 724.7L278.1 723.6L276.8 722.4L275.6 721.3L274.9 720.2L274.89 720.16Z" fill="#ee6b6e"/>
<path d="M290.68 751.95L294.1 752.0L294.0 750.8L293.6 749.7L293.0 748.5L292.4 747.4L291.9 746.3L291.5 745.1L291.4 744.0L291.4 742.9L291.5 741.7L291.9 740.6L292.4 739.5L293.2 738.3L294.0 737.2L295.0 736.1L296.0 734.9L297.0 733.8L297.7 732.6L298.3 731.5L298.5 730.4L298.3 729.2L297.9 728.1L297.1 727.0L296.2 725.8L295.2 724.7L294.2 723.6L292.7 722.4L291.4 721.3L290.7 720.2L290.68 720.16Z" fill="#44ee22"/>
<path d="M290.68 751.95L287.2 752.0L287.4 750.8L287.8 749.7L288.3 748.5L288.9 747.4L289.4 746.3L289.8 745.1L290.0 744.0L290.0 742.9L289.8 741.7L289.5 740.6L288.9 739.5L288.2 738.3L287.3 737.2L286.4 736.1L285.4 734.9L284.4 733.8L283.6 732.6L283.1 731.5L282.9 730.4L283.0 729.2L283.5 728.1L284.3 727.0L285.2 725.8L286.2 724.7L287.2 723.6L288.6 722.4L289.9 721.3L290.7 720.2L290.68 720.16Z" fill="#ee6b6e"/>
<path d="M290.68 751.95L294.1 752.0L294.0 750.9L293.7 749.8L293.2 748.8L292.6 747.7L292.1 746.7L291.7 745.6L291.5 744.5L291.5 743.5L291.6 742.4L291.9 741.4L292.4 740.3L293.0 739.3L293.8 738.2L294.6 737.1L295.5 736.1L296.2 735.0L296.8 734.0L297.2 732.9L297.3 731.8L297.1 730.8L296.6 729.7L295.9 728.7L295.1 727.6L294.3 726.6L293.4 725.5L292.2 724.4L291.2 723.4L290.7 722.3L290.68 722.33Z" fill="#5c9ff5"/>
<path d="M306.47 751.95L300.7 752.0L300.9 750.9L301.5 749.9L302.3 748.9L303.2 747.8L304.1 746.8L304.7 745.8L305.2 744.7L305.4 743.7L305.4 742.7L305.2 741.6L304.7 740.6L304.1 739.6L303.3 738.5L302.5 737.5L301.6 736.5L300.7 735.4L300.0 734.4L299.5 733.4L299.3 732.3L299.4 731.3L299.7 730.3L300.3 729.2L301.1 728.2L302.0 727.2L302.9 726.1L304.5 725.1L305.8 724.1L306.5 723.1L306.47 723.05Z" fill="#44ee22"/>
<path d="M306.47 751.95L299.6 752.0L299.9 750.8L300.8 749.6L302.0 748.4L303.2 747.2L304.3 746.0L305.1 744.8L305.6 743.6L305.8 742.5L305.7 741.3L305.4 740.1L304.9 738.9L304.2 737.7L303.4 736.5L302.5 735.3L301.5 734.1L300.6 733.0L299.9 731.8L299.4 730.6L299.3 729.4L299.5 728.2L300.0 727.0L300.8 725.8L301.8 724.6L302.7 723.5L303.7 722.3L304.8 721.1L305.9 719.9L306.5 718.7L306.47 718.72Z" fill="#5c9ff5"/>
<path d="M306.47 751.95L313.4 752.0L313.0 750.7L312.0 749.4L310.7 748.2L309.4 746.9L308.3 745.6L307.5 744.4L307.1 743.1L307.0 741.8L307.1 740.6L307.4 739.3L307.9 738.0L308.6 736.8L309.5 735.5L310.5 734.2L311.5 733.0L312.4 731.7L313.2 730.5L313.6 729.2L313.6 727.9L313.3 726.7L312.6 725.4L311.6 724.1L310.6 722.9L309.6 721.6L308.7 720.3L307.8 719.1L306.9 717.8L306.5 716.5L306.47 716.55Z" fill="#ee6b6e"/>
<path d="M322.26 751.95L315.4 752.0L315.6 751.0L316.2 750.0L317.0 749.0L318.0 748.1L319.0 747.1L319.8 746.1L320.4 745.2L320.8 744.2L320.8 743.2L320.6 742.3L320.1 741.3L319.4 740.3L318.6 739.4L317.8 738.4L316.9 737.4L316.1 736.5L315.5 735.5L315.1 734.5L315.1 733.6L315.3 732.6L315.9 731.6L316.6 730.7L317.5 729.7L318.4 728.7L319.2 727.8L320.8 726.8L321.7 725.8L322.3 724.9L322.26 724.86Z" fill="#ee6b6e"/>
<path d="M322.26 751.95L325.7 752.0L325.6 751.1L325.4 750.3L325.1 749.4L324.6 748.6L324.2 747.8L323.8 746.9L323.4 746.1L323.2 745.2L323.1 744.4L323.1 743.6L323.2 742.7L323.4 741.9L323.8 741.0L324.2 740.2L324.6 739.4L325.1 738.5L325.4 737.7L325.7 736.9L325.8 736.0L325.8 735.2L325.7 734.3L325.4 733.5L325.0 732.7L324.5 731.8L323.8 731.0L323.1 730.1L322.5 729.3L322.3 728.5L322.26 728.47Z" fill="#5c9ff5"/>
<path d="M338.05 751.95L330.7 752.0L330.6 751.2L330.6 750.5L330.8 749.8L331.0 749.1L331.2 748.4L331.4 747.7L331.5 747.0L331.5 746.3L331.5 745.6L331.5 744.9L331.5 744.1L331.5 743.4L331.7 742.7L332.0 742.0L332.4 741.3L332.9 740.6L333.5 739.9L334.2 739.2L334.8 738.5L335.4 737.8L336.0 737.0L336.5 736.3L336.9 735.6L337.3 734.9L337.6 734.2L337.9 733.5L338.0 732.8L338.1 732.1L338.05 732.08Z" fill="#44ee22"/>
<path d="M338.05 751.95L334.6 752.0L334.8 750.8L335.2 749.6L335.8 748.5L336.4 747.3L337.0 746.1L337.4 745.0L337.7 743.8L337.8 742.7L337.9 741.5L337.9 740.3L337.8 739.2L337.7 738.0L337.4 736.9L337.0 735.7L336.3 734.5L335.5 733.4L334.5 732.2L333.4 731.0L332.4 729.9L331.5 728.7L331.0 727.6L330.9 726.4L331.2 725.2L331.9 724.1L332.8 722.9L334.7 721.8L336.8 720.6L338.1 719.4L338.05 719.44Z" fill="#5c9ff5"/>
<path d="M338.05 751.95L341.5 752.0L341.3 750.8L340.9 749.6L340.3 748.4L339.7 747.2L339.1 746.0L338.7 744.8L338.4 743.6L338.3 742.5L338.3 741.3L338.3 740.1L338.5 738.9L338.9 737.7L339.4 736.5L340.1 735.3L340.9 734.1L341.8 733.0L342.7 731.8L343.5 730.6L343.9 729.4L344.0 728.2L343.8 727.0L343.2 725.8L342.3 724.6L341.4 723.5L340.5 722.3L339.4 721.1L338.5 719.9L338.1 718.7L338.05 718.72Z" fill="#ee6b6e"/>
<path d="M353.84 751.95L346.9 752.0L347.2 750.9L347.9 749.8L348.9 748.8L350.0 747.7L351.1 746.7L351.9 745.6L352.5 744.5L352.7 743.5L352.7 742.4L352.4 741.4L351.9 740.3L351.3 739.3L350.4 738.2L349.5 737.1L348.6 736.1L347.8 735.0L347.1 734.0L346.7 732.9L346.6 731.8L346.9 730.8L347.4 729.7L348.1 728.7L349.0 727.6L349.9 726.6L350.8 725.5L352.2 724.4L353.3 723.4L353.8 722.3L353.84 722.33Z" fill="#ee6b6e"/>
<path d="M353.84 751.95L359.6 752.0L359.4 751.0L359.0 750.0L358.3 749.0L357.5 748.1L356.7 747.1L356.1 746.1L355.8 745.2L355.7 744.2L355.9 743.2L356.3 742.3L356.9 741.3L357.5 740.3L358.3 739.4L358.9 738.4L359.4 737.4L359.8 736.5L359.8 735.5L359.7 734.5L359.2 733.6L358.6 732.6L357.9 731.6L357.2 730.7L356.4 729.7L355.8 728.7L355.2 727.8L354.5 726.8L354.1 725.8L353.8 724.9L353.84 724.86Z" fill="#5c9ff5"/>
<path d="M369.63 751.95L366.1 752.0L366.2 751.2L366.3 750.4L366.5 749.6L366.8 748.9L367.0 748.1L367.2 747.3L367.2 746.5L367.1 745.8L366.8 745.0L366.4 744.2L365.8 743.4L365.2 742.7L364.7 741.9L364.2 741.1L363.8 740.3L363.6 739.6L363.7 738.8L363.9 738.0L364.4 737.2L365.0 736.5L365.7 735.7L366.4 734.9L367.0 734.1L367.7 733.4L368.5 732.6L369.1 731.8L369.4 731.0L369.6 730.3L369.63 730.28Z" fill="#44ee22"/>
<path d="M369.63 751.95L369.6 752.0L369.6 751.1L369.6 750.3L369.6 749.4L369.6 748.6L369.6 747.8L369.6 746.9L369.6 746.1L369.6 745.2L369.6 744.4L369.6 743.6L369.6 742.7L369.6 741.9L369.5 741.0L369.4 740.2L369.2 739.4L368.9 738.5L368.5 737.7L367.9 736.9L367.3 736.0L366.5 735.2L365.8 734.3L365.2 733.5L364.9 732.7L364.8 731.8L365.7 731.0L367.3 730.1L368.6 729.3L369.6 728.5L369.63 728.47Z" fill="#5c9ff5"/>
<path d="M369.63 751.95L371.9 752.0L371.9 751.0L371.7 750.0L371.4 749.0L371.0 748.1L370.7 747.1L370.5 746.1L370.3 745.2L370.2 744.2L370.3 743.2L370.5 742.3L370.8 741.3L371.2 740.3L371.7 739.4L372.3 738.4L373.0 737.4L373.7 736.5L374.4 735.5L374.9 734.5L375.4 733.6L375.6 732.6L375.6 731.6L375.4 730.7L375.0 729.7L374.4 728.7L373.7 727.8L371.9 726.8L370.5 725.8L369.6 724.9L369.63 724.86Z" fill="#ee6b6e"/>
<path d="M385.42 751.95L390.2 752.0L390.2 751.2L390.0 750.4L389.8 749.6L389.5 748.9L389.2 748.1L389.0 747.3L388.9 746.5L389.0 745.8L389.1 745.0L389.5 744.2L389.9 743.4L390.3 742.7L390.7 741.9L391.1 741.1L391.3 740.3L391.4 739.6L391.4 738.8L391.2 738.0L390.9 737.2L390.4 736.5L389.9 735.7L389.3 734.9L388.7 734.1L388.1 733.4L387.1 732.6L386.3 731.8L385.8 731.0L385.4 730.3L385.42 730.28Z" fill="#44ee22"/>
<path d="M385.42 751.95L378.5 752.0L378.8 750.8L379.6 749.7L380.8 748.5L382.0 747.4L383.0 746.3L383.9 745.1L384.4 744.0L384.6 742.9L384.5 741.7L384.2 740.6L383.8 739.5L383.1 738.3L382.3 737.2L381.4 736.1L380.5 734.9L379.6 733.8L378.9 732.6L378.4 731.5L378.2 730.4L378.4 729.2L378.8 728.1L379.5 727.0L380.3 725.8L381.3 724.7L382.2 723.6L383.5 722.4L384.7 721.3L385.4 720.2L385.42 720.16Z" fill="#ee6b6e"/>
<path d="M385.42 751.95L391.2 752.0L390.9 750.8L390.2 749.6L389.2 748.4L388.1 747.2L387.2 746.0L386.5 744.8L386.1 743.6L385.9 742.5L385.9 741.3L386.1 740.1L386.5 738.9L387.0 737.7L387.7 736.5L388.5 735.3L389.5 734.1L390.5 733.0L391.4 731.8L392.1 730.6L392.5 729.4L392.6 728.2L392.4 727.0L391.8 725.8L391.0 724.6L390.0 723.5L389.1 722.3L387.7 721.1L386.2 719.9L385.4 718.7L385.42 718.72Z" fill="#5c9ff5"/>
<path d="M401.21 751.95L395.3 752.0L395.4 750.9L395.8 749.9L396.3 748.9L396.9 747.8L397.3 746.8L397.5 745.8L397.4 744.7L397.0 743.7L396.4 742.7L395.7 741.6L395.1 740.6L394.5 739.6L394.1 738.5L394.0 737.5L394.1 736.5L394.5 735.4L395.1 734.4L395.9 733.4L396.7 732.3L397.6 731.3L398.4 730.3L399.1 729.2L399.6 728.2L400.1 727.2L400.5 726.1L400.9 725.1L401.1 724.1L401.2 723.1L401.21 723.05Z" fill="#44ee22"/>
<path d="M401.21 751.95L395.5 752.0L395.6 750.9L396.2 749.9L397.0 748.9L397.9 747.9L398.7 746.9L399.4 745.9L399.9 744.9L400.1 743.9L400.2 742.9L400.0 741.9L399.6 740.9L399.1 739.9L398.3 738.9L397.5 737.9L396.7 736.9L395.8 735.8L395.0 734.8L394.4 733.8L394.1 732.8L394.0 731.8L394.2 730.8L394.7 729.8L395.4 728.8L396.2 727.8L397.1 726.8L399.0 725.8L400.4 724.8L401.2 723.8L401.21 723.77Z" fill="#5c9ff5"/>
<path d="M401.21 751.95L404.7 752.0L404.5 750.9L404.2 749.9L403.7 748.9L403.2 747.8L402.6 746.8L402.2 745.8L401.9 744.7L401.7 743.7L401.7 742.7L401.8 741.6L402.1 740.6L402.5 739.6L403.0 738.5L403.7 737.5L404.5 736.5L405.4 735.4L406.3 734.4L407.1 733.4L407.8 732.3L408.3 731.3L408.4 730.3L408.3 729.2L407.8 728.2L407.1 727.2L406.3 726.1L404.2 725.1L402.4 724.1L401.2 723.1L401.21 723.05Z" fill="#ee6b6e"/>
<path d="M417 751.95L411.2 752.0L411.5 750.9L412.1 749.8L412.9 748.8L413.9 747.7L414.7 746.7L415.5 745.6L415.9 744.5L416.2 743.5L416.2 742.4L416.1 741.4L415.7 740.3L415.2 739.3L414.5 738.2L413.7 737.1L412.9 736.1L412.1 735.0L411.5 734.0L411.1 732.9L411.0 731.8L411.2 730.8L411.7 729.7L412.4 728.7L413.2 727.6L414.0 726.6L414.8 725.5L415.9 724.4L416.6 723.4L417.0 722.3L417 722.33Z" fill="#ee6b6e"/>
<path d="M417 751.95L424.3 752.0L424.3 751.0L424.1 750.1L423.7 749.2L423.2 748.3L422.8 747.4L422.6 746.5L422.5 745.6L422.6 744.7L422.8 743.8L423.0 742.9L423.1 742.0L423.1 741.1L423.0 740.2L422.6 739.3L422.1 738.4L421.4 737.5L420.7 736.6L420.0 735.7L419.4 734.8L418.8 733.9L418.3 733.0L417.9 732.1L417.6 731.2L417.4 730.3L417.2 729.4L417.1 728.5L417.0 727.6L417.0 726.7L417 726.66Z" fill="#5c9ff5"/>
<path d="M432.79 751.95L440.3 752.0L439.9 750.8L439.0 749.6L437.7 748.5L436.4 747.3L435.2 746.1L434.3 745.0L433.7 743.8L433.4 742.7L433.3 741.5L433.4 740.3L433.6 739.2L433.9 738.0L434.3 736.9L434.9 735.7L435.5 734.5L436.2 733.4L437.0 732.2L437.8 731.0L438.6 729.9L439.4 728.7L440.0 727.6L440.4 726.4L440.6 725.2L440.5 724.1L440.3 722.9L438.4 721.8L435.3 720.6L432.8 719.4L432.79 719.44Z" fill="#ee6b6e"/>
<path d="M448.58 751.95L441.1 752.0L441.4 750.8L442.3 749.7L443.5 748.5L444.8 747.4L446.0 746.3L446.9 745.1L447.5 744.0L447.7 742.9L447.8 741.7L447.6 740.6L447.3 739.5L446.9 738.3L446.4 737.2L445.7 736.1L445.0 734.9L444.2 733.8L443.4 732.6L442.6 731.5L441.9 730.4L441.3 729.2L441.0 728.1L440.8 727.0L440.8 725.8L441.1 724.7L441.6 723.6L443.6 722.4L446.4 721.3L448.6 720.2L448.58 720.16Z" fill="#ee6b6e"/>
<path d="M464.37 751.95L471.8 752.0L471.5 750.8L470.5 749.6L469.2 748.4L467.8 747.2L466.6 746.0L465.7 744.8L465.1 743.6L464.8 742.5L464.6 741.3L464.6 740.1L464.7 738.9L464.8 737.7L465.1 736.5L465.4 735.3L465.8 734.1L466.4 733.0L467.1 731.8L467.8 730.6L468.6 729.4L469.4 728.2L470.1 727.0L470.6 725.8L470.9 724.6L471.0 723.5L470.8 722.3L469.3 721.1L466.6 719.9L464.4 718.7L464.37 718.72Z" fill="#ee6b6e"/>
<path d="M480.16 751.95L487.2 752.0L487.0 750.8L486.2 749.6L485.2 748.5L484.1 747.3L483.1 746.1L482.5 745.0L482.2 743.8L482.1 742.7L482.3 741.5L482.5 740.3L482.9 739.2L483.3 738.0L483.7 736.9L484.0 735.7L484.4 734.5L484.6 733.4L484.8 732.2L484.9 731.0L485.0 729.9L484.9 728.7L484.7 727.6L484.5 726.4L484.2 725.2L483.8 724.1L483.4 722.9L482.4 721.8L481.1 720.6L480.2 719.4L480.16 719.44Z" fill="#5c9ff5"/>
<path d="M259.1 789.58L261.4 789.6L261.3 788.5L261.1 787.5L260.8 786.5L260.4 785.4L260.0 784.4L259.7 783.4L259.5 782.4L259.4 781.3L259.3 780.3L259.4 779.3L259.5 778.2L259.7 777.2L260.1 776.2L260.5 775.1L261.1 774.1L261.6 773.1L262.1 772.0L262.5 771.0L262.7 770.0L262.6 768.9L262.3 767.9L261.9 766.9L261.3 765.8L260.8 764.8L260.3 763.8L259.7 762.7L259.3 761.7L259.1 760.7L259.1 760.68Z" fill="#44ee22"/>
<path d="M259.1 789.58L252.2 789.6L252.4 788.5L253.1 787.5L254.1 786.5L255.2 785.4L256.3 784.4L257.2 783.4L257.8 782.4L258.3 781.3L258.5 780.3L258.5 779.3L258.5 778.2L258.3 777.2L258.0 776.2L257.8 775.1L257.5 774.1L257.2 773.1L256.9 772.0L256.8 771.0L256.7 770.0L256.7 768.9L256.9 767.9L257.1 766.9L257.3 765.8L257.6 764.8L257.9 763.8L258.5 762.7L258.9 761.7L259.1 760.7L259.1 760.68Z" fill="#ee6b6e"/>
<path d="M259.1 789.58L266.0 789.6L266.0 789.2L265.9 788.8L265.7 788.4L265.5 788.0L265.2 787.6L264.8 787.3L264.5 786.9L264.1 786.5L263.7 786.1L263.2 785.7L262.8 785.3L262.4 784.9L262.0 784.5L261.6 784.2L261.3 783.8L261.0 783.4L260.7 783.0L260.4 782.6L260.2 782.2L260.0 781.8L259.8 781.4L259.6 781.1L259.4 780.7L259.3 780.3L259.2 779.9L259.2 779.5L259.1 779.1L259.1 778.7L259.1 778.74Z" fill="#5c9ff5"/>
<path d="M274.89 789.58L271.4 789.6L271.5 788.9L271.6 788.3L271.8 787.6L272.0 787.0L272.2 786.3L272.4 785.7L272.6 785.1L272.7 784.4L272.7 783.8L272.5 783.1L272.4 782.5L272.1 781.8L271.8 781.2L271.6 780.5L271.4 779.9L271.2 779.3L271.2 778.6L271.4 778.0L271.6 777.3L271.9 776.7L272.3 776.0L272.7 775.4L273.1 774.7L273.7 774.1L274.2 773.4L274.6 772.8L274.8 772.2L274.9 771.5L274.89 771.51Z" fill="#44ee22"/>
<path d="M274.89 789.58L271.4 789.6L271.5 788.6L271.9 787.6L272.3 786.6L272.8 785.5L273.3 784.5L273.7 783.5L273.9 782.5L273.9 781.5L273.8 780.5L273.5 779.5L273.0 778.5L272.4 777.5L271.7 776.5L270.9 775.5L270.1 774.5L269.3 773.5L268.6 772.5L268.1 771.5L267.8 770.5L267.7 769.4L267.9 768.4L268.3 767.4L268.9 766.4L269.7 765.4L270.5 764.4L272.4 763.4L273.9 762.4L274.9 761.4L274.89 761.4Z" fill="#5c9ff5"/>
<path d="M274.89 789.58L278.3 789.6L278.2 788.5L277.8 787.4L277.3 786.3L276.7 785.2L276.2 784.1L275.8 783.0L275.6 781.9L275.5 780.8L275.7 779.7L276.0 778.6L276.4 777.5L277.1 776.4L277.8 775.3L278.7 774.2L279.7 773.1L280.7 772.0L281.5 770.9L282.2 769.8L282.6 768.7L282.7 767.6L282.4 766.5L281.9 765.4L281.1 764.4L280.2 763.3L279.2 762.2L277.5 761.1L275.9 760.0L274.9 758.9L274.89 758.87Z" fill="#ee6b6e"/>
<path d="M290.68 789.58L293.0 789.6L292.9 788.4L292.6 787.3L292.2 786.1L291.8 784.9L291.5 783.8L291.2 782.6L291.1 781.4L291.2 780.3L291.4 779.1L291.7 778.0L292.2 776.8L292.9 775.6L293.7 774.5L294.7 773.3L295.7 772.2L296.7 771.0L297.6 769.8L298.2 768.7L298.5 767.5L298.4 766.4L298.0 765.2L297.2 764.0L296.3 762.9L295.3 761.7L294.3 760.5L292.8 759.4L291.4 758.2L290.7 757.1L290.68 757.06Z" fill="#44ee22"/>
<path d="M290.68 789.58L287.2 789.6L287.4 788.4L287.8 787.3L288.3 786.2L288.9 785.0L289.4 783.9L289.8 782.8L290.0 781.6L290.0 780.5L289.8 779.4L289.5 778.2L288.9 777.1L288.2 776.0L287.3 774.8L286.4 773.7L285.4 772.5L284.4 771.4L283.6 770.3L283.1 769.1L282.9 768.0L283.0 766.9L283.5 765.7L284.3 764.6L285.2 763.5L286.2 762.3L287.2 761.2L288.6 760.1L289.9 758.9L290.7 757.8L290.68 757.79Z" fill="#ee6b6e"/>
<path d="M290.68 789.58L294.1 789.6L294.0 788.5L293.6 787.4L293.1 786.3L292.6 785.2L292.1 784.2L291.7 783.1L291.5 782.0L291.5 780.9L291.7 779.8L292.1 778.7L292.7 777.7L293.5 776.6L294.4 775.5L295.3 774.4L296.2 773.3L297.0 772.2L297.6 771.2L297.9 770.1L297.8 769.0L297.4 767.9L296.8 766.8L295.9 765.7L295.0 764.6L294.0 763.6L293.2 762.5L292.0 761.4L291.1 760.3L290.7 759.2L290.68 759.23Z" fill="#5c9ff5"/>
<path d="M306.47 789.58L299.6 789.6L299.9 788.3L300.9 787.0L302.2 785.8L303.6 784.5L304.7 783.3L305.5 782.0L306.0 780.7L306.2 779.5L306.3 778.2L306.2 776.9L306.0 775.7L305.7 774.4L305.3 773.1L304.8 771.9L304.2 770.6L303.7 769.3L303.2 768.1L302.9 766.8L302.9 765.6L303.1 764.3L303.6 763.0L304.1 761.8L304.7 760.5L305.3 759.2L305.7 758.0L306.1 756.7L306.4 755.4L306.5 754.2L306.47 754.17Z" fill="#5c9ff5"/>
<path d="M306.47 789.58L313.4 789.6L313.0 788.3L312.1 787.1L310.8 785.9L309.5 784.7L308.4 783.4L307.6 782.2L307.0 781.0L306.8 779.8L306.6 778.5L306.6 777.3L306.7 776.1L306.9 774.9L307.1 773.6L307.4 772.4L307.8 771.2L308.4 770.0L308.9 768.7L309.4 767.5L309.8 766.3L310.0 765.1L310.1 763.8L309.9 762.6L309.5 761.4L309.0 760.2L308.5 758.9L307.7 757.7L306.9 756.5L306.5 755.3L306.47 755.26Z" fill="#ee6b6e"/>
<path d="M322.26 789.58L328.0 789.6L327.9 788.7L327.5 787.9L326.9 787.1L326.2 786.2L325.4 785.4L324.7 784.5L324.1 783.7L323.7 782.9L323.4 782.0L323.2 781.2L323.3 780.4L323.4 779.5L323.7 778.7L324.0 777.8L324.3 777.0L324.6 776.2L324.7 775.3L324.6 774.5L324.4 773.6L324.1 772.8L323.8 772.0L323.4 771.1L323.1 770.3L322.8 769.4L322.6 768.6L322.4 767.8L322.3 766.9L322.3 766.1L322.26 766.09Z" fill="#44ee22"/>
<path d="M322.26 789.58L315.4 789.6L315.5 788.7L316.0 787.9L316.7 787.1L317.5 786.2L318.3 785.4L319.2 784.5L319.8 783.7L320.3 782.9L320.6 782.0L320.8 781.2L320.7 780.4L320.6 779.5L320.3 778.7L320.0 777.8L319.6 777.0L319.3 776.2L319.0 775.3L318.8 774.5L318.7 773.6L318.7 772.8L318.8 772.0L319.0 771.1L319.3 770.3L319.7 769.4L320.4 768.6L321.2 767.8L321.9 766.9L322.3 766.1L322.26 766.09Z" fill="#ee6b6e"/>
<path d="M322.26 789.58L325.7 789.6L325.6 788.8L325.5 788.0L325.2 787.3L324.8 786.5L324.4 785.7L324.0 784.9L323.7 784.2L323.5 783.4L323.3 782.6L323.3 781.8L323.3 781.1L323.5 780.3L323.7 779.5L323.9 778.7L324.2 778.0L324.4 777.2L324.5 776.4L324.6 775.6L324.7 774.9L324.6 774.1L324.4 773.3L324.2 772.5L323.9 771.8L323.7 771.0L323.2 770.2L322.7 769.4L322.4 768.7L322.3 767.9L322.26 767.9Z" fill="#5c9ff5"/>
<path d="M338.05 789.58L331.0 789.6L331.0 788.8L331.3 788.0L331.7 787.3L332.2 786.5L332.6 785.7L332.9 784.9L333.1 784.2L333.1 783.4L333.0 782.6L332.7 781.8L332.4 781.1L332.1 780.3L331.9 779.5L331.9 778.7L332.1 778.0L332.4 777.2L333.0 776.4L333.6 775.6L334.3 774.9L335.0 774.1L335.7 773.3L336.3 772.5L336.7 771.8L337.1 771.0L337.6 770.2L337.8 769.4L338.0 768.7L338.1 767.9L338.05 767.9Z" fill="#44ee22"/>
<path d="M338.05 789.58L333.4 789.6L333.6 788.4L334.2 787.3L334.9 786.2L335.8 785.0L336.5 783.9L337.1 782.8L337.5 781.6L337.7 780.5L337.7 779.4L337.7 778.2L337.5 777.1L337.2 776.0L336.8 774.8L336.2 773.7L335.5 772.5L334.7 771.4L333.8 770.3L333.1 769.1L332.5 768.0L332.1 766.9L332.1 765.7L332.3 764.6L332.8 763.5L333.5 762.3L334.4 761.2L335.8 760.1L337.2 758.9L338.1 757.8L338.05 757.79Z" fill="#5c9ff5"/>
<path d="M338.05 789.58L341.5 789.6L341.3 788.4L340.9 787.2L340.3 786.0L339.6 784.8L339.1 783.6L338.6 782.4L338.4 781.2L338.2 780.0L338.2 778.8L338.2 777.6L338.3 776.4L338.5 775.2L338.8 774.0L339.2 772.8L339.7 771.6L340.3 770.4L341.0 769.2L341.7 768.0L342.3 766.8L342.7 765.6L342.8 764.4L342.7 763.2L342.4 762.0L341.8 760.8L341.1 759.6L340.0 758.4L338.8 757.2L338.1 756.0L338.05 755.98Z" fill="#ee6b6e"/>
<path d="M353.84 789.58L346.9 789.6L347.1 788.7L347.6 787.8L348.3 786.9L349.2 786.0L350.1 785.1L350.9 784.2L351.4 783.3L351.7 782.4L351.8 781.4L351.7 780.5L351.5 779.6L351.1 778.7L350.6 777.8L350.1 776.9L349.7 776.0L349.3 775.1L349.1 774.2L349.0 773.3L349.1 772.4L349.3 771.5L349.7 770.6L350.1 769.7L350.7 768.8L351.2 767.9L351.8 767.0L352.8 766.1L353.4 765.2L353.8 764.3L353.84 764.29Z" fill="#ee6b6e"/>
<path d="M353.84 789.58L359.6 789.6L359.5 788.7L359.1 787.9L358.5 787.1L357.8 786.2L357.1 785.4L356.5 784.5L356.0 783.7L355.6 782.9L355.5 782.0L355.5 781.2L355.7 780.4L356.0 779.5L356.4 778.7L356.7 777.8L357.1 777.0L357.3 776.2L357.4 775.3L357.4 774.5L357.2 773.6L356.9 772.8L356.5 772.0L356.0 771.1L355.6 770.3L355.1 769.4L354.7 768.6L354.2 767.8L354.0 766.9L353.8 766.1L353.84 766.09Z" fill="#5c9ff5"/>
<path d="M369.63 789.58L366.0 789.6L366.0 788.9L366.0 788.3L366.1 787.6L366.2 787.0L366.2 786.3L366.3 785.7L366.2 785.1L366.1 784.4L365.8 783.8L365.5 783.1L365.1 782.5L364.7 781.8L364.3 781.2L364.0 780.5L363.7 779.9L363.6 779.3L363.6 778.6L363.7 778.0L364.0 777.3L364.4 776.7L364.9 776.0L365.4 775.4L366.0 774.7L366.9 774.1L368.0 773.4L368.7 772.8L369.3 772.2L369.6 771.5L369.63 771.51Z" fill="#44ee22"/>
<path d="M369.63 789.58L369.6 789.6L369.6 788.7L369.6 787.9L369.6 787.0L369.6 786.2L369.6 785.3L369.6 784.5L369.6 783.6L369.6 782.8L369.6 781.9L369.6 781.1L369.6 780.2L369.5 779.4L369.5 778.5L369.3 777.7L369.0 776.8L368.6 776.0L368.0 775.1L367.3 774.2L366.4 773.4L365.5 772.5L364.6 771.7L364.0 770.8L363.7 770.0L363.7 769.1L364.8 768.3L366.8 767.4L368.5 766.6L369.6 765.7L369.63 765.73Z" fill="#5c9ff5"/>
<path d="M369.63 789.58L371.9 789.6L371.9 788.6L371.7 787.7L371.4 786.8L371.1 785.9L370.8 784.9L370.5 784.0L370.3 783.1L370.2 782.1L370.3 781.2L370.4 780.3L370.6 779.4L371.0 778.4L371.4 777.5L372.0 776.6L372.6 775.6L373.3 774.7L373.9 773.8L374.5 772.9L375.1 771.9L375.4 771.0L375.6 770.1L375.6 769.1L375.4 768.2L375.0 767.3L374.2 766.4L372.3 765.4L370.7 764.5L369.6 763.6L369.63 763.57Z" fill="#ee6b6e"/>
<path d="M385.42 789.58L390.2 789.6L390.2 788.8L390.0 788.0L389.8 787.3L389.5 786.5L389.2 785.7L389.0 784.9L388.9 784.2L389.0 783.4L389.1 782.6L389.5 781.8L389.9 781.1L390.3 780.3L390.7 779.5L391.1 778.7L391.3 778.0L391.4 777.2L391.4 776.4L391.2 775.6L390.9 774.9L390.4 774.1L389.9 773.3L389.3 772.5L388.7 771.8L388.1 771.0L387.1 770.2L386.3 769.4L385.8 768.7L385.4 767.9L385.42 767.9Z" fill="#44ee22"/>
<path d="M385.42 789.58L378.5 789.6L378.8 788.5L379.5 787.5L380.5 786.4L381.6 785.3L382.6 784.3L383.4 783.2L383.9 782.2L384.1 781.1L384.0 780.1L383.7 779.0L383.2 777.9L382.5 776.9L381.7 775.8L380.8 774.8L380.0 773.7L379.2 772.6L378.7 771.6L378.3 770.5L378.2 769.5L378.4 768.4L378.9 767.4L379.6 766.3L380.4 765.2L381.2 764.2L382.1 763.1L383.5 762.1L384.7 761.0L385.4 760.0L385.42 759.95Z" fill="#ee6b6e"/>
<path d="M385.42 789.58L391.2 789.6L391.0 788.5L390.4 787.5L389.7 786.5L388.8 785.4L388.0 784.4L387.4 783.4L387.0 782.4L386.9 781.3L387.0 780.3L387.2 779.3L387.7 778.2L388.2 777.2L388.7 776.2L389.2 775.1L389.7 774.1L390.0 773.1L390.2 772.0L390.2 771.0L390.0 770.0L389.7 768.9L389.2 767.9L388.7 766.9L388.1 765.8L387.6 764.8L387.1 763.8L386.3 762.7L385.7 761.7L385.4 760.7L385.42 760.68Z" fill="#5c9ff5"/>
<path d="M401.21 789.58L395.1 789.6L395.0 788.8L395.1 788.0L395.3 787.3L395.6 786.5L395.8 785.7L396.0 784.9L396.1 784.2L396.0 783.4L395.9 782.6L395.7 781.8L395.4 781.1L395.2 780.3L395.1 779.5L395.1 778.7L395.2 778.0L395.5 777.2L395.9 776.4L396.4 775.6L397.0 774.9L397.6 774.1L398.2 773.3L398.7 772.5L399.3 771.8L399.7 771.0L400.3 770.2L400.8 769.4L401.1 768.7L401.2 767.9L401.21 767.9Z" fill="#44ee22"/>
<path d="M401.21 789.58L395.5 789.6L395.7 788.5L396.3 787.4L397.2 786.3L398.1 785.2L399.0 784.1L399.6 783.0L400.0 781.9L400.1 780.8L400.0 779.7L399.6 778.6L399.1 777.5L398.5 776.4L397.8 775.3L397.0 774.2L396.3 773.1L395.8 772.0L395.4 770.9L395.2 769.8L395.3 768.7L395.6 767.6L396.2 766.5L396.9 765.4L397.6 764.4L398.3 763.3L399.0 762.2L400.0 761.1L400.8 760.0L401.2 758.9L401.21 758.87Z" fill="#5c9ff5"/>
<path d="M401.21 789.58L404.7 789.6L404.6 788.6L404.3 787.6L403.8 786.7L403.3 785.7L402.8 784.7L402.4 783.8L402.1 782.8L402.0 781.8L402.0 780.9L402.1 779.9L402.4 778.9L402.8 778.0L403.3 777.0L403.9 776.0L404.6 775.1L405.3 774.1L406.0 773.1L406.5 772.2L406.9 771.2L407.2 770.2L407.2 769.3L407.0 768.3L406.6 767.3L406.0 766.4L405.3 765.4L403.5 764.4L402.1 763.4L401.2 762.5L401.21 762.48Z" fill="#ee6b6e"/>
<path d="M417 789.58L419.3 789.6L419.3 788.9L419.2 788.3L419.1 787.6L418.9 787.0L418.8 786.3L418.6 785.7L418.5 785.1L418.5 784.4L418.5 783.8L418.6 783.1L418.7 782.5L418.9 781.8L419.0 781.2L419.2 780.5L419.4 779.9L419.4 779.3L419.4 778.6L419.4 778.0L419.2 777.3L419.0 776.7L418.7 776.0L418.4 775.4L418.2 774.7L417.8 774.1L417.5 773.4L417.2 772.8L417.1 772.2L417.0 771.5L417 771.51Z" fill="#44ee22"/>
<path d="M417 789.58L410.1 789.6L410.3 788.7L410.8 787.8L411.6 786.9L412.6 786.0L413.5 785.1L414.4 784.2L415.2 783.3L415.7 782.4L416.1 781.4L416.3 780.5L416.3 779.6L416.1 778.7L415.9 777.8L415.5 776.9L415.1 776.0L414.6 775.1L414.0 774.2L413.4 773.3L412.9 772.4L412.5 771.5L412.3 770.6L412.2 769.7L412.3 768.8L412.5 767.9L413.2 767.0L414.8 766.1L416.1 765.2L417.0 764.3L417 764.29Z" fill="#ee6b6e"/>
<path d="M417 789.58L424.1 789.6L424.1 788.9L424.0 788.3L423.6 787.6L423.2 787.0L422.8 786.3L422.3 785.7L421.9 785.1L421.5 784.4L421.2 783.8L421.0 783.1L420.8 782.5L420.8 781.8L420.8 781.2L420.8 780.5L420.8 779.9L420.8 779.3L420.7 778.6L420.6 778.0L420.5 777.3L420.3 776.7L420.1 776.0L419.8 775.4L419.5 774.7L419.0 774.1L418.3 773.4L417.7 772.8L417.3 772.2L417.0 771.5L417 771.51Z" fill="#5c9ff5"/>
<path d="M432.79 789.58L440.3 789.6L439.9 788.4L438.9 787.2L437.6 786.0L436.2 784.8L435.0 783.6L434.1 782.4L433.6 781.2L433.3 780.0L433.2 778.8L433.2 777.6L433.4 776.4L433.7 775.2L434.1 774.0L434.6 772.8L435.2 771.6L435.9 770.4L436.7 769.2L437.6 768.0L438.4 766.8L439.2 765.6L439.8 764.4L440.3 763.2L440.6 762.0L440.6 760.8L440.3 759.6L438.6 758.4L435.4 757.2L432.8 756.0L432.79 755.98Z" fill="#ee6b6e"/>
<path d="M448.58 789.58L441.1 789.6L441.4 788.4L442.3 787.3L443.5 786.2L444.8 785.0L445.9 783.9L446.8 782.8L447.4 781.6L447.6 780.5L447.6 779.4L447.4 778.2L447.0 777.1L446.6 776.0L446.0 774.8L445.3 773.7L444.5 772.5L443.7 771.4L442.9 770.3L442.2 769.1L441.5 768.0L441.1 766.9L440.8 765.7L440.8 764.6L441.0 763.5L441.4 762.3L442.0 761.2L443.9 760.1L446.6 758.9L448.6 757.8L448.58 757.79Z" fill="#ee6b6e"/>
<path d="M464.37 789.58L471.3 789.6L470.9 788.4L470.0 787.2L468.8 786.0L467.5 784.8L466.4 783.6L465.6 782.4L465.0 781.2L464.7 780.0L464.6 778.8L464.6 777.6L464.7 776.4L464.8 775.2L465.1 774.0L465.4 772.8L465.9 771.6L466.5 770.4L467.2 769.2L468.0 768.0L468.8 766.8L469.5 765.6L470.2 764.4L470.7 763.2L470.9 762.0L470.9 760.8L470.7 759.6L469.2 758.4L466.5 757.2L464.4 756.0L464.37 755.98Z" fill="#ee6b6e"/>
<path d="M480.16 789.58L483.6 789.6L483.6 788.8L483.4 788.0L483.1 787.3L482.8 786.5L482.4 785.7L482.1 784.9L481.9 784.2L481.7 783.4L481.7 782.6L481.7 781.8L481.9 781.1L482.1 780.3L482.5 779.5L482.9 778.7L483.3 778.0L483.7 777.2L484.1 776.4L484.5 775.6L484.7 774.9L484.9 774.1L485.0 773.3L484.9 772.5L484.7 771.8L484.5 771.0L483.3 770.2L482.1 769.4L481.0 768.7L480.2 767.9L480.16 767.9Z" fill="#44ee22"/>
<path d="M480.16 789.58L483.7 789.6L483.6 788.5L483.2 787.4L482.8 786.3L482.3 785.2L481.9 784.1L481.6 783.0L481.5 781.9L481.6 780.8L481.8 779.7L482.2 778.6L482.6 777.5L483.1 776.4L483.5 775.3L484.0 774.2L484.4 773.1L484.7 772.0L484.9 770.9L485.0 769.8L484.9 768.7L484.7 767.6L484.4 766.5L484.1 765.4L483.6 764.4L483.2 763.3L482.7 762.2L481.7 761.1L480.8 760.0L480.2 758.9L480.16 758.87Z" fill="#5c9ff5"/>
<path d="M259.1 827.2L257.4 827.2L257.5 826.0L257.7 824.8L258.0 823.6L258.3 822.4L258.6 821.2L258.8 820.0L258.9 818.8L259.0 817.6L258.9 816.4L258.8 815.2L258.7 814.0L258.3 812.8L257.8 811.6L257.1 810.4L256.2 809.2L255.1 808.0L253.9 806.8L252.7 805.6L251.7 804.4L251.0 803.2L250.7 802.0L250.9 800.8L251.6 799.6L252.5 798.4L253.7 797.2L255.6 796.0L257.8 794.8L259.1 793.6L259.1 793.6Z" fill="#ee6b6e"/>
<path d="M259.1 827.2L260.8 827.2L260.7 826.0L260.5 824.9L260.2 823.7L259.9 822.6L259.7 821.4L259.5 820.2L259.4 819.1L259.4 817.9L259.6 816.7L259.8 815.6L260.2 814.4L260.8 813.3L261.5 812.1L262.4 810.9L263.5 809.8L264.6 808.6L265.7 807.5L266.6 806.3L267.2 805.1L267.5 804.0L267.4 802.8L266.9 801.7L266.1 800.5L265.1 799.3L264.0 798.2L262.1 797.0L260.2 795.8L259.1 794.7L259.1 794.69Z" fill="#5c9ff5"/>
<path d="M274.89 827.2L273.7 827.2L273.8 826.1L273.9 824.9L274.1 823.8L274.3 822.7L274.5 821.5L274.7 820.4L274.8 819.3L274.8 818.1L274.9 817.0L274.9 815.8L274.9 814.7L274.9 813.6L274.8 812.4L274.8 811.3L274.6 810.2L274.3 809.0L273.7 807.9L272.8 806.8L271.7 805.6L270.5 804.5L269.4 803.4L268.9 802.2L269.1 801.1L269.9 800.0L271.0 798.8L272.8 797.7L274.3 796.5L274.9 795.4L274.89 795.41Z" fill="#44ee22"/>
<path d="M274.89 827.2L273.7 827.2L273.8 826.0L273.9 824.9L274.1 823.7L274.3 822.6L274.5 821.4L274.7 820.2L274.7 819.1L274.7 817.9L274.7 816.7L274.6 815.6L274.3 814.4L274.0 813.3L273.4 812.1L272.7 810.9L271.8 809.8L270.8 808.6L269.7 807.5L268.6 806.3L267.8 805.1L267.2 804.0L267.1 802.8L267.4 801.7L268.0 800.5L268.9 799.3L270.0 798.2L271.8 797.0L273.8 795.8L274.9 794.7L274.89 794.69Z" fill="#5c9ff5"/>
<path d="M274.89 827.2L276.0 827.2L276.0 826.0L275.8 824.8L275.6 823.6L275.4 822.5L275.2 821.3L275.1 820.1L275.0 818.9L275.0 817.7L275.0 816.5L275.1 815.3L275.3 814.1L275.6 813.0L276.0 811.8L276.6 810.6L277.4 809.4L278.4 808.2L279.5 807.0L280.6 805.8L281.6 804.6L282.3 803.5L282.7 802.3L282.6 801.1L282.1 799.9L281.2 798.7L280.2 797.5L278.3 796.3L276.2 795.2L274.9 794.0L274.89 793.97Z" fill="#ee6b6e"/>
<path d="M290.68 827.2L291.8 827.2L291.8 826.1L291.6 824.9L291.5 823.8L291.3 822.7L291.1 821.5L290.9 820.4L290.8 819.3L290.8 818.1L290.8 817.0L291.0 815.8L291.3 814.7L291.8 813.6L292.5 812.4L293.6 811.3L294.9 810.2L296.4 809.0L297.7 807.9L298.7 806.8L299.1 805.6L298.8 804.5L297.9 803.4L296.6 802.2L295.2 801.1L293.8 800.0L292.7 798.8L291.6 797.7L290.9 796.5L290.7 795.4L290.68 795.41Z" fill="#44ee22"/>
<path d="M290.68 827.2L289.5 827.2L289.6 826.0L289.7 824.8L289.9 823.6L290.1 822.5L290.3 821.3L290.5 820.1L290.5 818.9L290.6 817.7L290.6 816.5L290.5 815.3L290.3 814.1L290.0 813.0L289.6 811.8L289.0 810.6L288.2 809.4L287.2 808.2L286.1 807.0L285.0 805.8L284.0 804.6L283.2 803.5L282.9 802.3L283.0 801.1L283.5 799.9L284.3 798.7L285.4 797.5L287.3 796.3L289.4 795.2L290.7 794.0L290.68 793.97Z" fill="#ee6b6e"/>
<path d="M290.68 827.2L291.8 827.2L291.8 826.0L291.6 824.9L291.4 823.7L291.2 822.6L291.1 821.4L290.9 820.2L290.8 819.1L290.8 817.9L290.8 816.7L291.0 815.6L291.2 814.4L291.6 813.3L292.1 812.1L292.8 810.9L293.8 809.8L294.8 808.6L295.9 807.5L296.9 806.3L297.6 805.1L297.9 804.0L297.7 802.8L297.2 801.7L296.3 800.5L295.3 799.3L294.2 798.2L292.7 797.0L291.4 795.8L290.7 794.7L290.68 794.69Z" fill="#5c9ff5"/>
<path d="M306.47 827.2L301.1 827.2L300.7 826.0L300.4 824.9L300.3 823.7L300.2 822.6L300.0 821.4L299.7 820.2L299.5 819.1L299.3 817.9L299.2 816.7L299.3 815.6L299.6 814.4L300.0 813.3L300.6 812.1L301.3 810.9L302.1 809.8L302.8 808.6L303.5 807.5L304.2 806.3L304.7 805.1L305.2 804.0L305.6 802.8L305.9 801.7L306.1 800.5L306.2 799.3L306.3 798.2L306.4 797.0L306.4 795.8L306.5 794.7L306.47 794.69Z" fill="#44ee22"/>
<path d="M306.47 827.2L304.2 827.2L304.3 826.0L304.5 824.9L304.9 823.7L305.3 822.6L305.7 821.4L305.9 820.2L306.0 819.1L306.0 817.9L305.8 816.7L305.5 815.6L304.9 814.4L304.3 813.3L303.4 812.1L302.5 810.9L301.4 809.8L300.4 808.6L299.6 807.5L299.0 806.3L298.7 805.1L298.8 804.0L299.2 802.8L299.9 801.7L300.9 800.5L301.9 799.3L302.9 798.2L304.3 797.0L305.7 795.8L306.5 794.7L306.47 794.69Z" fill="#5c9ff5"/>
<path d="M306.47 827.2L307.6 827.2L307.6 826.0L307.4 824.8L307.2 823.6L307.0 822.5L306.8 821.3L306.7 820.1L306.6 818.9L306.6 817.7L306.6 816.5L306.7 815.3L306.9 814.1L307.2 813.0L307.7 811.8L308.3 810.6L309.2 809.4L310.2 808.2L311.4 807.0L312.6 805.8L313.7 804.6L314.5 803.5L314.8 802.3L314.8 801.1L314.2 799.9L313.3 798.7L312.2 797.5L310.2 796.3L307.8 795.2L306.5 794.0L306.47 793.97Z" fill="#ee6b6e"/>
<path d="M322.26 827.2L323.5 827.2L323.5 826.2L323.5 825.1L323.5 824.1L323.4 823.1L323.5 822.0L323.5 821.0L323.7 820.0L324.0 818.9L324.3 817.9L324.7 816.9L325.2 815.8L325.6 814.8L326.0 813.8L326.4 812.8L326.7 811.7L326.9 810.7L327.0 809.7L327.0 808.6L326.9 807.6L326.7 806.6L326.4 805.5L326.0 804.5L325.6 803.5L325.1 802.4L324.7 801.4L323.7 800.4L322.8 799.3L322.3 798.3L322.26 798.3Z" fill="#44ee22"/>
<path d="M322.26 827.2L321.1 827.2L321.1 826.1L321.3 824.9L321.4 823.8L321.6 822.7L321.7 821.5L321.8 820.4L321.7 819.3L321.5 818.1L321.2 817.0L320.8 815.8L320.3 814.7L319.6 813.6L318.8 812.4L317.9 811.3L317.0 810.2L316.2 809.0L315.4 807.9L314.9 806.8L314.5 805.6L314.5 804.5L314.7 803.4L315.2 802.2L315.8 801.1L316.6 800.0L317.5 798.8L319.2 797.7L321.1 796.5L322.3 795.4L322.26 795.41Z" fill="#ee6b6e"/>
<path d="M322.26 827.2L323.4 827.2L323.4 826.1L323.2 825.0L323.1 823.9L322.9 822.8L322.7 821.7L322.5 820.6L322.4 819.5L322.3 818.4L322.3 817.3L322.3 816.2L322.3 815.1L322.4 814.0L322.6 812.9L322.9 811.8L323.3 810.8L323.8 809.7L324.6 808.6L325.3 807.5L326.1 806.4L326.7 805.3L327.0 804.2L327.0 803.1L326.6 802.0L326.0 800.9L325.2 799.8L323.9 798.7L322.8 797.6L322.3 796.5L322.26 796.49Z" fill="#5c9ff5"/>
<path d="M338.05 827.2L331.1 827.2L330.9 826.4L330.8 825.7L330.8 824.9L331.0 824.1L331.1 823.3L331.2 822.6L331.3 821.8L331.4 821.0L331.4 820.2L331.5 819.5L331.6 818.7L331.8 817.9L332.0 817.1L332.3 816.4L332.7 815.6L333.2 814.8L333.8 814.0L334.3 813.3L334.9 812.5L335.5 811.7L336.0 810.9L336.4 810.2L336.8 809.4L337.1 808.6L337.5 807.8L337.8 807.1L338.0 806.3L338.1 805.5L338.05 805.53Z" fill="#44ee22"/>
<path d="M338.05 827.2L336.9 827.2L336.9 826.1L337.1 825.0L337.3 823.9L337.4 822.8L337.6 821.7L337.8 820.6L337.9 819.5L337.9 818.4L337.9 817.3L337.8 816.2L337.6 815.1L337.3 814.0L337.0 812.9L336.5 811.8L335.8 810.8L335.1 809.7L334.3 808.6L333.5 807.5L332.8 806.4L332.3 805.3L332.1 804.2L332.1 803.1L332.4 802.0L332.9 800.9L333.7 799.8L335.3 798.7L337.0 797.6L338.1 796.5L338.05 796.49Z" fill="#5c9ff5"/>
<path d="M338.05 827.2L339.2 827.2L339.1 826.0L339.0 824.9L338.8 823.7L338.6 822.6L338.4 821.4L338.3 820.2L338.2 819.1L338.1 817.9L338.1 816.7L338.2 815.6L338.3 814.4L338.5 813.3L338.8 812.1L339.2 810.9L339.8 809.8L340.5 808.6L341.3 807.5L342.1 806.3L342.9 805.1L343.6 804.0L344.0 802.8L344.0 801.7L343.8 800.5L343.3 799.3L342.6 798.2L341.0 797.0L339.2 795.8L338.1 794.7L338.05 794.69Z" fill="#ee6b6e"/>
<path d="M353.84 827.2L352.7 827.2L352.7 826.1L352.8 824.9L353.0 823.8L353.2 822.7L353.3 821.5L353.3 820.4L353.3 819.3L353.1 818.1L352.8 817.0L352.4 815.8L351.9 814.7L351.2 813.6L350.4 812.4L349.5 811.3L348.6 810.2L347.8 809.0L347.0 807.9L346.4 806.8L346.1 805.6L346.1 804.5L346.3 803.4L346.7 802.2L347.4 801.1L348.2 800.0L349.1 798.8L350.8 797.7L352.7 796.5L353.8 795.4L353.84 795.41Z" fill="#ee6b6e"/>
<path d="M353.84 827.2L355.1 827.2L355.1 826.1L355.0 825.0L355.0 823.9L355.0 822.8L355.0 821.7L355.2 820.6L355.4 819.5L355.9 818.4L356.4 817.3L357.0 816.2L357.8 815.1L358.5 814.0L359.3 812.9L360.0 811.8L360.7 810.8L361.2 809.7L361.5 808.6L361.6 807.5L361.6 806.4L361.3 805.3L360.8 804.2L360.2 803.1L359.5 802.0L358.7 800.9L357.9 799.8L356.4 798.7L354.8 797.6L353.8 796.5L353.84 796.49Z" fill="#5c9ff5"/>
<path d="M369.63 827.2L368.5 827.2L368.5 826.2L368.6 825.1L368.8 824.1L369.0 823.1L369.2 822.0L369.3 821.0L369.4 820.0L369.5 818.9L369.5 817.9L369.5 816.9L369.4 815.8L369.3 814.8L369.1 813.8L368.7 812.8L368.2 811.7L367.6 810.7L366.8 809.7L366.1 808.6L365.4 807.6L365.0 806.6L364.8 805.5L365.0 804.5L365.4 803.5L366.1 802.4L366.8 801.4L368.1 800.4L369.1 799.3L369.6 798.3L369.63 798.3Z" fill="#44ee22"/>
<path d="M369.63 827.2L368.5 827.2L368.5 826.2L368.6 825.1L368.8 824.1L369.0 823.1L369.2 822.0L369.3 821.0L369.4 820.0L369.5 818.9L369.6 817.9L369.6 816.9L369.6 815.8L369.6 814.8L369.6 813.8L369.5 812.8L369.4 811.7L369.1 810.7L368.7 809.7L368.0 808.6L367.2 807.6L366.3 806.6L365.5 805.5L365.0 804.5L364.8 803.5L365.2 802.4L365.9 801.4L367.6 800.4L368.9 799.3L369.6 798.3L369.63 798.3Z" fill="#5c9ff5"/>
<path d="M369.63 827.2L370.8 827.2L370.7 826.1L370.6 824.9L370.4 823.8L370.2 822.7L370.0 821.5L369.9 820.4L369.8 819.3L369.7 818.1L369.7 817.0L369.7 815.8L369.7 814.7L369.7 813.6L369.7 812.4L369.9 811.3L370.1 810.2L370.5 809.0L371.1 807.9L371.9 806.8L372.9 805.6L373.9 804.5L374.8 803.4L375.4 802.2L375.6 801.1L375.3 800.0L374.7 798.8L372.8 797.7L370.8 796.5L369.6 795.4L369.63 795.41Z" fill="#ee6b6e"/>
<path d="M385.42 827.2L384.3 827.2L384.3 826.0L384.5 824.9L384.7 823.7L384.9 822.6L385.1 821.4L385.2 820.2L385.3 819.1L385.3 817.9L385.3 816.7L385.2 815.6L385.1 814.4L384.9 813.3L384.5 812.1L384.0 810.9L383.4 809.8L382.5 808.6L381.5 807.5L380.5 806.3L379.6 805.1L378.8 804.0L378.3 802.8L378.2 801.7L378.5 800.5L379.1 799.3L380.0 798.2L381.9 797.0L384.0 795.8L385.4 794.7L385.42 794.69Z" fill="#ee6b6e"/>
<path d="M385.42 827.2L387.7 827.2L387.6 826.1L387.4 824.9L387.0 823.8L386.6 822.7L386.2 821.5L385.9 820.4L385.8 819.3L385.8 818.1L385.8 817.0L386.1 815.8L386.4 814.7L387.0 813.6L387.6 812.4L388.5 811.3L389.4 810.2L390.4 809.0L391.4 807.9L392.1 806.8L392.5 805.6L392.6 804.5L392.3 803.4L391.7 802.2L390.9 801.1L389.9 800.0L388.9 798.8L387.5 797.7L386.1 796.5L385.4 795.4L385.42 795.41Z" fill="#5c9ff5"/>
<path d="M401.21 827.2L398.9 827.2L399.0 826.1L399.2 825.0L399.6 823.9L399.9 822.8L400.2 821.7L400.4 820.6L400.4 819.5L400.2 818.4L399.9 817.3L399.4 816.2L398.7 815.1L398.0 814.0L397.1 812.9L396.2 811.8L395.4 810.8L394.7 809.7L394.2 808.6L394.0 807.5L394.1 806.4L394.5 805.3L395.2 804.2L396.0 803.1L396.9 802.0L397.8 800.9L398.6 799.8L399.8 798.7L400.7 797.6L401.2 796.5L401.21 796.49Z" fill="#44ee22"/>
<path d="M401.21 827.2L400.1 827.2L400.1 826.1L400.2 825.0L400.4 823.9L400.6 822.8L400.8 821.7L400.9 820.6L401.0 819.5L401.0 818.4L400.9 817.3L400.7 816.2L400.5 815.1L400.1 814.0L399.6 812.9L399.0 811.8L398.2 810.8L397.4 809.7L396.5 808.6L395.6 807.5L394.8 806.4L394.3 805.3L394.0 804.2L394.1 803.1L394.4 802.0L395.0 800.9L395.7 799.8L397.7 798.7L399.8 797.6L401.2 796.5L401.21 796.49Z" fill="#5c9ff5"/>
<path d="M401.21 827.2L402.4 827.2L402.3 826.0L402.2 824.8L402.0 823.6L401.7 822.5L401.6 821.3L401.4 820.1L401.3 818.9L401.3 817.7L401.3 816.5L401.3 815.3L401.5 814.1L401.7 813.0L402.0 811.8L402.4 810.6L403.1 809.4L403.9 808.2L404.8 807.0L405.9 805.8L406.9 804.6L407.7 803.5L408.2 802.3L408.4 801.1L408.2 799.9L407.6 798.7L406.7 797.5L404.9 796.3L402.6 795.2L401.2 794.0L401.21 793.97Z" fill="#ee6b6e"/>
<path d="M417 827.2L415.8 827.2L415.9 826.1L416.0 825.0L416.2 823.9L416.4 822.8L416.6 821.7L416.7 820.6L416.8 819.5L416.9 818.4L417.0 817.3L417.0 816.2L417.0 815.1L417.0 814.0L416.9 812.9L416.8 811.8L416.7 810.8L416.4 809.7L415.9 808.6L415.3 807.5L414.4 806.4L413.4 805.3L412.5 804.2L411.6 803.1L411.1 802.0L411.0 800.9L411.4 799.8L413.3 798.7L415.5 797.6L417.0 796.5L417 796.49Z" fill="#ee6b6e"/>
<path d="M417 827.2L423.0 827.2L423.1 826.2L423.0 825.1L422.6 824.1L422.3 823.1L422.0 822.0L421.8 821.0L421.8 820.0L421.9 818.9L422.1 817.9L422.4 816.9L422.8 815.8L423.1 814.8L423.5 813.8L423.7 812.8L424.0 811.7L424.1 810.7L424.2 809.7L424.2 808.6L424.1 807.6L424.0 806.6L423.7 805.5L423.5 804.5L423.1 803.5L422.7 802.4L422.3 801.4L420.5 800.4L418.6 799.3L417.0 798.3L417 798.3Z" fill="#5c9ff5"/>
<path d="M432.79 827.2L434.5 827.2L434.4 826.0L434.2 824.8L433.9 823.6L433.6 822.4L433.3 821.2L433.1 820.0L433.0 818.8L432.9 817.6L432.9 816.4L432.9 815.2L432.9 814.0L433.1 812.8L433.3 811.6L433.6 810.4L434.0 809.2L434.7 808.0L435.5 806.8L436.4 805.6L437.5 804.4L438.5 803.2L439.5 802.0L440.2 800.8L440.5 799.6L440.5 798.4L440.1 797.2L438.3 796.0L435.2 794.8L432.8 793.6L432.79 793.6Z" fill="#ee6b6e"/>
<path d="M448.58 827.2L446.9 827.2L446.9 826.0L447.2 824.8L447.5 823.6L447.8 822.5L448.0 821.3L448.2 820.1L448.4 818.9L448.4 817.7L448.4 816.5L448.3 815.3L448.1 814.1L447.8 813.0L447.4 811.8L446.9 810.6L446.2 809.4L445.5 808.2L444.6 807.0L443.7 805.8L442.7 804.6L441.9 803.5L441.3 802.3L440.9 801.1L440.8 799.9L441.0 798.7L441.5 797.5L443.3 796.3L446.3 795.2L448.6 794.0L448.58 793.97Z" fill="#ee6b6e"/>
<path d="M464.37 827.2L466.1 827.2L466.0 826.0L465.8 824.8L465.5 823.6L465.2 822.4L464.9 821.2L464.7 820.0L464.5 818.8L464.5 817.6L464.4 816.4L464.4 815.2L464.4 814.0L464.5 812.8L464.6 811.6L464.8 810.4L465.1 809.2L465.6 808.0L466.1 806.8L466.9 805.6L467.7 804.4L468.6 803.2L469.4 802.0L470.0 800.8L470.3 799.6L470.3 798.4L470.0 797.2L468.5 796.0L466.1 794.8L464.4 793.6L464.37 793.6Z" fill="#ee6b6e"/>
<path d="M480.16 827.2L482.5 827.2L482.4 826.4L482.3 825.7L482.1 824.9L481.8 824.1L481.5 823.3L481.3 822.6L481.0 821.8L480.8 821.0L480.7 820.2L480.6 819.5L480.6 818.7L480.7 817.9L480.9 817.1L481.2 816.4L481.5 815.6L482.0 814.8L482.5 814.0L483.0 813.3L483.4 812.5L483.7 811.7L483.8 810.9L483.7 810.2L483.4 809.4L483.0 808.6L482.0 807.8L481.1 807.1L480.5 806.3L480.2 805.5L480.16 805.53Z" fill="#44ee22"/>
<path d="M480.16 827.2L482.5 827.2L482.4 826.1L482.1 825.0L481.8 823.9L481.4 822.8L481.1 821.7L480.9 820.6L480.9 819.5L480.9 818.4L481.1 817.3L481.4 816.2L481.8 815.1L482.3 814.0L482.9 812.9L483.6 811.8L484.3 810.8L484.9 809.7L485.4 808.6L485.9 807.5L486.1 806.4L486.2 805.3L486.0 804.2L485.7 803.1L485.2 802.0L484.6 800.9L483.9 799.8L482.5 798.7L481.1 797.6L480.2 796.5L480.16 796.49Z" fill="#5c9ff5"/>
<rect x="250.3" y="677.5" width="239.2" height="150.5" fill="none" stroke="#888" stroke-width="0.7"/>
<line x1="250.3" y1="715.12" x2="489.5" y2="715.12" stroke="#888" stroke-width="0.7"/>
<line x1="250.3" y1="752.75" x2="489.5" y2="752.75" stroke="#888" stroke-width="0.7"/>
<line x1="250.3" y1="790.38" x2="489.5" y2="790.38" stroke="#888" stroke-width="0.7"/>
<text x="492.6" y="696.31" font-size="7.4" text-anchor="middle" transform="rotate(90 492.6 696.31)" font-weight="bold">HLA−A</text>
<text x="492.6" y="733.94" font-size="7.4" text-anchor="middle" transform="rotate(90 492.6 733.94)" font-weight="bold">HLA−B</text>
<text x="492.6" y="771.56" font-size="7.4" text-anchor="middle" transform="rotate(90 492.6 771.56)" font-weight="bold">HLA−C</text>
<text x="492.6" y="809.19" font-size="7.4" text-anchor="middle" transform="rotate(90 492.6 809.19)" font-weight="bold">B2M</text>
<line x1="259.1" y1="828" x2="259.1" y2="830" stroke="#444" stroke-width="0.6"/>
<text x="259.1" y="835.3" font-size="7.4" text-anchor="middle">0</text>
<line x1="274.89" y1="828" x2="274.89" y2="830" stroke="#444" stroke-width="0.6"/>
<text x="274.89" y="835.3" font-size="7.4" text-anchor="middle">1</text>
<line x1="290.68" y1="828" x2="290.68" y2="830" stroke="#444" stroke-width="0.6"/>
<text x="290.68" y="835.3" font-size="7.4" text-anchor="middle">2</text>
<line x1="306.47" y1="828" x2="306.47" y2="830" stroke="#444" stroke-width="0.6"/>
<text x="306.47" y="835.3" font-size="7.4" text-anchor="middle">3</text>
<line x1="322.26" y1="828" x2="322.26" y2="830" stroke="#444" stroke-width="0.6"/>
<text x="322.26" y="835.3" font-size="7.4" text-anchor="middle">4</text>
<line x1="338.05" y1="828" x2="338.05" y2="830" stroke="#444" stroke-width="0.6"/>
<text x="338.05" y="835.3" font-size="7.4" text-anchor="middle">5</text>
<line x1="353.84" y1="828" x2="353.84" y2="830" stroke="#444" stroke-width="0.6"/>
<text x="353.84" y="835.3" font-size="7.4" text-anchor="middle">6</text>
<line x1="369.63" y1="828" x2="369.63" y2="830" stroke="#444" stroke-width="0.6"/>
<text x="369.63" y="835.3" font-size="7.4" text-anchor="middle">7</text>
<line x1="385.42" y1="828" x2="385.42" y2="830" stroke="#444" stroke-width="0.6"/>
<text x="385.42" y="835.3" font-size="7.4" text-anchor="middle">8</text>
<line x1="401.21" y1="828" x2="401.21" y2="830" stroke="#444" stroke-width="0.6"/>
<text x="401.21" y="835.3" font-size="7.4" text-anchor="middle">9</text>
<line x1="417" y1="828" x2="417" y2="830" stroke="#444" stroke-width="0.6"/>
<text x="417" y="835.3" font-size="7.4" text-anchor="middle">10</text>
<line x1="432.79" y1="828" x2="432.79" y2="830" stroke="#444" stroke-width="0.6"/>
<text x="432.79" y="835.3" font-size="7.4" text-anchor="middle">11</text>
<line x1="448.58" y1="828" x2="448.58" y2="830" stroke="#444" stroke-width="0.6"/>
<text x="448.58" y="835.3" font-size="7.4" text-anchor="middle">12</text>
<line x1="464.37" y1="828" x2="464.37" y2="830" stroke="#444" stroke-width="0.6"/>
<text x="464.37" y="835.3" font-size="7.4" text-anchor="middle">13</text>
<line x1="480.16" y1="828" x2="480.16" y2="830" stroke="#444" stroke-width="0.6"/>
<text x="480.16" y="835.3" font-size="7.4" text-anchor="middle">14</text>
<text x="368" y="849.2" font-size="10.8" text-anchor="middle">Cluster number</text>
<rect x="328.1" y="673.4" width="16.1" height="163.9" fill="none" stroke="#000" stroke-width="2.8" stroke-dasharray="7 3.6"/>
<rect x="424.7" y="676.2" width="48.6" height="164" fill="none" stroke="#000" stroke-width="2.8" stroke-dasharray="7 3.6"/>
<text x="513.4" y="661.8" font-size="16">j</text>
<path d="M619.96 696.3A65 65 0 0 0 522.99 734.89" fill="none" stroke="#c8e6a2" stroke-width="3.4"/>
<path d="M650.09 741.99A65 65 0 0 0 627.23 701.52" fill="none" stroke="#6a76b2" stroke-width="3.4"/>
<path d="M634.48 794.67A65 65 0 0 0 650.79 752.51" fill="none" stroke="#d7a3d3" stroke-width="3.4"/>
<path d="M521.17 744.69A65 65 0 0 0 628.27 800.8" fill="none" stroke="#c2e4ef" stroke-width="3.4"/>
<path d="M619.2 751.6A33.4 33.4 0 0 0 611.39 730.13" fill="none" stroke="#3d6080" stroke-width="0.7"/>
<path d="M611.39 730.13A33.4 33.4 0 0 0 597.22 720.21" fill="none" stroke="#b8e8b8" stroke-width="0.7"/>
<path d="M597.22 720.21A33.4 33.4 0 0 0 560.21 730.13" fill="none" stroke="#3d6080" stroke-width="0.7"/>
<path d="M560.21 730.13A33.4 33.4 0 0 0 552.91 757.4" fill="none" stroke="#b8e8b8" stroke-width="0.7"/>
<path d="M552.91 757.4A33.4 33.4 0 0 0 564.33 777.19" fill="none" stroke="#3d6080" stroke-width="0.7"/>
<path d="M564.33 777.19A33.4 33.4 0 0 0 602.5 780.53" fill="none" stroke="#b8e8b8" stroke-width="0.7"/>
<path d="M602.5 780.53A33.4 33.4 0 0 0 619.2 751.6" fill="none" stroke="#3d6080" stroke-width="0.7"/>
<path d="M602.49 778.31Q585.48 748.78 594.69 727.17" fill="none" stroke="#000" stroke-width="2.34"/>
<path d="M598.36 780.49Q589.43 750.13 591.87 726.32" fill="none" stroke="#000" stroke-width="2.42"/>
<path d="M593.95 782.03Q584.94 754.84 588.97 725.79" fill="none" stroke="#000" stroke-width="2.46"/>
<path d="M589.37 782.9Q588.32 750.73 586.03 725.6" fill="none" stroke="#000" stroke-width="2.56"/>
<path d="M584.7 783.08Q588.28 752.26 583.08 725.74" fill="none" stroke="#000" stroke-width="2.42"/>
<path d="M580.06 782.57Q586.01 750.25 580.17 726.22" fill="none" stroke="#000" stroke-width="2.55"/>
<path d="M575.54 781.38Q587.04 753.13 577.34 727.02" fill="none" stroke="#000" stroke-width="1.92"/>
<path d="M571.25 779.54Q586.67 754.3 574.61 728.13" fill="none" stroke="#000" stroke-width="2.23"/>
<path d="M583.05 782.98Q579.61 755.63 560.05 747.98" fill="none" stroke="#000" stroke-width="2.37"/>
<path d="M578.18 782.16Q577.92 755.06 559.84 752.96" fill="none" stroke="#000" stroke-width="2.19"/>
<path d="M573.49 780.6Q576.62 756.58 560.57 757.89" fill="none" stroke="#000" stroke-width="2.34"/>
<path d="M569.11 778.31Q579.37 755.22 562.24 762.59" fill="none" stroke="#000" stroke-width="1.87"/>
<path d="M600.59 779.41Q593.47 753.36 608.76 739.39" fill="none" stroke="#000" stroke-width="2.08"/>
<path d="M596.06 781.38Q590.87 757.62 611.03 745.31" fill="none" stroke="#000" stroke-width="1.95"/>
<path d="M591.27 782.62Q591.19 755.92 611.8 751.6" fill="none" stroke="#000" stroke-width="2.13"/>
<path d="M586.35 783.1Q590.2 759.44 611.03 757.89" fill="none" stroke="#000" stroke-width="2.14"/>
<path d="M556.2 740.83Q582.75 752.98 610.23 742.71" fill="none" stroke="#000" stroke-width="1.51"/>
<path d="M554.99 745.05Q582.56 752.34 611.55 747.98" fill="none" stroke="#000" stroke-width="1.65"/>
<path d="M554.38 749.4Q587.46 748.68 611.74 753.41" fill="none" stroke="#000" stroke-width="1.7"/>
<path d="M580.33 720.58Q591.58 743.87 611.55 747.98" fill="none" stroke="#000" stroke-width="1.96"/>
<path d="M576.07 721.64Q589.3 741.14 610.66 744" fill="none" stroke="#000" stroke-width="1.88"/>
<path d="M571.99 723.29Q584.99 741.74 609.17 740.2" fill="none" stroke="#000" stroke-width="1.58"/>
<path d="M593.95 721.17Q584.96 743.69 559.8 751.6" fill="none" stroke="#000" stroke-width="1.9"/>
<path d="M588.55 720.22Q582.8 748.98 560.37 757.01" fill="none" stroke="#000" stroke-width="1.57"/>
<path d="M583.05 720.22Q583.15 746.51 562.05 762.18" fill="none" stroke="#000" stroke-width="1.81"/>
<path d="M563.53 729.33Q584.81 751.47 605.72 768.31" fill="none" stroke="#000" stroke-width="1"/>
<path d="M560 733.53Q587.29 748.99 608.32 764.6" fill="none" stroke="#000" stroke-width="1"/>
<path d="M570.05 724.32Q587.15 753.15 598.8 774.12" fill="none" stroke="#000" stroke-width="1"/>
<path d="M556.2 762.37Q587.13 748.23 598.8 729.08" fill="none" stroke="#000" stroke-width="1"/>
<path d="M561.67 771.85Q588.26 749.32 605.72 734.89" fill="none" stroke="#000" stroke-width="1"/>
<path d="M595.4 731.8L597.1 728.5L597.3 721.5L592.9 726.9L591.9 720.0L588.5 726.0L586.4 719.4L584.0 726.0L580.8 719.8L579.6 726.7L575.3 721.2L575.3 728.1L570.2 723.4L571.4 730.3L573.5 733.4L573.5 733.4L576.9 731.5L580.5 730.3L584.3 729.7L588.1 729.7L591.9 730.5L595.4 731.8ZM566.4 746.8L560.9 745.4L554.0 746.6L560.2 749.8L553.6 752.2L560.2 754.3L554.2 757.7L561.1 758.7L555.7 763.1L562.7 762.9L558.2 768.2L565.0 766.7L569.6 763.4L569.6 763.4L567.8 760.4L566.6 757.1L565.9 753.7L565.8 750.2L566.4 746.8ZM606.3 747.2L610.5 746.3L616.3 742.5L609.4 742.4L614.4 737.7L607.6 738.7L611.7 733.2L605.2 735.3L601.9 738.1L601.9 738.1L603.9 740.9L605.4 744.0L606.3 747.2ZM603.2 763.3L606.8 765.7L613.5 767.2L608.8 762.2L615.7 762.5L610.2 758.3L617.1 757.5L611.0 754.2L606.7 753.8L606.7 753.8L606.1 757.2L604.9 760.4L603.2 763.3Z" fill="#000"/>
<ellipse cx="633.8" cy="757.7" rx="11.2" ry="7.4" fill="none" stroke="#e8201c" stroke-width="2.4" stroke-dasharray="5.5 2.6"/>
<text x="548.4" y="686.6" font-size="6.5" text-anchor="middle" transform="rotate(-30 548.4 686.6)" fill="#222">CD8_TRM17</text>
<text x="539.2" y="813.6" font-size="6.4" text-anchor="middle" transform="rotate(37 539.2 813.6)" fill="#222">CD8_TRM1</text>
<text x="652.2" y="714.5" font-size="6.8" text-anchor="middle" transform="rotate(55 652.2 714.5)" fill="#222">Differentiated Keratinocytes</text>
<text x="659.5" y="781.5" font-size="6.7" text-anchor="middle" transform="rotate(-68 659.5 781.5)" fill="#222">Basal Keratinocytes</text>
<text x="543.1" y="733.1" font-size="4.6" text-anchor="middle" transform="rotate(20 543.1 733.1)" fill="#222">B2M</text>
<text x="551" y="719.9" font-size="4.6" text-anchor="middle" transform="rotate(40 551 719.9)" fill="#222">HSP90AA1</text>
<text x="557.6" y="714.6" font-size="4.6" text-anchor="middle" transform="rotate(70 557.6 714.6)" fill="#222">VIM</text>
<text x="574.6" y="706.8" font-size="4.6" text-anchor="middle" transform="rotate(80 574.6 706.8)" fill="#222">CD3D</text>
<text x="598.3" y="706.8" font-size="4.6" text-anchor="middle" transform="rotate(-75 598.3 706.8)" fill="#222">CD3G</text>
<text x="608.8" y="709.9" font-size="4.6" text-anchor="middle" transform="rotate(-65 608.8 709.9)" fill="#222">CD247</text>
<text x="619.3" y="722.6" font-size="4.6" text-anchor="middle" transform="rotate(-55 619.3 722.6)" fill="#222">B2M</text>
<text x="627.2" y="730.4" font-size="4.6" text-anchor="middle" transform="rotate(-25 627.2 730.4)" fill="#222">EGFR</text>
<text x="629.3" y="737" font-size="4.6" text-anchor="middle" transform="rotate(-15 629.3 737)" fill="#222">CD44</text>
<text x="629.8" y="743.6" font-size="4.6" text-anchor="middle" transform="rotate(-10 629.8 743.6)" fill="#222">FGFR3</text>
<text x="633" y="759.3" font-size="4.6" text-anchor="middle" transform="rotate(5 633 759.3)" fill="#222">B2M</text>
<text x="629" y="773" font-size="4.6" text-anchor="middle" transform="rotate(20 629 773)" fill="#222">EGFR</text>
<text x="624" y="783" font-size="4.6" text-anchor="middle" transform="rotate(35 624 783)" fill="#222">FGFR3</text>
<text x="602.2" y="804" font-size="4.6" text-anchor="middle" transform="rotate(70 602.2 804)" fill="#222">B2M</text>
<text x="573.8" y="800.1" font-size="4.6" text-anchor="middle" transform="rotate(-80 573.8 800.1)" fill="#222">HSP90AA1</text>
<text x="554.9" y="790.9" font-size="4.6" text-anchor="middle" transform="rotate(-50 554.9 790.9)" fill="#222">HLA-B</text>
<text x="540.5" y="771.9" font-size="4.6" text-anchor="middle" transform="rotate(-15 540.5 771.9)" fill="#222">CD3D</text>
<text x="539.2" y="750.9" font-size="4.6" text-anchor="middle" transform="rotate(0 539.2 750.9)" fill="#222">CD3G</text>
</svg></body></html>
